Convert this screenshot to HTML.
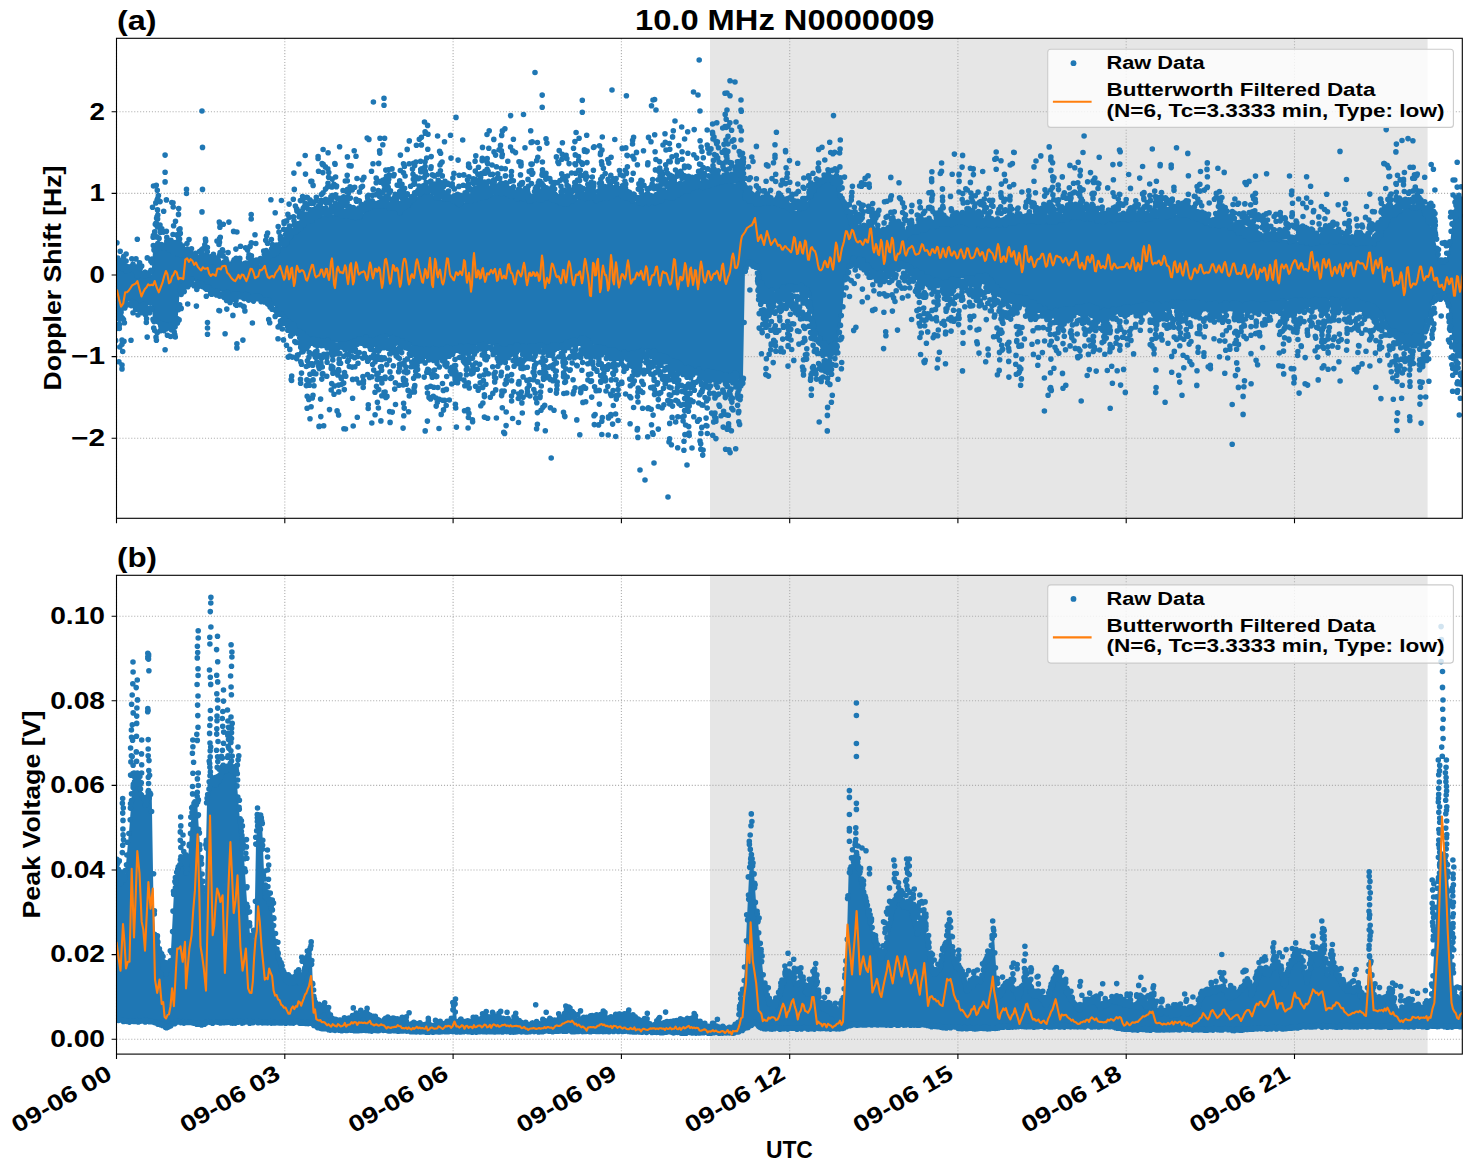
<!DOCTYPE html><html><head><meta charset="utf-8"><style>html,body{margin:0;padding:0;background:#fff;overflow:hidden;}svg{display:block;}text{font-family:"Liberation Sans",sans-serif;font-weight:bold;}</style></head><body><svg width="1472" height="1172" viewBox="0 0 1472 1172">
<rect width="1472" height="1172" fill="#fff"/>
<text x="117.0" y="30.0" font-weight="bold" font-size="27" textLength="39.5" lengthAdjust="spacingAndGlyphs">(a)</text>
<text x="635" y="30.4" font-weight="bold" font-size="29.5" textLength="299.5" lengthAdjust="spacingAndGlyphs">10.0 MHz N0000009</text>
<text x="117.0" y="567.0" font-weight="bold" font-size="27" textLength="40" lengthAdjust="spacingAndGlyphs">(b)</text>
<clipPath id="ca"><rect x="116.5" y="38.3" width="1345.8" height="479.99999999999994"/></clipPath>
<rect x="710.0" y="38.3" width="717.5999999999999" height="479.99999999999994" fill="#e6e6e6"/>
<path d="M116.5 38.3V518.3M284.8 38.3V518.3M453.1 38.3V518.3M621.4 38.3V518.3M789.7 38.3V518.3M957.9 38.3V518.3M1126.2 38.3V518.3M1294.5 38.3V518.3M116.5 111.8H1462.3M116.5 193.4H1462.3M116.5 275.0H1462.3M116.5 356.6H1462.3M116.5 438.2H1462.3" stroke="#b0b0b0" stroke-width="1.1" stroke-dasharray="1.1 1.85" fill="none"/>
<g clip-path="url(#ca)">
<path d="M110.0,267.0 L116.5,267.0 L121.5,267.0 L124.0,270.0 L130.0,270.0 L135.0,270.0 L136.5,275.0 L144.0,275.0 L151.5,275.0 L153.0,251.0 L160.0,247.0 L170.0,250.0 L177.5,254.0 L180.0,256.0 L190.0,256.0 L198.0,259.0 L205.0,261.0 L215.0,264.0 L222.5,267.0 L230.0,269.0 L241.6,269.0 L250.0,266.0 L260.0,264.0 L266.0,260.0 L272.0,256.0 L280.0,248.0 L288.0,240.0 L296.0,232.0 L304.0,224.0 L310.0,221.0 L319.0,215.6 L327.0,214.8 L335.0,214.0 L343.0,216.0 L351.0,216.0 L360.0,218.0 L367.0,208.0 L375.0,205.0 L384.0,207.0 L392.0,208.0 L400.0,212.0 L408.0,205.0 L416.0,198.0 L424.0,190.0 L432.0,194.0 L440.0,200.0 L448.0,200.0 L458.0,204.0 L467.0,202.0 L476.0,200.0 L485.0,196.0 L494.0,194.0 L503.0,192.0 L512.0,198.0 L521.0,198.0 L530.0,200.0 L539.0,200.0 L548.0,198.0 L557.0,200.0 L565.0,204.0 L574.0,200.0 L583.0,198.0 L592.0,200.0 L601.0,200.0 L610.0,196.0 L619.0,194.0 L629.0,200.0 L639.0,202.0 L649.0,204.0 L659.0,200.0 L669.0,198.0 L679.0,194.0 L688.0,190.0 L698.0,188.0 L708.0,186.0 L718.0,182.0 L728.0,180.0 L735.0,184.0 L740.0,170.0 L743.0,184.0 L745.0,196.0 L748.0,203.0 L752.0,201.0 L756.0,203.0 L760.0,203.0 L765.0,202.0 L771.0,202.0 L778.0,204.0 L784.0,207.0 L790.0,209.0 L797.0,211.0 L803.0,209.0 L808.0,201.0 L812.0,193.0 L816.0,187.0 L822.0,183.0 L827.0,181.0 L831.0,181.0 L838.0,185.0 L842.0,201.0 L845.0,209.0 L849.0,216.0 L853.0,231.0 L858.0,233.0 L863.0,233.0 L868.0,233.0 L874.0,233.0 L880.0,235.0 L886.0,237.0 L893.0,239.0 L900.0,240.0 L910.0,233.0 L921.0,231.0 L932.0,227.0 L942.0,224.0 L953.0,224.0 L964.0,224.0 L975.0,225.0 L985.0,226.0 L996.0,225.0 L1007.0,224.0 L1018.0,222.0 L1028.0,220.0 L1039.0,221.0 L1049.0,222.0 L1060.0,220.0 L1071.0,218.0 L1082.0,218.0 L1092.0,218.0 L1100.0,222.0 L1111.0,220.0 L1121.0,218.0 L1132.0,219.0 L1143.0,220.0 L1153.0,218.0 L1164.0,216.0 L1175.0,215.0 L1185.0,214.0 L1196.0,219.0 L1207.0,224.0 L1217.0,225.0 L1228.0,226.0 L1239.0,233.0 L1249.0,239.0 L1260.0,239.0 L1271.0,239.0 L1281.0,239.0 L1292.0,241.0 L1311.0,243.0 L1333.0,241.0 L1354.0,243.0 L1375.0,243.0 L1383.0,230.0 L1390.0,218.0 L1398.0,212.0 L1407.0,207.0 L1415.0,207.0 L1422.0,207.0 L1428.0,219.0 L1433.0,232.0 L1436.0,244.0 L1440.0,261.0 L1446.0,261.0 L1450.0,244.0 L1453.0,218.0 L1461.0,214.0 L1470.0,214.0 L1470.0,347.0 L1461.0,347.0 L1453.0,344.0 L1450.0,316.0 L1446.0,296.0 L1440.0,295.0 L1436.0,295.0 L1433.0,301.0 L1428.0,321.0 L1422.0,334.0 L1415.0,336.0 L1407.0,338.0 L1398.0,334.0 L1390.0,329.0 L1383.0,318.0 L1375.0,308.0 L1354.0,300.0 L1333.0,300.0 L1311.0,300.0 L1292.0,300.0 L1281.0,302.0 L1271.0,304.0 L1260.0,304.0 L1249.0,304.0 L1239.0,304.0 L1228.0,304.0 L1217.0,304.0 L1207.0,304.0 L1196.0,303.0 L1185.0,302.0 L1175.0,303.0 L1164.0,304.0 L1153.0,304.0 L1143.0,304.0 L1132.0,306.0 L1121.0,308.0 L1111.0,310.0 L1100.0,312.0 L1092.0,306.0 L1082.0,307.0 L1071.0,308.0 L1060.0,310.0 L1049.0,312.0 L1039.0,306.0 L1028.0,299.0 L1018.0,297.0 L1007.0,295.0 L996.0,286.0 L985.0,276.0 L975.0,277.0 L964.0,278.0 L953.0,280.0 L942.0,282.0 L932.0,279.0 L921.0,274.0 L910.0,267.0 L900.0,261.0 L893.0,266.0 L886.0,271.0 L880.0,273.0 L874.0,273.0 L868.0,267.0 L863.0,261.0 L858.0,259.0 L853.0,259.0 L849.0,270.0 L845.0,278.0 L842.0,314.0 L838.0,342.0 L831.0,346.0 L827.0,346.0 L822.0,342.0 L816.0,334.0 L812.0,316.0 L808.0,292.0 L803.0,286.0 L797.0,286.0 L790.0,286.0 L784.0,288.0 L778.0,291.0 L771.0,291.0 L765.0,288.0 L760.0,281.0 L756.0,266.0 L752.0,262.0 L748.0,264.0 L745.0,268.0 L743.0,376.0 L740.0,384.0 L735.0,372.0 L728.0,376.0 L718.0,374.0 L708.0,372.0 L698.0,370.0 L688.0,368.0 L679.0,364.0 L669.0,358.0 L659.0,354.0 L649.0,350.0 L639.0,352.0 L629.0,354.0 L619.0,352.0 L610.0,350.0 L601.0,348.0 L592.0,344.0 L583.0,338.0 L574.0,340.0 L565.0,344.0 L557.0,344.0 L548.0,346.0 L539.0,346.0 L530.0,346.0 L521.0,346.0 L512.0,346.0 L503.0,350.0 L494.0,346.0 L485.0,343.0 L476.0,346.0 L467.0,346.0 L458.0,346.0 L448.0,348.0 L440.0,349.0 L432.0,349.0 L424.0,349.0 L416.0,348.0 L408.0,344.0 L400.0,340.0 L392.0,338.0 L384.0,337.0 L375.0,340.0 L367.0,338.0 L360.0,338.0 L351.0,344.0 L343.0,344.0 L335.0,342.0 L327.0,340.9 L319.0,341.3 L310.0,339.0 L304.0,336.0 L296.0,328.0 L288.0,320.0 L280.0,312.0 L272.0,304.0 L266.0,299.0 L260.0,297.0 L250.0,296.0 L241.6,294.0 L230.0,294.0 L222.5,292.0 L215.0,291.0 L205.0,286.0 L198.0,282.0 L190.0,280.0 L180.0,288.0 L177.5,321.0 L170.0,326.0 L160.0,324.0 L153.0,319.0 L151.5,305.0 L144.0,305.0 L136.5,305.0 L135.0,301.0 L130.0,301.0 L124.0,302.0 L121.5,312.0 L116.5,312.0 L110.0,312.0Z" fill="#1f77b4"/>
<path d="M115.9 265.4h0M116.8 314.2h0M117.0 265.5h0M116.4 313.9h0M118.3 266.8h0M117.2 315.2h0M118.2 266.9h0M119.4 316.7h0M121.0 267.8h0M120.3 313.3h0M120.3 262.1h0M121.1 316.6h0M121.4 264.1h0M121.1 312.2h0M122.9 268.9h0M123.0 307.2h0M124.0 269.0h0M123.9 305.3h0M126.0 271.0h0M125.7 302.6h0M125.6 266.4h0M125.6 306.2h0M127.5 267.4h0M127.7 304.2h0M128.9 270.1h0M127.0 305.1h0M129.8 267.8h0M130.0 303.8h0M129.1 268.8h0M130.6 304.4h0M130.2 267.0h0M131.9 301.5h0M131.2 266.5h0M131.2 305.6h0M133.6 266.1h0M133.1 303.3h0M133.4 269.4h0M133.3 302.1h0M134.2 267.5h0M134.4 304.4h0M136.9 273.2h0M135.6 303.4h0M136.4 272.4h0M137.7 306.1h0M137.2 275.9h0M137.4 308.5h0M139.5 272.0h0M138.6 309.6h0M139.2 273.5h0M139.5 306.4h0M140.7 272.7h0M141.9 307.1h0M142.1 275.2h0M141.4 309.1h0M143.8 274.9h0M142.5 308.9h0M144.5 275.6h0M143.4 304.3h0M145.8 273.6h0M144.8 309.4h0M145.1 275.8h0M145.5 305.8h0M146.5 274.9h0M147.2 308.2h0M147.4 274.3h0M147.1 308.6h0M149.1 275.1h0M149.2 308.3h0M150.8 271.2h0M149.0 308.4h0M150.9 270.4h0M150.4 307.8h0M152.1 262.8h0M151.7 309.3h0M154.0 249.9h0M153.4 320.5h0M153.3 245.6h0M153.0 319.3h0M155.4 250.6h0M154.0 321.6h0M156.0 248.7h0M155.6 320.1h0M156.2 247.0h0M157.5 321.5h0M158.5 247.4h0M158.6 322.1h0M158.7 246.7h0M159.8 323.1h0M159.8 246.7h0M160.7 325.6h0M161.2 244.6h0M161.2 325.5h0M161.2 246.4h0M163.0 324.1h0M163.5 245.2h0M163.5 326.1h0M163.9 248.2h0M163.2 325.3h0M164.1 247.1h0M165.0 328.6h0M166.4 246.8h0M166.2 324.7h0M166.5 244.2h0M166.6 326.3h0M167.4 245.4h0M168.8 326.6h0M168.9 250.1h0M168.7 326.8h0M169.4 247.6h0M170.6 325.5h0M171.8 247.8h0M171.2 328.4h0M171.3 249.0h0M172.7 324.6h0M173.4 252.3h0M172.6 328.0h0M173.9 248.8h0M173.4 325.8h0M175.3 250.6h0M174.6 322.6h0M177.0 250.9h0M175.1 326.8h0M177.7 249.0h0M177.4 322.9h0M177.6 254.1h0M177.0 318.6h0M178.9 250.3h0M179.7 304.8h0M179.3 251.3h0M180.3 290.3h0M181.3 254.9h0M181.6 286.4h0M182.4 252.2h0M182.0 290.3h0M182.0 253.8h0M183.4 289.5h0M183.5 253.1h0M184.4 286.7h0M185.2 255.5h0M184.8 284.2h0M186.8 251.5h0M186.9 283.9h0M186.3 253.7h0M187.3 281.9h0M187.8 254.4h0M188.8 281.8h0M189.9 253.8h0M189.3 284.6h0M190.4 255.9h0M190.3 280.7h0M190.4 256.8h0M192.0 279.4h0M192.1 256.5h0M191.6 280.0h0M193.7 254.2h0M192.2 283.1h0M194.1 257.1h0M194.0 285.8h0M195.6 253.3h0M195.6 285.2h0M195.7 258.0h0M195.3 285.6h0M197.0 258.0h0M197.7 282.6h0M198.9 257.0h0M198.9 286.5h0M198.4 257.4h0M198.6 283.2h0M200.3 257.7h0M200.7 284.8h0M200.6 257.1h0M201.7 283.3h0M201.4 260.2h0M202.9 286.1h0M203.1 256.6h0M203.1 286.8h0M204.2 255.9h0M204.9 287.3h0M204.8 260.8h0M205.1 288.1h0M206.4 256.7h0M206.1 289.0h0M207.9 262.1h0M206.5 289.2h0M207.3 259.5h0M208.6 287.1h0M209.0 259.1h0M208.4 289.3h0M210.9 258.3h0M210.6 293.4h0M210.4 259.2h0M211.4 292.1h0M211.7 261.8h0M211.2 290.1h0M212.2 261.5h0M212.5 293.8h0M214.1 261.3h0M213.8 293.0h0M215.1 260.0h0M214.4 292.2h0M216.3 262.6h0M216.7 292.5h0M217.7 261.2h0M217.5 291.4h0M218.8 262.1h0M217.6 290.9h0M218.4 266.6h0M219.8 295.7h0M219.5 265.4h0M219.5 296.1h0M221.7 263.9h0M221.6 296.0h0M221.8 265.9h0M221.0 295.7h0M223.4 267.6h0M223.9 296.4h0M224.0 266.9h0M224.0 293.3h0M224.4 263.1h0M224.2 297.4h0M226.1 266.0h0M226.1 297.1h0M226.4 264.4h0M227.7 292.3h0M228.9 264.0h0M227.1 292.8h0M228.9 268.3h0M228.7 295.9h0M230.0 266.6h0M230.2 298.9h0M231.4 269.1h0M230.4 296.3h0M232.5 266.4h0M231.4 298.0h0M233.0 264.1h0M233.8 294.2h0M234.4 269.2h0M234.3 296.6h0M235.2 267.0h0M236.0 294.2h0M235.5 269.5h0M236.5 294.3h0M237.6 266.4h0M237.8 293.7h0M238.4 268.6h0M238.5 296.6h0M239.4 264.4h0M238.7 296.2h0M239.0 266.1h0M240.3 295.3h0M240.5 269.7h0M241.3 297.0h0M242.3 267.3h0M242.1 296.8h0M244.0 267.4h0M243.4 294.8h0M245.0 263.3h0M244.2 295.1h0M244.5 265.2h0M244.1 298.6h0M245.8 263.0h0M245.5 294.6h0M247.1 265.1h0M247.9 296.9h0M249.0 265.5h0M248.6 300.1h0M249.2 265.9h0M248.1 295.2h0M249.3 263.8h0M249.3 298.0h0M251.2 261.2h0M251.9 298.6h0M252.1 264.2h0M251.7 299.5h0M253.3 263.8h0M252.6 297.0h0M253.6 260.3h0M253.5 301.1h0M254.3 264.5h0M254.8 296.1h0M256.5 260.1h0M257.0 295.9h0M256.1 265.0h0M256.9 298.8h0M258.9 260.9h0M258.0 296.2h0M259.4 262.0h0M260.0 297.0h0M260.2 259.7h0M260.2 299.3h0M260.4 258.6h0M261.1 301.6h0M261.9 261.7h0M261.9 301.1h0M263.2 259.5h0M263.6 299.8h0M265.0 262.0h0M264.5 301.9h0M264.2 261.0h0M265.6 299.9h0M265.7 256.6h0M266.4 300.6h0M267.2 258.1h0M267.5 303.7h0M267.5 259.5h0M268.8 300.4h0M268.1 253.4h0M268.5 303.9h0M270.2 252.9h0M270.1 306.9h0M270.2 255.7h0M271.1 304.4h0M271.7 253.9h0M271.4 306.9h0M273.5 255.0h0M272.1 309.3h0M274.6 252.7h0M274.5 309.7h0M274.8 249.5h0M275.6 309.8h0M276.3 252.9h0M275.7 309.7h0M277.5 251.5h0M276.9 311.8h0M277.2 250.3h0M277.2 314.5h0M279.1 246.9h0M279.4 314.2h0M280.6 243.5h0M279.4 313.0h0M280.2 243.8h0M281.4 313.8h0M281.6 241.9h0M281.7 314.6h0M282.7 240.7h0M283.4 316.6h0M284.8 244.6h0M284.8 318.4h0M285.6 239.8h0M284.6 319.6h0M286.9 242.4h0M285.5 320.8h0M286.7 238.2h0M286.8 321.7h0M287.4 238.4h0M288.6 321.8h0M289.7 237.4h0M288.4 321.4h0M290.8 234.7h0M289.0 323.9h0M291.1 235.4h0M291.9 324.1h0M292.6 231.4h0M292.1 324.3h0M292.2 230.5h0M293.5 324.6h0M293.2 232.8h0M293.3 326.5h0M295.3 229.5h0M294.4 327.4h0M296.0 231.6h0M295.8 331.0h0M297.9 230.0h0M297.0 330.8h0M298.4 229.2h0M298.8 332.5h0M299.7 228.0h0M299.7 331.2h0M300.7 228.3h0M300.9 333.2h0M301.0 226.3h0M301.6 335.5h0M301.8 221.9h0M302.5 333.1h0M302.8 221.0h0M302.4 337.5h0M303.6 224.8h0M303.1 339.1h0M304.2 222.4h0M305.6 340.4h0M305.1 220.8h0M306.2 336.5h0M306.1 218.2h0M306.4 341.2h0M307.5 221.3h0M308.2 341.7h0M308.4 218.2h0M308.3 339.0h0M309.6 219.3h0M310.6 341.1h0M310.5 220.7h0M311.8 342.2h0M312.1 220.5h0M312.0 343.2h0M312.1 219.9h0M313.6 342.5h0M314.1 216.7h0M313.5 339.1h0M315.3 214.4h0M314.0 342.4h0M315.7 217.2h0M316.4 341.9h0M316.3 212.7h0M316.6 344.2h0M318.7 214.3h0M318.3 340.1h0M318.5 213.8h0M318.3 341.7h0M319.0 215.4h0M320.7 341.3h0M320.2 212.0h0M321.4 345.6h0M322.0 213.1h0M322.9 342.6h0M323.7 212.0h0M323.6 343.6h0M324.8 210.6h0M324.7 344.8h0M325.1 213.2h0M324.3 341.0h0M325.6 211.8h0M325.2 344.1h0M326.9 214.1h0M326.7 341.8h0M327.2 212.1h0M327.9 340.2h0M329.7 213.5h0M328.0 343.9h0M330.4 210.9h0M330.1 343.6h0M330.0 215.3h0M331.6 345.2h0M332.2 211.0h0M331.8 343.3h0M332.6 211.2h0M332.8 342.7h0M333.5 210.3h0M334.5 344.9h0M335.9 212.4h0M335.4 345.0h0M336.7 209.8h0M335.3 346.7h0M337.4 213.7h0M336.4 345.1h0M338.7 213.3h0M337.2 346.4h0M338.3 210.7h0M338.8 347.6h0M340.8 212.8h0M340.0 344.4h0M341.5 215.4h0M340.8 346.5h0M341.8 210.8h0M341.8 344.6h0M344.0 215.7h0M343.3 345.3h0M343.0 213.0h0M343.7 345.1h0M344.2 213.3h0M345.0 344.3h0M346.7 214.7h0M345.3 344.4h0M347.8 214.3h0M346.7 346.0h0M347.3 215.3h0M349.0 345.9h0M349.4 216.0h0M348.4 343.3h0M350.3 212.2h0M349.2 347.5h0M351.2 215.2h0M350.7 343.4h0M351.7 214.0h0M351.2 342.5h0M352.3 216.9h0M353.1 344.3h0M354.1 213.3h0M354.8 341.0h0M355.6 215.5h0M354.2 341.4h0M355.6 217.5h0M355.5 342.2h0M357.7 213.4h0M357.1 344.5h0M357.1 213.6h0M359.0 338.7h0M359.3 214.6h0M359.3 339.2h0M359.8 216.6h0M360.6 342.9h0M360.4 214.4h0M360.3 340.7h0M362.1 211.2h0M362.0 341.4h0M363.1 210.7h0M363.3 342.8h0M364.3 208.2h0M364.9 339.4h0M364.9 208.3h0M365.2 338.9h0M366.5 208.9h0M366.0 337.0h0M367.7 208.1h0M366.8 340.4h0M368.1 208.1h0M368.1 340.1h0M368.9 207.7h0M368.6 343.2h0M370.5 207.3h0M370.5 340.2h0M371.5 203.3h0M371.2 343.6h0M371.2 203.8h0M372.0 341.9h0M372.1 204.9h0M373.1 343.1h0M373.6 202.7h0M373.5 344.3h0M375.8 205.8h0M375.3 339.8h0M375.8 205.1h0M375.4 340.2h0M377.1 205.9h0M376.2 339.6h0M377.2 203.9h0M378.9 344.0h0M378.5 202.7h0M378.6 343.3h0M380.8 206.0h0M379.8 341.2h0M381.2 201.6h0M380.1 337.6h0M381.6 204.5h0M382.9 336.8h0M382.9 203.0h0M382.6 336.8h0M384.8 203.2h0M384.7 339.9h0M384.9 203.2h0M385.8 336.2h0M385.4 206.0h0M385.4 337.0h0M386.1 203.0h0M387.5 340.5h0M388.8 207.7h0M388.4 341.7h0M389.4 208.3h0M388.9 342.2h0M389.4 204.6h0M390.4 341.6h0M390.4 204.3h0M391.3 338.1h0M391.7 207.0h0M392.8 339.5h0M392.5 205.3h0M393.9 339.2h0M393.6 207.8h0M393.2 337.6h0M394.9 207.7h0M395.1 343.5h0M396.2 206.7h0M395.5 339.2h0M396.2 207.2h0M397.5 342.8h0M397.6 209.3h0M397.4 339.1h0M400.0 206.7h0M398.9 340.2h0M399.8 212.6h0M400.0 343.9h0M401.1 210.0h0M400.7 341.6h0M402.6 208.4h0M402.0 340.9h0M403.4 207.5h0M403.9 345.5h0M404.6 204.5h0M404.2 345.6h0M404.9 207.3h0M405.6 342.8h0M405.5 204.7h0M405.4 344.5h0M407.0 201.1h0M407.2 344.2h0M408.1 205.2h0M407.4 348.1h0M408.0 202.1h0M408.9 346.8h0M409.5 203.0h0M409.1 344.6h0M411.1 200.6h0M411.6 349.1h0M411.3 198.4h0M411.1 349.1h0M413.2 198.8h0M412.5 348.0h0M413.2 199.7h0M413.3 350.5h0M414.3 198.0h0M415.7 347.8h0M415.1 195.5h0M415.7 351.7h0M417.9 192.3h0M417.0 348.6h0M419.0 191.9h0M417.9 348.8h0M418.1 191.4h0M419.8 352.5h0M419.8 190.8h0M419.8 353.0h0M420.1 194.0h0M421.5 349.2h0M421.5 188.5h0M422.1 352.3h0M422.9 191.6h0M422.7 351.9h0M425.0 188.7h0M423.1 351.6h0M425.3 185.9h0M424.7 349.8h0M426.7 189.5h0M426.8 351.2h0M426.8 191.6h0M426.8 349.3h0M427.4 189.1h0M427.4 350.7h0M428.3 188.7h0M428.4 351.2h0M429.6 190.7h0M431.0 349.9h0M431.7 189.7h0M430.8 353.6h0M432.4 191.2h0M431.5 353.9h0M432.4 191.3h0M432.8 348.5h0M434.4 192.1h0M433.7 353.1h0M435.9 193.4h0M435.5 349.7h0M436.8 192.1h0M435.6 351.7h0M436.2 198.0h0M436.7 349.4h0M438.0 193.8h0M437.8 352.6h0M438.1 195.2h0M439.2 353.8h0M439.6 197.5h0M440.1 353.2h0M441.4 196.6h0M441.5 349.9h0M441.3 196.2h0M441.6 349.5h0M442.8 197.3h0M443.7 352.3h0M443.6 197.1h0M443.4 353.3h0M444.0 198.8h0M445.1 348.5h0M447.0 196.8h0M446.3 347.7h0M446.4 199.1h0M447.3 347.4h0M448.7 196.4h0M448.3 352.5h0M448.9 197.8h0M448.1 350.5h0M449.7 198.8h0M449.6 351.6h0M450.8 199.1h0M450.3 348.4h0M451.5 197.2h0M451.7 349.7h0M452.3 200.5h0M453.4 348.7h0M454.4 197.5h0M453.8 349.6h0M454.1 200.2h0M454.1 348.6h0M456.2 201.0h0M455.7 349.9h0M456.0 200.7h0M457.8 347.8h0M457.5 203.0h0M457.4 348.2h0M459.2 204.5h0M458.7 347.5h0M460.9 203.2h0M460.3 347.3h0M460.8 200.8h0M460.6 346.0h0M462.8 200.4h0M462.8 350.8h0M462.3 200.9h0M462.6 348.8h0M465.0 198.6h0M463.4 349.6h0M465.4 198.9h0M464.0 347.7h0M465.8 198.7h0M466.0 347.1h0M467.1 200.7h0M467.1 346.0h0M468.9 198.8h0M467.7 345.7h0M468.6 200.9h0M469.4 346.9h0M470.9 201.3h0M469.3 347.3h0M471.0 199.5h0M470.7 349.3h0M472.5 199.1h0M471.5 349.5h0M472.6 196.7h0M473.0 350.2h0M473.1 195.9h0M473.2 346.8h0M474.2 197.9h0M475.5 348.1h0M475.3 200.2h0M476.7 350.7h0M476.5 197.6h0M477.6 348.3h0M478.4 195.6h0M478.4 348.4h0M478.7 198.2h0M479.7 345.0h0M480.1 195.7h0M480.4 345.9h0M481.7 197.6h0M480.3 347.1h0M482.3 193.7h0M481.4 348.9h0M483.2 197.5h0M483.9 347.9h0M484.4 194.0h0M484.3 346.0h0M485.9 196.9h0M484.1 343.7h0M485.2 191.0h0M485.6 343.9h0M488.0 191.3h0M486.7 348.5h0M488.1 193.2h0M487.7 347.1h0M489.6 195.1h0M488.6 347.0h0M490.2 194.5h0M491.0 347.3h0M491.4 192.9h0M491.6 349.1h0M491.4 190.1h0M492.9 348.8h0M493.0 189.9h0M492.6 350.6h0M494.1 189.9h0M494.3 349.4h0M494.5 191.7h0M494.7 349.9h0M495.1 188.9h0M496.8 350.0h0M496.2 189.4h0M497.0 346.4h0M497.4 193.3h0M498.0 350.3h0M499.6 190.3h0M498.1 349.9h0M500.3 191.4h0M499.6 348.0h0M501.7 193.4h0M500.9 349.1h0M502.4 188.3h0M501.1 353.5h0M502.2 187.4h0M502.7 350.5h0M503.6 190.8h0M503.0 353.3h0M505.9 188.4h0M505.1 349.3h0M506.6 193.4h0M505.8 348.8h0M507.7 194.3h0M508.0 352.6h0M508.9 192.7h0M508.4 351.3h0M509.8 191.1h0M509.2 351.0h0M509.8 193.9h0M510.3 347.0h0M510.7 196.2h0M510.7 349.8h0M512.8 194.9h0M511.2 349.0h0M513.5 194.3h0M513.5 347.7h0M514.4 194.1h0M513.2 350.1h0M514.7 195.6h0M514.0 348.0h0M515.8 194.9h0M516.1 345.3h0M516.4 198.3h0M516.6 346.5h0M517.2 198.9h0M517.9 345.2h0M518.4 195.4h0M519.4 349.9h0M519.5 197.1h0M520.9 349.1h0M520.4 195.1h0M522.0 350.1h0M522.3 195.5h0M522.3 349.7h0M523.2 198.8h0M523.7 347.2h0M524.0 197.1h0M523.2 346.0h0M525.4 196.6h0M525.3 348.5h0M525.8 195.5h0M526.2 347.6h0M527.0 194.5h0M527.3 348.3h0M528.2 198.1h0M528.9 350.1h0M528.9 200.7h0M529.5 349.1h0M530.5 200.9h0M529.8 345.8h0M530.3 200.9h0M531.0 349.6h0M532.7 198.9h0M532.9 346.0h0M533.6 198.1h0M534.0 350.6h0M534.7 199.3h0M533.5 346.2h0M534.9 198.2h0M535.7 349.8h0M535.6 198.9h0M535.1 347.7h0M537.6 197.9h0M536.5 346.2h0M538.7 199.6h0M538.1 345.6h0M539.6 195.9h0M538.7 350.4h0M539.1 196.9h0M540.7 346.0h0M540.2 195.6h0M540.8 345.9h0M542.2 199.7h0M541.1 345.1h0M542.4 197.9h0M543.8 346.6h0M543.4 197.9h0M543.9 350.9h0M544.7 195.6h0M545.3 349.3h0M546.2 197.6h0M545.4 350.2h0M547.4 196.0h0M546.3 350.3h0M548.9 196.7h0M547.7 349.8h0M550.0 197.4h0M549.5 348.6h0M549.6 195.9h0M549.3 346.8h0M550.8 198.6h0M550.8 347.6h0M552.0 199.5h0M551.7 345.9h0M552.5 197.6h0M552.6 344.7h0M553.6 199.5h0M554.4 346.9h0M555.9 196.9h0M555.5 345.8h0M555.9 195.2h0M555.8 347.5h0M556.9 200.7h0M556.6 344.8h0M558.3 197.0h0M557.8 348.2h0M559.8 197.5h0M558.8 347.0h0M560.6 201.6h0M560.2 345.7h0M560.2 202.4h0M560.2 346.8h0M561.7 201.8h0M562.3 346.9h0M563.8 203.7h0M562.0 345.2h0M563.9 200.7h0M563.9 347.1h0M565.3 202.6h0M565.9 343.1h0M567.0 200.9h0M566.7 344.7h0M567.4 204.1h0M566.1 345.3h0M567.8 201.6h0M567.4 341.7h0M568.4 199.4h0M568.3 344.9h0M570.5 197.3h0M569.3 342.9h0M571.2 200.8h0M570.5 341.5h0M572.5 200.5h0M571.2 343.1h0M572.0 200.6h0M573.9 340.1h0M573.0 197.1h0M574.1 341.8h0M574.2 199.5h0M574.6 341.7h0M575.2 198.0h0M575.3 344.0h0M577.0 196.1h0M577.6 342.9h0M577.8 194.4h0M577.4 341.4h0M579.1 196.6h0M579.7 343.3h0M580.7 194.6h0M580.9 340.5h0M580.8 197.1h0M581.7 337.7h0M581.8 193.3h0M581.3 338.3h0M583.5 197.3h0M582.3 339.8h0M583.1 193.9h0M583.6 337.9h0M585.3 198.5h0M584.1 341.8h0M585.2 195.2h0M585.2 339.5h0M586.7 196.8h0M587.3 340.3h0M588.9 197.5h0M588.0 340.9h0M588.8 196.1h0M589.5 345.5h0M589.7 197.1h0M590.0 345.5h0M590.9 197.5h0M590.1 343.3h0M591.1 198.2h0M592.1 346.6h0M592.4 195.6h0M592.7 347.6h0M594.0 196.4h0M594.5 347.0h0M594.0 197.4h0M595.9 350.3h0M596.2 200.8h0M595.7 347.2h0M596.7 196.8h0M597.2 347.7h0M597.6 198.0h0M598.0 347.1h0M598.1 195.6h0M598.5 350.5h0M600.6 197.6h0M600.7 350.1h0M600.6 199.1h0M600.2 347.1h0M602.7 196.5h0M601.6 348.3h0M603.6 198.0h0M602.1 348.9h0M603.1 197.4h0M604.1 348.1h0M605.3 193.4h0M605.9 349.4h0M606.2 192.8h0M606.5 351.6h0M607.4 198.2h0M607.8 353.9h0M608.6 194.5h0M608.5 352.3h0M608.9 194.1h0M608.2 352.9h0M610.5 191.4h0M609.2 350.0h0M611.3 194.1h0M610.2 354.5h0M611.6 196.3h0M612.1 349.9h0M612.4 192.8h0M613.1 350.6h0M613.2 195.4h0M613.9 355.7h0M614.9 192.2h0M615.3 350.5h0M616.0 193.8h0M615.8 351.7h0M616.2 193.9h0M616.3 353.0h0M617.4 191.3h0M617.3 354.7h0M619.2 192.1h0M618.8 353.6h0M620.7 191.7h0M620.2 354.3h0M622.0 192.2h0M621.4 356.0h0M621.5 195.2h0M622.1 356.1h0M622.1 196.3h0M622.8 353.5h0M623.9 195.7h0M624.1 352.1h0M625.8 195.3h0M625.0 356.8h0M626.5 193.8h0M625.6 353.3h0M626.1 198.0h0M627.1 355.3h0M627.7 195.3h0M628.9 354.2h0M629.6 195.6h0M629.6 357.7h0M629.4 198.4h0M630.2 358.1h0M631.5 198.9h0M631.8 353.1h0M632.4 197.8h0M632.9 354.1h0M632.6 200.9h0M633.5 356.6h0M633.5 196.1h0M634.1 356.5h0M634.6 197.7h0M634.3 354.9h0M635.5 198.1h0M635.6 354.5h0M637.7 197.6h0M637.7 352.3h0M638.2 200.1h0M638.5 354.0h0M639.3 202.5h0M639.6 355.4h0M639.1 202.8h0M639.7 352.1h0M640.5 200.1h0M640.7 352.2h0M642.9 200.6h0M642.1 354.3h0M642.5 203.5h0M642.2 350.6h0M644.3 198.4h0M644.8 355.4h0M645.1 198.9h0M646.0 353.9h0M646.7 198.8h0M646.3 355.2h0M646.1 202.0h0M648.0 351.3h0M648.7 203.5h0M648.0 354.7h0M649.1 200.1h0M649.1 352.9h0M650.0 199.8h0M650.4 352.9h0M651.0 198.7h0M651.0 352.5h0M652.9 201.2h0M651.3 354.4h0M652.7 201.6h0M653.9 350.7h0M654.9 202.6h0M654.7 351.4h0M654.0 199.5h0M655.2 353.3h0M656.2 199.9h0M656.9 357.3h0M657.0 201.6h0M656.1 357.5h0M658.7 201.1h0M657.0 358.4h0M659.7 199.1h0M659.0 355.5h0M660.5 199.6h0M659.0 359.0h0M661.6 200.5h0M661.7 357.4h0M661.7 196.5h0M661.0 355.6h0M662.5 197.7h0M663.1 358.6h0M664.3 196.7h0M663.5 355.7h0M664.4 194.7h0M664.5 358.5h0M666.6 195.6h0M665.5 357.9h0M666.5 196.5h0M666.5 356.9h0M667.4 194.6h0M667.6 360.6h0M669.5 197.0h0M669.6 359.8h0M669.2 197.2h0M669.5 362.3h0M670.8 198.1h0M670.7 362.1h0M672.8 197.7h0M671.8 364.0h0M673.6 196.1h0M672.7 360.7h0M673.8 192.7h0M674.2 361.6h0M675.0 195.5h0M674.0 363.6h0M675.8 190.6h0M676.8 366.3h0M676.4 195.1h0M677.9 362.2h0M677.7 195.0h0M677.3 364.1h0M679.9 190.2h0M678.3 364.9h0M680.8 192.9h0M680.9 366.7h0M680.7 188.8h0M680.5 364.3h0M681.1 188.8h0M681.7 370.0h0M682.6 188.3h0M682.2 367.6h0M684.1 190.2h0M684.5 368.1h0M685.9 186.8h0M684.4 371.2h0M685.6 190.5h0M686.8 369.1h0M686.3 187.4h0M687.1 370.8h0M688.6 190.8h0M687.9 369.4h0M689.7 187.6h0M688.4 367.5h0M691.0 184.7h0M690.5 371.0h0M690.1 185.4h0M690.3 369.2h0M691.4 184.3h0M691.4 369.0h0M693.0 187.9h0M692.9 372.9h0M693.0 185.6h0M693.1 372.6h0M695.2 185.8h0M694.9 370.7h0M695.6 185.5h0M696.8 371.1h0M696.8 186.4h0M696.9 372.8h0M698.8 184.4h0M698.9 369.9h0M699.8 183.8h0M699.0 369.3h0M699.6 183.6h0M700.4 374.0h0M701.2 183.3h0M701.9 373.9h0M701.2 186.3h0M701.7 372.4h0M703.0 187.5h0M703.0 373.7h0M703.0 184.8h0M703.5 372.8h0M705.3 184.4h0M704.2 373.4h0M706.0 185.2h0M706.9 374.9h0M706.9 181.7h0M707.6 375.4h0M708.7 185.8h0M707.5 371.6h0M709.0 183.2h0M709.1 371.5h0M710.0 183.1h0M709.6 372.4h0M711.0 181.9h0M710.4 376.3h0M712.7 184.2h0M713.0 372.3h0M713.4 183.8h0M713.4 373.1h0M714.6 179.7h0M714.6 376.4h0M714.5 183.7h0M714.0 375.3h0M715.7 182.6h0M716.2 373.1h0M717.9 181.3h0M716.1 374.8h0M717.2 182.9h0M718.7 377.1h0M718.4 181.0h0M719.5 373.3h0M720.2 177.4h0M720.5 379.0h0M721.7 181.0h0M721.6 374.4h0M722.1 181.9h0M722.3 376.8h0M722.8 178.1h0M722.0 379.0h0M724.6 177.2h0M724.3 375.5h0M725.4 178.7h0M724.6 378.8h0M725.4 179.3h0M726.4 374.9h0M726.7 180.8h0M727.8 379.1h0M728.9 178.7h0M728.9 376.4h0M728.7 177.2h0M729.0 377.5h0M729.1 181.3h0M730.1 377.0h0M731.5 178.2h0M730.4 375.8h0M731.5 179.3h0M731.1 378.4h0M732.7 181.0h0M733.9 374.3h0M733.8 180.9h0M733.5 374.7h0M735.9 179.7h0M734.9 372.9h0M736.5 179.5h0M736.3 373.8h0M737.8 174.9h0M737.1 375.8h0M738.1 171.7h0M738.5 383.9h0M738.3 171.1h0M738.5 382.3h0M740.5 166.9h0M740.5 385.1h0M741.4 172.4h0M740.9 385.7h0M741.9 180.1h0M742.8 383.3h0M742.1 180.6h0M743.4 378.4h0M743.3 187.6h0M744.1 322.5h0M744.8 194.9h0M745.4 269.3h0M745.1 197.6h0M745.3 271.3h0M746.9 195.8h0M746.1 268.0h0M747.9 198.6h0M748.9 263.9h0M749.0 201.0h0M748.6 262.6h0M749.2 198.8h0M749.4 262.8h0M751.0 199.0h0M750.8 262.2h0M751.5 200.7h0M752.4 264.3h0M752.7 199.1h0M752.9 266.1h0M754.2 199.5h0M753.6 264.4h0M754.9 200.3h0M755.8 267.3h0M755.8 203.4h0M757.0 266.3h0M756.8 202.0h0M757.5 273.0h0M758.4 203.7h0M758.3 274.5h0M758.9 201.9h0M758.5 277.6h0M760.1 203.9h0M759.7 281.7h0M760.0 200.3h0M761.5 285.8h0M762.2 198.9h0M761.8 282.8h0M762.4 202.9h0M762.1 286.7h0M764.6 202.2h0M763.8 288.1h0M765.4 201.6h0M765.5 289.5h0M765.5 201.2h0M766.1 290.2h0M768.0 197.8h0M767.6 292.1h0M768.5 202.7h0M767.5 291.1h0M769.1 200.0h0M768.3 291.2h0M770.8 201.0h0M769.6 290.7h0M770.8 197.9h0M771.2 293.2h0M772.1 203.2h0M772.1 290.3h0M772.7 202.1h0M772.2 294.2h0M774.4 202.0h0M774.7 293.7h0M774.5 200.3h0M775.1 295.9h0M775.7 202.4h0M775.3 294.1h0M777.7 204.3h0M776.5 294.9h0M777.2 199.5h0M778.6 291.6h0M778.5 202.4h0M779.4 295.3h0M780.6 205.2h0M779.4 290.8h0M781.4 202.5h0M781.8 293.2h0M781.9 202.9h0M781.9 289.1h0M783.1 205.2h0M784.0 292.2h0M783.4 205.7h0M783.3 287.2h0M784.7 205.0h0M784.9 287.7h0M786.8 206.7h0M785.3 290.2h0M787.4 204.3h0M787.8 286.8h0M787.5 205.5h0M787.5 287.4h0M788.1 207.8h0M788.1 286.3h0M790.1 207.5h0M789.2 290.7h0M790.7 210.2h0M791.2 285.8h0M791.1 205.2h0M791.0 286.8h0M792.4 206.5h0M793.3 286.8h0M793.6 207.9h0M793.6 287.6h0M794.7 207.6h0M794.5 289.2h0M795.5 205.8h0M795.6 287.4h0M796.5 206.7h0M797.7 288.2h0M798.0 207.5h0M798.8 286.5h0M799.2 209.3h0M799.4 288.0h0M799.8 207.3h0M800.0 288.2h0M801.1 207.9h0M801.6 285.6h0M801.4 204.5h0M801.6 290.8h0M803.6 207.7h0M802.6 289.9h0M804.7 207.4h0M804.4 288.0h0M805.5 203.5h0M804.8 290.1h0M806.8 205.1h0M806.8 289.6h0M806.1 199.1h0M807.9 292.5h0M808.0 197.9h0M808.7 293.9h0M810.0 194.5h0M810.0 302.9h0M809.3 194.3h0M810.3 308.3h0M811.1 195.6h0M810.9 310.4h0M812.2 191.5h0M811.3 318.2h0M813.8 190.5h0M812.4 322.8h0M814.1 187.0h0M814.2 326.2h0M814.0 184.8h0M815.3 333.2h0M815.1 186.6h0M815.7 333.3h0M817.1 181.9h0M817.3 338.8h0M818.6 185.0h0M818.5 341.3h0M818.1 184.8h0M818.3 341.8h0M819.1 180.3h0M819.9 338.6h0M820.6 180.2h0M821.7 344.6h0M822.3 181.7h0M822.9 346.7h0M823.1 179.9h0M823.6 346.3h0M824.4 178.3h0M824.0 342.8h0M824.5 178.5h0M825.8 345.4h0M825.1 177.5h0M825.5 348.5h0M827.7 180.2h0M828.0 347.0h0M828.3 178.3h0M828.4 348.0h0M828.1 179.0h0M828.8 347.8h0M829.1 176.2h0M831.0 348.8h0M830.7 176.9h0M831.2 345.5h0M831.4 179.6h0M832.0 345.8h0M833.1 178.6h0M832.4 345.5h0M833.2 182.9h0M833.1 348.1h0M834.9 183.3h0M835.2 344.2h0M836.5 183.2h0M835.1 343.2h0M836.3 180.4h0M836.1 347.4h0M838.8 182.3h0M837.2 346.7h0M839.7 187.6h0M839.8 339.8h0M839.2 189.7h0M839.4 332.3h0M840.4 195.8h0M840.3 325.0h0M842.1 198.3h0M841.3 315.6h0M843.0 201.0h0M842.9 306.8h0M844.2 202.5h0M843.7 294.9h0M845.8 207.5h0M844.8 279.7h0M846.9 206.5h0M845.8 276.8h0M846.7 211.7h0M847.8 278.8h0M847.6 211.0h0M848.5 272.3h0M849.4 216.5h0M848.4 272.6h0M850.7 219.3h0M849.2 266.4h0M851.5 223.7h0M850.7 265.9h0M852.9 227.6h0M852.2 261.4h0M854.0 231.0h0M853.3 258.2h0M853.3 228.8h0M854.1 263.2h0M855.6 227.2h0M855.3 262.3h0M855.6 230.8h0M855.4 261.3h0M857.7 233.5h0M856.5 261.8h0M858.4 229.1h0M858.7 262.8h0M859.1 230.0h0M858.0 264.4h0M859.0 230.0h0M859.6 258.9h0M861.3 228.4h0M861.4 263.8h0M862.0 232.3h0M862.7 260.0h0M862.8 229.9h0M862.8 264.1h0M864.5 230.8h0M864.4 266.3h0M865.6 233.8h0M864.4 264.7h0M865.3 228.2h0M865.8 268.5h0M867.5 231.4h0M867.3 265.0h0M867.1 228.6h0M867.1 269.2h0M869.6 232.1h0M869.1 267.9h0M869.7 228.7h0M870.3 273.8h0M870.5 228.2h0M870.3 274.6h0M872.1 228.8h0M872.2 271.1h0M872.7 228.7h0M873.3 272.6h0M874.8 231.3h0M874.2 272.8h0M875.4 234.2h0M874.6 273.4h0M876.3 231.5h0M875.0 275.1h0M876.5 232.6h0M877.0 274.9h0M877.1 230.1h0M878.2 273.9h0M880.0 234.4h0M878.6 275.3h0M880.0 234.8h0M879.8 272.5h0M881.0 232.7h0M881.0 275.5h0M883.0 230.9h0M881.8 276.9h0M883.4 231.9h0M882.3 274.5h0M884.2 235.9h0M883.9 274.9h0M884.7 237.0h0M884.4 276.3h0M886.8 234.9h0M885.3 275.2h0M887.8 236.8h0M886.1 271.2h0M887.4 235.2h0M888.2 274.3h0M889.9 234.9h0M888.3 269.2h0M889.2 233.4h0M890.3 270.3h0M891.8 238.2h0M890.4 272.2h0M892.2 236.5h0M891.6 266.2h0M892.4 237.9h0M892.1 265.5h0M894.9 237.9h0M893.6 265.9h0M895.8 239.1h0M894.1 266.5h0M895.3 237.7h0M896.9 263.7h0M896.5 237.9h0M896.6 267.1h0M898.5 239.3h0M897.7 264.9h0M899.4 239.2h0M898.9 266.0h0M899.2 236.0h0M900.7 263.0h0M901.3 236.5h0M900.7 265.5h0M902.9 237.2h0M901.3 263.0h0M903.2 236.6h0M903.5 264.1h0M904.8 238.0h0M903.8 264.5h0M904.7 234.0h0M904.7 265.1h0M905.7 232.9h0M906.7 264.8h0M907.4 235.2h0M906.8 266.3h0M907.5 231.3h0M907.2 266.0h0M909.8 230.5h0M908.8 270.7h0M909.3 231.8h0M910.8 271.5h0M910.5 232.4h0M910.5 267.4h0M911.7 230.5h0M911.4 271.5h0M912.8 229.1h0M913.5 273.7h0M914.3 232.1h0M913.7 273.4h0M914.2 227.6h0M915.6 271.6h0M915.0 229.6h0M916.2 273.9h0M916.1 229.3h0M916.7 270.6h0M917.7 232.1h0M918.7 273.6h0M918.3 231.2h0M918.2 274.4h0M919.2 226.7h0M919.8 277.4h0M922.0 229.5h0M921.8 273.3h0M922.5 229.5h0M921.9 274.8h0M923.3 226.2h0M923.1 277.4h0M924.0 229.2h0M924.4 276.9h0M925.6 229.5h0M924.2 279.9h0M925.1 225.1h0M926.9 279.4h0M926.9 226.6h0M927.1 280.1h0M928.6 225.4h0M928.7 277.4h0M928.0 226.4h0M928.2 277.3h0M929.1 224.3h0M930.5 279.5h0M931.3 224.8h0M931.0 282.3h0M931.9 223.5h0M932.4 283.4h0M932.3 222.9h0M933.1 280.8h0M933.0 227.3h0M934.7 282.3h0M934.3 226.1h0M936.0 283.8h0M936.5 225.7h0M936.9 283.9h0M936.2 221.5h0M936.5 280.1h0M938.8 223.0h0M937.3 283.7h0M938.5 223.8h0M939.4 281.4h0M939.9 222.3h0M939.9 284.2h0M940.9 223.4h0M941.4 284.7h0M942.1 219.9h0M941.1 284.7h0M942.7 219.2h0M942.2 284.3h0M944.9 224.0h0M943.1 284.7h0M944.7 220.9h0M944.3 282.9h0M946.7 221.3h0M945.4 285.6h0M946.0 223.6h0M946.5 281.7h0M948.6 219.5h0M947.4 284.0h0M949.5 223.4h0M948.6 283.0h0M949.7 221.8h0M950.6 284.0h0M951.6 224.5h0M951.2 279.6h0M952.9 220.0h0M953.0 284.0h0M953.6 219.7h0M952.6 282.3h0M954.7 223.1h0M953.4 279.4h0M955.7 222.1h0M954.1 282.9h0M955.6 221.5h0M956.9 280.9h0M957.6 219.4h0M956.5 279.9h0M957.7 220.4h0M957.1 283.8h0M958.8 222.3h0M958.8 280.5h0M959.6 219.1h0M960.3 281.7h0M961.0 221.3h0M960.5 283.2h0M961.6 220.8h0M961.2 283.2h0M963.0 219.1h0M963.8 281.0h0M963.9 222.2h0M963.0 282.4h0M965.6 222.4h0M965.0 280.8h0M966.5 222.2h0M966.6 277.8h0M967.8 223.6h0M967.3 280.0h0M968.1 222.8h0M968.1 277.7h0M969.7 219.8h0M969.5 278.8h0M970.2 225.0h0M969.1 279.6h0M970.8 225.3h0M970.3 279.0h0M971.3 224.3h0M972.0 277.9h0M972.6 225.1h0M972.0 280.8h0M974.5 225.2h0M974.6 280.4h0M974.2 224.3h0M975.5 281.6h0M976.9 223.3h0M975.1 279.0h0M976.7 220.8h0M977.8 276.2h0M977.2 223.0h0M977.5 277.7h0M978.2 222.4h0M978.8 278.8h0M979.9 224.1h0M980.9 275.9h0M981.8 225.6h0M980.5 279.9h0M981.9 224.6h0M982.2 279.2h0M984.0 222.7h0M982.0 280.7h0M983.4 225.3h0M984.7 280.8h0M984.5 222.5h0M985.6 275.6h0M985.5 221.5h0M986.9 276.1h0M987.4 223.7h0M987.5 278.2h0M988.0 222.4h0M988.1 279.8h0M988.6 224.5h0M988.3 278.8h0M989.4 221.9h0M990.9 279.8h0M991.9 225.5h0M991.7 281.5h0M992.1 220.8h0M992.5 282.3h0M993.7 220.5h0M992.1 283.9h0M994.0 225.5h0M995.0 286.5h0M995.4 224.1h0M995.4 287.9h0M996.3 220.4h0M996.8 286.7h0M997.6 222.7h0M996.4 289.1h0M998.4 223.1h0M997.2 292.6h0M998.8 221.2h0M998.5 292.1h0M999.8 223.8h0M1000.8 290.2h0M1000.0 224.8h0M1001.2 290.7h0M1002.2 221.6h0M1001.7 295.5h0M1003.3 219.7h0M1003.4 291.3h0M1004.3 222.9h0M1004.6 291.8h0M1005.6 225.1h0M1004.9 298.3h0M1006.2 222.9h0M1006.7 295.5h0M1006.7 219.0h0M1007.7 296.3h0M1009.0 222.4h0M1008.7 295.5h0M1010.0 221.4h0M1009.8 298.0h0M1009.0 220.4h0M1009.7 294.6h0M1010.8 219.9h0M1011.4 300.1h0M1011.6 220.5h0M1011.2 297.3h0M1012.8 222.7h0M1012.7 295.2h0M1013.4 220.9h0M1013.5 301.2h0M1014.6 222.9h0M1014.6 298.5h0M1016.0 219.0h0M1016.1 301.2h0M1016.7 218.9h0M1017.6 297.2h0M1018.4 220.6h0M1018.7 297.6h0M1018.1 217.6h0M1019.5 297.2h0M1021.0 221.3h0M1019.3 299.0h0M1021.2 220.0h0M1020.3 296.8h0M1022.0 217.8h0M1023.0 300.5h0M1022.1 220.0h0M1022.5 301.7h0M1023.6 219.4h0M1023.6 299.2h0M1025.8 221.5h0M1025.8 297.9h0M1025.5 220.3h0M1025.2 300.1h0M1026.2 215.8h0M1027.9 303.0h0M1028.4 218.2h0M1027.0 299.2h0M1028.1 220.4h0M1029.6 301.7h0M1029.9 215.3h0M1030.4 305.0h0M1031.1 220.8h0M1031.4 305.2h0M1032.4 219.6h0M1031.7 301.9h0M1033.2 217.9h0M1033.1 305.5h0M1033.6 220.9h0M1033.7 303.2h0M1034.7 216.8h0M1034.0 302.7h0M1036.5 221.6h0M1036.2 308.7h0M1036.3 216.1h0M1037.2 306.0h0M1038.9 217.7h0M1037.5 309.0h0M1038.3 216.2h0M1039.0 308.5h0M1039.7 221.8h0M1039.6 306.6h0M1041.1 216.8h0M1040.1 308.5h0M1042.7 216.6h0M1042.4 311.4h0M1043.4 221.4h0M1043.5 311.9h0M1043.3 222.3h0M1044.8 308.5h0M1045.1 216.9h0M1044.7 309.1h0M1045.1 218.5h0M1045.1 309.9h0M1046.7 217.3h0M1046.7 314.6h0M1047.9 220.6h0M1048.3 315.8h0M1049.1 217.3h0M1048.9 312.2h0M1049.5 221.8h0M1049.5 314.5h0M1051.6 216.7h0M1051.1 313.4h0M1052.4 222.1h0M1052.4 315.1h0M1052.4 219.2h0M1052.6 313.0h0M1053.2 220.3h0M1053.8 315.8h0M1054.2 221.5h0M1055.7 310.6h0M1055.8 221.6h0M1055.3 311.4h0M1057.9 216.8h0M1056.0 314.8h0M1057.2 220.2h0M1058.2 312.5h0M1058.2 219.0h0M1058.3 314.4h0M1060.2 218.9h0M1060.6 310.0h0M1060.3 216.6h0M1060.3 311.9h0M1061.1 219.8h0M1062.4 309.8h0M1063.0 219.9h0M1063.7 309.5h0M1064.6 215.6h0M1063.7 313.9h0M1065.5 216.9h0M1066.0 312.4h0M1065.9 219.1h0M1066.9 309.4h0M1067.8 219.3h0M1066.5 310.0h0M1067.1 217.6h0M1068.9 310.5h0M1068.3 216.8h0M1068.1 310.6h0M1069.2 215.7h0M1070.6 308.7h0M1071.7 215.7h0M1070.9 312.7h0M1072.6 216.4h0M1071.8 312.0h0M1072.9 213.4h0M1072.2 312.3h0M1073.8 213.8h0M1074.7 309.1h0M1075.7 216.3h0M1074.3 311.0h0M1076.7 216.5h0M1076.3 308.8h0M1076.1 214.2h0M1076.9 307.4h0M1078.9 216.5h0M1077.5 312.1h0M1079.1 215.5h0M1079.9 311.0h0M1079.4 213.1h0M1079.1 307.3h0M1081.7 213.9h0M1080.0 308.6h0M1081.5 216.7h0M1082.8 307.5h0M1082.6 216.6h0M1082.6 307.3h0M1083.5 218.2h0M1084.4 306.4h0M1084.7 218.7h0M1085.2 310.2h0M1086.3 214.9h0M1085.2 311.4h0M1087.2 214.5h0M1086.2 306.8h0M1087.3 217.5h0M1087.5 309.2h0M1089.9 218.0h0M1089.7 305.4h0M1090.2 218.6h0M1090.2 307.7h0M1090.6 215.3h0M1091.1 309.6h0M1092.3 218.2h0M1092.4 309.6h0M1092.1 215.7h0M1092.9 306.7h0M1094.1 217.1h0M1094.2 309.2h0M1095.4 217.8h0M1095.1 311.8h0M1095.2 217.6h0M1096.8 308.3h0M1096.6 218.9h0M1097.0 312.0h0M1097.4 220.7h0M1097.2 314.1h0M1098.6 217.7h0M1098.4 315.8h0M1100.0 218.0h0M1100.3 313.4h0M1101.2 219.7h0M1101.2 315.0h0M1101.9 220.8h0M1101.4 312.2h0M1103.2 222.3h0M1103.2 313.2h0M1104.5 218.0h0M1103.7 313.7h0M1105.5 220.4h0M1104.4 310.4h0M1107.0 218.9h0M1107.0 312.2h0M1106.8 216.2h0M1106.0 312.2h0M1108.4 219.2h0M1108.6 312.9h0M1109.5 219.0h0M1109.3 312.1h0M1110.3 218.5h0M1109.2 311.1h0M1111.4 217.6h0M1111.9 312.1h0M1111.3 217.9h0M1111.7 313.8h0M1113.8 215.7h0M1113.4 313.6h0M1114.0 220.4h0M1113.2 309.2h0M1114.0 220.1h0M1115.8 311.5h0M1116.3 216.8h0M1115.3 311.9h0M1116.9 219.0h0M1116.2 310.6h0M1117.9 216.9h0M1118.6 310.0h0M1118.6 219.1h0M1119.2 311.8h0M1120.1 218.4h0M1119.1 309.3h0M1121.0 214.7h0M1120.3 311.6h0M1121.9 215.6h0M1122.2 311.2h0M1123.2 216.0h0M1123.6 307.8h0M1123.5 219.1h0M1124.1 310.4h0M1124.5 217.6h0M1124.9 308.2h0M1125.5 218.6h0M1125.5 306.9h0M1126.9 216.0h0M1127.2 308.8h0M1128.1 217.0h0M1128.9 307.3h0M1128.2 219.7h0M1128.0 311.2h0M1130.6 215.5h0M1129.1 310.3h0M1131.0 219.0h0M1130.0 310.2h0M1131.0 214.3h0M1131.6 308.1h0M1133.9 218.0h0M1133.7 307.3h0M1134.8 218.2h0M1133.5 308.4h0M1135.0 214.9h0M1135.8 307.6h0M1135.4 217.3h0M1136.6 308.6h0M1137.2 215.0h0M1136.5 309.0h0M1138.0 218.7h0M1137.5 305.8h0M1139.2 219.1h0M1140.0 307.7h0M1141.0 217.5h0M1140.0 308.5h0M1140.2 218.7h0M1140.2 309.2h0M1141.2 218.2h0M1141.4 307.6h0M1143.5 217.7h0M1142.3 304.9h0M1145.0 218.5h0M1143.9 305.8h0M1145.4 219.6h0M1145.6 307.5h0M1146.6 215.0h0M1145.3 306.0h0M1146.4 217.6h0M1146.6 303.3h0M1147.9 218.9h0M1148.9 306.3h0M1149.5 216.8h0M1148.8 308.3h0M1150.3 219.1h0M1150.4 307.1h0M1151.1 215.5h0M1150.8 304.4h0M1151.0 216.1h0M1152.0 308.1h0M1153.5 214.5h0M1152.8 307.5h0M1154.2 215.4h0M1154.4 306.4h0M1155.6 215.9h0M1154.2 306.0h0M1155.5 214.2h0M1156.9 306.1h0M1157.5 213.2h0M1157.3 308.3h0M1157.4 212.9h0M1157.0 303.6h0M1159.9 214.1h0M1158.0 304.6h0M1160.3 212.0h0M1160.5 308.6h0M1160.5 216.2h0M1161.5 307.6h0M1162.0 216.2h0M1162.2 305.8h0M1162.4 211.6h0M1162.4 305.9h0M1164.2 213.8h0M1164.3 305.6h0M1165.3 213.4h0M1165.7 305.7h0M1166.8 216.7h0M1166.7 304.2h0M1167.4 214.0h0M1166.5 308.1h0M1168.3 212.1h0M1168.2 305.3h0M1169.2 213.1h0M1168.5 306.7h0M1170.4 215.8h0M1169.6 306.6h0M1170.9 212.9h0M1171.3 303.8h0M1172.5 215.1h0M1172.5 302.4h0M1172.9 212.9h0M1173.3 306.3h0M1174.7 212.6h0M1174.1 305.0h0M1174.7 210.1h0M1174.6 305.1h0M1176.9 210.7h0M1176.8 302.1h0M1177.6 211.5h0M1176.0 302.5h0M1177.1 211.5h0M1178.9 303.7h0M1179.6 214.6h0M1178.4 304.6h0M1179.2 211.8h0M1180.0 302.6h0M1180.6 213.4h0M1180.3 305.9h0M1181.1 212.8h0M1182.2 303.0h0M1182.8 214.8h0M1183.4 303.8h0M1184.7 210.2h0M1183.6 303.8h0M1185.2 214.7h0M1185.4 306.7h0M1186.9 212.3h0M1185.4 302.5h0M1187.3 215.0h0M1187.1 305.6h0M1187.9 213.2h0M1187.7 303.8h0M1188.3 212.3h0M1188.2 307.2h0M1190.1 215.7h0M1189.8 302.0h0M1191.2 215.7h0M1190.6 302.2h0M1191.7 217.3h0M1191.5 301.9h0M1193.4 213.7h0M1193.5 306.8h0M1193.8 215.4h0M1193.7 305.6h0M1194.3 215.9h0M1194.2 303.1h0M1195.7 218.3h0M1195.9 302.2h0M1197.8 218.7h0M1197.7 302.6h0M1198.9 217.4h0M1198.2 307.8h0M1198.7 217.3h0M1199.2 308.2h0M1200.5 216.3h0M1199.8 305.5h0M1201.7 220.1h0M1200.3 304.5h0M1201.5 220.4h0M1201.8 302.8h0M1202.9 218.8h0M1202.6 302.9h0M1203.7 219.1h0M1204.1 304.7h0M1205.9 218.6h0M1204.7 304.5h0M1206.0 222.7h0M1206.3 308.4h0M1206.1 220.1h0M1206.6 307.9h0M1207.6 219.8h0M1207.1 305.9h0M1209.5 220.2h0M1208.2 304.6h0M1209.2 220.1h0M1210.0 307.2h0M1211.6 222.4h0M1211.0 306.8h0M1211.1 224.4h0M1211.8 304.0h0M1212.2 222.2h0M1213.1 308.1h0M1213.1 225.3h0M1214.9 303.0h0M1215.1 224.2h0M1215.2 306.1h0M1215.3 223.8h0M1215.9 304.9h0M1216.1 221.8h0M1216.2 304.4h0M1218.0 221.8h0M1218.6 305.9h0M1218.6 222.5h0M1218.0 308.6h0M1219.1 226.0h0M1220.8 305.7h0M1221.9 223.6h0M1221.4 308.4h0M1221.9 224.1h0M1221.8 305.1h0M1222.7 224.5h0M1222.4 306.1h0M1223.9 223.8h0M1223.1 307.5h0M1225.4 221.7h0M1225.0 303.0h0M1226.2 225.2h0M1226.5 303.2h0M1226.8 223.3h0M1227.5 308.8h0M1227.9 222.6h0M1228.1 304.6h0M1229.7 224.7h0M1229.4 308.5h0M1230.3 227.9h0M1230.2 306.1h0M1231.0 225.4h0M1230.4 307.8h0M1232.6 226.6h0M1231.1 305.3h0M1233.7 228.1h0M1232.4 303.3h0M1233.4 227.9h0M1233.9 308.0h0M1234.5 226.6h0M1234.3 308.8h0M1236.3 230.1h0M1235.5 303.3h0M1236.8 229.5h0M1237.9 305.1h0M1237.9 231.8h0M1238.5 307.2h0M1238.1 232.4h0M1239.5 305.4h0M1239.2 233.1h0M1239.4 304.2h0M1241.2 233.0h0M1240.2 306.8h0M1242.5 230.5h0M1241.1 306.5h0M1243.7 234.2h0M1242.5 308.5h0M1244.7 236.1h0M1244.4 307.8h0M1245.5 231.7h0M1244.3 307.1h0M1246.9 232.4h0M1245.3 304.6h0M1247.5 234.4h0M1246.2 303.9h0M1248.9 238.9h0M1248.1 308.5h0M1249.5 237.9h0M1249.7 304.4h0M1250.0 239.9h0M1249.9 306.3h0M1251.3 238.7h0M1251.2 303.4h0M1251.5 239.4h0M1252.8 306.9h0M1252.1 237.6h0M1253.2 303.2h0M1254.1 238.3h0M1254.5 308.0h0M1255.3 236.6h0M1254.4 307.4h0M1255.7 238.4h0M1256.1 307.1h0M1256.1 238.7h0M1257.5 304.0h0M1258.6 234.4h0M1257.6 306.2h0M1258.6 238.9h0M1258.4 308.9h0M1259.9 234.3h0M1259.1 305.4h0M1261.2 237.3h0M1260.1 305.6h0M1262.0 235.8h0M1261.4 308.1h0M1263.0 236.2h0M1263.2 305.0h0M1263.6 237.6h0M1263.5 304.5h0M1264.4 237.6h0M1265.5 304.2h0M1266.1 239.5h0M1267.0 304.2h0M1266.7 235.6h0M1267.3 308.2h0M1267.4 234.6h0M1268.3 306.7h0M1269.8 238.8h0M1269.1 307.0h0M1269.6 234.3h0M1269.2 303.8h0M1270.6 234.0h0M1272.0 306.7h0M1272.5 236.7h0M1272.9 308.3h0M1272.9 237.9h0M1272.0 303.1h0M1273.7 238.1h0M1273.2 307.9h0M1274.2 238.7h0M1275.9 302.7h0M1276.1 234.5h0M1276.6 305.0h0M1277.6 237.8h0M1277.1 306.8h0M1277.3 234.5h0M1277.9 305.9h0M1279.9 234.3h0M1279.5 306.7h0M1279.2 239.5h0M1279.4 303.6h0M1281.2 236.4h0M1280.7 306.2h0M1282.4 236.4h0M1282.2 301.9h0M1282.2 236.9h0M1282.7 301.0h0M1284.2 235.7h0M1283.9 306.4h0M1285.0 235.1h0M1284.3 303.2h0M1286.1 236.2h0M1286.2 304.2h0M1287.4 235.4h0M1287.7 303.2h0M1287.3 237.0h0M1288.3 305.2h0M1289.8 236.8h0M1288.8 305.1h0M1289.9 241.4h0M1289.4 304.3h0M1291.1 239.7h0M1290.3 303.9h0M1292.2 237.4h0M1291.1 300.8h0M1293.7 240.9h0M1293.7 303.7h0M1293.6 239.8h0M1294.2 301.2h0M1295.1 237.7h0M1294.5 304.5h0M1295.1 239.9h0M1295.2 299.7h0M1297.9 237.4h0M1297.9 301.3h0M1297.0 238.9h0M1297.7 303.1h0M1298.1 238.2h0M1298.0 302.3h0M1300.0 238.2h0M1300.8 299.7h0M1301.0 241.8h0M1300.7 300.5h0M1302.6 239.2h0M1302.5 302.9h0M1302.3 239.7h0M1302.2 300.7h0M1303.5 240.2h0M1304.6 301.4h0M1305.8 241.7h0M1305.4 300.6h0M1306.4 243.0h0M1306.2 301.0h0M1307.1 240.8h0M1307.9 303.2h0M1307.4 240.7h0M1307.6 300.7h0M1309.3 237.8h0M1308.4 301.3h0M1309.8 242.0h0M1309.9 304.3h0M1311.4 243.8h0M1310.2 301.3h0M1312.2 241.6h0M1312.0 302.0h0M1314.0 243.1h0M1312.9 300.1h0M1314.3 242.6h0M1315.0 304.6h0M1314.4 239.0h0M1315.6 299.5h0M1315.5 240.5h0M1316.8 300.7h0M1317.2 242.8h0M1317.8 304.5h0M1318.9 239.1h0M1318.2 300.5h0M1318.6 239.1h0M1319.8 300.3h0M1321.0 237.7h0M1320.3 300.6h0M1321.9 241.4h0M1320.6 304.4h0M1321.3 238.6h0M1322.1 303.1h0M1322.3 237.4h0M1323.4 300.1h0M1323.2 239.9h0M1325.0 302.8h0M1325.1 241.6h0M1324.0 299.8h0M1326.5 241.1h0M1325.7 302.0h0M1327.9 236.9h0M1326.2 301.2h0M1328.9 237.3h0M1327.4 302.2h0M1329.6 239.7h0M1329.3 304.7h0M1329.4 239.8h0M1330.4 304.5h0M1330.2 238.1h0M1330.8 303.0h0M1331.3 236.5h0M1332.3 299.3h0M1333.3 241.5h0M1332.3 301.3h0M1333.7 241.2h0M1334.2 301.3h0M1335.8 241.9h0M1334.3 302.4h0M1335.2 239.6h0M1335.4 300.8h0M1336.7 236.4h0M1337.8 304.2h0M1337.5 239.6h0M1337.1 300.4h0M1339.4 237.3h0M1339.2 304.2h0M1340.1 237.2h0M1339.6 302.3h0M1341.1 240.7h0M1341.9 303.0h0M1341.7 238.1h0M1342.5 302.8h0M1342.4 238.1h0M1342.8 300.0h0M1343.9 241.9h0M1343.9 301.5h0M1344.5 239.6h0M1345.4 304.5h0M1345.9 238.8h0M1345.6 303.0h0M1346.4 240.8h0M1346.1 303.6h0M1347.5 238.5h0M1348.7 300.9h0M1349.8 238.3h0M1348.4 303.1h0M1350.0 242.6h0M1350.7 299.8h0M1350.0 237.9h0M1350.7 302.4h0M1351.0 239.9h0M1351.3 299.8h0M1352.4 239.8h0M1352.3 299.9h0M1353.2 240.6h0M1353.4 303.5h0M1356.0 242.3h0M1355.5 303.3h0M1357.0 243.8h0M1356.3 304.4h0M1356.1 241.3h0M1357.0 301.0h0M1359.0 242.9h0M1357.5 300.6h0M1359.2 238.2h0M1358.4 301.2h0M1360.6 242.4h0M1360.3 307.1h0M1361.9 239.8h0M1361.5 304.4h0M1362.0 241.2h0M1362.8 303.0h0M1362.8 243.1h0M1362.4 306.3h0M1363.6 238.3h0M1363.8 308.8h0M1365.9 242.9h0M1365.0 308.8h0M1365.5 242.6h0M1365.6 309.0h0M1366.9 241.5h0M1366.3 307.7h0M1368.1 242.5h0M1367.8 304.4h0M1368.5 242.5h0M1368.2 305.2h0M1370.1 239.0h0M1370.6 305.8h0M1370.3 243.3h0M1371.9 309.3h0M1372.6 242.3h0M1372.1 309.5h0M1372.6 242.9h0M1373.6 306.6h0M1373.1 241.4h0M1374.4 311.3h0M1374.0 243.4h0M1375.6 308.7h0M1375.7 239.0h0M1376.6 313.7h0M1377.4 239.0h0M1376.9 309.8h0M1378.3 238.4h0M1377.4 314.3h0M1378.6 234.5h0M1379.5 312.1h0M1380.8 235.0h0M1381.0 314.8h0M1381.5 228.8h0M1380.8 317.6h0M1381.2 232.0h0M1381.7 320.3h0M1382.2 228.2h0M1382.7 317.3h0M1384.3 225.9h0M1383.3 324.3h0M1385.4 225.2h0M1385.0 323.1h0M1385.8 225.3h0M1385.1 326.3h0M1387.6 220.0h0M1386.7 326.7h0M1387.6 221.0h0M1387.2 327.5h0M1389.4 216.8h0M1389.5 330.3h0M1390.2 213.6h0M1389.6 330.6h0M1391.2 215.0h0M1390.1 331.4h0M1392.7 213.1h0M1391.4 331.5h0M1392.5 211.4h0M1392.1 332.1h0M1394.8 214.6h0M1394.2 331.3h0M1395.7 210.9h0M1394.8 331.3h0M1396.9 212.3h0M1396.3 335.7h0M1396.2 209.7h0M1396.5 334.6h0M1398.3 210.8h0M1398.8 339.0h0M1398.4 207.0h0M1398.7 334.0h0M1399.9 210.7h0M1399.4 337.8h0M1401.6 207.1h0M1401.5 336.7h0M1402.3 205.0h0M1401.7 334.9h0M1402.8 205.9h0M1404.0 337.7h0M1404.4 206.6h0M1404.2 339.3h0M1404.5 204.9h0M1404.5 337.9h0M1405.2 203.3h0M1406.0 336.6h0M1407.6 206.0h0M1407.5 341.8h0M1408.0 202.1h0M1408.0 342.6h0M1408.2 202.7h0M1408.7 339.6h0M1409.4 202.5h0M1409.2 336.6h0M1412.0 207.5h0M1410.3 340.8h0M1412.8 202.1h0M1411.3 337.9h0M1413.9 207.6h0M1413.7 339.6h0M1414.5 207.6h0M1414.8 335.4h0M1415.5 206.7h0M1415.4 338.5h0M1416.1 207.6h0M1416.1 340.6h0M1416.9 207.2h0M1417.4 337.5h0M1418.9 206.5h0M1417.4 335.9h0M1419.7 202.0h0M1419.9 337.3h0M1420.7 202.1h0M1419.6 337.7h0M1420.4 205.9h0M1421.6 335.4h0M1422.8 202.7h0M1421.6 336.6h0M1423.6 208.4h0M1424.0 331.6h0M1424.1 210.4h0M1424.6 331.5h0M1425.4 213.1h0M1425.7 331.6h0M1425.1 214.2h0M1426.6 329.2h0M1427.7 216.5h0M1426.3 327.2h0M1428.3 217.7h0M1427.3 320.6h0M1428.4 221.6h0M1429.9 321.3h0M1430.4 222.5h0M1430.8 315.3h0M1430.8 223.2h0M1431.7 312.1h0M1432.8 224.6h0M1432.8 309.9h0M1433.4 232.7h0M1432.6 302.5h0M1433.8 231.4h0M1434.7 301.0h0M1435.6 235.2h0M1434.3 300.6h0M1436.6 239.1h0M1435.0 297.7h0M1436.8 248.3h0M1437.7 298.6h0M1438.5 249.6h0M1438.5 296.0h0M1438.1 254.6h0M1438.8 297.2h0M1440.1 260.1h0M1439.8 296.9h0M1441.7 260.1h0M1440.4 299.3h0M1441.5 261.7h0M1441.8 295.1h0M1443.9 260.2h0M1442.7 296.0h0M1444.0 261.7h0M1444.0 296.8h0M1445.4 259.8h0M1444.4 297.4h0M1445.9 260.1h0M1446.5 299.8h0M1446.7 253.3h0M1447.9 303.1h0M1447.9 253.3h0M1448.6 305.8h0M1449.0 244.0h0M1448.7 315.5h0M1449.8 241.7h0M1450.0 315.1h0M1451.1 231.3h0M1450.4 326.3h0M1452.0 224.1h0M1452.0 337.2h0M1453.4 216.6h0M1452.1 346.0h0M1453.5 216.0h0M1453.9 344.8h0M1455.9 216.5h0M1455.2 346.7h0M1455.2 215.9h0M1455.4 347.8h0M1457.2 212.6h0M1457.7 347.2h0M1458.9 210.6h0M1457.9 348.9h0M1459.1 213.9h0M1459.2 345.6h0M1459.9 211.7h0M1460.5 348.3h0M1460.5 214.5h0M1460.5 351.6h0M1462.1 214.5h0M1462.7 347.1h0M1463.2 212.1h0M1462.6 351.0h0M1463.9 214.0h0M1464.1 346.1h0M116.3 261.7h0M115.9 314.6h0M115.6 329.0h0M115.7 340.5h0M116.8 264.3h0M116.6 259.6h0M116.9 242.8h0M117.8 258.0h0M118.4 314.7h0M119.3 328.5h0M119.4 319.3h0M118.9 361.7h0M119.0 324.3h0M119.5 325.0h0M118.5 325.1h0M120.2 251.3h0M120.1 260.3h0M119.8 316.8h0M119.8 347.0h0M122.5 318.2h0M123.0 263.4h0M122.7 351.5h0M123.8 261.4h0M123.7 256.4h0M123.8 266.0h0M124.0 341.2h0M123.5 319.5h0M124.3 307.2h0M124.4 322.7h0M124.8 307.9h0M126.1 261.1h0M126.1 254.0h0M126.6 267.3h0M128.0 266.8h0M131.0 267.5h0M131.8 258.8h0M133.0 264.3h0M133.0 312.7h0M135.5 305.8h0M134.6 304.2h0M136.1 270.4h0M136.0 258.9h0M135.5 309.2h0M137.0 266.7h0M138.0 315.0h0M139.2 265.0h0M138.7 309.6h0M139.8 267.9h0M139.6 266.4h0M139.6 262.7h0M140.4 268.1h0M140.5 308.1h0M141.5 308.9h0M141.7 266.1h0M142.4 312.7h0M145.0 272.3h0M145.1 272.2h0M145.0 307.6h0M146.3 322.5h0M145.5 314.7h0M147.3 257.9h0M146.6 318.7h0M147.2 337.1h0M148.0 312.0h0M150.0 272.1h0M149.6 312.8h0M151.4 270.9h0M150.9 261.2h0M151.3 308.2h0M150.5 309.5h0M152.0 259.1h0M153.5 186.0h0M153.4 235.6h0M152.5 207.2h0M153.1 237.2h0M153.7 328.1h0M154.7 231.9h0M155.3 224.3h0M154.6 234.0h0M154.9 246.5h0M154.7 330.5h0M156.1 223.8h0M156.3 185.3h0M155.8 202.9h0M155.9 223.3h0M156.0 337.3h0M157.1 200.1h0M157.5 209.9h0M156.7 236.9h0M157.3 190.2h0M156.6 218.3h0M157.3 226.7h0M157.0 216.9h0M157.2 332.7h0M158.4 195.5h0M157.8 243.5h0M157.6 218.9h0M157.8 198.2h0M157.8 215.1h0M159.1 238.6h0M158.7 237.8h0M160.1 201.6h0M160.0 225.0h0M160.1 228.9h0M160.3 330.8h0M160.5 232.2h0M161.1 327.7h0M161.8 228.7h0M163.3 232.1h0M163.7 211.3h0M164.1 330.6h0M163.7 328.5h0M164.8 246.0h0M166.4 231.2h0M166.4 328.7h0M166.8 243.5h0M166.8 241.2h0M166.8 237.4h0M167.2 239.8h0M167.4 335.3h0M167.9 242.6h0M170.4 241.9h0M170.9 240.3h0M171.1 244.7h0M171.4 329.7h0M170.6 336.5h0M171.8 202.5h0M172.5 244.7h0M171.9 247.1h0M173.0 202.7h0M173.0 234.5h0M173.2 207.0h0M173.2 242.3h0M172.6 244.9h0M172.6 243.2h0M173.6 225.7h0M174.2 332.0h0M175.2 247.0h0M174.8 334.8h0M175.3 337.0h0M175.5 221.2h0M175.7 242.7h0M175.7 242.5h0M176.3 250.2h0M176.6 242.4h0M176.8 234.9h0M176.7 249.4h0M177.9 245.3h0M178.5 214.4h0M178.5 250.3h0M178.3 319.3h0M179.0 229.6h0M178.7 208.6h0M178.6 238.1h0M178.6 309.6h0M179.1 319.9h0M180.3 233.4h0M179.6 239.0h0M179.9 243.6h0M179.8 232.2h0M180.0 228.8h0M180.0 246.5h0M179.6 250.5h0M181.2 308.4h0M181.1 294.5h0M182.5 245.9h0M182.4 248.4h0M182.2 252.8h0M183.4 251.4h0M184.2 291.6h0M184.9 251.8h0M185.2 250.0h0M187.0 243.5h0M187.4 249.0h0M186.9 253.2h0M187.8 286.7h0M187.7 304.0h0M189.5 252.8h0M189.0 239.6h0M188.9 284.2h0M191.5 248.8h0M191.8 253.6h0M193.2 284.4h0M193.9 254.2h0M193.9 284.9h0M195.1 253.5h0M195.3 255.2h0M196.4 306.1h0M197.3 285.9h0M196.8 289.5h0M199.5 251.5h0M200.4 251.1h0M201.4 254.6h0M201.7 249.9h0M201.7 253.0h0M202.2 255.0h0M202.8 248.9h0M203.9 255.2h0M203.9 256.3h0M204.2 255.3h0M204.0 258.1h0M205.4 239.1h0M204.8 244.9h0M205.7 241.1h0M205.8 258.1h0M206.3 296.2h0M207.3 251.7h0M207.0 255.8h0M207.4 247.5h0M209.0 256.7h0M211.4 292.2h0M211.9 256.4h0M211.7 294.2h0M213.4 254.2h0M216.0 257.9h0M217.0 241.1h0M217.0 261.9h0M217.4 294.9h0M216.5 294.9h0M218.2 259.8h0M219.0 244.5h0M219.3 222.1h0M218.9 310.5h0M220.1 252.5h0M220.0 223.9h0M219.9 227.3h0M220.3 237.3h0M219.5 242.2h0M219.5 238.7h0M219.6 255.1h0M219.6 310.8h0M220.9 255.2h0M220.6 294.6h0M222.4 249.8h0M222.8 251.1h0M223.1 255.9h0M223.3 224.2h0M224.1 262.1h0M225.1 333.7h0M226.0 258.7h0M226.4 264.9h0M226.7 261.3h0M226.9 263.8h0M226.8 309.1h0M226.6 300.4h0M228.1 252.6h0M228.9 222.1h0M230.1 302.4h0M232.2 263.6h0M233.4 261.6h0M232.9 315.4h0M233.0 299.3h0M234.2 259.9h0M233.6 231.4h0M236.3 262.0h0M235.9 249.1h0M236.1 258.3h0M236.3 296.9h0M236.0 300.5h0M236.5 305.3h0M235.6 304.6h0M236.9 232.0h0M237.1 297.3h0M236.9 347.9h0M236.9 343.7h0M239.1 259.0h0M239.8 258.4h0M240.5 246.3h0M239.7 262.5h0M240.2 304.8h0M241.0 265.6h0M240.8 265.6h0M241.0 266.2h0M243.5 306.4h0M242.9 340.1h0M244.1 306.8h0M243.7 298.3h0M244.9 310.9h0M245.6 247.7h0M248.5 257.7h0M248.3 264.2h0M247.6 249.9h0M249.0 254.9h0M250.1 246.4h0M251.1 259.5h0M251.3 259.4h0M251.4 255.9h0M251.3 242.9h0M250.8 261.2h0M252.4 323.0h0M255.0 234.7h0M255.8 243.5h0M257.3 260.2h0M256.7 261.2h0M264.3 254.3h0M263.7 251.1h0M265.0 256.8h0M265.7 240.3h0M266.2 250.5h0M266.6 235.7h0M267.5 243.3h0M267.6 233.1h0M269.5 304.7h0M268.7 319.6h0M269.2 304.9h0M269.7 322.8h0M270.9 199.7h0M271.4 239.5h0M270.8 253.7h0M272.3 249.2h0M271.7 248.8h0M272.3 244.5h0M273.5 249.6h0M273.6 249.8h0M274.3 249.3h0M275.2 212.7h0M275.2 316.4h0M276.3 245.0h0M277.4 245.4h0M276.8 312.2h0M278.2 226.6h0M278.1 327.0h0M278.0 338.8h0M279.0 232.1h0M279.4 244.8h0M279.4 326.0h0M280.4 236.5h0M280.4 239.0h0M280.3 324.8h0M280.5 239.6h0M281.4 200.5h0M280.5 321.0h0M281.6 320.5h0M282.3 329.0h0M282.5 239.6h0M282.8 241.7h0M282.7 323.2h0M283.5 339.9h0M284.0 221.8h0M283.7 229.3h0M284.1 223.5h0M285.5 234.6h0M284.9 323.1h0M285.7 235.1h0M286.2 238.2h0M286.5 345.2h0M286.7 220.9h0M286.9 237.6h0M286.6 322.9h0M288.0 229.4h0M287.7 232.3h0M287.9 214.4h0M287.9 237.1h0M287.6 230.5h0M288.1 237.1h0M287.8 330.2h0M287.6 326.8h0M288.5 325.1h0M288.2 357.1h0M289.1 236.3h0M289.1 217.2h0M288.9 234.2h0M289.1 204.1h0M289.4 324.7h0M289.5 226.1h0M289.9 329.5h0M289.8 349.4h0M289.7 356.0h0M290.8 233.0h0M291.2 331.3h0M290.6 335.5h0M290.7 335.9h0M290.8 326.8h0M291.2 379.6h0M292.4 231.7h0M292.3 357.1h0M291.6 380.5h0M291.7 376.0h0M293.3 199.3h0M292.9 334.0h0M294.0 220.8h0M294.2 224.9h0M293.5 216.9h0M294.3 189.4h0M293.9 173.1h0M295.4 206.1h0M295.0 331.0h0M295.0 330.3h0M294.8 341.6h0M295.5 227.3h0M295.9 342.4h0M297.0 224.5h0M296.9 211.1h0M297.4 224.0h0M296.6 209.0h0M296.7 208.8h0M296.6 358.6h0M297.4 355.1h0M298.0 225.3h0M298.1 354.9h0M298.2 334.1h0M299.4 213.8h0M299.1 216.7h0M298.6 223.5h0M298.9 164.0h0M298.6 211.1h0M300.4 200.6h0M300.5 217.1h0M300.2 335.1h0M299.7 337.7h0M299.7 342.9h0M300.7 347.3h0M301.5 364.2h0M300.8 361.9h0M300.6 383.3h0M300.5 379.3h0M301.5 373.1h0M302.0 218.9h0M301.9 344.6h0M301.8 352.0h0M303.2 208.4h0M303.0 213.3h0M303.1 198.9h0M302.6 196.5h0M302.6 218.4h0M302.8 351.2h0M303.1 351.6h0M302.7 337.9h0M304.3 206.7h0M304.1 217.2h0M304.0 349.4h0M304.0 339.3h0M305.5 174.1h0M305.1 203.2h0M305.2 155.5h0M305.3 218.9h0M304.8 219.1h0M305.2 347.0h0M304.9 339.3h0M304.5 344.9h0M306.2 214.3h0M306.4 346.4h0M306.1 344.2h0M306.3 366.5h0M306.3 385.6h0M306.8 206.3h0M306.9 204.9h0M306.8 197.3h0M307.4 197.6h0M306.7 206.2h0M307.2 396.2h0M307.4 360.7h0M307.1 408.3h0M306.9 379.9h0M306.8 348.5h0M308.3 218.0h0M308.1 215.9h0M308.2 209.0h0M308.3 365.5h0M308.2 346.1h0M308.9 357.2h0M309.3 352.6h0M308.7 380.9h0M309.4 385.2h0M309.3 381.0h0M308.8 399.4h0M309.9 199.8h0M309.7 209.5h0M310.3 200.5h0M310.1 203.2h0M310.0 418.8h0M310.2 342.7h0M309.9 374.2h0M310.6 217.8h0M310.7 212.5h0M310.6 214.3h0M311.4 203.5h0M310.9 181.4h0M310.8 342.1h0M311.2 342.0h0M311.1 406.8h0M311.1 363.9h0M311.8 181.4h0M312.4 209.9h0M311.7 216.9h0M312.3 363.9h0M312.3 397.9h0M313.1 185.4h0M313.5 203.1h0M313.4 213.7h0M313.4 371.9h0M313.0 395.3h0M312.7 365.3h0M313.4 371.9h0M313.1 379.9h0M314.3 213.2h0M314.0 385.8h0M314.1 373.4h0M313.5 353.9h0M315.5 213.3h0M315.2 345.0h0M315.3 356.9h0M315.5 209.1h0M316.3 197.3h0M315.8 208.4h0M315.7 201.0h0M315.5 355.0h0M315.6 351.9h0M315.7 357.3h0M315.9 373.8h0M316.1 345.1h0M317.2 211.5h0M316.8 362.1h0M316.5 354.0h0M317.4 345.8h0M317.5 355.0h0M316.9 351.0h0M318.1 158.4h0M318.5 171.3h0M318.1 156.6h0M318.1 210.4h0M317.8 343.8h0M318.9 210.0h0M318.5 207.6h0M318.6 206.0h0M318.9 355.4h0M319.3 368.6h0M318.9 356.4h0M319.0 426.4h0M318.6 366.3h0M319.0 367.4h0M319.5 426.3h0M320.3 203.9h0M320.4 211.1h0M321.1 200.2h0M321.4 194.5h0M321.2 210.2h0M321.5 366.2h0M320.9 362.9h0M321.0 364.6h0M320.6 399.1h0M320.9 367.0h0M320.8 416.6h0M321.5 358.2h0M322.1 163.6h0M321.9 201.8h0M321.8 379.1h0M322.4 373.9h0M322.2 345.4h0M321.9 357.8h0M322.3 367.0h0M322.6 211.8h0M322.5 164.6h0M323.1 149.5h0M323.1 192.7h0M322.6 208.6h0M323.2 164.3h0M322.9 172.6h0M322.8 373.5h0M323.7 425.8h0M323.8 354.3h0M325.5 189.1h0M325.4 166.9h0M325.2 209.6h0M325.5 345.5h0M326.1 208.2h0M326.2 203.1h0M325.7 199.2h0M326.2 345.9h0M327.2 347.9h0M326.8 376.2h0M326.8 357.8h0M327.3 354.0h0M327.1 362.3h0M328.1 152.8h0M327.8 168.8h0M327.6 187.0h0M328.0 183.3h0M329.3 202.7h0M328.8 172.6h0M328.6 177.3h0M329.2 200.0h0M329.5 409.6h0M329.6 210.8h0M329.7 210.9h0M330.9 196.7h0M331.5 199.9h0M331.2 390.0h0M331.5 352.1h0M331.5 366.0h0M331.2 368.4h0M331.3 349.1h0M331.7 206.9h0M331.9 186.9h0M332.2 179.1h0M332.1 195.5h0M332.0 209.5h0M331.7 383.6h0M331.7 344.4h0M333.4 206.1h0M332.6 355.7h0M332.8 360.0h0M332.9 373.2h0M333.1 371.6h0M332.9 367.3h0M333.9 184.4h0M334.1 210.2h0M334.3 385.9h0M333.5 351.7h0M334.0 348.5h0M334.0 394.3h0M334.1 351.1h0M334.6 206.0h0M334.8 163.6h0M335.1 164.2h0M336.5 197.6h0M335.5 203.3h0M335.6 194.7h0M335.6 177.0h0M336.4 186.7h0M335.6 345.7h0M336.6 186.0h0M336.6 209.5h0M336.8 353.8h0M336.9 371.8h0M336.8 350.8h0M336.9 346.1h0M337.1 410.9h0M337.0 353.2h0M337.8 209.4h0M337.5 198.1h0M337.8 374.9h0M338.2 347.9h0M338.5 369.6h0M338.9 207.2h0M338.6 209.3h0M339.1 205.5h0M338.9 371.0h0M338.6 414.9h0M339.2 359.4h0M339.1 363.2h0M338.8 391.9h0M338.6 385.1h0M339.6 146.8h0M339.8 205.1h0M340.5 201.6h0M340.4 198.2h0M339.8 353.5h0M341.1 206.3h0M340.5 204.8h0M341.3 209.6h0M341.3 378.6h0M341.0 377.4h0M341.3 384.5h0M340.6 363.2h0M342.4 205.8h0M343.2 213.4h0M342.6 211.6h0M343.4 212.3h0M343.0 190.5h0M343.1 347.6h0M343.7 196.8h0M344.0 356.3h0M343.9 428.7h0M344.3 389.6h0M343.7 383.1h0M345.3 211.1h0M345.1 205.1h0M345.4 203.3h0M345.3 181.0h0M344.7 199.3h0M344.6 374.3h0M345.1 349.8h0M345.5 429.0h0M344.5 372.5h0M345.8 376.3h0M347.1 202.2h0M347.4 156.9h0M347.5 189.4h0M347.2 175.3h0M347.1 191.8h0M347.3 180.8h0M346.8 354.7h0M347.5 361.5h0M348.4 207.2h0M347.5 197.5h0M347.7 189.4h0M347.6 354.3h0M348.3 353.7h0M349.3 206.2h0M348.5 193.1h0M349.1 165.6h0M349.5 210.0h0M348.5 360.1h0M349.3 366.5h0M350.1 186.9h0M350.3 198.1h0M350.4 213.0h0M349.8 206.9h0M349.6 348.8h0M351.1 165.9h0M350.6 208.2h0M351.2 348.7h0M352.2 190.0h0M351.6 356.3h0M352.2 367.1h0M353.1 208.4h0M353.3 207.5h0M352.6 379.4h0M352.6 398.2h0M353.2 426.0h0M352.8 347.0h0M352.9 350.8h0M353.5 213.3h0M354.2 150.8h0M354.4 209.7h0M354.7 187.2h0M354.6 346.7h0M354.9 366.7h0M354.6 357.7h0M355.4 349.5h0M356.5 201.3h0M356.0 156.3h0M356.0 199.4h0M355.5 209.8h0M356.0 351.7h0M357.0 178.5h0M357.2 209.7h0M356.5 379.1h0M357.3 417.3h0M357.9 214.6h0M358.0 363.3h0M357.9 356.5h0M359.3 200.7h0M359.5 191.8h0M358.8 208.1h0M359.1 208.1h0M359.2 352.5h0M359.4 341.3h0M359.0 382.9h0M359.5 215.4h0M359.5 191.9h0M361.2 204.4h0M361.2 187.3h0M361.1 343.1h0M362.5 186.2h0M362.4 205.6h0M362.4 179.7h0M362.4 341.6h0M362.9 376.6h0M363.2 387.5h0M362.7 358.1h0M363.4 342.0h0M363.1 340.6h0M363.4 383.3h0M363.5 380.8h0M363.9 177.4h0M364.3 353.6h0M365.0 345.4h0M365.2 343.5h0M366.2 202.7h0M365.9 203.6h0M365.8 357.0h0M366.3 343.9h0M367.2 138.1h0M367.5 196.3h0M366.9 341.1h0M367.5 374.6h0M366.8 341.7h0M367.7 198.2h0M367.8 202.9h0M368.5 195.2h0M368.5 359.8h0M368.5 342.5h0M368.2 408.5h0M367.6 361.3h0M368.3 404.8h0M369.3 202.3h0M369.3 204.3h0M368.9 139.4h0M369.4 345.4h0M369.1 346.2h0M369.6 377.4h0M371.1 202.8h0M371.0 357.4h0M370.5 349.3h0M370.6 349.2h0M372.2 200.9h0M372.2 203.4h0M372.5 195.3h0M371.5 171.3h0M372.1 349.4h0M371.8 376.7h0M372.2 349.4h0M371.8 423.0h0M373.1 189.4h0M373.2 189.1h0M373.0 163.8h0M372.6 364.5h0M373.8 354.8h0M373.7 370.1h0M375.3 194.8h0M375.2 358.5h0M375.0 392.3h0M375.1 414.8h0M375.0 362.0h0M376.2 182.8h0M376.2 178.0h0M376.2 356.8h0M376.0 350.4h0M377.4 402.2h0M377.3 379.5h0M377.4 342.9h0M376.9 374.4h0M376.5 386.2h0M378.3 190.6h0M377.7 193.4h0M378.0 181.1h0M378.2 373.2h0M377.5 356.3h0M377.7 346.7h0M378.4 408.0h0M378.7 163.4h0M378.7 348.9h0M378.6 350.9h0M378.7 389.6h0M378.8 358.8h0M378.8 359.3h0M379.6 196.4h0M380.0 138.3h0M379.8 153.1h0M379.6 150.8h0M380.5 367.0h0M379.5 348.3h0M380.1 345.1h0M379.9 348.9h0M381.1 192.8h0M381.2 197.5h0M380.6 182.3h0M381.4 366.5h0M380.5 343.4h0M381.4 357.5h0M380.8 378.6h0M380.9 420.9h0M381.9 192.6h0M381.8 395.8h0M381.6 370.2h0M381.7 359.4h0M381.9 383.0h0M382.8 144.7h0M382.8 191.7h0M382.7 180.3h0M384.3 189.3h0M384.3 202.5h0M383.9 184.4h0M384.3 346.8h0M384.2 357.9h0M383.6 341.0h0M383.7 347.7h0M384.0 392.2h0M384.4 358.3h0M384.9 179.6h0M385.3 189.9h0M384.6 138.3h0M385.1 201.9h0M385.4 345.8h0M385.1 378.4h0M385.1 392.1h0M384.7 358.7h0M385.1 377.1h0M385.7 198.3h0M385.8 170.1h0M386.1 196.2h0M386.3 344.4h0M385.8 345.5h0M385.9 397.4h0M385.6 344.2h0M386.5 176.4h0M386.6 204.7h0M386.7 201.9h0M386.7 185.3h0M387.0 396.4h0M387.3 342.0h0M386.8 364.6h0M388.3 169.7h0M388.2 187.4h0M388.1 196.6h0M388.2 182.2h0M387.8 348.2h0M388.8 179.0h0M389.2 193.1h0M389.2 198.7h0M389.2 175.1h0M388.5 341.7h0M388.6 344.5h0M389.4 360.1h0M390.1 422.4h0M390.0 371.9h0M389.6 411.6h0M389.8 353.8h0M390.5 190.7h0M390.6 378.5h0M391.6 204.6h0M392.0 168.9h0M391.9 351.4h0M392.0 346.3h0M391.6 352.2h0M391.5 347.8h0M391.9 352.8h0M391.6 377.5h0M392.3 412.1h0M393.1 200.4h0M393.3 365.7h0M393.2 344.3h0M394.3 197.5h0M394.4 204.0h0M393.6 175.8h0M394.1 174.6h0M394.0 201.0h0M393.6 345.4h0M395.4 203.3h0M395.1 194.3h0M395.2 204.0h0M394.8 349.3h0M395.5 404.5h0M395.4 382.7h0M394.7 389.1h0M396.1 206.4h0M396.0 199.1h0M396.2 356.1h0M395.5 342.6h0M396.2 349.7h0M396.8 198.3h0M396.6 197.6h0M397.2 185.1h0M396.6 353.7h0M397.1 352.2h0M397.6 197.2h0M398.0 196.2h0M397.7 357.2h0M398.9 203.3h0M398.8 207.5h0M399.4 351.6h0M399.1 348.3h0M398.6 371.7h0M399.4 358.5h0M399.4 364.5h0M399.0 385.2h0M400.4 155.1h0M400.3 170.5h0M399.7 191.5h0M399.9 185.7h0M400.1 195.0h0M399.7 180.9h0M400.0 347.6h0M400.4 350.8h0M400.4 364.0h0M399.6 368.1h0M400.8 206.9h0M401.3 364.0h0M400.7 347.6h0M401.3 347.6h0M401.1 345.0h0M401.9 190.1h0M402.5 198.8h0M402.0 184.2h0M401.7 352.6h0M403.0 206.4h0M403.5 163.8h0M403.5 172.8h0M403.2 385.0h0M403.4 378.4h0M403.0 344.2h0M403.1 428.1h0M403.4 363.6h0M403.8 202.3h0M404.4 166.5h0M403.6 192.0h0M403.6 403.2h0M404.2 371.8h0M404.2 408.1h0M403.5 380.2h0M404.1 364.2h0M403.8 415.7h0M404.6 199.7h0M404.6 188.3h0M404.5 196.4h0M405.1 176.0h0M405.1 347.6h0M405.1 360.3h0M406.0 199.2h0M405.9 199.8h0M405.5 199.6h0M405.6 384.1h0M405.9 367.0h0M405.6 380.3h0M406.2 384.2h0M407.2 149.4h0M406.5 202.7h0M406.6 194.8h0M407.3 193.7h0M407.4 359.0h0M406.6 372.8h0M408.1 390.4h0M407.5 358.9h0M407.7 347.5h0M407.8 372.1h0M409.2 163.7h0M409.3 140.9h0M409.4 353.9h0M408.6 411.8h0M409.3 396.0h0M410.2 349.4h0M411.2 196.8h0M410.6 186.3h0M411.1 355.2h0M411.1 366.8h0M410.7 350.3h0M411.1 392.3h0M411.7 196.9h0M411.8 362.3h0M412.1 354.2h0M411.6 354.8h0M413.5 163.3h0M412.5 169.1h0M413.3 179.3h0M413.0 174.3h0M413.4 352.3h0M412.9 363.8h0M413.8 184.3h0M414.5 183.2h0M414.1 388.0h0M413.6 378.2h0M414.4 391.9h0M414.7 192.8h0M414.6 176.5h0M415.5 194.1h0M414.7 165.4h0M415.2 366.8h0M414.7 386.3h0M414.6 360.1h0M415.1 352.9h0M415.0 354.4h0M414.8 385.6h0M416.4 145.2h0M415.9 162.0h0M415.5 177.1h0M416.1 192.5h0M416.2 193.6h0M415.7 176.8h0M415.9 178.1h0M415.5 375.8h0M415.7 363.0h0M415.6 360.5h0M415.7 371.2h0M417.1 365.4h0M418.3 191.2h0M417.6 178.0h0M418.0 178.8h0M417.9 190.6h0M417.6 369.4h0M417.6 357.3h0M418.0 354.2h0M417.8 354.2h0M417.6 361.0h0M418.4 375.7h0M417.8 362.0h0M417.8 353.3h0M419.4 178.1h0M419.3 139.2h0M419.0 186.0h0M418.9 359.8h0M419.2 359.0h0M419.7 191.1h0M419.7 358.5h0M421.4 144.9h0M420.6 161.2h0M421.4 137.3h0M420.8 171.8h0M420.7 169.5h0M421.0 361.0h0M421.6 168.9h0M422.3 359.1h0M421.6 358.4h0M422.1 357.5h0M421.7 352.1h0M423.3 185.9h0M424.3 177.6h0M424.2 377.1h0M423.6 357.1h0M425.1 131.8h0M425.1 166.6h0M424.5 122.0h0M424.6 169.8h0M425.1 161.8h0M425.4 171.3h0M424.7 172.6h0M425.4 133.2h0M425.1 355.5h0M425.1 362.9h0M424.6 354.5h0M425.1 354.3h0M425.2 430.9h0M426.2 182.6h0M425.8 352.6h0M426.4 352.2h0M426.7 175.0h0M426.7 158.1h0M426.9 187.7h0M426.8 372.3h0M427.4 421.1h0M427.5 393.0h0M427.3 370.9h0M426.6 353.4h0M427.2 387.5h0M427.6 125.4h0M427.8 149.2h0M428.0 134.2h0M427.8 372.1h0M427.7 370.3h0M427.8 369.3h0M429.0 360.0h0M429.0 370.3h0M429.0 397.4h0M428.8 354.4h0M428.7 358.8h0M430.3 189.3h0M429.9 359.4h0M431.2 184.9h0M431.2 156.6h0M430.6 181.4h0M430.8 168.5h0M430.9 181.4h0M431.1 166.9h0M431.5 374.6h0M431.0 351.8h0M430.7 354.3h0M430.6 398.9h0M430.6 386.2h0M432.4 189.8h0M432.3 174.7h0M432.3 184.0h0M432.1 190.3h0M431.9 188.1h0M431.9 374.3h0M432.3 377.3h0M432.4 353.4h0M433.5 175.4h0M433.3 396.3h0M433.6 192.2h0M434.4 175.9h0M433.9 192.8h0M433.6 356.0h0M433.7 360.4h0M434.5 370.1h0M433.8 387.2h0M435.4 193.5h0M434.7 184.1h0M435.1 375.5h0M434.9 354.9h0M435.1 360.6h0M436.0 185.9h0M436.2 406.1h0M436.0 398.1h0M435.7 359.7h0M436.9 191.6h0M436.5 189.0h0M436.6 356.7h0M436.8 376.5h0M436.8 361.7h0M437.4 402.3h0M437.0 363.2h0M437.2 358.5h0M436.5 376.6h0M438.3 174.1h0M438.2 180.4h0M438.5 191.1h0M437.6 136.0h0M437.8 387.5h0M438.4 353.1h0M439.2 193.6h0M438.7 195.6h0M438.8 196.3h0M439.2 399.2h0M439.2 399.5h0M439.3 366.9h0M439.0 428.5h0M439.6 151.4h0M440.0 165.0h0M440.4 170.7h0M440.1 188.8h0M439.7 183.9h0M440.1 196.6h0M441.3 182.9h0M440.6 153.3h0M441.0 163.2h0M441.2 414.4h0M441.9 191.5h0M442.4 185.1h0M442.3 175.9h0M442.4 191.3h0M442.1 162.0h0M441.6 358.0h0M442.1 353.3h0M442.5 360.8h0M443.4 195.9h0M442.7 196.0h0M442.9 195.3h0M442.9 400.3h0M442.7 360.6h0M442.5 383.5h0M443.3 390.4h0M444.5 141.7h0M443.6 186.5h0M443.5 409.9h0M445.0 181.4h0M445.2 365.3h0M444.9 358.1h0M444.7 400.4h0M444.9 365.1h0M445.4 356.0h0M445.2 356.0h0M444.8 360.9h0M446.4 193.3h0M446.4 389.4h0M446.2 365.5h0M446.2 405.5h0M447.5 183.1h0M446.9 197.0h0M446.7 376.5h0M447.5 355.7h0M446.5 366.6h0M447.2 352.8h0M447.1 356.1h0M447.0 363.3h0M448.3 191.4h0M447.7 192.0h0M447.7 184.3h0M448.6 191.0h0M448.7 197.4h0M449.3 400.0h0M449.0 355.7h0M449.2 356.3h0M449.9 197.3h0M450.3 370.9h0M450.2 352.0h0M451.1 184.9h0M450.5 135.3h0M450.8 185.3h0M450.7 185.1h0M451.0 158.1h0M451.2 185.4h0M450.9 350.9h0M452.2 183.8h0M452.4 186.2h0M451.5 198.9h0M451.8 185.1h0M451.8 373.7h0M451.7 384.0h0M451.8 367.3h0M452.9 178.1h0M452.6 354.3h0M453.9 173.4h0M453.8 196.1h0M454.0 196.2h0M454.4 188.9h0M454.3 365.8h0M454.0 351.2h0M453.7 367.0h0M455.0 359.5h0M455.1 369.9h0M455.1 365.7h0M455.1 379.2h0M454.9 376.6h0M455.4 404.3h0M455.9 198.9h0M456.0 195.4h0M456.4 196.7h0M455.7 408.0h0M456.4 427.1h0M455.9 372.1h0M455.6 365.5h0M455.6 382.2h0M457.1 197.1h0M457.4 198.3h0M457.0 201.0h0M457.4 349.9h0M456.9 375.4h0M458.1 160.1h0M457.5 194.4h0M457.6 382.8h0M457.7 348.6h0M457.8 350.3h0M459.0 186.4h0M459.2 175.2h0M459.2 196.4h0M459.5 198.4h0M459.2 197.0h0M458.9 350.6h0M460.3 195.2h0M460.4 200.6h0M459.5 357.5h0M460.1 374.9h0M459.7 378.4h0M461.5 200.4h0M460.5 198.9h0M461.0 352.0h0M462.7 140.0h0M463.1 200.1h0M463.3 185.2h0M462.8 200.2h0M463.1 355.8h0M463.4 361.0h0M462.6 349.8h0M464.1 197.5h0M463.8 174.9h0M463.9 380.1h0M464.2 362.3h0M465.1 192.9h0M464.5 410.7h0M464.8 385.7h0M466.1 364.5h0M466.3 369.7h0M466.0 360.4h0M466.4 374.7h0M467.0 185.9h0M466.9 192.1h0M466.6 197.4h0M467.5 179.8h0M467.1 368.1h0M466.8 359.4h0M466.5 384.7h0M466.5 384.9h0M466.6 351.6h0M468.1 198.3h0M468.0 188.0h0M468.4 382.9h0M468.4 417.5h0M468.4 353.8h0M467.9 409.6h0M468.1 428.0h0M469.1 189.7h0M468.6 166.4h0M468.5 184.0h0M468.6 164.1h0M469.4 188.1h0M468.9 176.7h0M469.4 195.9h0M468.8 362.2h0M469.3 357.9h0M469.2 387.9h0M468.9 413.4h0M469.6 167.5h0M470.4 349.4h0M471.1 196.4h0M470.5 348.9h0M471.3 374.0h0M470.7 358.5h0M471.4 370.8h0M471.8 197.9h0M471.8 189.3h0M472.3 350.4h0M472.4 419.8h0M472.5 357.9h0M472.1 358.2h0M472.1 349.5h0M471.6 373.2h0M472.1 373.5h0M473.0 192.3h0M472.9 192.0h0M473.3 178.7h0M472.9 181.8h0M473.2 365.0h0M473.0 367.4h0M473.1 352.0h0M472.6 421.8h0M473.0 373.1h0M472.7 350.9h0M472.6 365.2h0M473.7 183.6h0M473.6 370.7h0M474.5 354.1h0M475.3 171.1h0M474.9 188.6h0M475.1 161.2h0M474.8 349.3h0M474.9 351.3h0M475.5 386.2h0M475.5 179.3h0M476.0 192.9h0M476.1 182.9h0M475.8 155.8h0M475.7 363.0h0M476.7 197.0h0M476.8 191.2h0M477.3 369.3h0M477.8 174.1h0M478.1 196.4h0M478.3 180.1h0M478.2 390.2h0M478.2 388.4h0M478.3 348.2h0M478.6 191.6h0M479.1 185.3h0M478.5 167.2h0M480.3 183.7h0M480.4 179.2h0M480.4 188.9h0M480.2 382.7h0M479.7 376.1h0M479.7 364.2h0M481.3 191.3h0M480.7 180.8h0M480.7 177.3h0M481.4 173.6h0M480.8 405.7h0M481.0 348.9h0M481.8 184.8h0M482.1 160.6h0M482.3 158.2h0M482.2 191.2h0M481.9 347.0h0M482.3 354.9h0M482.7 186.1h0M482.9 173.2h0M482.7 183.8h0M482.5 147.4h0M482.9 403.1h0M482.7 387.4h0M483.3 354.4h0M483.4 380.5h0M483.7 186.3h0M484.4 396.6h0M484.4 417.1h0M484.4 394.7h0M484.5 352.8h0M484.0 374.7h0M485.3 159.3h0M485.1 173.3h0M484.9 171.4h0M484.5 182.1h0M484.9 358.9h0M485.2 355.8h0M485.9 189.9h0M486.0 172.3h0M486.3 359.7h0M485.6 370.0h0M485.9 384.2h0M487.2 158.6h0M486.7 184.2h0M486.8 191.1h0M487.0 162.0h0M487.1 169.2h0M487.0 188.1h0M487.0 134.5h0M487.1 189.7h0M487.6 163.4h0M488.1 171.2h0M487.8 357.0h0M487.6 418.2h0M487.9 346.8h0M488.3 347.4h0M488.3 373.8h0M489.3 188.6h0M488.7 181.4h0M489.3 190.9h0M489.2 130.7h0M488.8 148.2h0M490.4 174.5h0M490.1 190.7h0M490.3 397.3h0M491.4 188.0h0M491.2 191.2h0M492.1 165.0h0M492.6 191.7h0M493.1 181.9h0M492.6 174.3h0M492.6 185.6h0M492.7 366.8h0M492.8 393.4h0M493.2 354.4h0M493.0 350.2h0M493.8 139.4h0M494.1 191.2h0M494.0 151.9h0M493.8 179.8h0M494.4 181.3h0M494.0 374.1h0M494.8 188.7h0M494.7 381.9h0M494.6 377.2h0M495.2 372.3h0M496.4 166.8h0M495.8 185.8h0M495.6 155.1h0M496.4 418.0h0M495.7 378.3h0M496.2 352.7h0M495.7 389.9h0M497.3 189.9h0M497.5 189.9h0M496.9 352.1h0M497.3 358.5h0M497.6 178.1h0M497.8 173.7h0M497.9 366.3h0M498.3 360.2h0M498.6 188.4h0M499.1 149.8h0M498.5 361.6h0M499.4 354.7h0M498.6 351.2h0M499.8 178.2h0M499.9 186.1h0M500.0 184.3h0M500.4 362.8h0M501.0 183.1h0M501.3 168.4h0M500.5 145.4h0M501.4 150.9h0M501.4 372.2h0M501.0 375.6h0M500.6 356.2h0M502.3 154.6h0M502.0 189.6h0M501.7 135.4h0M502.4 130.9h0M502.0 156.4h0M502.5 183.6h0M502.3 407.8h0M501.6 395.6h0M501.9 391.0h0M502.0 393.5h0M503.4 185.1h0M503.0 184.8h0M502.8 391.8h0M502.8 360.4h0M503.7 432.3h0M503.8 359.0h0M504.2 391.0h0M505.4 175.9h0M505.3 168.8h0M504.9 128.7h0M504.5 189.7h0M504.9 356.5h0M505.1 384.1h0M505.3 362.4h0M504.6 433.4h0M505.7 182.8h0M506.1 191.2h0M506.2 412.0h0M506.2 380.1h0M506.1 425.6h0M506.3 383.1h0M506.9 183.2h0M507.8 161.2h0M508.4 192.1h0M508.2 357.7h0M507.5 367.9h0M507.6 357.5h0M507.6 376.4h0M508.8 188.4h0M508.5 354.0h0M508.8 356.0h0M509.9 192.0h0M510.2 355.1h0M510.5 147.0h0M511.2 175.8h0M510.5 181.1h0M511.5 171.6h0M511.5 352.9h0M512.3 188.5h0M512.3 191.5h0M511.6 401.0h0M511.5 396.0h0M511.6 374.6h0M511.6 380.7h0M512.7 150.8h0M513.0 187.8h0M513.4 139.3h0M513.5 186.8h0M513.4 180.8h0M512.6 418.5h0M513.1 360.6h0M513.7 391.7h0M514.1 366.3h0M515.4 361.3h0M515.2 349.3h0M515.5 152.6h0M516.3 192.0h0M516.4 352.5h0M515.6 356.1h0M518.1 363.2h0M518.4 383.8h0M518.5 422.5h0M517.5 360.0h0M518.3 398.5h0M518.7 189.3h0M519.0 161.8h0M518.9 364.0h0M519.0 383.0h0M518.8 393.8h0M518.9 383.9h0M519.0 381.6h0M520.1 195.1h0M519.7 184.8h0M520.5 184.9h0M520.2 359.6h0M521.4 182.8h0M520.9 166.0h0M520.9 162.4h0M521.4 190.7h0M521.1 164.6h0M520.5 174.9h0M521.4 348.9h0M520.7 348.8h0M521.0 396.7h0M521.3 392.1h0M520.9 368.3h0M521.1 362.1h0M522.4 191.7h0M521.6 191.5h0M522.1 184.0h0M521.9 402.9h0M522.3 413.0h0M522.1 365.5h0M522.5 182.6h0M522.8 361.8h0M523.1 376.9h0M523.1 397.3h0M522.6 368.4h0M522.7 354.5h0M524.3 194.4h0M524.5 367.8h0M524.3 359.9h0M525.0 147.8h0M524.9 192.7h0M525.2 195.3h0M525.3 190.8h0M525.2 355.4h0M525.1 354.1h0M525.1 349.8h0M525.6 188.5h0M526.5 358.5h0M526.2 357.5h0M527.5 189.5h0M527.2 195.2h0M527.3 388.5h0M527.2 358.0h0M527.3 367.2h0M526.6 355.5h0M527.2 394.4h0M527.5 391.7h0M526.9 380.4h0M528.3 186.3h0M528.0 193.0h0M528.0 179.4h0M527.5 356.7h0M527.7 353.0h0M529.2 171.4h0M529.0 195.1h0M529.3 354.9h0M529.2 385.4h0M529.1 348.6h0M528.6 358.4h0M529.9 379.6h0M530.2 351.1h0M529.9 396.0h0M529.6 351.7h0M530.1 351.6h0M531.1 142.4h0M531.4 170.4h0M531.2 196.4h0M530.7 130.8h0M531.0 164.1h0M531.5 183.6h0M530.7 358.8h0M530.6 351.7h0M532.0 174.2h0M532.2 141.9h0M532.2 164.1h0M532.8 173.0h0M533.1 372.2h0M533.2 359.2h0M532.8 351.3h0M533.7 197.1h0M534.2 368.1h0M533.7 379.7h0M534.5 375.6h0M534.0 371.9h0M533.8 389.5h0M534.1 352.0h0M535.4 188.6h0M535.3 192.3h0M534.9 191.5h0M534.5 191.5h0M535.2 393.1h0M534.9 356.3h0M534.7 365.3h0M535.9 195.2h0M536.0 189.1h0M536.4 186.9h0M536.0 194.2h0M535.6 354.1h0M536.2 363.3h0M535.7 398.2h0M536.2 350.1h0M537.2 189.9h0M537.4 142.5h0M536.8 195.2h0M536.8 189.5h0M536.7 160.6h0M536.8 402.8h0M536.6 428.7h0M536.5 351.6h0M537.4 424.2h0M537.4 412.6h0M538.3 192.0h0M537.7 194.0h0M538.3 182.9h0M537.8 157.2h0M537.7 381.9h0M539.1 181.0h0M539.3 148.6h0M538.5 185.6h0M539.4 190.9h0M540.1 181.3h0M539.8 372.6h0M540.0 397.6h0M540.5 351.7h0M540.1 396.2h0M540.9 196.0h0M541.0 410.2h0M541.3 386.0h0M540.9 362.1h0M540.6 392.0h0M542.0 175.1h0M542.5 173.1h0M542.0 183.5h0M542.4 162.0h0M542.1 373.1h0M542.5 169.8h0M542.8 195.2h0M543.0 192.0h0M543.3 185.6h0M543.3 186.7h0M543.2 359.9h0M543.1 352.6h0M542.9 407.2h0M542.9 357.8h0M543.0 358.7h0M543.4 377.8h0M543.6 189.3h0M543.5 365.4h0M544.1 365.9h0M544.1 372.0h0M544.0 370.7h0M543.5 379.2h0M543.9 368.7h0M544.9 188.2h0M545.4 188.9h0M545.4 194.1h0M544.7 405.2h0M545.3 430.8h0M544.8 378.0h0M546.2 193.6h0M546.4 187.8h0M545.8 179.1h0M545.6 175.2h0M546.0 138.7h0M546.2 177.0h0M546.0 173.3h0M545.7 372.8h0M545.6 360.2h0M546.3 377.6h0M547.2 194.4h0M546.9 143.1h0M547.5 193.1h0M547.7 192.8h0M548.2 355.2h0M548.1 367.4h0M547.8 350.2h0M548.2 352.9h0M549.4 194.5h0M548.7 376.5h0M549.8 178.6h0M550.0 194.2h0M549.7 189.9h0M550.4 407.8h0M550.2 390.2h0M550.4 348.1h0M549.8 350.8h0M550.3 379.4h0M550.9 191.8h0M551.2 181.7h0M550.5 349.4h0M550.7 366.0h0M551.9 187.5h0M551.8 350.6h0M551.9 355.4h0M553.4 183.5h0M553.2 185.4h0M552.8 380.8h0M552.7 354.0h0M553.0 368.4h0M553.5 195.3h0M553.8 364.5h0M554.0 410.2h0M554.3 358.9h0M555.0 182.6h0M554.7 194.0h0M554.6 189.0h0M555.3 371.1h0M554.7 348.0h0M554.7 349.8h0M554.6 379.6h0M556.4 156.9h0M556.4 182.8h0M556.1 182.7h0M556.3 371.0h0M556.4 393.1h0M556.4 362.9h0M555.7 375.8h0M557.3 182.5h0M557.2 382.0h0M557.0 385.3h0M556.8 389.6h0M557.9 162.1h0M559.2 150.6h0M558.7 163.4h0M558.8 347.4h0M558.9 356.7h0M560.0 180.5h0M560.4 196.3h0M561.0 186.2h0M561.1 191.7h0M561.0 199.0h0M561.4 353.4h0M562.2 154.3h0M562.5 178.9h0M561.9 159.3h0M562.4 142.7h0M562.1 190.6h0M561.7 194.6h0M561.7 173.9h0M562.7 196.9h0M563.1 348.5h0M563.0 361.3h0M563.0 355.6h0M562.7 357.0h0M563.5 350.8h0M563.0 362.4h0M564.2 190.3h0M564.3 197.3h0M563.8 393.5h0M563.5 376.8h0M563.6 347.8h0M563.5 412.3h0M564.5 359.1h0M564.4 374.8h0M563.6 374.8h0M563.6 372.9h0M564.5 348.2h0M563.5 365.9h0M564.9 416.6h0M564.7 382.5h0M564.6 416.1h0M565.5 362.8h0M565.5 381.7h0M564.5 351.0h0M566.1 181.2h0M566.2 176.6h0M566.1 155.2h0M566.4 195.4h0M565.8 368.8h0M565.7 377.8h0M567.1 185.3h0M566.9 158.6h0M567.5 176.0h0M567.2 377.0h0M566.8 393.0h0M568.5 194.1h0M567.7 199.6h0M568.5 197.2h0M567.9 194.1h0M568.3 346.9h0M568.6 195.6h0M568.6 186.6h0M568.9 189.9h0M569.1 163.6h0M568.8 347.3h0M568.5 347.8h0M570.3 189.8h0M570.2 195.8h0M570.3 356.5h0M569.5 357.8h0M569.8 370.2h0M570.2 369.7h0M571.3 344.8h0M571.6 173.0h0M571.6 190.3h0M571.6 191.9h0M572.2 363.0h0M572.5 351.3h0M573.5 148.3h0M573.1 393.7h0M573.1 379.7h0M573.0 356.3h0M573.8 189.5h0M574.4 357.8h0M573.9 391.2h0M575.3 154.9h0M574.6 186.5h0M574.8 182.6h0M574.9 163.7h0M574.9 141.6h0M575.3 184.7h0M575.5 173.3h0M575.4 349.9h0M575.1 387.8h0M575.0 344.5h0M575.3 354.7h0M575.4 347.2h0M576.4 190.8h0M575.7 186.4h0M575.6 164.7h0M576.1 132.5h0M576.1 344.6h0M577.2 365.7h0M576.7 365.2h0M576.8 419.9h0M576.8 356.4h0M578.5 156.6h0M578.2 180.6h0M577.6 180.1h0M578.5 189.1h0M578.4 180.8h0M579.1 138.2h0M578.7 160.5h0M578.5 192.7h0M578.6 170.3h0M579.1 356.2h0M579.1 354.8h0M579.6 180.6h0M579.6 186.6h0M580.0 193.8h0M580.4 175.4h0M580.3 170.2h0M580.2 342.7h0M580.5 187.1h0M580.9 391.1h0M581.0 349.9h0M580.8 388.2h0M580.7 392.6h0M581.0 352.7h0M580.7 357.6h0M580.8 355.8h0M581.7 162.7h0M582.0 194.3h0M582.4 164.2h0M582.3 175.5h0M581.9 370.2h0M582.9 188.4h0M582.6 362.5h0M582.5 353.2h0M583.0 345.4h0M582.9 402.4h0M584.4 194.7h0M584.4 149.7h0M584.5 151.3h0M584.2 347.2h0M583.8 386.9h0M583.5 352.3h0M584.6 195.9h0M584.6 353.1h0M585.3 349.1h0M585.7 173.2h0M585.8 179.1h0M585.7 401.7h0M585.6 388.3h0M586.8 195.3h0M586.7 135.2h0M587.4 188.9h0M587.0 162.6h0M586.6 194.3h0M587.5 194.6h0M587.0 189.6h0M587.0 176.6h0M586.6 151.6h0M587.1 151.1h0M587.4 194.4h0M586.7 356.6h0M586.7 354.6h0M588.3 193.1h0M587.7 192.2h0M588.2 192.9h0M587.8 184.2h0M587.8 363.7h0M587.9 380.0h0M587.6 346.9h0M587.9 345.2h0M588.2 352.8h0M589.2 190.9h0M589.4 194.4h0M588.5 186.4h0M589.4 187.1h0M589.0 187.9h0M588.9 348.6h0M588.5 374.6h0M588.7 347.6h0M590.4 346.6h0M591.2 182.4h0M590.9 192.9h0M590.8 374.0h0M590.6 353.2h0M591.0 361.4h0M591.4 347.2h0M590.6 381.5h0M590.6 357.7h0M591.3 356.4h0M591.5 192.2h0M591.9 191.3h0M592.5 196.4h0M592.3 177.0h0M591.8 195.8h0M591.7 397.1h0M592.4 352.3h0M591.5 380.9h0M591.6 353.1h0M593.2 187.9h0M593.4 170.3h0M593.4 354.5h0M592.7 362.0h0M593.5 351.6h0M592.7 364.3h0M592.7 364.2h0M593.7 185.9h0M593.8 191.9h0M593.8 191.6h0M594.1 146.9h0M593.9 183.4h0M593.5 147.5h0M593.6 194.3h0M593.7 351.0h0M594.0 368.5h0M594.3 424.6h0M594.0 415.8h0M595.1 414.5h0M595.5 356.7h0M594.6 386.7h0M596.4 197.0h0M596.1 390.7h0M595.8 349.5h0M596.1 353.6h0M596.0 352.3h0M596.6 196.1h0M596.8 370.2h0M597.0 371.3h0M598.6 191.0h0M599.4 192.9h0M599.2 390.4h0M598.6 364.3h0M598.6 424.9h0M598.9 358.5h0M598.9 359.2h0M598.6 357.8h0M599.4 404.1h0M599.0 361.7h0M600.2 193.9h0M599.5 145.7h0M599.7 183.4h0M600.1 186.6h0M600.5 196.5h0M600.4 154.4h0M599.8 362.9h0M599.8 352.0h0M600.7 192.1h0M600.6 152.8h0M601.4 183.1h0M600.8 179.2h0M600.7 381.2h0M600.6 375.6h0M601.5 375.8h0M601.3 363.9h0M600.9 382.3h0M602.3 176.8h0M602.3 137.0h0M601.9 187.3h0M601.5 161.8h0M601.9 164.6h0M602.0 150.1h0M601.8 434.5h0M602.3 417.6h0M601.8 421.2h0M602.3 375.5h0M601.5 354.7h0M603.4 168.2h0M603.0 188.0h0M602.9 192.4h0M602.6 368.2h0M604.0 186.4h0M603.7 195.1h0M603.6 190.4h0M603.7 377.6h0M603.9 373.1h0M605.4 191.5h0M605.2 173.6h0M605.3 381.0h0M605.1 352.6h0M605.2 366.8h0M605.1 377.5h0M606.0 192.2h0M605.5 379.2h0M606.0 391.0h0M606.4 358.4h0M607.1 192.2h0M607.4 369.2h0M608.1 179.4h0M607.8 159.6h0M607.6 186.8h0M607.5 188.3h0M608.0 190.1h0M608.2 435.0h0M607.8 386.5h0M608.5 417.9h0M608.5 416.8h0M608.3 356.0h0M607.7 355.7h0M608.8 163.1h0M608.8 181.3h0M608.8 192.3h0M608.6 364.8h0M609.8 187.5h0M610.8 175.2h0M610.7 182.9h0M611.1 157.2h0M610.9 415.7h0M610.8 414.5h0M610.6 394.1h0M611.0 356.1h0M611.2 395.4h0M610.8 352.8h0M610.8 358.4h0M611.2 379.9h0M612.0 366.4h0M612.9 181.3h0M613.4 187.9h0M613.4 374.4h0M613.1 390.6h0M612.8 373.2h0M613.4 363.8h0M613.3 405.5h0M612.6 424.1h0M613.7 178.7h0M614.4 359.6h0M614.7 190.4h0M615.3 179.4h0M614.8 139.5h0M615.0 369.8h0M614.6 354.0h0M614.7 356.3h0M615.1 364.6h0M615.9 187.3h0M616.1 178.5h0M615.6 414.0h0M616.3 399.1h0M615.6 395.8h0M616.1 379.8h0M615.7 370.4h0M616.8 184.1h0M617.2 191.7h0M616.8 354.6h0M618.2 188.6h0M618.5 384.5h0M617.6 365.0h0M618.3 358.3h0M618.1 420.5h0M618.3 394.9h0M618.1 389.6h0M618.8 189.9h0M619.4 170.6h0M620.3 174.6h0M621.4 363.3h0M621.3 360.0h0M621.8 191.5h0M622.0 190.9h0M622.2 148.4h0M621.7 382.1h0M621.9 383.2h0M622.5 185.9h0M623.2 176.0h0M622.8 148.2h0M623.4 365.7h0M623.8 191.3h0M624.0 186.8h0M623.6 193.2h0M623.6 188.5h0M624.3 189.7h0M623.9 371.5h0M624.4 367.8h0M624.3 356.1h0M624.9 181.2h0M625.5 188.0h0M625.2 170.3h0M625.5 189.9h0M626.4 173.4h0M625.8 147.9h0M625.8 184.1h0M625.6 394.0h0M627.0 155.3h0M627.4 155.6h0M626.5 192.2h0M627.1 191.2h0M627.4 166.7h0M626.5 172.9h0M626.6 368.2h0M626.9 358.8h0M628.0 194.6h0M628.5 360.1h0M627.7 358.2h0M629.4 192.3h0M628.9 365.3h0M629.0 358.4h0M629.5 193.6h0M629.7 379.1h0M630.1 423.8h0M630.3 385.8h0M629.8 396.6h0M631.4 179.9h0M631.2 360.1h0M630.8 397.7h0M630.7 358.0h0M631.2 362.6h0M632.3 376.1h0M632.3 366.5h0M632.6 140.2h0M632.5 196.5h0M632.5 144.0h0M633.2 173.3h0M632.6 156.3h0M633.2 195.4h0M632.9 383.8h0M634.0 158.9h0M634.1 194.5h0M634.2 197.5h0M633.6 137.3h0M633.6 194.0h0M633.6 407.5h0M634.3 380.9h0M633.9 371.4h0M635.4 364.1h0M635.5 363.1h0M635.3 363.7h0M636.5 152.4h0M636.0 358.7h0M635.5 368.5h0M637.4 164.8h0M637.2 430.0h0M637.5 428.5h0M637.1 365.9h0M637.5 396.5h0M637.3 374.8h0M638.3 189.1h0M638.2 388.0h0M637.9 392.1h0M638.0 402.0h0M637.9 437.4h0M638.0 374.5h0M638.0 369.5h0M638.4 371.8h0M638.9 183.9h0M639.1 372.4h0M639.1 372.5h0M639.0 358.7h0M639.3 363.7h0M639.6 187.7h0M640.0 358.0h0M639.8 368.8h0M640.5 390.7h0M639.9 355.5h0M639.8 365.3h0M640.9 180.4h0M641.3 192.4h0M640.9 186.5h0M641.4 190.2h0M640.6 361.3h0M640.9 356.7h0M641.3 357.6h0M642.0 194.4h0M642.1 181.1h0M641.8 381.4h0M643.5 150.7h0M643.0 194.9h0M643.0 199.3h0M643.3 384.5h0M643.5 356.9h0M643.1 384.1h0M642.7 392.5h0M642.6 408.3h0M644.3 197.5h0M644.0 185.3h0M644.4 370.3h0M644.1 355.3h0M643.9 354.2h0M643.6 370.2h0M643.9 373.7h0M645.9 362.6h0M646.0 353.8h0M647.1 188.7h0M646.7 359.2h0M647.7 193.4h0M647.7 164.8h0M648.5 137.4h0M647.9 162.9h0M647.6 195.3h0M648.0 408.4h0M647.7 436.8h0M648.3 407.8h0M648.5 355.9h0M647.6 371.1h0M649.3 368.8h0M648.7 366.5h0M649.5 355.7h0M650.1 188.1h0M649.9 355.6h0M649.9 362.1h0M651.0 141.7h0M651.3 195.7h0M651.1 186.7h0M651.5 424.8h0M650.6 353.6h0M650.8 373.9h0M651.3 356.3h0M650.7 387.6h0M651.2 409.2h0M652.2 184.1h0M652.5 197.2h0M652.3 366.8h0M653.5 188.1h0M653.1 197.7h0M652.7 179.6h0M653.2 199.4h0M653.0 365.9h0M653.1 434.3h0M653.1 415.1h0M653.1 387.0h0M652.9 374.8h0M652.5 432.8h0M654.2 199.1h0M654.3 198.7h0M654.0 198.1h0M654.0 188.6h0M654.1 380.2h0M654.4 389.6h0M654.5 394.4h0M654.1 361.9h0M654.5 360.0h0M654.1 379.0h0M654.5 361.7h0M655.4 169.9h0M654.7 134.7h0M655.1 151.8h0M654.8 362.7h0M655.5 372.6h0M655.8 188.3h0M656.4 194.6h0M655.9 159.5h0M657.4 196.1h0M657.0 186.1h0M657.2 384.1h0M657.0 356.0h0M658.2 179.7h0M657.9 188.8h0M658.3 169.7h0M657.6 382.8h0M658.3 399.6h0M658.3 370.9h0M658.3 429.1h0M657.9 367.8h0M658.3 406.5h0M658.1 357.0h0M658.1 393.4h0M659.0 193.5h0M658.9 171.3h0M658.9 394.0h0M658.9 363.4h0M660.1 176.3h0M659.6 161.6h0M659.6 187.7h0M659.7 168.1h0M660.3 175.5h0M660.3 374.8h0M660.1 357.4h0M660.5 179.4h0M660.6 194.1h0M661.2 171.9h0M660.7 184.8h0M661.3 192.3h0M660.9 365.2h0M660.8 392.6h0M660.8 372.0h0M661.9 190.4h0M662.5 379.1h0M662.1 408.0h0M662.4 360.1h0M662.8 174.0h0M663.0 145.0h0M663.4 192.9h0M663.3 190.0h0M663.5 388.3h0M663.7 178.9h0M663.7 184.0h0M663.9 404.8h0M663.7 359.7h0M664.2 361.8h0M665.0 133.8h0M665.3 142.2h0M665.1 361.8h0M665.0 380.3h0M664.9 370.1h0M665.4 383.1h0M665.1 383.4h0M664.5 376.3h0M665.1 368.2h0M665.5 181.4h0M665.7 164.7h0M666.3 169.5h0M667.1 186.2h0M667.2 367.5h0M667.6 173.2h0M667.5 367.4h0M667.9 376.5h0M667.9 379.9h0M667.8 400.5h0M669.1 177.7h0M668.5 191.7h0M669.1 189.5h0M669.4 183.3h0M668.8 161.3h0M669.4 143.5h0M669.3 394.7h0M669.2 387.1h0M669.5 401.1h0M668.7 367.3h0M668.6 368.4h0M669.3 379.8h0M669.5 369.9h0M670.2 189.4h0M669.9 188.3h0M670.2 161.8h0M669.7 194.1h0M670.3 194.3h0M669.8 149.3h0M670.4 175.3h0M669.7 423.4h0M669.6 438.7h0M669.6 404.0h0M670.3 370.5h0M670.4 367.8h0M670.4 372.2h0M670.5 372.6h0M671.4 444.8h0M670.8 395.5h0M671.2 374.2h0M670.8 368.1h0M671.0 366.2h0M671.1 387.8h0M671.0 401.6h0M672.1 186.7h0M672.0 156.7h0M672.4 180.8h0M672.2 176.2h0M672.1 417.4h0M672.5 406.1h0M672.6 185.5h0M673.3 130.7h0M672.6 136.9h0M673.4 366.6h0M673.0 370.0h0M674.0 192.0h0M674.3 179.7h0M673.6 377.3h0M674.3 392.5h0M674.1 381.3h0M674.6 182.9h0M675.2 183.9h0M675.0 188.0h0M675.5 170.0h0M674.8 374.2h0M675.2 366.5h0M676.3 155.4h0M675.9 400.3h0M675.7 422.0h0M675.9 377.7h0M676.6 184.5h0M677.4 161.8h0M677.2 176.1h0M677.2 391.9h0M677.2 374.8h0M677.2 388.1h0M677.4 374.6h0M677.1 392.6h0M676.7 377.0h0M677.5 173.9h0M677.5 160.2h0M678.3 190.1h0M678.3 370.1h0M678.2 372.4h0M677.8 384.2h0M677.8 416.7h0M677.7 447.8h0M677.6 401.3h0M678.3 385.8h0M678.6 187.4h0M678.7 145.6h0M678.8 380.2h0M678.9 403.6h0M679.4 369.2h0M679.0 369.2h0M678.7 372.7h0M680.4 183.4h0M680.1 185.9h0M679.8 189.7h0M679.9 372.8h0M681.4 190.3h0M680.7 171.4h0M681.5 385.4h0M681.0 405.3h0M680.7 371.0h0M682.1 159.2h0M681.8 184.0h0M681.7 127.0h0M682.1 178.5h0M681.5 173.6h0M682.1 151.8h0M681.6 174.6h0M682.5 417.1h0M682.2 391.4h0M683.1 421.0h0M683.0 374.4h0M683.9 450.2h0M683.9 404.4h0M684.1 416.1h0M684.0 441.3h0M684.7 183.5h0M684.9 186.8h0M684.5 175.9h0M684.6 167.6h0M684.6 139.0h0M684.5 166.0h0M684.7 369.4h0M684.9 434.6h0M684.6 398.5h0M685.2 370.1h0M684.6 410.6h0M685.4 370.7h0M685.6 425.0h0M686.0 372.1h0M686.2 386.2h0M685.6 388.5h0M685.9 393.3h0M686.8 179.4h0M687.5 373.3h0M687.4 371.5h0M687.0 372.1h0M687.0 377.2h0M686.7 372.6h0M688.0 166.2h0M687.9 153.3h0M687.7 131.8h0M688.5 186.5h0M688.4 411.2h0M687.7 400.7h0M688.1 386.1h0M688.2 374.8h0M688.5 384.1h0M687.8 373.9h0M687.9 407.3h0M687.5 397.8h0M687.6 403.4h0M689.1 167.1h0M688.6 176.3h0M689.0 185.3h0M689.1 183.5h0M688.7 426.6h0M688.7 393.3h0M689.2 435.5h0M689.3 401.3h0M689.2 405.9h0M690.0 179.8h0M690.1 387.6h0M690.1 393.2h0M690.2 372.5h0M690.4 376.2h0M689.7 373.7h0M691.3 182.4h0M690.7 377.7h0M690.8 400.0h0M692.4 178.1h0M692.0 185.2h0M692.1 177.4h0M692.3 373.7h0M692.7 375.0h0M693.4 385.5h0M693.1 382.5h0M693.1 401.6h0M693.9 177.8h0M693.8 154.8h0M694.2 129.6h0M694.2 182.0h0M693.6 184.8h0M693.5 383.3h0M693.8 416.8h0M693.7 383.8h0M694.4 390.2h0M695.0 185.9h0M694.6 181.7h0M695.0 184.6h0M696.4 176.6h0M696.3 181.7h0M696.4 382.1h0M696.8 182.6h0M696.7 184.8h0M696.7 158.0h0M696.6 158.1h0M697.4 179.4h0M697.6 421.3h0M698.2 373.1h0M698.6 171.4h0M698.7 403.0h0M699.5 394.8h0M699.3 419.5h0M698.5 380.5h0M700.1 140.7h0M699.8 184.8h0M699.6 164.1h0M700.3 379.1h0M699.5 378.2h0M700.0 374.7h0M699.7 379.7h0M700.0 394.2h0M701.2 175.1h0M700.6 176.6h0M700.8 164.5h0M700.6 174.2h0M701.1 147.1h0M701.5 170.6h0M700.7 443.7h0M700.8 449.2h0M700.9 433.4h0M701.1 392.1h0M702.0 151.5h0M701.8 183.9h0M702.0 404.9h0M701.5 385.0h0M702.0 391.8h0M701.8 427.4h0M703.2 180.2h0M703.2 167.6h0M703.3 157.8h0M702.5 383.7h0M702.7 455.1h0M703.1 450.0h0M702.9 405.1h0M702.5 389.8h0M703.5 178.3h0M704.2 175.8h0M704.2 173.2h0M704.0 374.3h0M704.3 385.0h0M704.2 378.3h0M705.4 180.9h0M704.8 377.0h0M705.0 397.6h0M705.9 181.7h0M706.1 418.1h0M705.9 383.2h0M706.1 425.5h0M707.2 130.0h0M707.2 145.0h0M706.6 401.0h0M707.0 379.4h0M707.3 433.5h0M706.9 387.0h0M707.2 408.0h0M707.9 148.5h0M707.6 168.9h0M708.1 398.7h0M707.8 375.6h0M709.1 152.9h0M708.6 175.7h0M709.1 387.9h0M709.6 393.4h0M710.4 386.1h0M710.1 380.6h0M711.2 170.3h0M711.3 180.6h0M710.7 177.4h0M711.5 177.5h0M711.0 148.9h0M711.7 179.7h0M711.6 413.1h0M713.0 165.7h0M713.0 139.0h0M712.5 132.2h0M712.7 133.9h0M713.1 173.8h0M712.6 124.0h0M712.7 435.2h0M714.0 137.1h0M714.4 154.5h0M713.5 160.4h0M714.1 169.2h0M713.7 421.9h0M713.7 393.2h0M713.9 414.7h0M715.2 179.0h0M714.6 180.2h0M714.7 380.1h0M714.9 397.9h0M715.4 377.8h0M714.7 417.0h0M716.3 155.6h0M716.1 141.4h0M715.9 421.2h0M715.9 438.6h0M715.9 418.4h0M716.0 384.7h0M715.9 396.3h0M717.4 141.9h0M716.7 143.7h0M716.8 178.3h0M716.7 174.2h0M716.8 122.8h0M716.5 157.1h0M717.5 387.3h0M717.2 381.4h0M718.3 170.7h0M718.5 147.8h0M717.7 157.8h0M717.7 174.3h0M719.1 162.1h0M719.2 381.6h0M718.7 380.0h0M718.7 394.1h0M719.6 406.3h0M721.1 415.8h0M722.2 152.3h0M722.1 377.6h0M722.5 163.6h0M722.9 165.2h0M722.7 128.0h0M723.0 166.4h0M722.8 390.1h0M723.0 392.1h0M723.2 427.1h0M723.2 391.0h0M723.4 391.9h0M723.1 380.0h0M724.1 175.4h0M723.7 177.6h0M724.0 144.3h0M723.7 169.0h0M723.6 411.3h0M724.0 414.1h0M725.2 114.4h0M725.0 126.5h0M724.9 175.1h0M725.1 380.5h0M725.3 397.6h0M725.4 396.4h0M726.2 127.5h0M726.1 155.8h0M725.8 151.3h0M725.9 140.1h0M725.8 169.8h0M726.2 119.2h0M725.9 161.9h0M726.4 151.9h0M726.2 151.0h0M725.6 449.3h0M725.5 383.9h0M726.4 378.2h0M727.1 174.1h0M726.8 156.0h0M726.7 176.2h0M727.2 174.6h0M727.0 158.6h0M727.0 415.0h0M727.1 386.3h0M727.5 381.4h0M727.2 429.2h0M727.9 151.4h0M728.0 136.4h0M728.1 126.1h0M727.9 144.0h0M727.7 386.4h0M728.1 394.5h0M728.3 415.2h0M729.3 176.3h0M729.4 162.3h0M729.4 168.7h0M728.6 379.5h0M728.6 423.7h0M728.6 426.7h0M728.9 449.9h0M729.9 122.7h0M730.3 175.0h0M730.1 452.6h0M730.4 390.2h0M729.9 394.4h0M730.1 394.8h0M729.6 391.7h0M730.2 379.1h0M731.5 175.1h0M731.4 162.7h0M731.4 430.7h0M730.9 399.2h0M731.1 389.1h0M731.9 174.4h0M732.2 141.1h0M731.6 130.2h0M731.8 165.5h0M731.8 381.0h0M732.3 398.4h0M731.9 402.1h0M731.7 408.2h0M732.3 379.6h0M732.2 380.1h0M733.4 375.7h0M732.8 382.8h0M734.0 180.8h0M733.8 139.9h0M734.3 147.0h0M733.7 175.3h0M733.7 376.0h0M735.1 169.6h0M735.0 178.4h0M734.5 381.7h0M736.2 170.5h0M735.7 448.7h0M735.8 383.2h0M736.0 378.5h0M735.9 386.9h0M737.3 161.7h0M736.8 175.4h0M737.1 166.3h0M736.7 381.5h0M738.5 161.7h0M737.7 383.4h0M738.0 392.3h0M737.9 398.1h0M737.5 395.9h0M737.5 394.4h0M738.4 412.7h0M737.6 405.3h0M737.6 386.2h0M739.2 151.6h0M738.8 162.8h0M738.6 412.3h0M739.1 389.3h0M738.8 411.4h0M739.0 389.5h0M738.8 421.8h0M740.2 154.9h0M739.9 127.0h0M739.6 424.4h0M739.7 398.0h0M740.5 396.4h0M740.1 399.6h0M741.3 167.5h0M741.3 111.3h0M741.4 130.7h0M741.9 168.4h0M742.5 170.0h0M742.1 160.3h0M743.0 179.0h0M742.5 180.6h0M743.2 164.0h0M743.4 161.8h0M743.3 168.4h0M743.5 173.6h0M742.6 174.5h0M742.8 168.2h0M742.8 172.7h0M743.5 158.3h0M742.5 153.3h0M743.3 378.9h0M744.1 184.5h0M745.1 188.5h0M745.0 188.3h0M745.2 178.2h0M745.3 187.1h0M746.2 191.8h0M748.5 166.7h0M748.1 192.5h0M748.7 193.9h0M749.0 179.4h0M750.3 177.8h0M750.0 188.0h0M750.3 192.6h0M749.9 290.0h0M751.0 198.6h0M751.3 195.1h0M750.8 197.6h0M751.8 157.0h0M751.8 194.8h0M751.6 193.8h0M753.0 161.5h0M754.6 195.4h0M756.4 185.9h0M756.4 178.7h0M756.2 197.5h0M756.5 197.1h0M756.4 146.4h0M757.3 194.8h0M758.4 188.3h0M757.9 193.3h0M758.2 278.1h0M757.6 281.1h0M758.0 282.9h0M757.7 278.8h0M758.0 290.4h0M758.3 283.3h0M759.4 198.5h0M759.4 285.9h0M759.2 328.1h0M758.6 299.6h0M758.9 295.7h0M759.2 313.6h0M758.5 289.2h0M759.0 282.7h0M760.4 286.4h0M759.7 289.5h0M760.3 288.8h0M760.7 298.9h0M760.7 304.3h0M761.1 289.1h0M761.3 310.6h0M761.8 310.2h0M762.2 286.6h0M761.6 302.2h0M762.2 332.6h0M762.3 292.1h0M761.5 353.7h0M762.4 295.2h0M761.8 330.1h0M762.0 293.9h0M762.7 197.3h0M762.8 191.0h0M763.4 315.5h0M763.4 318.2h0M762.8 324.2h0M762.6 300.6h0M764.5 190.8h0M763.7 309.9h0M763.5 315.2h0M764.7 319.4h0M764.6 314.6h0M764.8 301.1h0M765.0 298.5h0M764.8 315.2h0M766.3 195.1h0M766.1 181.2h0M766.5 164.9h0M766.4 358.7h0M766.2 319.9h0M766.1 327.3h0M765.8 374.6h0M766.0 368.6h0M767.2 324.9h0M767.4 293.4h0M767.0 298.6h0M767.2 295.3h0M767.3 296.3h0M766.6 311.0h0M767.6 194.1h0M768.0 165.9h0M767.6 335.9h0M767.8 295.1h0M768.9 199.1h0M769.0 315.5h0M768.6 304.9h0M769.1 300.8h0M768.8 305.9h0M768.5 376.1h0M768.9 325.0h0M769.1 354.3h0M770.1 308.4h0M770.5 312.6h0M770.6 190.2h0M771.4 321.5h0M770.9 330.2h0M770.7 349.8h0M771.0 308.4h0M770.8 309.2h0M771.4 310.3h0M771.2 345.0h0M771.5 302.6h0M771.2 343.8h0M772.0 178.6h0M771.7 293.7h0M772.3 297.5h0M773.2 362.6h0M773.5 162.7h0M774.4 328.6h0M773.7 340.2h0M773.7 302.1h0M773.7 306.2h0M774.7 200.0h0M775.0 157.8h0M775.3 325.9h0M775.3 311.8h0M775.4 332.3h0M775.2 342.1h0M775.1 313.3h0M775.5 345.8h0M775.7 181.5h0M775.7 174.3h0M776.1 298.5h0M775.9 351.2h0M777.5 197.9h0M776.8 198.9h0M777.0 295.4h0M777.4 298.9h0M777.0 293.9h0M776.6 293.6h0M776.8 332.2h0M778.1 196.2h0M778.2 298.8h0M778.6 196.0h0M778.8 193.2h0M779.0 200.1h0M779.5 299.9h0M779.1 301.6h0M779.0 307.9h0M779.3 298.5h0M779.0 293.7h0M778.9 330.5h0M780.5 196.0h0M779.8 201.7h0M779.9 301.9h0M779.6 317.1h0M779.9 320.6h0M780.4 292.8h0M781.0 184.9h0M780.5 194.8h0M781.3 310.4h0M780.9 304.3h0M781.0 348.2h0M780.7 351.4h0M781.4 304.6h0M780.5 311.2h0M781.1 296.6h0M782.3 200.9h0M781.9 197.3h0M782.4 180.3h0M781.9 200.9h0M782.2 202.9h0M782.5 306.2h0M782.9 293.6h0M782.7 339.1h0M783.3 351.9h0M783.5 327.2h0M783.3 325.5h0M784.2 204.4h0M784.2 199.4h0M785.4 305.4h0M784.6 299.4h0M785.1 297.4h0M785.6 151.8h0M786.1 167.8h0M785.5 150.6h0M785.6 183.6h0M786.2 308.5h0M786.9 177.5h0M786.6 202.7h0M786.5 204.1h0M787.0 198.8h0M787.3 173.4h0M787.3 294.2h0M787.4 298.1h0M787.0 300.5h0M788.4 190.4h0M788.4 329.1h0M788.1 346.5h0M788.0 304.7h0M787.5 338.1h0M788.1 338.2h0M788.1 345.6h0M787.8 333.8h0M787.7 326.4h0M788.0 366.1h0M787.6 321.5h0M788.8 206.1h0M789.3 335.3h0M789.8 182.2h0M789.6 197.8h0M789.5 160.6h0M789.5 290.4h0M790.3 314.3h0M790.8 329.3h0M791.3 298.7h0M790.5 304.3h0M791.0 340.0h0M790.9 303.1h0M790.7 295.0h0M791.1 299.2h0M791.9 199.6h0M792.1 194.4h0M791.7 196.2h0M792.0 303.1h0M791.8 301.8h0M791.7 349.5h0M791.5 306.2h0M792.2 323.7h0M792.6 307.6h0M793.1 308.8h0M794.4 206.0h0M793.6 201.3h0M793.9 296.1h0M794.0 309.2h0M793.7 324.0h0M793.8 360.4h0M793.8 290.1h0M795.1 201.0h0M794.5 306.0h0M794.9 288.8h0M795.4 312.7h0M796.3 206.4h0M796.3 204.1h0M796.0 193.8h0M795.8 309.2h0M795.9 303.7h0M797.3 296.6h0M796.9 289.8h0M797.8 184.0h0M798.1 191.5h0M798.4 191.5h0M797.7 163.3h0M797.8 203.1h0M797.8 201.3h0M797.7 201.6h0M798.1 314.8h0M797.6 299.4h0M797.5 330.9h0M799.4 202.5h0M798.9 344.1h0M799.0 331.5h0M799.3 297.6h0M799.1 308.5h0M799.7 204.5h0M800.3 312.2h0M799.6 307.1h0M800.9 289.5h0M801.1 299.1h0M800.5 319.0h0M802.5 294.4h0M802.0 293.0h0M802.8 198.6h0M803.1 187.3h0M802.8 318.4h0M803.5 374.9h0M802.9 342.5h0M803.4 370.7h0M803.1 302.9h0M803.5 359.8h0M803.0 370.5h0M802.5 312.3h0M802.5 367.0h0M802.7 291.6h0M803.0 314.8h0M804.1 188.3h0M804.2 201.6h0M804.4 198.5h0M804.3 199.3h0M804.0 203.0h0M803.8 178.0h0M803.8 369.8h0M803.5 296.6h0M803.6 326.2h0M805.0 203.2h0M804.5 338.4h0M805.4 354.7h0M804.9 340.4h0M804.8 328.5h0M804.7 300.7h0M805.2 317.8h0M805.7 299.8h0M806.2 317.9h0M805.9 293.6h0M805.5 295.0h0M806.8 318.4h0M806.7 314.7h0M807.3 304.6h0M807.4 295.3h0M806.8 348.8h0M806.9 354.5h0M806.6 359.1h0M808.5 316.2h0M808.8 185.6h0M808.6 175.7h0M809.0 192.6h0M809.1 178.1h0M809.4 317.5h0M808.9 303.7h0M809.2 301.8h0M808.8 326.2h0M808.7 306.8h0M808.8 306.2h0M809.6 190.4h0M809.9 307.2h0M810.4 319.3h0M809.7 311.7h0M810.1 308.9h0M810.5 307.8h0M810.8 182.7h0M811.2 192.0h0M811.1 192.1h0M811.3 188.4h0M810.6 332.5h0M811.4 389.0h0M810.5 380.2h0M811.0 338.1h0M811.3 395.3h0M811.1 374.5h0M810.7 378.0h0M811.9 326.6h0M812.2 323.8h0M812.4 321.4h0M812.1 372.9h0M813.0 173.2h0M812.5 337.4h0M812.8 335.8h0M812.5 367.8h0M813.5 338.8h0M813.3 366.5h0M813.1 345.3h0M813.2 330.2h0M814.3 351.5h0M813.9 369.5h0M814.6 335.4h0M815.0 349.8h0M816.2 179.0h0M816.3 179.0h0M816.5 379.1h0M816.0 373.9h0M816.4 349.5h0M816.1 339.2h0M815.5 339.6h0M815.7 370.3h0M818.1 168.0h0M817.7 339.4h0M817.5 353.4h0M818.7 170.6h0M818.7 149.4h0M818.6 163.0h0M819.2 422.0h0M819.2 368.3h0M818.6 363.5h0M819.5 343.1h0M819.8 353.3h0M821.2 381.4h0M821.4 370.0h0M822.4 350.9h0M821.6 378.1h0M823.5 365.4h0M823.1 377.1h0M822.9 355.4h0M822.8 367.0h0M824.1 175.0h0M824.2 361.0h0M824.3 362.8h0M823.6 352.9h0M824.8 160.0h0M824.8 351.7h0M825.0 371.1h0M826.4 177.6h0M826.2 178.7h0M825.9 177.2h0M825.7 350.3h0M825.5 348.3h0M825.7 360.9h0M827.0 176.8h0M827.3 430.9h0M827.2 349.9h0M826.9 351.8h0M827.2 369.5h0M827.1 353.9h0M827.4 415.4h0M828.3 177.8h0M828.2 173.8h0M828.0 169.7h0M828.2 366.8h0M828.1 361.7h0M828.2 371.1h0M827.7 382.5h0M827.7 372.6h0M827.6 407.4h0M828.2 349.6h0M827.6 378.3h0M830.5 177.3h0M830.4 353.7h0M829.9 384.4h0M830.1 355.5h0M830.1 356.8h0M829.5 361.1h0M830.3 353.4h0M830.7 152.5h0M831.4 402.2h0M830.9 364.0h0M831.5 365.2h0M831.9 170.4h0M831.6 374.2h0M832.4 364.5h0M831.5 369.5h0M832.3 395.2h0M833.5 115.6h0M832.9 153.7h0M832.9 178.2h0M832.7 353.1h0M835.4 169.6h0M835.2 178.1h0M835.1 178.6h0M835.1 168.8h0M835.1 177.1h0M834.7 348.1h0M835.1 351.9h0M834.9 358.6h0M836.4 178.5h0M836.3 181.1h0M836.2 177.6h0M835.7 178.4h0M835.9 365.2h0M835.9 346.6h0M836.4 349.0h0M836.0 353.1h0M836.5 175.6h0M836.8 170.9h0M837.3 179.9h0M836.9 345.5h0M837.8 181.1h0M837.8 352.7h0M838.0 379.3h0M839.6 153.0h0M840.3 140.0h0M840.5 177.7h0M839.9 166.9h0M840.1 149.0h0M840.7 182.3h0M841.0 339.1h0M841.4 368.7h0M840.5 325.5h0M842.1 187.9h0M841.7 337.4h0M841.7 362.5h0M844.5 177.1h0M844.8 205.6h0M846.1 287.7h0M847.1 278.1h0M849.3 204.7h0M849.2 204.3h0M849.5 296.5h0M851.3 200.1h0M851.1 220.4h0M850.8 212.3h0M850.8 217.8h0M851.2 280.6h0M852.4 186.3h0M851.9 192.4h0M851.6 196.5h0M853.2 220.5h0M852.8 217.3h0M852.7 226.6h0M852.9 264.6h0M854.3 207.2h0M854.3 220.9h0M853.7 330.4h0M854.2 283.5h0M855.4 223.0h0M854.9 211.8h0M855.0 216.8h0M855.1 211.8h0M855.5 262.7h0M855.2 270.0h0M855.7 224.8h0M855.9 266.3h0M855.9 327.3h0M856.1 262.8h0M857.0 229.9h0M856.6 264.8h0M858.5 217.9h0M857.8 276.1h0M858.6 214.5h0M859.3 221.8h0M858.8 203.0h0M859.6 186.0h0M859.7 227.6h0M859.7 186.0h0M859.7 217.0h0M861.0 219.6h0M861.2 218.7h0M860.9 227.1h0M861.2 209.2h0M861.0 217.9h0M861.2 267.8h0M860.7 263.3h0M861.6 205.6h0M861.5 182.7h0M862.2 217.8h0M861.5 186.3h0M861.7 205.1h0M862.4 289.1h0M862.2 301.7h0M863.3 211.7h0M863.2 205.2h0M862.5 214.0h0M864.0 225.3h0M864.0 269.7h0M865.1 178.4h0M864.8 184.3h0M866.7 229.6h0M866.9 272.9h0M867.5 297.4h0M868.1 175.8h0M868.3 230.3h0M867.9 211.1h0M869.1 184.1h0M868.8 221.9h0M868.5 225.6h0M869.4 227.1h0M868.6 206.4h0M869.3 187.1h0M869.0 224.5h0M869.1 277.2h0M871.1 277.1h0M871.1 276.0h0M871.6 226.4h0M872.1 209.5h0M871.7 212.9h0M871.7 227.3h0M872.0 222.5h0M871.9 216.1h0M872.9 222.6h0M872.8 228.5h0M872.7 203.6h0M872.8 219.0h0M872.8 284.7h0M872.6 310.4h0M873.6 216.1h0M873.9 290.8h0M874.1 276.6h0M874.6 220.9h0M875.0 309.2h0M875.5 276.9h0M876.1 230.8h0M875.9 218.1h0M876.0 213.4h0M876.6 280.6h0M877.8 214.9h0M877.8 225.3h0M877.8 229.4h0M878.9 210.4h0M879.5 293.9h0M880.1 284.8h0M880.4 278.9h0M879.8 281.1h0M881.5 275.9h0M883.3 229.5h0M883.2 229.7h0M883.2 275.5h0M884.1 222.9h0M884.5 201.8h0M883.7 229.6h0M883.9 312.3h0M884.0 293.7h0M883.6 348.6h0M883.9 281.4h0M885.4 230.6h0M885.1 279.0h0M886.1 217.3h0M885.7 331.7h0M885.9 335.8h0M885.9 295.9h0M885.9 277.0h0M886.9 201.2h0M887.3 295.6h0M887.2 274.6h0M887.7 228.6h0M888.3 227.5h0M887.6 233.4h0M887.6 216.2h0M888.1 276.5h0M887.6 274.9h0M889.3 235.2h0M888.7 234.6h0M889.2 234.0h0M889.3 276.0h0M889.3 282.5h0M890.3 233.7h0M889.5 235.5h0M890.5 199.6h0M891.2 233.7h0M890.9 212.2h0M891.3 229.9h0M891.4 219.2h0M890.8 197.0h0M891.2 227.0h0M890.8 177.4h0M891.2 223.8h0M891.4 195.7h0M891.2 272.1h0M890.7 270.7h0M891.6 234.9h0M891.9 280.6h0M892.1 294.9h0M892.4 311.1h0M893.3 233.4h0M893.1 225.7h0M893.3 222.0h0M893.0 228.2h0M892.6 230.9h0M893.5 220.2h0M892.7 212.5h0M892.8 217.5h0M893.0 270.6h0M894.2 226.6h0M894.3 211.8h0M893.6 297.9h0M894.2 276.2h0M894.7 232.0h0M894.7 236.7h0M895.0 301.5h0M895.4 277.8h0M895.7 236.2h0M896.2 233.6h0M896.4 229.5h0M896.1 223.8h0M896.2 290.8h0M896.0 274.9h0M896.9 236.9h0M896.6 225.3h0M897.0 236.8h0M897.4 236.9h0M898.1 232.2h0M898.4 221.2h0M898.4 284.2h0M898.3 269.5h0M897.5 330.1h0M898.5 230.9h0M899.5 197.7h0M899.0 182.8h0M899.2 232.2h0M899.2 236.6h0M899.5 223.5h0M898.7 232.3h0M898.9 282.6h0M898.9 268.6h0M900.4 198.7h0M899.6 232.3h0M899.5 224.1h0M899.8 229.8h0M899.8 286.0h0M900.6 228.5h0M902.5 235.7h0M902.1 233.7h0M902.4 266.5h0M902.4 297.9h0M902.4 277.6h0M901.8 288.1h0M902.6 202.9h0M902.6 212.5h0M902.6 228.5h0M903.0 224.1h0M904.2 234.2h0M903.7 233.0h0M904.3 207.2h0M903.8 232.2h0M904.2 233.8h0M904.4 219.0h0M903.6 273.2h0M905.1 233.4h0M904.8 288.1h0M904.6 280.6h0M904.8 274.8h0M905.1 266.6h0M905.2 266.7h0M906.4 220.2h0M905.5 214.9h0M907.5 276.7h0M908.5 228.2h0M907.8 271.0h0M908.0 296.0h0M908.6 228.1h0M909.4 223.4h0M908.8 282.2h0M910.4 226.4h0M909.8 287.7h0M910.1 279.3h0M909.5 281.7h0M909.8 272.0h0M911.3 211.6h0M911.4 220.3h0M910.7 223.7h0M910.6 273.7h0M911.8 223.0h0M911.9 205.4h0M912.3 271.3h0M911.6 319.5h0M913.4 281.1h0M912.7 273.5h0M914.0 277.4h0M915.4 291.2h0M915.0 273.4h0M916.6 226.3h0M917.2 215.0h0M916.9 310.6h0M916.6 289.1h0M917.3 285.5h0M917.3 277.2h0M918.3 219.6h0M917.9 228.0h0M918.4 228.2h0M918.2 215.6h0M918.5 278.0h0M917.6 294.4h0M919.1 220.4h0M919.1 221.4h0M919.0 222.2h0M919.3 281.7h0M918.6 316.2h0M919.5 283.8h0M919.2 296.3h0M919.2 323.4h0M919.3 302.5h0M919.0 289.7h0M918.6 283.6h0M919.1 309.2h0M919.6 201.9h0M919.8 228.5h0M920.4 207.6h0M920.2 207.8h0M920.1 325.9h0M919.9 337.5h0M919.9 315.8h0M920.6 217.5h0M921.1 221.9h0M921.3 226.7h0M920.7 294.7h0M921.3 333.1h0M920.6 354.5h0M922.1 227.2h0M922.3 219.7h0M922.3 280.9h0M922.1 287.3h0M921.9 319.9h0M922.5 227.4h0M923.4 213.5h0M922.9 283.7h0M923.3 297.1h0M922.7 284.8h0M924.4 222.9h0M924.0 225.2h0M924.2 313.4h0M923.7 282.4h0M924.3 292.6h0M924.0 361.5h0M924.2 278.8h0M924.3 362.6h0M923.7 308.1h0M924.3 294.7h0M924.8 211.3h0M925.2 360.4h0M924.6 362.5h0M924.9 279.5h0M924.6 320.2h0M924.9 293.7h0M924.7 325.7h0M925.6 220.0h0M925.9 221.7h0M926.2 223.1h0M926.1 220.5h0M925.6 297.1h0M926.0 294.9h0M926.0 320.0h0M926.6 225.4h0M926.6 225.1h0M927.8 222.5h0M928.1 225.3h0M927.7 331.9h0M928.2 281.3h0M927.8 313.9h0M927.8 318.0h0M928.1 284.7h0M929.2 207.8h0M929.1 218.4h0M928.6 207.6h0M928.9 192.7h0M930.0 207.3h0M930.1 208.4h0M930.2 220.7h0M929.6 316.3h0M930.0 287.6h0M931.1 224.1h0M931.1 224.8h0M931.3 223.8h0M931.9 171.7h0M931.6 178.9h0M931.7 200.6h0M931.7 208.0h0M932.2 223.4h0M931.6 192.2h0M932.3 223.9h0M931.9 198.4h0M931.7 181.6h0M931.9 208.2h0M932.0 318.8h0M931.9 284.1h0M932.0 310.4h0M932.3 285.6h0M931.9 294.1h0M932.9 211.6h0M932.6 223.1h0M932.6 222.4h0M932.6 194.8h0M933.2 337.6h0M934.4 334.7h0M934.0 302.0h0M933.7 291.4h0M933.9 289.0h0M935.4 213.7h0M935.3 214.3h0M936.5 222.4h0M936.4 218.1h0M936.3 216.8h0M936.3 317.5h0M935.5 309.4h0M937.5 219.8h0M937.0 221.6h0M937.5 213.0h0M937.2 368.0h0M936.6 320.8h0M937.1 297.0h0M938.1 218.7h0M937.8 217.9h0M937.5 304.9h0M938.1 304.6h0M937.8 293.9h0M938.3 330.0h0M938.0 300.7h0M937.7 335.8h0M937.8 285.4h0M937.9 359.4h0M937.6 292.2h0M938.3 296.6h0M940.3 216.1h0M939.8 219.8h0M940.5 209.8h0M940.3 173.5h0M940.9 212.0h0M940.9 220.3h0M940.9 285.1h0M941.6 163.0h0M941.5 171.4h0M941.6 217.5h0M942.4 188.9h0M942.5 197.1h0M941.9 323.3h0M942.3 290.3h0M942.8 206.4h0M942.6 207.8h0M942.9 216.6h0M943.2 207.7h0M942.7 214.7h0M942.6 200.8h0M943.4 291.8h0M943.4 287.7h0M943.0 291.6h0M942.5 288.6h0M942.9 288.2h0M943.9 215.4h0M943.6 221.1h0M943.8 289.2h0M943.8 321.4h0M944.4 298.5h0M944.5 325.1h0M943.8 293.5h0M943.8 290.9h0M945.2 219.1h0M945.0 217.5h0M945.8 217.9h0M946.3 299.2h0M946.0 294.8h0M946.3 296.7h0M945.5 334.0h0M946.1 311.3h0M945.7 291.1h0M946.0 308.7h0M945.5 363.7h0M945.7 332.0h0M945.7 286.2h0M945.5 288.3h0M946.7 218.8h0M946.6 290.5h0M947.0 308.6h0M946.8 284.7h0M948.5 219.4h0M948.1 220.2h0M948.2 305.2h0M948.6 221.2h0M948.8 284.9h0M948.8 319.1h0M948.8 292.4h0M950.4 300.5h0M949.9 293.5h0M950.0 298.7h0M949.6 283.4h0M950.1 284.4h0M950.5 196.4h0M951.2 208.9h0M951.1 320.6h0M950.7 288.4h0M951.2 289.7h0M950.6 303.1h0M951.1 331.1h0M951.1 317.6h0M950.9 286.7h0M951.8 211.0h0M952.2 174.2h0M951.8 293.2h0M953.1 220.3h0M952.5 216.0h0M952.5 301.4h0M953.8 213.5h0M953.6 220.8h0M954.4 154.1h0M954.3 303.7h0M953.5 310.2h0M953.8 321.3h0M953.6 290.4h0M955.2 218.9h0M955.5 297.3h0M955.6 215.8h0M956.3 318.8h0M955.7 286.3h0M956.7 212.7h0M956.9 283.4h0M957.8 217.1h0M958.3 281.9h0M957.7 295.9h0M959.0 192.0h0M959.0 285.5h0M959.1 318.4h0M959.0 310.7h0M958.6 315.1h0M958.6 324.6h0M958.7 284.3h0M960.2 283.1h0M959.6 284.0h0M961.2 217.8h0M960.7 215.1h0M960.8 218.6h0M960.8 282.7h0M962.2 199.5h0M961.8 217.9h0M962.3 214.8h0M962.4 212.5h0M962.1 167.1h0M962.0 219.7h0M961.6 300.3h0M962.0 288.4h0M962.0 292.3h0M962.4 286.3h0M962.3 296.9h0M961.9 284.0h0M963.4 220.4h0M963.4 221.0h0M962.6 155.4h0M963.2 202.9h0M962.8 193.6h0M962.8 299.6h0M964.5 216.7h0M964.7 214.5h0M964.8 306.8h0M965.3 281.4h0M964.9 281.2h0M965.4 287.0h0M965.4 280.9h0M965.8 188.8h0M966.4 281.9h0M967.3 190.0h0M966.8 217.5h0M967.0 208.8h0M967.5 202.4h0M966.9 212.3h0M966.7 218.0h0M967.2 291.0h0M967.4 280.5h0M966.7 282.8h0M967.8 215.7h0M968.4 218.1h0M968.8 214.2h0M968.7 208.8h0M969.4 218.4h0M968.8 292.8h0M970.0 219.7h0M970.4 168.2h0M969.8 217.7h0M970.4 182.4h0M970.3 289.8h0M969.5 302.4h0M969.8 294.6h0M969.9 316.5h0M969.9 289.8h0M970.3 305.9h0M970.3 319.7h0M970.0 327.6h0M971.2 210.5h0M971.3 197.8h0M970.9 193.1h0M970.6 284.7h0M971.2 282.3h0M971.1 289.7h0M972.5 201.4h0M971.5 216.2h0M972.5 291.2h0M972.5 201.7h0M973.2 168.9h0M973.4 174.6h0M973.1 211.9h0M973.3 296.4h0M972.7 305.6h0M973.0 291.4h0M973.7 212.8h0M973.9 218.8h0M973.9 219.2h0M974.3 295.0h0M974.3 284.6h0M973.8 316.1h0M974.6 206.8h0M975.0 212.7h0M975.3 195.8h0M975.2 203.9h0M974.9 216.8h0M975.0 213.3h0M975.1 285.2h0M976.3 300.3h0M976.2 279.7h0M976.2 286.9h0M976.3 295.8h0M976.9 220.4h0M976.7 221.2h0M977.5 219.7h0M977.3 343.7h0M977.2 288.9h0M976.8 341.8h0M978.4 219.1h0M978.3 222.3h0M978.1 192.1h0M977.8 288.8h0M978.4 289.1h0M978.2 296.3h0M977.9 283.8h0M977.6 293.7h0M977.9 289.9h0M979.5 202.2h0M978.6 211.5h0M978.7 213.8h0M978.9 213.5h0M979.3 306.0h0M978.5 300.9h0M978.6 282.5h0M979.0 353.1h0M978.8 288.9h0M979.2 281.4h0M978.9 329.2h0M979.3 284.3h0M978.9 285.7h0M980.0 215.1h0M979.6 290.6h0M980.2 300.9h0M979.5 279.0h0M981.3 216.0h0M980.7 204.4h0M980.7 201.6h0M980.6 291.3h0M981.4 292.8h0M981.6 223.0h0M981.9 222.5h0M982.1 281.1h0M981.8 294.4h0M981.5 304.6h0M982.7 171.5h0M983.3 220.5h0M983.1 278.8h0M983.9 221.5h0M984.0 204.2h0M984.0 211.8h0M984.4 221.4h0M983.7 205.8h0M984.3 199.1h0M983.9 281.6h0M984.9 209.5h0M984.6 297.6h0M984.6 280.9h0M985.1 307.7h0M984.9 292.5h0M986.5 207.5h0M986.2 219.4h0M985.8 223.3h0M986.3 193.9h0M986.0 287.6h0M986.3 319.6h0M985.7 361.7h0M987.0 217.5h0M986.6 222.0h0M986.9 222.4h0M987.2 280.4h0M986.7 286.8h0M987.4 281.5h0M986.6 282.9h0M987.3 280.5h0M987.7 217.7h0M988.4 216.8h0M987.9 213.5h0M988.1 220.8h0M988.2 290.4h0M987.8 303.2h0M988.3 291.3h0M988.0 349.0h0M988.3 354.9h0M989.5 200.3h0M988.8 218.6h0M988.7 216.4h0M989.0 213.3h0M989.0 188.4h0M990.0 222.8h0M990.4 211.7h0M990.1 220.2h0M990.3 310.7h0M990.1 285.0h0M989.9 299.9h0M990.0 289.5h0M991.2 222.6h0M991.3 310.8h0M991.5 289.7h0M991.0 286.0h0M991.6 205.1h0M992.0 218.9h0M992.0 220.2h0M992.0 305.8h0M992.6 200.4h0M993.0 222.1h0M993.0 206.2h0M994.0 220.2h0M994.5 293.8h0M994.0 300.7h0M994.3 297.1h0M994.3 316.9h0M993.5 293.2h0M993.7 293.0h0M994.3 304.5h0M993.6 336.8h0M994.8 315.0h0M994.8 288.6h0M994.7 289.6h0M995.4 287.6h0M995.8 292.3h0M996.1 300.3h0M995.7 292.3h0M996.1 302.7h0M996.7 301.7h0M997.4 300.9h0M997.2 336.4h0M997.0 328.0h0M997.3 293.1h0M997.4 374.7h0M998.5 220.2h0M997.7 218.9h0M997.8 212.9h0M998.7 220.0h0M998.9 209.4h0M998.8 333.4h0M999.5 352.4h0M999.2 370.4h0M999.5 340.1h0M999.0 311.1h0M999.2 303.0h0M999.3 332.2h0M999.2 294.4h0M999.7 359.8h0M999.9 308.0h0M1001.4 184.1h0M1001.4 197.5h0M1000.6 206.9h0M1001.0 160.8h0M1001.2 213.2h0M1000.9 192.8h0M1001.0 195.8h0M1000.7 333.3h0M1000.8 305.6h0M1000.8 330.0h0M1001.3 294.2h0M1001.4 315.0h0M1001.0 319.0h0M1002.3 322.1h0M1002.0 332.6h0M1001.7 294.8h0M1002.1 350.1h0M1002.4 311.8h0M1002.1 319.8h0M1002.3 315.9h0M1001.7 345.2h0M1003.5 219.7h0M1002.5 221.2h0M1003.1 304.6h0M1002.7 349.2h0M1003.3 299.8h0M1003.0 323.2h0M1004.4 174.4h0M1003.9 201.6h0M1004.4 295.6h0M1003.8 296.9h0M1004.5 221.7h0M1005.3 199.3h0M1004.5 211.3h0M1005.5 180.9h0M1005.4 209.8h0M1005.4 218.7h0M1004.8 296.4h0M1005.4 298.6h0M1005.8 315.2h0M1005.8 312.8h0M1007.3 217.3h0M1007.1 317.1h0M1007.5 344.4h0M1007.0 301.9h0M1007.6 211.0h0M1008.4 306.6h0M1009.1 216.1h0M1009.5 219.1h0M1008.7 314.9h0M1008.7 361.4h0M1008.6 348.3h0M1008.9 342.2h0M1009.0 351.0h0M1008.9 377.1h0M1008.8 312.8h0M1010.3 214.4h0M1009.6 186.7h0M1010.1 196.2h0M1010.2 165.0h0M1010.3 206.4h0M1009.9 199.9h0M1010.6 218.3h0M1010.8 300.9h0M1010.7 319.1h0M1012.3 217.8h0M1011.6 214.7h0M1012.4 163.6h0M1011.7 209.1h0M1011.5 219.7h0M1011.9 301.3h0M1011.7 309.3h0M1012.9 220.3h0M1012.8 219.7h0M1013.2 216.8h0M1012.7 311.4h0M1013.3 300.8h0M1013.0 311.9h0M1013.3 314.1h0M1013.9 219.6h0M1013.7 184.6h0M1013.5 218.3h0M1014.1 299.5h0M1013.6 301.9h0M1014.2 306.5h0M1013.7 299.7h0M1015.3 299.3h0M1016.4 326.5h0M1016.3 374.2h0M1016.0 304.7h0M1016.0 355.4h0M1015.7 364.2h0M1017.2 214.0h0M1017.2 209.4h0M1016.8 340.6h0M1017.1 313.0h0M1016.7 309.0h0M1016.8 300.6h0M1016.7 341.6h0M1017.5 334.1h0M1017.6 216.9h0M1018.1 208.1h0M1018.5 300.8h0M1019.1 219.0h0M1018.8 346.2h0M1019.4 371.8h0M1018.9 308.0h0M1019.1 331.7h0M1018.7 326.7h0M1018.7 373.1h0M1019.2 307.3h0M1020.1 216.5h0M1019.6 213.8h0M1020.1 304.7h0M1020.5 333.0h0M1021.4 378.9h0M1020.6 385.2h0M1021.4 346.0h0M1021.4 345.0h0M1020.8 368.9h0M1021.9 192.0h0M1021.8 216.4h0M1021.5 301.6h0M1022.4 302.7h0M1022.0 327.5h0M1021.8 359.1h0M1022.6 301.3h0M1024.4 339.0h0M1025.0 304.6h0M1025.4 303.7h0M1026.4 202.0h0M1025.8 205.8h0M1025.6 207.1h0M1026.5 217.9h0M1025.6 316.1h0M1026.7 216.0h0M1027.5 310.2h0M1027.5 314.0h0M1027.4 305.5h0M1028.5 307.3h0M1028.5 199.9h0M1029.0 216.6h0M1028.6 190.8h0M1029.0 195.8h0M1028.8 214.1h0M1029.4 211.7h0M1029.0 309.2h0M1029.0 310.1h0M1030.3 318.1h0M1030.1 311.3h0M1031.0 202.3h0M1031.5 203.0h0M1030.7 216.2h0M1030.8 319.4h0M1030.8 313.1h0M1031.2 315.2h0M1031.9 202.9h0M1032.1 206.6h0M1032.1 309.9h0M1032.0 344.3h0M1032.6 217.6h0M1033.4 354.4h0M1033.4 310.1h0M1033.0 330.8h0M1034.0 166.9h0M1033.8 203.1h0M1034.2 204.0h0M1033.9 216.4h0M1034.0 181.3h0M1034.1 307.7h0M1035.0 207.7h0M1034.7 310.7h0M1035.1 314.7h0M1035.3 319.2h0M1036.5 207.5h0M1035.5 192.8h0M1035.9 212.5h0M1036.0 213.0h0M1035.6 211.0h0M1037.4 211.9h0M1036.7 215.6h0M1036.9 215.9h0M1036.6 215.8h0M1037.2 327.7h0M1037.8 365.3h0M1037.7 308.8h0M1038.5 357.2h0M1037.6 341.8h0M1037.6 316.7h0M1039.3 213.9h0M1038.5 310.3h0M1038.9 327.8h0M1039.4 309.9h0M1040.5 213.1h0M1041.4 208.2h0M1041.5 213.9h0M1040.8 155.9h0M1040.7 217.8h0M1041.7 216.8h0M1042.4 217.0h0M1042.5 314.9h0M1041.9 315.9h0M1042.4 352.6h0M1043.2 327.6h0M1043.8 204.3h0M1043.8 312.1h0M1044.9 211.6h0M1045.0 189.8h0M1044.6 214.2h0M1044.7 216.9h0M1045.4 206.2h0M1044.6 196.1h0M1044.8 315.9h0M1044.8 312.2h0M1044.6 341.0h0M1046.1 206.5h0M1046.4 217.5h0M1045.8 315.1h0M1046.6 209.4h0M1046.6 193.0h0M1047.4 217.1h0M1047.5 314.8h0M1047.2 317.9h0M1046.9 319.4h0M1047.9 204.8h0M1048.0 329.3h0M1048.1 395.3h0M1049.3 202.5h0M1049.3 210.4h0M1048.6 210.9h0M1049.4 209.6h0M1049.1 218.1h0M1049.2 328.9h0M1050.0 212.0h0M1050.5 205.0h0M1049.6 218.9h0M1050.1 206.8h0M1050.0 202.5h0M1049.5 318.2h0M1050.0 324.8h0M1050.2 334.3h0M1049.8 345.0h0M1051.1 216.0h0M1050.8 159.9h0M1050.6 209.2h0M1050.9 157.1h0M1050.9 170.4h0M1050.8 190.0h0M1051.3 209.7h0M1051.1 211.2h0M1051.2 205.2h0M1051.4 217.1h0M1051.0 389.2h0M1050.6 387.5h0M1051.3 341.3h0M1050.5 372.7h0M1050.9 359.1h0M1051.3 390.4h0M1050.9 322.8h0M1052.1 314.2h0M1052.7 176.7h0M1052.7 206.9h0M1053.1 180.6h0M1052.9 217.3h0M1052.6 162.7h0M1052.9 194.9h0M1052.6 187.3h0M1053.8 199.7h0M1053.7 177.5h0M1054.1 209.2h0M1054.0 177.7h0M1054.3 216.4h0M1054.3 209.5h0M1054.0 322.6h0M1055.1 218.1h0M1054.6 213.4h0M1054.6 217.9h0M1054.7 334.4h0M1055.0 347.2h0M1056.2 200.3h0M1055.8 315.0h0M1057.4 214.4h0M1056.7 322.0h0M1057.1 322.3h0M1057.3 321.2h0M1056.6 319.2h0M1057.1 338.5h0M1056.5 350.6h0M1058.0 204.3h0M1058.2 185.0h0M1058.4 328.7h0M1057.7 319.4h0M1058.1 332.6h0M1058.4 320.9h0M1059.3 213.8h0M1058.5 189.6h0M1059.1 209.3h0M1058.5 199.9h0M1058.8 353.2h0M1058.6 313.7h0M1058.5 321.8h0M1060.0 216.0h0M1060.1 326.7h0M1061.3 316.5h0M1060.9 313.3h0M1061.2 315.0h0M1060.8 315.4h0M1061.9 206.9h0M1061.9 208.7h0M1062.3 176.9h0M1061.8 324.2h0M1061.9 328.0h0M1063.2 196.0h0M1062.8 210.5h0M1063.1 197.3h0M1062.5 373.4h0M1062.6 321.1h0M1062.8 320.7h0M1063.0 388.3h0M1063.0 343.6h0M1064.3 192.9h0M1064.0 195.7h0M1063.5 330.6h0M1064.1 324.0h0M1064.3 336.3h0M1064.6 215.9h0M1065.5 349.8h0M1066.2 198.2h0M1066.1 216.0h0M1065.7 215.1h0M1065.8 385.2h0M1065.9 319.9h0M1066.4 316.0h0M1066.6 211.5h0M1067.2 207.5h0M1066.9 215.5h0M1067.7 215.3h0M1067.5 213.0h0M1067.7 205.0h0M1067.6 209.2h0M1067.7 320.8h0M1069.3 187.7h0M1068.8 213.5h0M1068.8 208.6h0M1069.1 207.5h0M1068.9 208.7h0M1068.9 312.7h0M1069.3 315.0h0M1070.5 203.3h0M1069.9 194.6h0M1069.9 165.4h0M1070.4 199.6h0M1070.2 206.7h0M1070.0 317.5h0M1070.0 310.9h0M1070.1 345.9h0M1070.7 215.4h0M1070.9 215.0h0M1070.7 196.2h0M1071.0 198.0h0M1071.0 206.0h0M1071.0 319.6h0M1070.9 315.8h0M1071.1 330.8h0M1070.5 332.8h0M1071.4 310.8h0M1072.5 211.8h0M1071.9 213.3h0M1071.7 211.9h0M1071.6 334.8h0M1071.8 337.8h0M1071.8 314.9h0M1072.4 324.9h0M1073.0 193.0h0M1073.5 183.2h0M1073.2 211.4h0M1073.5 215.1h0M1073.8 315.8h0M1074.0 340.8h0M1074.6 192.0h0M1074.9 209.1h0M1075.4 207.1h0M1074.8 167.8h0M1075.5 204.3h0M1075.1 212.0h0M1075.1 211.1h0M1075.3 348.4h0M1076.0 323.7h0M1076.8 208.0h0M1076.8 213.7h0M1076.7 323.4h0M1077.2 334.0h0M1077.8 208.8h0M1078.2 214.4h0M1077.8 182.8h0M1078.0 193.5h0M1078.2 162.2h0M1078.1 207.5h0M1077.6 356.7h0M1077.9 357.7h0M1077.5 320.8h0M1078.5 348.7h0M1079.3 320.0h0M1080.1 175.6h0M1079.9 208.7h0M1079.6 207.0h0M1079.8 187.6h0M1079.8 195.9h0M1080.5 203.7h0M1080.3 170.4h0M1080.0 215.4h0M1080.4 191.3h0M1080.2 320.3h0M1080.1 313.2h0M1079.9 350.6h0M1080.1 356.1h0M1080.7 206.7h0M1081.0 206.1h0M1081.3 198.8h0M1080.5 202.4h0M1081.7 189.3h0M1082.5 201.0h0M1081.6 214.5h0M1082.2 212.2h0M1081.7 209.5h0M1082.1 310.4h0M1081.6 320.4h0M1082.0 310.1h0M1082.7 207.7h0M1083.0 152.5h0M1083.1 189.7h0M1083.5 320.4h0M1083.0 316.6h0M1082.6 323.5h0M1083.5 214.1h0M1084.2 318.0h0M1084.2 328.7h0M1083.7 312.2h0M1084.4 313.2h0M1084.4 322.5h0M1085.1 214.1h0M1085.1 334.5h0M1085.1 318.7h0M1084.8 346.0h0M1085.4 331.9h0M1086.4 204.2h0M1086.1 208.6h0M1085.6 310.4h0M1086.5 312.3h0M1086.0 320.0h0M1086.3 314.6h0M1086.9 319.3h0M1087.2 375.5h0M1088.2 206.8h0M1087.6 181.7h0M1088.3 210.8h0M1087.8 210.0h0M1087.7 209.3h0M1088.0 312.6h0M1087.9 309.6h0M1088.4 354.4h0M1088.4 313.8h0M1087.9 320.0h0M1089.1 313.3h0M1088.8 330.1h0M1089.3 330.9h0M1089.3 369.6h0M1089.0 340.0h0M1089.2 322.7h0M1090.5 172.6h0M1089.8 208.5h0M1090.4 212.6h0M1089.9 208.8h0M1089.5 214.3h0M1090.4 345.9h0M1091.1 214.7h0M1091.1 315.1h0M1090.9 314.1h0M1091.2 312.2h0M1092.0 194.1h0M1092.1 204.4h0M1092.4 209.3h0M1092.0 326.3h0M1091.9 326.9h0M1093.1 205.6h0M1093.0 198.4h0M1092.7 193.2h0M1093.1 180.9h0M1093.5 182.4h0M1092.8 212.5h0M1093.0 322.6h0M1093.3 341.4h0M1093.2 336.2h0M1093.3 351.4h0M1093.1 315.4h0M1092.9 312.4h0M1092.9 345.4h0M1093.4 325.4h0M1094.2 193.4h0M1093.7 212.9h0M1094.5 208.2h0M1094.4 347.4h0M1093.6 336.5h0M1094.4 349.8h0M1094.4 329.8h0M1095.0 215.8h0M1095.3 210.6h0M1094.9 178.1h0M1095.5 213.9h0M1095.3 319.0h0M1096.2 217.5h0M1095.7 326.0h0M1095.7 330.4h0M1096.4 313.0h0M1096.2 371.1h0M1095.9 321.1h0M1096.5 214.1h0M1096.7 213.2h0M1097.3 216.7h0M1097.2 214.3h0M1097.1 217.8h0M1097.2 315.4h0M1097.0 312.5h0M1098.0 217.8h0M1098.0 208.4h0M1098.1 215.7h0M1098.0 188.5h0M1098.2 214.9h0M1097.7 183.0h0M1097.5 321.7h0M1097.7 314.7h0M1098.9 214.8h0M1098.9 183.7h0M1099.2 316.1h0M1099.2 316.0h0M1098.9 313.9h0M1098.9 316.7h0M1100.2 215.7h0M1100.1 315.2h0M1099.6 350.0h0M1100.9 200.3h0M1101.5 214.3h0M1100.6 328.2h0M1101.3 314.5h0M1101.3 317.9h0M1101.4 317.4h0M1102.2 207.0h0M1102.0 209.4h0M1102.2 214.2h0M1102.1 342.6h0M1102.0 314.4h0M1101.7 318.7h0M1103.3 325.3h0M1102.7 330.5h0M1103.0 320.8h0M1103.8 336.8h0M1103.9 341.2h0M1104.6 215.6h0M1104.7 214.0h0M1104.9 216.6h0M1105.3 213.6h0M1104.7 326.1h0M1105.2 320.6h0M1104.8 354.3h0M1104.9 315.7h0M1104.8 335.0h0M1105.8 329.0h0M1106.3 332.3h0M1106.1 321.4h0M1106.1 332.6h0M1106.4 322.1h0M1106.3 338.1h0M1107.4 217.7h0M1107.0 319.7h0M1106.6 326.3h0M1106.8 317.3h0M1107.3 370.5h0M1107.2 324.8h0M1106.8 325.2h0M1108.0 214.7h0M1107.7 187.9h0M1108.1 215.5h0M1108.5 210.0h0M1107.9 216.7h0M1107.9 324.2h0M1108.1 315.7h0M1108.1 315.3h0M1109.2 313.9h0M1110.3 215.9h0M1109.9 351.8h0M1109.7 326.9h0M1110.2 348.9h0M1110.0 316.6h0M1110.3 330.6h0M1110.1 344.6h0M1110.0 332.8h0M1110.7 217.1h0M1111.8 217.2h0M1111.9 212.0h0M1111.7 366.3h0M1112.4 383.2h0M1112.2 347.4h0M1113.0 192.7h0M1113.4 179.7h0M1113.4 207.8h0M1112.9 164.6h0M1112.7 318.7h0M1112.9 313.4h0M1114.3 196.5h0M1115.5 206.9h0M1115.1 208.0h0M1115.9 213.8h0M1115.6 210.8h0M1116.0 343.1h0M1115.7 318.3h0M1117.2 216.0h0M1116.6 319.5h0M1117.3 338.5h0M1117.3 330.9h0M1117.2 370.8h0M1116.6 337.6h0M1118.3 199.1h0M1118.4 209.0h0M1118.2 204.4h0M1118.3 215.6h0M1119.4 322.6h0M1119.8 194.5h0M1119.5 194.3h0M1119.8 164.1h0M1120.2 151.8h0M1120.0 321.2h0M1119.8 350.1h0M1119.9 326.9h0M1120.0 345.5h0M1120.8 203.8h0M1121.3 204.8h0M1121.1 214.8h0M1120.7 314.2h0M1120.6 385.1h0M1121.1 311.9h0M1120.9 329.2h0M1121.5 310.5h0M1122.5 337.3h0M1122.9 205.2h0M1123.4 213.3h0M1123.3 337.3h0M1124.1 310.4h0M1123.6 369.4h0M1124.5 332.2h0M1125.3 313.6h0M1125.1 316.2h0M1124.6 315.4h0M1126.2 199.6h0M1125.7 203.0h0M1126.2 321.7h0M1126.0 309.6h0M1127.1 338.8h0M1127.7 214.9h0M1128.1 213.8h0M1128.2 215.8h0M1127.8 314.3h0M1128.4 309.2h0M1127.6 345.0h0M1128.7 212.5h0M1129.1 210.7h0M1128.7 174.5h0M1128.9 210.9h0M1128.7 310.7h0M1129.6 211.6h0M1130.5 188.4h0M1130.1 208.4h0M1130.2 211.5h0M1129.9 335.0h0M1129.7 331.3h0M1131.0 207.8h0M1131.4 311.4h0M1130.7 312.3h0M1131.0 340.4h0M1131.2 328.5h0M1131.8 213.9h0M1133.1 211.2h0M1133.4 311.6h0M1134.1 211.2h0M1133.6 353.9h0M1134.8 207.8h0M1134.9 205.7h0M1134.7 310.2h0M1135.5 326.9h0M1135.8 200.7h0M1136.2 216.6h0M1136.2 315.7h0M1135.7 311.8h0M1135.6 324.4h0M1137.4 216.8h0M1137.0 216.1h0M1136.7 313.4h0M1137.9 205.7h0M1138.3 204.5h0M1138.9 216.6h0M1139.7 178.1h0M1139.6 212.2h0M1140.0 209.8h0M1139.7 214.2h0M1139.8 215.6h0M1140.4 316.3h0M1140.3 330.2h0M1140.3 315.4h0M1141.3 210.8h0M1141.4 215.9h0M1140.6 314.0h0M1141.0 322.1h0M1141.9 217.1h0M1142.1 320.1h0M1142.5 193.9h0M1142.6 166.5h0M1143.3 212.6h0M1142.6 309.3h0M1144.3 206.7h0M1143.9 199.4h0M1144.0 192.5h0M1143.8 207.8h0M1143.8 198.4h0M1144.4 214.9h0M1143.8 193.3h0M1144.2 312.7h0M1146.1 206.8h0M1145.5 213.5h0M1145.5 311.6h0M1146.9 215.8h0M1146.8 214.7h0M1147.2 202.9h0M1149.0 210.0h0M1149.4 307.6h0M1149.7 184.0h0M1149.9 195.6h0M1150.4 200.4h0M1149.9 207.6h0M1150.2 320.1h0M1150.2 330.4h0M1150.2 344.6h0M1150.2 322.2h0M1150.5 309.7h0M1150.8 215.3h0M1152.5 213.6h0M1152.3 214.8h0M1151.8 215.4h0M1152.0 345.9h0M1151.9 310.9h0M1151.9 345.6h0M1152.0 339.6h0M1152.8 322.3h0M1152.6 310.5h0M1154.4 215.0h0M1154.2 209.9h0M1153.8 314.2h0M1154.0 353.8h0M1154.1 348.9h0M1154.7 191.1h0M1155.2 196.5h0M1155.4 308.1h0M1155.1 311.7h0M1155.4 315.9h0M1155.2 313.4h0M1155.2 318.2h0M1155.5 206.0h0M1155.6 202.5h0M1156.4 198.4h0M1156.1 196.8h0M1156.0 198.5h0M1156.4 181.3h0M1156.4 315.6h0M1155.7 392.5h0M1155.9 369.9h0M1155.6 323.5h0M1155.5 334.6h0M1156.1 329.3h0M1156.1 387.5h0M1155.9 314.6h0M1156.2 320.8h0M1155.8 324.5h0M1155.9 338.1h0M1157.5 213.1h0M1157.0 214.5h0M1156.9 322.3h0M1156.8 324.9h0M1158.0 313.2h0M1158.1 308.2h0M1158.2 316.6h0M1159.0 214.2h0M1158.7 211.8h0M1159.0 197.7h0M1159.4 211.5h0M1159.4 319.3h0M1158.7 314.9h0M1159.9 206.0h0M1160.1 165.7h0M1159.7 201.3h0M1159.9 209.4h0M1160.1 206.5h0M1160.5 201.1h0M1160.2 164.5h0M1160.0 199.1h0M1159.9 314.0h0M1161.1 212.6h0M1161.2 210.1h0M1161.3 315.0h0M1161.3 334.6h0M1160.9 309.5h0M1161.1 318.5h0M1160.5 337.1h0M1160.6 310.5h0M1161.6 197.4h0M1161.5 192.5h0M1162.3 206.3h0M1162.5 310.2h0M1162.3 307.7h0M1162.1 339.9h0M1162.9 209.2h0M1162.7 212.1h0M1162.7 198.2h0M1163.5 318.8h0M1163.5 314.1h0M1163.1 309.4h0M1164.0 207.4h0M1163.5 210.7h0M1164.3 325.1h0M1164.0 314.7h0M1165.2 204.2h0M1165.4 197.8h0M1165.0 307.7h0M1165.7 198.4h0M1166.5 200.3h0M1167.0 199.6h0M1167.4 212.6h0M1167.2 209.8h0M1167.0 328.2h0M1166.9 319.3h0M1166.5 315.3h0M1168.4 209.9h0M1167.8 309.0h0M1168.0 343.3h0M1168.6 213.0h0M1169.1 327.5h0M1169.4 312.4h0M1168.9 324.9h0M1169.2 311.6h0M1170.2 316.0h0M1170.5 204.6h0M1170.9 203.8h0M1171.2 165.0h0M1171.2 167.6h0M1170.6 200.8h0M1172.3 199.0h0M1171.7 208.6h0M1172.3 200.6h0M1171.8 210.8h0M1171.7 356.4h0M1171.9 318.2h0M1172.4 324.9h0M1171.7 372.2h0M1173.2 206.1h0M1172.7 323.3h0M1173.1 327.0h0M1172.7 326.8h0M1172.9 320.8h0M1173.9 187.2h0M1173.9 212.2h0M1174.0 190.2h0M1174.3 351.4h0M1174.2 337.1h0M1173.8 320.3h0M1173.7 327.2h0M1175.0 207.7h0M1174.5 209.8h0M1175.8 210.5h0M1176.5 147.7h0M1175.6 206.7h0M1176.3 305.6h0M1177.1 306.3h0M1177.3 318.2h0M1176.9 308.2h0M1176.6 339.5h0M1176.7 311.5h0M1177.2 314.7h0M1178.3 202.8h0M1178.4 208.8h0M1177.8 306.9h0M1178.1 307.2h0M1179.4 210.5h0M1179.3 305.3h0M1179.0 316.6h0M1178.7 375.2h0M1179.2 312.5h0M1179.0 315.8h0M1178.8 328.3h0M1178.7 323.4h0M1179.7 308.1h0M1180.3 315.3h0M1180.0 327.2h0M1179.9 307.9h0M1180.3 337.7h0M1179.9 337.3h0M1179.8 322.0h0M1180.5 332.7h0M1179.7 382.1h0M1179.8 345.8h0M1179.9 318.9h0M1180.7 210.5h0M1180.6 207.0h0M1181.3 321.1h0M1181.5 211.4h0M1181.6 210.9h0M1182.0 308.7h0M1182.2 306.4h0M1183.3 203.1h0M1183.4 206.6h0M1183.0 204.1h0M1183.2 310.0h0M1182.6 319.1h0M1183.1 355.3h0M1184.0 320.6h0M1183.8 367.8h0M1184.1 310.1h0M1183.8 339.2h0M1185.0 313.6h0M1186.2 200.8h0M1185.7 205.3h0M1186.5 309.2h0M1186.0 335.0h0M1185.7 318.2h0M1186.3 329.5h0M1186.9 211.3h0M1187.0 357.5h0M1186.9 310.9h0M1188.3 194.3h0M1187.8 203.2h0M1188.4 175.7h0M1187.9 206.8h0M1188.2 201.1h0M1188.3 311.8h0M1187.7 334.2h0M1188.1 336.3h0M1187.7 323.4h0M1188.5 206.9h0M1188.5 314.5h0M1189.2 344.1h0M1190.1 324.2h0M1189.9 361.6h0M1190.0 322.7h0M1189.9 323.6h0M1190.6 208.2h0M1191.1 211.6h0M1190.6 213.2h0M1190.7 326.3h0M1190.5 305.3h0M1191.0 341.5h0M1191.5 310.6h0M1191.3 312.2h0M1192.2 214.0h0M1191.8 364.6h0M1191.5 308.5h0M1192.7 214.8h0M1192.9 207.7h0M1193.2 311.9h0M1192.9 315.4h0M1193.5 305.7h0M1193.1 315.6h0M1194.3 196.2h0M1194.4 207.1h0M1194.1 207.1h0M1194.0 214.6h0M1193.7 306.7h0M1193.8 306.7h0M1194.8 213.3h0M1195.1 196.5h0M1195.0 314.1h0M1195.6 216.2h0M1195.7 203.7h0M1196.2 211.6h0M1196.1 214.2h0M1196.0 316.8h0M1195.7 306.0h0M1195.6 307.4h0M1195.8 305.9h0M1197.1 186.6h0M1197.4 212.8h0M1197.4 216.8h0M1197.0 370.7h0M1196.6 308.9h0M1197.2 309.5h0M1196.7 313.1h0M1197.2 333.5h0M1196.8 385.4h0M1198.1 201.3h0M1197.8 190.7h0M1197.8 211.7h0M1197.8 199.0h0M1198.2 347.4h0M1198.0 352.3h0M1199.3 216.7h0M1199.3 313.0h0M1198.5 314.6h0M1200.0 202.2h0M1200.1 191.1h0M1199.9 184.3h0M1200.5 171.5h0M1200.2 214.7h0M1200.1 214.0h0M1200.3 311.0h0M1199.7 328.7h0M1199.7 317.9h0M1200.0 333.8h0M1199.6 326.1h0M1202.1 212.1h0M1201.7 205.8h0M1203.2 219.4h0M1202.7 218.6h0M1203.1 309.0h0M1203.3 307.5h0M1204.4 213.2h0M1204.4 190.1h0M1203.7 321.2h0M1204.2 319.3h0M1203.9 352.7h0M1203.9 356.3h0M1204.0 321.0h0M1203.6 307.9h0M1204.2 337.0h0M1204.7 220.5h0M1205.0 218.0h0M1205.4 219.9h0M1204.8 319.1h0M1204.6 308.6h0M1205.4 326.3h0M1205.0 306.4h0M1206.2 219.8h0M1205.7 218.7h0M1206.2 318.1h0M1207.4 176.8h0M1207.0 169.4h0M1207.4 187.0h0M1206.7 219.9h0M1207.3 162.9h0M1207.2 187.4h0M1207.0 307.0h0M1208.1 220.8h0M1208.5 214.8h0M1208.2 366.8h0M1209.2 203.0h0M1208.6 214.2h0M1208.7 309.9h0M1208.5 309.2h0M1209.3 309.7h0M1209.4 317.9h0M1210.4 221.0h0M1210.1 315.3h0M1210.3 365.4h0M1209.6 309.7h0M1210.4 368.6h0M1210.3 319.9h0M1211.3 309.9h0M1212.0 313.0h0M1212.2 317.3h0M1211.6 313.0h0M1211.9 311.9h0M1211.6 309.9h0M1213.2 219.7h0M1212.9 309.7h0M1213.2 311.6h0M1214.4 199.3h0M1214.1 220.2h0M1213.6 307.9h0M1213.9 317.0h0M1214.0 338.8h0M1213.6 310.9h0M1214.3 321.9h0M1214.7 311.7h0M1215.5 312.5h0M1214.9 316.5h0M1216.0 222.2h0M1216.3 193.4h0M1215.7 198.1h0M1215.7 213.6h0M1215.8 309.3h0M1216.9 217.2h0M1218.4 219.5h0M1218.0 220.7h0M1217.9 168.3h0M1218.4 206.5h0M1218.3 219.5h0M1218.2 220.5h0M1217.8 312.4h0M1218.4 307.9h0M1217.8 315.0h0M1219.3 221.1h0M1219.0 198.3h0M1219.2 205.1h0M1219.4 212.4h0M1218.8 310.1h0M1219.1 319.8h0M1219.3 314.2h0M1219.8 218.4h0M1219.6 202.3h0M1220.5 201.1h0M1220.0 211.1h0M1220.4 215.9h0M1219.5 191.6h0M1219.6 340.7h0M1219.5 356.8h0M1219.7 310.3h0M1220.9 311.0h0M1220.8 307.0h0M1221.3 318.2h0M1220.8 307.3h0M1221.6 217.8h0M1222.3 208.9h0M1221.9 197.5h0M1222.1 205.8h0M1221.6 308.4h0M1223.4 218.5h0M1222.8 212.9h0M1223.1 308.7h0M1223.3 310.8h0M1222.6 322.3h0M1222.6 335.0h0M1223.2 317.8h0M1224.2 172.4h0M1224.1 220.3h0M1223.5 220.4h0M1223.7 218.4h0M1225.2 207.5h0M1224.7 220.2h0M1225.4 212.5h0M1224.9 341.1h0M1225.0 307.6h0M1225.1 311.2h0M1225.0 319.7h0M1224.8 373.3h0M1226.1 214.3h0M1226.3 216.6h0M1225.7 223.0h0M1225.7 350.2h0M1226.3 330.7h0M1226.4 315.5h0M1225.8 309.7h0M1226.9 211.0h0M1227.4 222.3h0M1227.9 219.9h0M1227.7 358.0h0M1228.5 321.5h0M1228.6 223.2h0M1230.2 219.2h0M1229.6 224.8h0M1229.9 346.1h0M1229.5 327.4h0M1229.9 349.3h0M1231.2 222.9h0M1232.3 211.5h0M1231.6 215.2h0M1231.8 308.6h0M1232.8 225.8h0M1233.0 204.5h0M1234.4 213.0h0M1234.4 218.3h0M1234.2 317.6h0M1234.9 199.0h0M1235.0 314.0h0M1234.5 319.6h0M1234.7 332.7h0M1234.9 343.4h0M1235.4 375.6h0M1235.3 312.7h0M1234.9 315.4h0M1234.9 306.9h0M1235.9 228.4h0M1235.9 331.3h0M1236.2 340.4h0M1236.8 222.6h0M1236.5 309.7h0M1236.6 349.3h0M1236.7 362.9h0M1237.6 204.3h0M1237.7 369.6h0M1237.8 335.2h0M1238.4 387.4h0M1238.2 314.9h0M1237.8 316.5h0M1238.5 344.4h0M1237.6 313.6h0M1238.3 309.5h0M1239.2 213.7h0M1238.6 203.3h0M1238.7 229.9h0M1239.5 222.4h0M1238.8 320.4h0M1239.1 319.2h0M1238.9 314.4h0M1239.5 227.4h0M1239.7 225.7h0M1240.0 224.8h0M1240.1 319.0h0M1239.6 311.7h0M1240.9 320.1h0M1241.4 315.3h0M1241.1 331.5h0M1242.1 216.9h0M1241.7 223.6h0M1242.1 310.7h0M1241.6 327.3h0M1243.4 228.2h0M1242.9 232.0h0M1242.5 224.0h0M1242.7 320.1h0M1244.3 231.9h0M1243.6 228.8h0M1243.6 213.1h0M1244.1 220.6h0M1243.9 386.8h0M1244.4 326.0h0M1243.9 336.2h0M1243.9 324.7h0M1244.5 380.8h0M1243.6 309.5h0M1244.6 221.2h0M1244.8 203.9h0M1245.2 220.3h0M1244.8 229.9h0M1244.8 216.0h0M1245.0 182.6h0M1245.0 203.7h0M1244.7 309.9h0M1246.0 233.0h0M1246.3 184.4h0M1246.4 217.6h0M1246.3 338.6h0M1245.6 319.0h0M1247.5 229.5h0M1247.2 230.5h0M1246.6 223.0h0M1247.3 218.6h0M1247.1 235.0h0M1246.7 232.2h0M1247.4 310.6h0M1246.6 308.0h0M1247.1 315.6h0M1247.7 311.3h0M1247.6 313.1h0M1249.3 223.9h0M1249.2 212.6h0M1249.3 309.3h0M1250.3 233.5h0M1250.4 225.5h0M1249.8 228.1h0M1249.6 221.9h0M1249.8 228.5h0M1250.4 310.7h0M1251.2 236.2h0M1250.9 230.6h0M1250.7 204.8h0M1250.6 230.5h0M1251.1 383.8h0M1251.0 335.2h0M1251.0 353.6h0M1251.0 326.6h0M1251.8 215.7h0M1252.3 211.8h0M1252.4 230.5h0M1252.1 309.6h0M1251.5 317.2h0M1253.2 236.2h0M1253.0 228.1h0M1252.9 224.2h0M1253.0 229.9h0M1253.4 221.4h0M1252.8 196.0h0M1254.4 236.1h0M1253.6 198.8h0M1254.8 230.2h0M1255.5 229.4h0M1255.2 199.3h0M1255.4 193.4h0M1255.2 218.4h0M1254.5 233.2h0M1255.5 176.1h0M1255.5 202.3h0M1255.4 214.8h0M1254.8 226.8h0M1254.8 210.8h0M1254.8 312.8h0M1256.1 360.2h0M1255.6 333.6h0M1256.0 326.0h0M1256.4 322.8h0M1256.2 321.0h0M1257.1 232.9h0M1256.7 227.0h0M1257.4 234.7h0M1258.2 219.5h0M1258.3 214.7h0M1257.6 364.7h0M1257.6 333.1h0M1257.7 309.9h0M1258.7 314.3h0M1258.9 311.4h0M1258.8 314.0h0M1259.4 332.5h0M1259.7 234.9h0M1259.8 335.8h0M1261.3 309.1h0M1262.0 220.2h0M1261.6 218.3h0M1262.1 227.4h0M1262.8 219.7h0M1262.6 347.6h0M1262.5 323.3h0M1262.8 324.9h0M1263.4 308.8h0M1263.6 225.5h0M1263.9 224.7h0M1263.7 215.4h0M1263.8 235.8h0M1263.6 224.2h0M1264.3 236.3h0M1264.4 311.4h0M1263.8 309.8h0M1264.9 226.7h0M1264.7 235.9h0M1264.8 230.1h0M1265.1 324.4h0M1265.1 311.0h0M1265.0 319.6h0M1266.2 213.9h0M1265.7 220.2h0M1265.8 221.0h0M1265.9 234.7h0M1265.9 224.4h0M1266.4 311.4h0M1266.2 320.4h0M1267.1 232.5h0M1266.6 173.8h0M1266.7 225.4h0M1266.7 307.5h0M1267.3 314.0h0M1267.0 308.9h0M1267.8 228.3h0M1268.2 228.4h0M1267.5 220.0h0M1267.9 320.2h0M1269.2 212.7h0M1269.3 309.3h0M1270.4 235.5h0M1270.3 310.4h0M1269.7 317.3h0M1270.5 320.0h0M1270.8 226.4h0M1273.1 311.4h0M1274.1 216.5h0M1274.3 229.8h0M1274.3 234.8h0M1273.5 230.8h0M1276.1 221.2h0M1276.2 235.2h0M1275.9 214.2h0M1276.1 309.2h0M1275.7 309.3h0M1278.4 308.8h0M1278.3 325.5h0M1277.6 311.3h0M1278.8 365.7h0M1279.3 353.0h0M1280.0 230.1h0M1280.3 212.6h0M1279.7 229.9h0M1280.2 215.3h0M1280.1 236.4h0M1280.2 221.0h0M1280.1 234.4h0M1279.6 324.1h0M1279.7 309.5h0M1280.2 322.5h0M1280.5 331.9h0M1279.6 334.5h0M1280.5 313.5h0M1280.5 321.9h0M1281.0 219.6h0M1281.3 234.2h0M1281.1 233.5h0M1281.4 307.6h0M1281.9 304.4h0M1281.5 312.6h0M1283.1 235.9h0M1282.6 306.5h0M1282.6 366.2h0M1283.0 318.4h0M1283.4 344.0h0M1282.5 331.1h0M1283.5 232.8h0M1284.4 233.8h0M1283.5 351.1h0M1284.2 328.9h0M1283.7 373.9h0M1284.9 217.9h0M1284.9 236.6h0M1285.3 218.6h0M1285.2 229.1h0M1285.4 231.8h0M1284.6 337.8h0M1284.9 327.6h0M1284.8 307.1h0M1284.9 315.1h0M1284.9 322.7h0M1286.0 223.7h0M1286.0 229.1h0M1286.3 233.7h0M1286.1 229.7h0M1286.1 222.9h0M1286.5 318.9h0M1285.9 315.8h0M1286.1 310.2h0M1286.9 312.7h0M1288.0 236.5h0M1287.8 224.4h0M1287.6 233.2h0M1288.2 227.8h0M1287.7 305.3h0M1287.8 310.1h0M1289.0 340.1h0M1289.1 310.3h0M1288.7 339.0h0M1289.2 315.1h0M1288.5 327.0h0M1289.3 314.5h0M1289.9 304.5h0M1289.6 306.2h0M1290.2 304.0h0M1290.4 327.7h0M1291.5 314.8h0M1290.8 308.1h0M1290.5 311.5h0M1291.2 368.6h0M1292.2 212.9h0M1291.8 216.4h0M1291.5 194.6h0M1292.3 214.9h0M1291.8 191.0h0M1292.2 225.3h0M1292.5 203.3h0M1291.8 307.5h0M1291.6 310.0h0M1293.5 331.7h0M1293.3 312.2h0M1293.1 309.3h0M1293.0 304.4h0M1294.2 227.0h0M1293.7 368.8h0M1294.3 314.6h0M1294.2 329.5h0M1294.4 378.5h0M1294.1 377.1h0M1294.4 312.1h0M1293.9 317.3h0M1293.9 321.1h0M1294.3 306.7h0M1293.6 304.2h0M1293.9 383.0h0M1294.7 227.1h0M1296.3 238.5h0M1296.1 221.1h0M1296.2 237.8h0M1296.1 325.7h0M1296.8 222.8h0M1296.7 236.9h0M1297.1 330.6h0M1296.9 332.4h0M1297.3 320.0h0M1297.6 229.1h0M1297.8 236.6h0M1297.9 236.2h0M1297.9 351.6h0M1297.6 304.8h0M1297.9 339.5h0M1297.6 321.0h0M1297.7 327.4h0M1297.5 308.3h0M1297.6 355.5h0M1297.6 303.8h0M1298.7 232.6h0M1299.5 227.3h0M1298.6 199.0h0M1298.6 237.6h0M1299.0 306.1h0M1299.3 302.7h0M1299.2 311.5h0M1299.5 235.1h0M1299.6 323.6h0M1300.0 320.1h0M1300.5 318.2h0M1299.8 308.7h0M1300.6 229.1h0M1301.3 346.4h0M1301.0 307.2h0M1301.1 345.7h0M1301.9 234.4h0M1302.1 309.0h0M1301.6 308.5h0M1302.5 308.0h0M1303.0 216.5h0M1303.1 232.4h0M1302.8 203.4h0M1302.5 227.1h0M1302.7 226.0h0M1302.8 234.2h0M1302.7 305.9h0M1304.1 321.6h0M1304.2 312.2h0M1304.3 312.5h0M1305.1 231.7h0M1305.1 227.2h0M1305.2 357.6h0M1305.1 383.7h0M1306.4 304.1h0M1305.6 306.0h0M1306.9 236.2h0M1306.6 235.4h0M1306.6 176.7h0M1306.5 207.6h0M1306.9 228.3h0M1306.9 237.9h0M1306.6 198.1h0M1307.3 330.0h0M1307.3 332.8h0M1306.6 305.9h0M1307.0 302.9h0M1308.0 233.7h0M1307.8 335.3h0M1307.9 309.7h0M1307.6 385.1h0M1309.1 230.8h0M1309.4 234.6h0M1308.8 239.4h0M1309.6 235.9h0M1309.8 320.2h0M1310.4 310.4h0M1311.0 235.8h0M1310.8 202.2h0M1310.6 186.3h0M1311.4 229.0h0M1311.1 326.0h0M1312.4 222.5h0M1312.3 238.6h0M1311.7 322.8h0M1311.7 316.8h0M1312.2 324.0h0M1312.4 303.2h0M1311.8 311.6h0M1312.6 230.0h0M1313.4 211.8h0M1312.9 233.3h0M1312.8 308.2h0M1313.7 210.6h0M1314.3 317.0h0M1314.2 306.2h0M1313.6 306.3h0M1314.5 239.9h0M1315.1 350.7h0M1315.3 336.2h0M1316.2 234.2h0M1316.0 237.3h0M1316.3 233.5h0M1315.5 307.0h0M1315.8 338.1h0M1317.5 239.6h0M1316.9 234.9h0M1316.6 233.3h0M1316.6 304.4h0M1316.6 327.3h0M1318.2 238.7h0M1317.7 238.2h0M1317.7 357.1h0M1318.2 379.9h0M1318.4 322.4h0M1317.6 347.1h0M1318.3 328.1h0M1319.0 239.4h0M1318.8 216.9h0M1318.9 236.6h0M1319.1 223.9h0M1318.9 305.7h0M1319.1 303.3h0M1320.3 237.2h0M1320.3 229.5h0M1319.7 322.7h0M1320.4 309.5h0M1319.8 304.6h0M1321.4 206.6h0M1321.3 315.4h0M1320.8 304.3h0M1321.3 303.6h0M1321.8 331.0h0M1321.7 311.3h0M1321.7 342.1h0M1322.1 339.6h0M1322.0 323.0h0M1322.0 335.1h0M1322.2 368.0h0M1322.4 329.5h0M1322.5 346.7h0M1323.2 234.0h0M1322.6 234.2h0M1322.6 230.5h0M1323.0 231.2h0M1324.3 239.1h0M1323.8 365.8h0M1323.5 341.2h0M1323.8 366.1h0M1323.9 321.0h0M1323.6 341.0h0M1324.4 341.4h0M1323.6 303.2h0M1323.8 327.0h0M1324.2 324.3h0M1324.3 307.1h0M1323.8 348.2h0M1325.2 237.7h0M1325.1 236.8h0M1325.5 228.1h0M1325.0 228.4h0M1324.9 218.8h0M1324.6 209.5h0M1325.1 340.8h0M1325.7 225.8h0M1325.8 236.0h0M1326.4 232.1h0M1325.7 313.3h0M1326.7 237.3h0M1326.7 194.2h0M1327.1 309.4h0M1327.8 231.9h0M1328.4 230.5h0M1327.5 211.8h0M1327.8 346.8h0M1327.8 321.0h0M1327.8 316.1h0M1328.1 352.4h0M1327.5 307.2h0M1328.2 352.9h0M1327.9 338.9h0M1328.1 369.2h0M1328.2 335.9h0M1328.9 237.4h0M1328.7 229.1h0M1329.2 235.5h0M1329.3 303.2h0M1328.7 331.2h0M1329.4 327.5h0M1329.6 235.8h0M1330.1 225.2h0M1330.4 233.7h0M1330.1 229.3h0M1330.7 235.2h0M1331.4 302.6h0M1330.6 321.0h0M1331.8 233.8h0M1332.0 319.4h0M1332.5 311.5h0M1332.2 318.9h0M1331.6 302.6h0M1332.3 345.9h0M1332.1 305.1h0M1332.6 235.5h0M1333.1 222.3h0M1333.0 231.4h0M1332.9 222.6h0M1333.1 235.7h0M1332.8 225.6h0M1333.3 309.3h0M1333.3 339.4h0M1333.8 234.8h0M1334.1 236.1h0M1333.9 238.3h0M1333.9 319.9h0M1333.8 315.2h0M1334.1 316.0h0M1334.3 303.4h0M1333.6 311.1h0M1334.4 337.0h0M1333.8 368.6h0M1335.0 235.2h0M1335.1 237.1h0M1335.2 309.5h0M1335.2 307.1h0M1336.4 234.3h0M1336.9 224.1h0M1337.4 236.5h0M1338.2 204.7h0M1337.9 230.5h0M1338.2 312.6h0M1337.9 347.3h0M1337.5 304.2h0M1338.4 308.3h0M1338.7 229.3h0M1339.2 309.8h0M1338.9 320.4h0M1339.4 334.1h0M1338.7 341.3h0M1339.1 311.0h0M1338.9 361.7h0M1339.5 235.0h0M1340.1 238.9h0M1340.1 381.0h0M1341.3 232.4h0M1340.5 302.5h0M1341.2 339.6h0M1340.6 303.9h0M1341.9 239.3h0M1342.0 237.9h0M1344.1 238.4h0M1343.8 308.5h0M1344.1 304.1h0M1344.8 223.4h0M1344.6 209.3h0M1345.5 203.4h0M1345.2 233.2h0M1344.6 319.4h0M1344.8 304.5h0M1345.4 310.3h0M1344.8 305.5h0M1345.4 305.6h0M1345.2 312.6h0M1345.8 233.3h0M1345.6 308.8h0M1346.3 307.9h0M1346.4 310.8h0M1346.0 309.0h0M1347.2 235.3h0M1346.5 179.5h0M1347.2 237.0h0M1346.8 234.8h0M1347.0 322.0h0M1347.2 330.5h0M1346.6 350.1h0M1347.1 341.3h0M1347.1 333.2h0M1347.1 328.6h0M1347.5 309.1h0M1347.0 321.4h0M1347.7 230.7h0M1348.8 214.2h0M1348.8 222.4h0M1349.4 231.2h0M1349.4 227.6h0M1348.7 226.5h0M1349.3 220.8h0M1348.9 226.8h0M1348.6 311.7h0M1348.9 320.6h0M1349.4 309.7h0M1349.2 317.9h0M1350.2 321.3h0M1349.9 306.5h0M1350.7 238.9h0M1350.5 322.5h0M1351.5 329.6h0M1350.8 306.8h0M1351.3 312.8h0M1352.0 236.9h0M1352.5 239.4h0M1352.2 240.3h0M1351.9 312.0h0M1351.6 306.5h0M1352.5 312.7h0M1352.0 310.2h0M1352.8 239.9h0M1352.8 239.9h0M1353.7 239.7h0M1353.5 304.3h0M1354.8 237.3h0M1355.2 320.8h0M1354.6 327.9h0M1356.4 219.1h0M1356.2 306.8h0M1355.7 309.2h0M1357.0 232.4h0M1356.7 234.0h0M1357.3 225.9h0M1356.9 238.3h0M1356.6 318.9h0M1357.4 326.8h0M1356.7 371.7h0M1357.4 309.7h0M1356.7 324.9h0M1357.8 233.3h0M1358.0 327.1h0M1358.2 330.1h0M1358.3 367.6h0M1358.1 318.8h0M1357.9 328.7h0M1357.9 352.5h0M1359.0 304.6h0M1358.6 345.5h0M1359.0 345.9h0M1360.3 232.5h0M1359.7 317.0h0M1360.5 305.3h0M1361.0 235.8h0M1360.7 307.5h0M1361.1 306.5h0M1361.0 309.1h0M1361.9 225.0h0M1362.1 235.1h0M1361.8 323.5h0M1362.2 306.7h0M1361.7 333.2h0M1362.0 308.9h0M1362.1 363.9h0M1362.5 226.9h0M1362.9 239.4h0M1364.3 314.3h0M1364.3 310.7h0M1365.1 237.6h0M1364.5 319.3h0M1365.5 217.4h0M1366.5 206.5h0M1365.6 236.1h0M1366.0 316.2h0M1366.0 351.2h0M1365.7 329.7h0M1367.1 238.9h0M1368.3 236.1h0M1368.0 233.6h0M1368.1 313.4h0M1368.9 220.1h0M1368.8 238.9h0M1369.1 228.1h0M1369.0 315.7h0M1369.2 313.1h0M1369.2 312.4h0M1369.5 240.4h0M1370.0 232.3h0M1369.7 225.2h0M1369.8 194.1h0M1370.1 227.8h0M1369.9 366.0h0M1369.8 330.9h0M1370.2 339.0h0M1369.8 314.1h0M1369.6 340.0h0M1370.7 229.8h0M1371.4 240.4h0M1371.5 336.6h0M1370.8 312.7h0M1370.8 332.4h0M1371.4 315.6h0M1370.6 310.0h0M1370.9 315.1h0M1371.8 223.8h0M1372.3 229.6h0M1372.5 211.6h0M1371.5 313.9h0M1372.8 317.7h0M1373.2 330.3h0M1372.8 314.5h0M1374.2 225.0h0M1374.4 211.8h0M1374.3 321.4h0M1373.5 310.5h0M1374.7 236.3h0M1374.6 237.2h0M1374.8 228.1h0M1375.4 353.1h0M1375.3 318.0h0M1376.3 234.8h0M1376.2 327.5h0M1376.3 323.1h0M1375.8 387.2h0M1375.9 340.6h0M1376.3 320.7h0M1375.6 322.7h0M1377.3 229.2h0M1378.2 222.8h0M1378.1 231.6h0M1378.1 224.9h0M1378.0 233.5h0M1379.1 228.4h0M1379.1 328.8h0M1380.5 199.0h0M1379.7 360.6h0M1379.7 346.1h0M1380.1 342.1h0M1379.7 349.0h0M1379.7 324.7h0M1381.4 202.8h0M1381.3 219.7h0M1380.7 199.2h0M1380.9 228.2h0M1381.3 203.2h0M1381.1 212.1h0M1380.6 325.9h0M1381.3 328.6h0M1380.9 398.6h0M1381.2 336.5h0M1382.4 226.6h0M1381.9 219.4h0M1381.8 210.1h0M1381.8 330.4h0M1381.7 347.2h0M1382.5 224.9h0M1382.9 210.0h0M1382.9 325.1h0M1383.4 327.0h0M1384.4 206.8h0M1384.3 163.6h0M1384.0 213.2h0M1383.7 214.5h0M1383.8 163.6h0M1384.1 212.5h0M1384.8 222.4h0M1385.0 334.9h0M1385.6 218.0h0M1385.5 214.3h0M1385.7 188.5h0M1385.7 326.8h0M1387.2 165.3h0M1387.4 216.2h0M1386.6 217.5h0M1386.6 220.4h0M1388.0 208.4h0M1388.5 205.2h0M1388.0 211.4h0M1388.1 216.7h0M1387.9 199.4h0M1387.6 334.9h0M1387.8 355.1h0M1388.9 176.6h0M1388.6 167.8h0M1388.6 209.3h0M1389.5 335.5h0M1389.2 346.0h0M1390.4 205.2h0M1390.0 196.0h0M1389.8 202.7h0M1389.8 204.3h0M1389.7 176.3h0M1389.9 203.9h0M1390.4 211.1h0M1390.0 365.0h0M1389.8 349.7h0M1391.0 199.8h0M1391.1 194.0h0M1391.0 334.9h0M1391.3 371.8h0M1391.7 208.4h0M1392.0 362.1h0M1393.3 210.9h0M1392.9 348.3h0M1392.8 378.0h0M1393.3 399.3h0M1392.7 334.3h0M1393.8 342.7h0M1394.8 207.5h0M1394.5 344.1h0M1394.8 361.1h0M1395.2 343.8h0M1396.3 197.3h0M1396.0 199.9h0M1396.4 206.5h0M1395.9 151.9h0M1396.4 144.1h0M1396.3 192.2h0M1396.3 184.2h0M1395.9 183.5h0M1396.4 207.6h0M1396.2 336.6h0M1395.9 336.6h0M1395.9 356.4h0M1395.9 356.1h0M1396.4 365.5h0M1396.7 343.4h0M1397.4 412.8h0M1396.7 420.6h0M1397.0 381.5h0M1396.8 375.3h0M1396.9 370.1h0M1397.9 208.1h0M1397.8 205.5h0M1397.5 175.2h0M1398.0 204.6h0M1398.3 367.4h0M1398.4 338.0h0M1397.7 342.2h0M1398.1 341.2h0M1397.6 413.1h0M1399.3 198.1h0M1399.4 198.4h0M1399.4 338.9h0M1398.6 359.9h0M1398.8 370.9h0M1400.4 200.5h0M1400.2 179.9h0M1400.1 365.9h0M1400.1 338.5h0M1399.5 342.9h0M1400.9 199.9h0M1401.4 206.3h0M1401.1 201.4h0M1401.4 341.4h0M1400.7 347.7h0M1402.3 202.1h0M1402.2 385.2h0M1402.1 359.1h0M1401.6 398.2h0M1402.4 373.0h0M1403.4 206.3h0M1403.5 179.2h0M1402.6 205.7h0M1404.3 201.7h0M1403.5 184.8h0M1404.4 172.5h0M1403.5 181.1h0M1404.3 191.5h0M1404.3 369.3h0M1404.0 340.1h0M1403.9 341.4h0M1404.1 353.8h0M1405.2 201.0h0M1405.4 199.2h0M1405.0 361.5h0M1405.0 346.3h0M1406.0 358.7h0M1405.9 348.3h0M1407.3 202.7h0M1407.5 203.4h0M1407.2 342.6h0M1407.1 347.3h0M1408.4 203.5h0M1408.1 341.6h0M1408.8 202.1h0M1408.6 199.8h0M1408.5 193.2h0M1409.0 358.2h0M1409.4 375.0h0M1410.1 167.2h0M1409.7 191.8h0M1409.9 369.6h0M1410.0 381.8h0M1410.0 386.3h0M1410.2 364.6h0M1409.7 416.8h0M1410.3 361.4h0M1409.9 357.4h0M1409.9 420.4h0M1410.2 344.6h0M1410.5 350.9h0M1410.9 339.6h0M1411.4 341.4h0M1412.5 200.5h0M1412.0 199.4h0M1412.2 358.1h0M1411.9 361.5h0M1411.8 361.9h0M1411.8 343.8h0M1412.2 345.5h0M1412.7 178.3h0M1413.2 167.3h0M1412.9 140.8h0M1413.2 190.9h0M1413.1 351.4h0M1412.5 354.5h0M1414.3 199.9h0M1414.0 197.0h0M1414.3 342.0h0M1413.5 363.5h0M1415.2 187.5h0M1415.3 187.1h0M1415.1 176.9h0M1415.3 187.5h0M1414.5 174.9h0M1414.6 178.3h0M1415.0 343.3h0M1415.0 345.7h0M1415.4 342.8h0M1415.8 344.1h0M1416.4 339.4h0M1417.4 195.1h0M1416.9 175.3h0M1417.3 174.1h0M1417.1 196.6h0M1417.5 202.0h0M1417.9 190.9h0M1418.6 202.8h0M1419.1 197.5h0M1419.2 364.6h0M1419.2 341.8h0M1419.9 404.1h0M1420.4 360.0h0M1419.6 369.7h0M1420.5 387.3h0M1419.7 349.3h0M1420.3 397.1h0M1419.8 381.7h0M1419.7 359.9h0M1419.9 343.9h0M1421.0 191.3h0M1420.9 199.9h0M1421.4 359.7h0M1422.0 341.8h0M1422.2 382.3h0M1422.7 366.6h0M1422.7 363.9h0M1422.7 358.7h0M1423.3 354.3h0M1422.7 345.4h0M1423.6 207.3h0M1423.7 345.9h0M1424.3 337.7h0M1424.7 177.3h0M1424.7 201.7h0M1426.2 346.3h0M1425.7 397.0h0M1426.3 355.5h0M1427.0 328.0h0M1426.7 360.4h0M1427.9 210.5h0M1428.0 344.6h0M1427.8 325.6h0M1427.9 352.4h0M1429.4 208.7h0M1429.0 213.8h0M1428.5 210.0h0M1428.8 206.5h0M1429.4 204.3h0M1428.8 343.8h0M1428.9 381.2h0M1428.7 359.0h0M1430.2 215.5h0M1430.4 212.2h0M1429.5 321.0h0M1430.9 203.2h0M1431.2 164.5h0M1430.6 219.4h0M1430.6 223.0h0M1431.2 320.4h0M1430.7 319.2h0M1432.3 338.1h0M1431.9 334.6h0M1431.8 322.6h0M1432.4 313.4h0M1433.0 222.2h0M1433.2 227.7h0M1432.8 206.1h0M1433.2 227.1h0M1432.6 330.5h0M1433.5 328.8h0M1434.4 231.4h0M1433.7 211.5h0M1433.6 227.8h0M1434.1 218.4h0M1434.0 308.4h0M1433.9 323.9h0M1435.5 236.7h0M1434.8 231.3h0M1435.2 221.5h0M1434.8 219.6h0M1435.3 225.3h0M1434.9 190.0h0M1435.0 213.5h0M1435.4 233.2h0M1434.7 228.6h0M1435.4 299.7h0M1434.7 312.7h0M1435.7 300.0h0M1441.2 316.0h0M1442.3 243.1h0M1444.8 242.5h0M1446.3 245.7h0M1448.0 245.2h0M1448.5 340.0h0M1449.2 322.0h0M1449.4 342.1h0M1449.3 318.5h0M1448.5 317.0h0M1449.6 321.6h0M1450.3 330.2h0M1449.6 328.9h0M1449.7 321.4h0M1450.0 326.7h0M1450.5 217.0h0M1450.8 212.3h0M1451.0 357.5h0M1452.3 223.6h0M1451.9 364.8h0M1452.0 345.8h0M1451.7 346.7h0M1453.5 214.1h0M1453.1 195.0h0M1453.1 180.0h0M1453.1 355.8h0M1452.7 375.3h0M1453.0 358.5h0M1452.7 368.5h0M1453.1 357.1h0M1454.2 212.3h0M1454.3 367.8h0M1455.3 212.9h0M1455.0 202.3h0M1454.8 180.0h0M1455.3 348.4h0M1454.9 367.1h0M1455.9 197.7h0M1456.0 205.4h0M1455.7 350.0h0M1455.9 372.2h0M1456.2 361.2h0M1457.2 187.1h0M1457.0 208.4h0M1457.3 392.2h0M1457.1 383.6h0M1457.6 199.8h0M1457.9 203.5h0M1457.8 353.8h0M1457.5 364.0h0M1458.1 368.0h0M1458.0 363.3h0M1457.6 356.0h0M1457.7 381.9h0M1457.7 390.5h0M1457.6 350.4h0M1459.3 202.6h0M1458.9 195.2h0M1459.1 208.5h0M1459.1 212.0h0M1459.3 415.0h0M1459.0 355.6h0M1460.5 210.7h0M1460.5 375.3h0M1459.6 383.8h0M1460.3 398.3h0M1461.2 186.8h0M1460.8 210.1h0M1461.3 384.5h0M1461.3 373.0h0M1461.2 383.2h0M1461.6 199.2h0M1462.3 203.8h0M1461.6 204.6h0M1461.8 355.9h0M1461.6 355.3h0M1462.5 350.2h0M1463.0 353.4h0M1462.7 378.9h0M1464.0 205.4h0M1464.3 187.8h0M202.0 111.0h0M699.2 60.0h0M730.0 80.7h0M725.0 93.2h0M730.0 95.8h0M693.5 92.0h0M626.4 95.8h0M654.6 99.5h0M651.5 105.8h0M373.4 102.0h0M384.0 98.3h0M384.0 105.2h0M776.4 132.2h0M775.0 144.7h0M775.0 155.4h0M829.7 142.2h0M822.0 147.2h0M834.7 152.2h0M994.8 159.2h0M1013.7 152.2h0M959.0 174.8h0M165.1 155.1h0M165.1 172.3h0M165.1 181.9h0M202.5 147.4h0M202.5 189.4h0M186.5 189.4h0M186.5 193.5h0M166.4 199.9h0M202.0 211.9h0M251.2 214.6h0M251.2 219.0h0M137.3 239.2h0M122.0 368.9h0M122.0 365.0h0M165.1 349.8h0M156.4 340.2h0M207.5 334.2h0M207.5 322.5h0M207.5 328.0h0M122.0 344.3h0M122.0 340.0h0M131.0 340.2h0M535.0 72.5h0M542.2 95.1h0M542.2 107.3h0M582.3 100.2h0M582.3 112.3h0M551.2 458.0h0M579.8 434.7h0M615.7 436.5h0M523.5 114.5h0M510.6 115.6h0M456.0 117.4h0M996.2 152.0h0M996.2 158.4h0M996.2 169.2h0M1014.2 152.5h0M1049.2 146.9h0M1036.0 161.0h0M959.1 174.3h0M959.1 181.4h0M942.5 189.1h0M926.4 343.2h0M939.4 352.2h0M962.5 370.9h0M1019.3 367.0h0M1044.4 411.0h0M1044.4 378.0h0M1050.0 388.8h0M1053.9 368.3h0M977.0 330.0h0M963.0 332.5h0M963.0 343.2h0M1084.1 136.0h0M1152.3 149.0h0M1119.5 150.0h0M1099.2 157.2h0M1187.8 153.4h0M1081.2 401.0h0M1110.2 408.3h0M1165.1 402.2h0M1232.2 404.5h0M1232.2 444.3h0M1125.3 392.4h0M1182.0 395.3h0M1386.2 129.6h0M1402.0 140.5h0M1408.0 138.6h0M1340.0 151.4h0M1289.5 176.0h0M1249.1 181.4h0M1433.4 169.2h0M1457.2 162.3h0M1243.1 414.4h0M1397.1 430.5h0M1421.1 423.1h0M1299.1 393.1h0M1354.2 369.3h0M1452.6 391.2h0M1243.1 396.4h0M668.0 497.0h0M687.0 465.0h0M692.0 448.0h0M700.0 441.0h0M707.0 426.0h0M715.0 413.0h0M719.0 405.0h0M731.0 397.0h0M733.0 410.0h0M645.0 480.0h0M654.0 463.0h0M640.0 470.0h0M669.0 442.0h0M689.0 433.0h0M735.0 82.0h0M727.0 93.0h0M727.0 110.0h0M741.0 100.0h0M741.0 110.0h0M736.0 122.0h0M698.0 95.0h0M700.0 111.0h0M612.0 90.0h0M656.0 110.0h0M653.0 100.0h0M675.0 121.0h0M666.0 150.0h0M725.0 150.0h0M741.0 140.0h0" stroke="#1f77b4" stroke-width="5.6" stroke-linecap="round" fill="none"/>
<path d="M116.5,290.0 L117.0,290.3 L119.0,299.0 L121.1,306.6 L123.2,303.5 L125.2,292.3 L127.0,292.3 L128.8,290.5 L130.5,288.0 L132.3,285.2 L134.0,284.4 L135.7,283.6 L137.4,281.1 L139.4,288.7 L141.5,296.4 L143.2,292.3 L144.9,289.0 L146.6,287.3 L148.2,284.3 L149.8,285.4 L151.5,284.7 L153.1,285.2 L154.7,281.1 L156.8,287.7 L158.8,292.3 L160.6,287.6 L162.4,282.9 L164.1,276.5 L165.9,271.0 L167.4,274.2 L169.0,283.2 L170.5,282.0 L172.1,276.5 L173.6,274.6 L175.1,271.0 L176.7,272.4 L178.4,279.2 L180.0,277.9 L181.7,278.3 L183.3,279.1 L185.3,259.7 L187.1,258.3 L188.9,261.9 L190.6,259.2 L192.4,260.8 L194.2,264.9 L196.0,262.5 L197.8,266.9 L199.6,268.9 L201.2,270.4 L202.8,267.3 L204.5,268.7 L206.1,268.6 L207.7,267.9 L209.2,273.7 L210.8,276.0 L212.5,274.1 L214.1,274.8 L215.8,275.8 L217.4,268.7 L219.1,268.5 L220.7,269.4 L222.3,266.3 L224.0,265.9 L225.6,266.0 L227.2,272.8 L228.8,274.2 L230.4,276.6 L232.0,278.8 L233.6,280.3 L235.2,281.1 L236.8,278.7 L238.5,274.9 L240.1,278.5 L241.8,274.6 L243.4,275.0 L244.9,278.3 L246.4,281.1 L248.4,275.9 L250.5,268.9 L252.0,269.1 L253.6,272.7 L255.1,278.2 L256.6,277.1 L258.2,276.4 L259.9,270.1 L261.5,270.3 L263.2,268.4 L264.8,265.9 L266.3,272.7 L267.8,277.1 L269.3,278.2 L270.9,276.5 L272.4,275.9 L273.9,277.4 L275.5,273.2 L279.0,268.6 L280.0,266.0 L281.0,269.2 L282.0,272.5 L283.0,276.1 L284.0,279.7 L285.0,277.9 L286.0,270.3 L287.0,266.2 L288.0,271.8 L289.0,279.3 L290.0,277.2 L291.0,268.7 L292.0,267.7 L293.0,277.7 L294.0,286.0 L295.0,282.0 L296.0,271.2 L297.0,265.8 L298.0,268.3 L299.0,271.8 L300.0,271.9 L301.0,270.5 L302.0,270.2 L303.0,270.7 L304.0,272.1 L305.0,275.5 L306.0,279.5 L307.0,280.7 L308.0,278.2 L309.0,274.4 L310.0,271.2 L311.0,267.9 L312.0,264.8 L313.0,265.1 L314.0,270.0 L315.0,275.4 L316.0,277.4 L317.0,276.4 L318.0,275.8 L319.0,275.5 L320.0,273.1 L321.0,269.6 L322.0,269.5 L323.0,273.8 L324.0,277.0 L325.0,274.1 L326.0,268.7 L327.0,269.0 L328.0,275.9 L329.0,280.0 L330.0,273.6 L331.0,261.8 L332.0,258.4 L333.0,269.3 L334.0,284.2 L335.0,288.1 L336.0,279.2 L337.0,268.9 L338.0,266.7 L339.0,270.3 L340.0,272.5 L341.0,272.3 L342.0,272.8 L343.0,273.2 L344.0,269.8 L345.0,265.2 L346.0,267.7 L347.0,277.8 L348.0,284.1 L349.0,277.4 L350.0,265.3 L351.0,263.2 L352.0,274.2 L353.0,284.4 L354.0,281.4 L355.0,269.5 L356.0,262.3 L357.0,265.2 L358.0,271.8 L359.0,274.6 L360.0,273.5 L361.0,272.3 L362.0,272.2 L363.0,271.8 L364.0,271.3 L365.0,273.0 L366.0,277.4 L367.0,280.2 L368.0,276.8 L369.0,268.3 L370.0,262.6 L371.0,265.9 L372.0,274.4 L373.0,278.5 L374.0,274.4 L375.0,268.8 L376.0,268.7 L377.0,271.7 L378.0,270.8 L379.0,267.4 L380.0,270.1 L381.0,280.4 L382.0,287.9 L383.0,283.1 L384.0,269.9 L385.0,260.0 L386.0,258.8 L387.0,263.2 L388.0,269.7 L389.0,277.6 L390.0,283.6 L391.0,281.6 L392.0,272.4 L393.0,265.0 L394.0,266.0 L395.0,270.7 L396.0,270.8 L397.0,267.9 L398.0,270.4 L399.0,279.7 L400.0,286.8 L401.0,283.4 L402.0,272.7 L403.0,263.2 L404.0,259.0 L405.0,258.7 L406.0,261.8 L407.0,269.3 L408.0,279.1 L409.0,284.4 L410.0,281.7 L411.0,275.8 L412.0,274.2 L413.0,277.3 L414.0,278.0 L415.0,271.8 L416.0,262.9 L417.0,259.2 L418.0,262.4 L419.0,267.7 L420.0,271.7 L421.0,276.3 L422.0,281.8 L423.0,282.8 L424.0,276.2 L425.0,269.1 L426.0,270.9 L427.0,277.9 L428.0,276.9 L429.0,265.2 L430.0,257.9 L431.0,267.9 L432.0,284.7 L433.0,287.1 L434.0,272.0 L435.0,258.9 L436.0,262.2 L437.0,273.8 L438.0,277.4 L439.0,272.1 L440.0,269.6 L441.0,275.3 L442.0,282.6 L443.0,284.5 L444.0,281.2 L445.0,274.6 L446.0,265.6 L447.0,258.4 L448.0,258.8 L449.0,266.7 L450.0,274.2 L451.0,276.5 L452.0,277.1 L453.0,279.5 L454.0,280.3 L455.0,276.4 L456.0,272.2 L457.0,272.8 L458.0,275.1 L459.0,273.8 L460.0,271.4 L461.0,273.1 L462.0,275.1 L463.0,269.1 L464.0,260.0 L465.0,261.4 L466.0,274.4 L467.0,282.7 L468.0,277.8 L469.0,272.8 L470.0,281.1 L471.0,291.7 L472.0,284.6 L473.0,263.4 L474.0,253.1 L475.0,263.6 L476.0,277.3 L477.0,277.1 L478.0,270.3 L479.0,271.7 L480.0,278.5 L481.0,277.7 L482.0,269.9 L483.0,268.1 L484.0,275.9 L485.0,281.8 L486.0,278.8 L487.0,273.6 L488.0,273.4 L489.0,274.5 L490.0,272.2 L491.0,269.8 L492.0,271.5 L493.0,273.1 L494.0,270.6 L495.0,268.8 L496.0,273.9 L497.0,280.9 L498.0,279.8 L499.0,272.1 L500.0,269.0 L501.0,273.9 L502.0,278.5 L503.0,277.3 L504.0,275.6 L505.0,277.8 L506.0,278.5 L507.0,272.5 L508.0,264.9 L509.0,264.2 L510.0,269.3 L511.0,272.7 L512.0,273.2 L513.0,276.0 L514.0,281.9 L515.0,284.3 L516.0,279.8 L517.0,273.3 L518.0,270.6 L519.0,272.2 L520.0,275.0 L521.0,276.4 L522.0,273.7 L523.0,267.1 L524.0,262.7 L525.0,267.5 L526.0,278.9 L527.0,285.2 L528.0,280.7 L529.0,273.4 L530.0,272.7 L531.0,275.9 L532.0,275.5 L533.0,272.2 L534.0,272.7 L535.0,276.0 L536.0,275.6 L537.0,272.4 L538.0,274.5 L539.0,280.9 L540.0,279.3 L541.0,265.9 L542.0,255.5 L543.0,262.6 L544.0,279.8 L545.0,288.0 L546.0,283.1 L547.0,277.8 L548.0,280.3 L549.0,283.0 L550.0,277.8 L551.0,268.4 L552.0,263.5 L553.0,264.7 L554.0,268.0 L555.0,271.7 L556.0,275.6 L557.0,277.2 L558.0,276.1 L559.0,276.7 L560.0,281.0 L561.0,283.4 L562.0,277.8 L563.0,269.9 L564.0,270.2 L565.0,278.2 L566.0,282.5 L567.0,276.3 L568.0,266.1 L569.0,261.4 L570.0,263.9 L571.0,270.2 L572.0,278.1 L573.0,284.7 L574.0,285.3 L575.0,279.8 L576.0,274.8 L577.0,274.5 L578.0,275.0 L579.0,272.3 L580.0,271.4 L581.0,277.3 L582.0,283.2 L583.0,278.4 L584.0,265.7 L585.0,258.8 L586.0,262.8 L587.0,269.9 L588.0,275.3 L589.0,284.1 L590.0,295.6 L591.0,296.1 L592.0,279.6 L593.0,262.7 L594.0,263.9 L595.0,275.5 L596.0,275.2 L597.0,262.1 L598.0,258.9 L599.0,275.6 L600.0,292.2 L601.0,288.2 L602.0,272.1 L603.0,265.5 L604.0,270.9 L605.0,275.0 L606.0,275.0 L607.0,280.7 L608.0,290.5 L609.0,288.0 L610.0,269.3 L611.0,255.0 L612.0,262.6 L613.0,280.6 L614.0,284.5 L615.0,271.7 L616.0,262.2 L617.0,268.9 L618.0,282.3 L619.0,287.5 L620.0,283.0 L621.0,276.8 L622.0,274.0 L623.0,274.7 L624.0,277.6 L625.0,279.3 L626.0,275.0 L627.0,265.6 L628.0,260.4 L629.0,266.4 L630.0,277.8 L631.0,283.6 L632.0,281.8 L633.0,279.2 L634.0,279.5 L635.0,278.8 L636.0,275.1 L637.0,272.6 L638.0,274.1 L639.0,275.6 L640.0,273.3 L641.0,270.8 L642.0,273.7 L643.0,279.4 L644.0,279.7 L645.0,272.5 L646.0,266.2 L647.0,268.7 L648.0,278.0 L649.0,285.1 L650.0,284.6 L651.0,279.3 L652.0,275.4 L653.0,275.1 L654.0,275.1 L655.0,271.8 L656.0,266.9 L657.0,266.5 L658.0,273.6 L659.0,282.7 L660.0,285.6 L661.0,280.5 L662.0,273.9 L663.0,271.4 L664.0,272.5 L665.0,273.1 L666.0,272.9 L667.0,274.4 L668.0,278.2 L669.0,282.4 L670.0,284.6 L671.0,283.4 L672.0,277.6 L673.0,267.6 L674.0,259.1 L675.0,259.8 L676.0,271.2 L677.0,284.5 L678.0,289.2 L679.0,283.9 L680.0,277.2 L681.0,276.8 L682.0,280.4 L683.0,279.2 L684.0,270.7 L685.0,263.1 L686.0,266.4 L687.0,278.6 L688.0,286.2 L689.0,280.5 L690.0,269.3 L691.0,267.5 L692.0,277.3 L693.0,284.9 L694.0,279.9 L695.0,270.1 L696.0,270.5 L697.0,281.8 L698.0,289.3 L699.0,282.5 L700.0,268.5 L701.0,261.5 L702.0,266.1 L703.0,275.1 L704.0,281.2 L705.0,282.6 L706.0,280.3 L707.0,275.3 L708.0,271.0 L709.0,271.5 L710.0,276.4 L711.0,279.9 L712.0,278.4 L713.0,274.8 L714.0,273.6 L715.0,274.0 L716.0,272.7 L717.0,270.9 L718.0,272.9 L719.0,278.4 L720.0,280.4 L721.0,274.5 L722.0,265.7 L723.0,263.7 L724.0,271.1 L725.0,280.8 L726.0,284.0 L727.0,280.9 L728.0,277.1 L729.0,275.1 L730.0,271.9 L731.0,264.8 L732.0,256.7 L733.0,253.5 L734.0,258.0 L735.0,267.6 L736.0,268.1 L737.0,267.5 L738.0,264.4 L739.0,257.8 L740.0,248.7 L741.0,240.6 L742.0,236.2 L745.0,232.0 L747.0,228.0 L750.0,226.0 L752.0,225.0 L755.0,218.0 L758.0,241.0 L761.0,235.0 L764.0,245.0 L767.0,231.0 L771.0,245.0 L775.0,239.0 L778.0,245.9 L779.0,244.9 L780.0,245.0 L781.0,247.0 L782.0,249.5 L783.0,249.6 L784.0,247.5 L785.0,246.0 L786.0,246.7 L787.0,248.3 L788.0,249.1 L789.0,249.8 L790.0,251.3 L791.0,252.3 L792.0,249.5 L793.0,242.7 L794.0,237.0 L795.0,238.4 L796.0,246.7 L797.0,254.0 L798.0,253.4 L799.0,246.5 L800.0,242.1 L801.0,245.5 L802.0,252.3 L803.0,253.6 L804.0,247.3 L805.0,240.5 L806.0,241.8 L807.0,251.1 L808.0,259.6 L809.0,259.8 L810.0,252.8 L811.0,247.9 L812.0,247.2 L813.0,249.3 L814.0,250.6 L815.0,251.2 L816.0,254.3 L817.0,259.0 L818.0,265.0 L819.0,268.9 L820.0,270.1 L821.0,270.2 L822.0,269.3 L823.0,266.5 L824.0,262.5 L825.0,260.9 L826.0,263.0 L827.0,267.0 L828.0,267.2 L829.0,262.2 L830.0,257.4 L831.0,258.9 L832.0,265.8 L833.0,269.6 L834.0,262.8 L835.0,250.4 L836.0,242.6 L837.0,245.7 L838.0,255.2 L839.0,261.4 L840.0,259.7 L841.0,253.1 L842.0,248.0 L843.0,245.0 L844.0,241.2 L845.0,235.4 L846.0,231.1 L847.0,231.5 L848.0,235.0 L849.0,239.2 L850.0,237.7 L851.0,233.0 L852.0,229.8 L853.0,230.5 L854.0,233.6 L855.0,237.1 L856.0,240.1 L857.0,241.8 L858.0,242.4 L859.0,241.6 L860.0,240.8 L861.0,241.7 L862.0,244.0 L863.0,244.9 L864.0,242.6 L865.0,239.5 L866.0,239.5 L867.0,242.2 L868.0,242.4 L869.0,236.6 L870.0,228.9 L871.0,228.5 L872.0,237.4 L873.0,248.5 L874.0,252.5 L875.0,248.2 L876.0,244.0 L877.0,246.9 L878.0,253.8 L879.0,255.1 L880.0,248.0 L881.0,239.9 L882.0,242.4 L883.0,254.6 L884.0,263.9 L885.0,260.6 L886.0,248.5 L887.0,240.8 L888.0,244.0 L889.0,251.5 L890.0,252.3 L891.0,244.6 L892.0,237.7 L893.0,240.4 L894.0,251.0 L895.0,259.7 L896.0,260.3 L897.0,256.0 L898.0,253.5 L899.0,253.9 L900.0,252.8 L901.0,247.5 L902.0,241.7 L903.0,241.3 L904.0,247.1 L905.0,253.6 L906.0,255.6 L907.0,252.9 L908.0,249.6 L909.0,248.2 L910.0,247.7 L911.0,246.7 L912.0,245.9 L913.0,247.3 L914.0,250.6 L915.0,253.7 L916.0,254.7 L917.0,254.3 L918.0,254.0 L919.0,253.4 L920.0,250.9 L921.0,246.9 L922.0,244.2 L923.0,245.1 L924.0,248.5 L925.0,250.8 L926.0,250.6 L927.0,250.0 L928.0,251.6 L929.0,254.5 L930.0,255.1 L931.0,252.4 L932.0,249.3 L933.0,249.4 L934.0,252.1 L935.0,253.0 L936.0,250.1 L937.0,246.7 L938.0,247.6 L939.0,253.2 L940.0,257.9 L941.0,256.9 L942.0,251.8 L943.0,248.6 L944.0,251.0 L945.0,255.9 L946.0,257.2 L947.0,253.2 L948.0,247.9 L949.0,246.9 L950.0,250.7 L951.0,254.9 L952.0,255.7 L953.0,253.3 L954.0,251.4 L955.0,252.5 L956.0,255.8 L957.0,258.3 L958.0,257.7 L959.0,254.3 L960.0,250.6 L961.0,249.4 L962.0,251.8 L963.0,256.0 L964.0,258.5 L965.0,256.9 L966.0,252.2 L967.0,248.4 L968.0,248.5 L969.0,252.2 L970.0,256.3 L971.0,258.2 L972.0,258.2 L973.0,257.8 L974.0,256.8 L975.0,254.2 L976.0,250.5 L977.0,248.3 L978.0,249.7 L979.0,253.5 L980.0,255.6 L981.0,254.2 L982.0,252.0 L983.0,252.9 L984.0,257.3 L985.0,260.9 L986.0,259.8 L987.0,254.6 L988.0,250.1 L989.0,249.3 L990.0,251.0 L991.0,252.2 L992.0,252.8 L993.0,254.8 L994.0,258.4 L995.0,260.1 L996.0,256.1 L997.0,248.5 L998.0,244.1 L999.0,247.3 L1000.0,255.4 L1001.0,262.0 L1002.0,261.1 L1003.0,257.0 L1004.0,256.4 L1005.0,260.0 L1006.0,261.6 L1007.0,257.0 L1008.0,249.7 L1009.0,247.0 L1010.0,251.2 L1011.0,256.5 L1012.0,256.6 L1013.0,252.5 L1014.0,251.1 L1015.0,256.2 L1016.0,263.4 L1017.0,264.6 L1018.0,258.5 L1019.0,252.9 L1020.0,255.5 L1021.0,265.1 L1022.0,272.2 L1023.0,268.5 L1024.0,256.5 L1025.0,246.4 L1026.0,246.0 L1027.0,253.5 L1028.0,260.9 L1029.0,262.2 L1030.0,258.9 L1031.0,256.6 L1032.0,259.0 L1033.0,263.9 L1034.0,267.1 L1035.0,266.3 L1036.0,262.8 L1037.0,259.9 L1038.0,258.9 L1039.0,259.0 L1040.0,258.2 L1041.0,256.0 L1042.0,253.7 L1043.0,253.7 L1044.0,257.3 L1045.0,262.8 L1046.0,266.7 L1047.0,265.7 L1048.0,260.5 L1049.0,254.9 L1050.0,253.5 L1051.0,257.2 L1052.0,262.7 L1053.0,265.3 L1054.0,263.3 L1055.0,259.0 L1056.0,256.0 L1057.0,255.7 L1058.0,256.6 L1059.0,257.1 L1060.0,257.1 L1061.0,258.4 L1062.0,260.8 L1063.0,262.3 L1064.0,261.2 L1065.0,258.5 L1066.0,257.6 L1067.0,260.2 L1068.0,264.0 L1069.0,265.4 L1070.0,263.1 L1071.0,260.1 L1072.0,259.2 L1073.0,260.1 L1074.0,259.2 L1075.0,255.3 L1076.0,251.8 L1077.0,253.4 L1078.0,260.3 L1079.0,266.9 L1080.0,268.2 L1081.0,264.9 L1082.0,262.8 L1083.0,265.3 L1084.0,269.2 L1085.0,268.7 L1086.0,262.8 L1087.0,257.0 L1088.0,256.5 L1089.0,260.4 L1090.0,262.4 L1091.0,259.2 L1092.0,254.9 L1093.0,256.2 L1094.0,263.7 L1095.0,271.0 L1096.0,271.4 L1097.0,265.7 L1098.0,260.7 L1099.0,261.4 L1100.0,265.5 L1101.0,268.0 L1102.0,267.0 L1103.0,265.8 L1104.0,267.0 L1105.0,268.5 L1106.0,266.1 L1107.0,259.7 L1108.0,254.6 L1109.0,256.0 L1110.0,262.7 L1111.0,268.8 L1112.0,269.5 L1113.0,266.2 L1114.0,263.6 L1115.0,264.4 L1116.0,266.8 L1117.0,268.2 L1118.0,268.0 L1119.0,267.4 L1120.0,267.2 L1121.0,267.2 L1122.0,267.0 L1123.0,267.0 L1124.0,267.1 L1125.0,266.5 L1126.0,264.6 L1127.0,263.1 L1128.0,264.2 L1129.0,267.5 L1130.0,269.0 L1131.0,265.8 L1132.0,259.7 L1133.0,257.6 L1134.0,262.2 L1135.0,269.0 L1136.0,271.0 L1137.0,266.9 L1138.0,262.9 L1139.0,264.7 L1140.0,269.7 L1141.0,269.5 L1142.0,260.6 L1143.0,249.5 L1144.0,246.2 L1145.0,252.9 L1146.0,261.1 L1147.0,261.0 L1148.0,252.6 L1149.0,245.0 L1150.0,247.0 L1151.0,255.4 L1152.0,262.7 L1153.0,264.5 L1154.0,263.1 L1155.0,262.6 L1156.0,263.5 L1157.0,263.2 L1158.0,261.3 L1159.0,260.5 L1160.0,262.6 L1161.0,265.0 L1162.0,263.9 L1163.0,259.2 L1164.0,255.8 L1165.0,257.5 L1166.0,262.5 L1167.0,265.6 L1168.0,265.9 L1169.0,266.9 L1170.0,271.5 L1171.0,277.0 L1172.0,277.2 L1173.0,270.4 L1174.0,262.6 L1175.0,261.3 L1176.0,266.8 L1177.0,272.3 L1178.0,271.6 L1179.0,266.2 L1180.0,263.4 L1181.0,267.2 L1182.0,273.6 L1183.0,275.6 L1184.0,271.0 L1185.0,264.2 L1186.0,261.3 L1187.0,264.1 L1188.0,270.0 L1189.0,275.4 L1190.0,278.5 L1191.0,279.2 L1192.0,277.2 L1193.0,273.4 L1194.0,269.4 L1195.0,268.4 L1196.0,270.6 L1197.0,272.9 L1198.0,272.2 L1199.0,268.4 L1200.0,264.9 L1201.0,264.9 L1202.0,268.2 L1203.0,271.9 L1204.0,273.5 L1205.0,273.1 L1206.0,272.3 L1207.0,272.4 L1208.0,272.9 L1209.0,272.5 L1210.0,270.5 L1211.0,267.3 L1212.0,264.5 L1213.0,264.1 L1214.0,266.6 L1215.0,270.4 L1216.0,272.4 L1217.0,270.7 L1218.0,267.1 L1219.0,265.4 L1220.0,267.5 L1221.0,271.4 L1222.0,272.4 L1223.0,268.9 L1224.0,263.8 L1225.0,262.0 L1226.0,265.0 L1227.0,270.6 L1228.0,274.9 L1229.0,276.2 L1230.0,274.7 L1231.0,271.4 L1232.0,267.2 L1233.0,263.8 L1234.0,263.4 L1235.0,266.6 L1236.0,271.3 L1237.0,274.0 L1238.0,273.9 L1239.0,272.9 L1240.0,273.3 L1241.0,274.2 L1242.0,272.8 L1243.0,268.5 L1244.0,264.8 L1245.0,265.6 L1246.0,270.7 L1247.0,275.8 L1248.0,277.5 L1249.0,276.3 L1250.0,274.9 L1251.0,273.9 L1252.0,271.3 L1253.0,267.0 L1254.0,264.3 L1255.0,267.1 L1256.0,274.0 L1257.0,279.1 L1258.0,277.7 L1259.0,272.4 L1260.0,269.1 L1261.0,270.2 L1262.0,272.0 L1263.0,270.6 L1264.0,267.6 L1265.0,268.6 L1266.0,274.8 L1267.0,280.2 L1268.0,278.1 L1269.0,269.9 L1270.0,264.8 L1271.0,268.9 L1272.0,277.5 L1273.0,279.8 L1274.0,271.8 L1275.0,261.4 L1276.0,260.1 L1277.0,269.9 L1278.0,281.4 L1279.0,283.3 L1280.0,275.7 L1281.0,266.9 L1282.0,264.4 L1283.0,266.8 L1284.0,268.4 L1285.0,266.5 L1286.0,264.5 L1287.0,266.2 L1288.0,270.9 L1289.0,273.8 L1290.0,272.3 L1291.0,268.5 L1292.0,265.1 L1293.0,263.0 L1294.0,261.2 L1295.0,260.0 L1296.0,261.0 L1297.0,264.6 L1298.0,268.3 L1299.0,268.7 L1300.0,265.7 L1301.0,263.0 L1302.0,263.9 L1303.0,267.3 L1304.0,269.6 L1305.0,269.5 L1306.0,269.0 L1307.0,270.0 L1308.0,271.1 L1309.0,268.1 L1310.0,260.2 L1311.0,252.6 L1312.0,251.9 L1313.0,259.0 L1314.0,267.6 L1315.0,270.2 L1316.0,266.2 L1317.0,262.2 L1318.0,264.5 L1319.0,272.5 L1320.0,278.8 L1321.0,276.9 L1322.0,268.1 L1323.0,260.0 L1324.0,258.9 L1325.0,263.8 L1326.0,267.7 L1327.0,266.0 L1328.0,261.1 L1329.0,259.4 L1330.0,264.4 L1331.0,272.2 L1332.0,275.9 L1333.0,273.1 L1334.0,268.1 L1335.0,266.9 L1336.0,270.4 L1337.0,273.4 L1338.0,271.5 L1339.0,266.4 L1340.0,264.3 L1341.0,268.4 L1342.0,274.4 L1343.0,276.1 L1344.0,271.4 L1345.0,265.1 L1346.0,263.1 L1347.0,265.9 L1348.0,268.4 L1349.0,266.8 L1350.0,263.1 L1351.0,262.6 L1352.0,267.6 L1353.0,274.0 L1354.0,276.2 L1355.0,272.3 L1356.0,265.9 L1357.0,261.6 L1358.0,261.0 L1359.0,262.4 L1360.0,263.5 L1361.0,263.5 L1362.0,263.2 L1363.0,263.7 L1364.0,265.6 L1365.0,268.2 L1366.0,269.2 L1367.0,266.2 L1368.0,259.2 L1369.0,252.7 L1370.0,252.6 L1371.0,260.1 L1372.0,269.9 L1373.0,273.5 L1374.0,268.7 L1375.0,261.8 L1376.0,260.2 L1377.0,264.5 L1378.0,267.9 L1379.0,265.2 L1380.0,258.5 L1381.0,257.7 L1382.0,266.4 L1383.0,277.6 L1384.0,281.7 L1385.0,276.4 L1386.0,269.0 L1387.0,266.9 L1388.0,269.5 L1389.0,271.0 L1390.0,269.0 L1391.0,268.0 L1392.0,272.6 L1393.0,280.7 L1394.0,285.8 L1395.0,284.7 L1396.0,281.6 L1397.0,281.9 L1398.0,283.8 L1399.0,282.8 L1400.0,277.0 L1401.0,272.3 L1402.0,275.9 L1403.0,286.9 L1404.0,295.1 L1405.0,291.8 L1406.0,279.0 L1407.0,267.8 L1408.0,267.1 L1409.0,275.5 L1410.0,284.6 L1411.0,287.6 L1412.0,285.8 L1413.0,283.6 L1414.0,283.6 L1415.0,284.6 L1416.0,284.4 L1417.0,281.8 L1418.0,276.8 L1419.0,270.9 L1420.0,266.5 L1421.0,266.5 L1422.0,271.3 L1423.0,277.5 L1424.0,280.5 L1425.0,279.1 L1426.0,276.5 L1427.0,276.1 L1428.0,277.0 L1429.0,275.2 L1430.0,271.1 L1431.0,267.2 L1432.0,268.6 L1433.0,274.7 L1434.0,280.1 L1435.0,280.5 L1436.0,277.8 L1437.0,277.8 L1438.0,282.1 L1439.0,286.5 L1440.0,287.0 L1441.0,285.1 L1442.0,284.7 L1443.0,287.9 L1444.0,290.0 L1445.0,286.6 L1446.0,280.1 L1447.0,277.2 L1448.0,280.4 L1449.0,284.3 L1450.0,283.1 L1451.0,278.5 L1452.0,278.5 L1453.0,286.6 L1454.0,295.7 L1455.0,295.6 L1456.0,285.6 L1457.0,276.0 L1458.0,276.8 L1459.0,285.9 L1460.0,291.8 L1461.0,287.5 L1462.0,278.0 L1463.0,273.5 L1464.0,276.6 L1465.0,280.8" fill="none" stroke="#ff7f0e" stroke-width="2.1" stroke-linejoin="round"/>
</g>
<rect x="1047.7" y="49.2" width="405.70000000000005" height="78.2" rx="3" fill="#fff" fill-opacity="0.8" stroke="#cccccc" stroke-width="1.1"/>
<circle cx="1073.5" cy="63.2" r="2.9" fill="#1f77b4"/>
<path d="M1052.9 101.7H1091.6" stroke="#ff7f0e" stroke-width="2.1"/>
<text x="1106.5" y="69.0" font-weight="bold" font-size="17.6" textLength="98" lengthAdjust="spacingAndGlyphs">Raw Data</text>
<text x="1106.5" y="95.8" font-weight="bold" font-size="17.6" textLength="269" lengthAdjust="spacingAndGlyphs">Butterworth Filtered Data</text>
<text x="1106.5" y="116.5" font-weight="bold" font-size="17.6" textLength="338" lengthAdjust="spacingAndGlyphs">(N=6, Tc=3.3333 min, Type: low)</text>
<rect x="116.5" y="38.3" width="1345.8" height="479.99999999999994" fill="none" stroke="#000" stroke-width="1.1"/>
<path d="M116.5 518.3v4.9M284.8 518.3v4.9M453.1 518.3v4.9M621.4 518.3v4.9M789.7 518.3v4.9M957.9 518.3v4.9M1126.2 518.3v4.9M1294.5 518.3v4.9M116.5 111.8h-4.9M116.5 193.4h-4.9M116.5 275.0h-4.9M116.5 356.6h-4.9M116.5 438.2h-4.9" stroke="#000" stroke-width="1.1" fill="none"/>
<text x="105.0" y="119.6" text-anchor="end" font-weight="bold" font-size="23" textLength="15.4" lengthAdjust="spacingAndGlyphs">2</text>
<text x="105.0" y="201.2" text-anchor="end" font-weight="bold" font-size="23" textLength="15.4" lengthAdjust="spacingAndGlyphs">1</text>
<text x="105.0" y="282.8" text-anchor="end" font-weight="bold" font-size="23" textLength="15.4" lengthAdjust="spacingAndGlyphs">0</text>
<text x="105.0" y="364.4" text-anchor="end" font-weight="bold" font-size="23" textLength="34.0" lengthAdjust="spacingAndGlyphs">−1</text>
<text x="105.0" y="446.0" text-anchor="end" font-weight="bold" font-size="23" textLength="34.0" lengthAdjust="spacingAndGlyphs">−2</text>
<clipPath id="cb"><rect x="116.5" y="575.3" width="1345.8" height="478.79999999999995"/></clipPath>
<rect x="710.0" y="575.3" width="717.5999999999999" height="478.79999999999995" fill="#e6e6e6"/>
<path d="M116.5 575.3V1054.1M284.8 575.3V1054.1M453.1 575.3V1054.1M621.4 575.3V1054.1M789.7 575.3V1054.1M957.9 575.3V1054.1M1126.2 575.3V1054.1M1294.5 575.3V1054.1M116.5 616.2H1462.3M116.5 700.8H1462.3M116.5 785.4H1462.3M116.5 870.0H1462.3M116.5 954.6H1462.3M116.5 1039.2H1462.3" stroke="#b0b0b0" stroke-width="1.1" stroke-dasharray="1.1 1.85" fill="none"/>
<g clip-path="url(#cb)">
<path d="M110.0,862.0 L116.5,860.0 L120.7,882.0 L125.0,875.0 L129.5,826.0 L132.0,792.0 L134.0,779.0 L138.4,779.0 L142.0,792.0 L145.0,804.0 L148.0,797.0 L151.7,792.0 L153.5,902.0 L155.0,932.0 L158.3,944.0 L161.7,957.0 L166.1,974.0 L170.5,960.0 L173.9,893.0 L177.2,871.0 L180.5,860.0 L184.0,857.0 L187.2,871.0 L190.0,832.0 L192.7,804.0 L197.1,802.0 L201.6,871.0 L204.9,893.0 L207.0,802.0 L209.3,784.0 L218.2,782.0 L222.0,772.0 L229.3,766.0 L236.0,772.0 L240.4,826.0 L244.0,857.0 L247.0,902.0 L250.0,934.0 L252.6,947.0 L254.5,927.0 L256.0,842.0 L258.1,812.0 L262.0,822.0 L264.8,893.0 L271.4,906.0 L278.1,955.0 L284.7,977.0 L291.4,982.0 L298.0,977.0 L300.0,983.0 L303.5,974.0 L307.0,966.0 L309.0,952.0 L310.6,941.0 L312.0,962.0 L313.2,994.0 L317.7,1011.5 L326.5,1006.2 L330.0,1016.8 L335.3,1020.3 L353.0,1020.3 L364.5,1012.4 L370.6,1018.6 L379.5,1020.3 L393.6,1016.8 L406.0,1023.0 L423.6,1024.7 L441.3,1023.9 L452.0,1022.0 L453.5,1004.0 L455.5,1004.0 L457.0,1022.0 L459.0,1022.0 L476.6,1020.3 L497.8,1016.0 L512.0,1020.3 L529.6,1023.9 L547.3,1022.0 L560.0,1020.3 L564.1,1011.5 L569.4,1007.1 L576.5,1018.6 L585.3,1022.0 L601.2,1015.0 L611.8,1017.7 L627.7,1015.0 L638.3,1019.4 L652.4,1024.7 L664.8,1022.0 L680.7,1021.2 L692.0,1020.0 L694.0,1014.0 L696.0,1020.0 L709.0,1026.5 L726.6,1027.4 L737.2,1025.6 L739.0,1014.8 L742.4,996.7 L744.7,971.8 L747.0,917.6 L749.2,872.4 L751.5,856.6 L753.7,867.9 L756.0,901.8 L759.4,935.7 L763.9,980.9 L768.4,999.0 L772.9,1008.0 L777.5,999.0 L782.0,985.4 L786.5,969.6 L792.1,974.0 L797.8,985.4 L801.2,971.8 L806.8,992.2 L811.4,980.9 L815.2,974.0 L820.4,1003.5 L829.4,1010.2 L838.5,1017.0 L843.0,996.7 L846.4,962.8 L848.6,872.4 L853.2,861.1 L856.6,858.8 L861.0,877.0 L865.6,899.5 L870.1,917.6 L874.6,940.2 L881.4,959.7 L886.0,941.6 L890.5,914.5 L897.2,894.2 L904.0,905.5 L910.8,905.5 L917.6,932.6 L924.3,914.5 L930.0,959.7 L933.6,973.3 L940.3,967.3 L946.0,940.2 L949.4,922.0 L954.0,960.5 L960.7,969.6 L967.5,990.0 L974.2,980.9 L981.0,978.6 L985.5,960.5 L990.0,953.7 L993.4,926.6 L998.0,996.7 L1005.9,983.1 L1012.7,985.4 L1019.4,996.7 L1025.0,974.0 L1030.7,992.2 L1039.8,994.4 L1046.6,1005.7 L1055.6,974.0 L1062.4,980.9 L1069.2,994.4 L1078.2,1008.0 L1087.2,1001.2 L1094.0,999.0 L1100.8,1005.7 L1112.0,999.0 L1121.0,1000.9 L1129.0,1004.0 L1135.3,1005.6 L1142.4,999.3 L1147.9,1005.6 L1153.4,999.3 L1157.4,1012.0 L1164.5,1010.4 L1173.1,1013.5 L1182.6,1010.4 L1192.1,1012.0 L1198.4,1004.0 L1203.1,991.4 L1211.0,991.4 L1217.3,988.3 L1222.9,985.1 L1228.4,996.2 L1236.3,993.0 L1242.6,988.3 L1247.3,975.7 L1252.0,994.6 L1256.8,975.7 L1261.5,967.8 L1267.9,972.5 L1273.4,964.6 L1279.7,963.0 L1283.6,985.1 L1290.0,964.6 L1296.3,955.1 L1302.6,958.3 L1307.1,982.0 L1312.8,952.0 L1318.5,963.0 L1322.3,942.0 L1328.0,974.3 L1331.8,952.0 L1337.5,974.3 L1347.0,989.5 L1358.4,989.5 L1366.0,1001.0 L1368.5,962.0 L1371.0,962.0 L1373.6,997.0 L1381.2,1008.5 L1389.5,987.0 L1396.4,1012.3 L1411.6,1004.7 L1423.0,1012.3 L1430.0,1007.0 L1432.5,987.0 L1435.0,932.0 L1437.0,897.0 L1440.0,872.0 L1443.9,852.0 L1447.7,872.0 L1450.0,902.0 L1451.5,944.0 L1454.0,992.0 L1457.2,997.0 L1462.9,997.0 L1470.0,997.0 L1470.0,1028.0 L1462.9,1028.0 L1457.2,1028.0 L1454.0,1028.0 L1451.5,1028.0 L1450.0,1028.0 L1447.7,1028.0 L1443.9,1028.0 L1440.0,1028.0 L1437.0,1028.0 L1435.0,1028.0 L1432.5,1028.0 L1430.0,1028.0 L1423.0,1028.0 L1411.6,1028.0 L1396.4,1028.0 L1389.5,1028.0 L1381.2,1028.0 L1373.6,1028.0 L1371.0,1028.0 L1368.5,1028.0 L1366.0,1028.0 L1358.4,1028.0 L1347.0,1028.0 L1337.5,1028.0 L1331.8,1028.0 L1328.0,1028.0 L1322.3,1028.0 L1318.5,1028.0 L1312.8,1028.0 L1307.1,1028.0 L1302.6,1028.0 L1296.3,1029.0 L1290.0,1029.5 L1283.6,1030.0 L1279.7,1030.0 L1273.4,1030.0 L1267.9,1030.0 L1261.5,1030.0 L1256.8,1030.0 L1252.0,1030.0 L1247.3,1031.0 L1242.6,1031.0 L1236.3,1031.8 L1228.4,1031.0 L1222.9,1031.0 L1217.3,1031.0 L1211.0,1031.0 L1203.1,1031.0 L1198.4,1031.0 L1192.1,1031.0 L1182.6,1031.0 L1173.1,1031.0 L1164.5,1031.0 L1157.4,1031.0 L1153.4,1031.0 L1147.9,1031.0 L1142.4,1031.0 L1135.3,1031.0 L1129.0,1031.0 L1121.0,1030.0 L1112.0,1028.0 L1100.8,1028.0 L1094.0,1028.0 L1087.2,1028.0 L1078.2,1028.0 L1069.2,1028.0 L1062.4,1028.0 L1055.6,1028.0 L1046.6,1028.0 L1039.8,1028.0 L1030.7,1028.0 L1025.0,1028.0 L1019.4,1028.0 L1012.7,1028.0 L1005.9,1028.0 L998.0,1029.0 L993.4,1029.8 L990.0,1029.8 L985.5,1029.8 L981.0,1029.8 L974.2,1029.8 L967.5,1029.8 L960.7,1029.8 L954.0,1029.0 L949.4,1029.0 L946.0,1029.0 L940.3,1028.0 L933.6,1028.0 L930.0,1027.0 L924.3,1026.0 L917.6,1026.0 L910.8,1026.0 L904.0,1026.0 L897.2,1026.0 L890.5,1026.0 L886.0,1026.0 L881.4,1026.0 L874.6,1026.0 L870.1,1026.0 L865.6,1026.0 L861.0,1026.0 L856.6,1026.0 L853.2,1026.0 L848.6,1027.0 L846.4,1028.0 L843.0,1029.0 L838.5,1030.0 L829.4,1030.0 L820.4,1030.0 L815.2,1030.0 L811.4,1030.0 L806.8,1030.0 L801.2,1030.0 L797.8,1030.0 L792.1,1030.0 L786.5,1030.0 L782.0,1030.0 L777.5,1030.0 L772.9,1030.0 L768.4,1030.0 L763.9,1030.0 L759.4,1029.0 L756.0,1025.0 L753.7,1023.0 L751.5,1027.0 L749.2,1028.0 L747.0,1029.0 L744.7,1030.0 L742.4,1031.0 L739.0,1033.0 L737.2,1034.0 L726.6,1034.2 L709.0,1034.2 L696.0,1034.0 L694.0,1034.0 L692.0,1034.0 L680.7,1034.0 L664.8,1033.5 L652.4,1033.5 L638.3,1033.0 L627.7,1032.5 L611.8,1032.5 L601.2,1032.5 L585.3,1032.5 L576.5,1032.5 L569.4,1032.5 L564.1,1032.5 L560.0,1032.5 L547.3,1032.5 L529.6,1033.0 L512.0,1033.0 L497.8,1033.0 L476.6,1033.0 L459.0,1033.0 L457.0,1033.0 L455.5,1033.0 L453.5,1033.0 L452.0,1033.0 L441.3,1033.0 L423.6,1033.3 L406.0,1032.5 L393.6,1032.0 L379.5,1032.0 L370.6,1032.0 L364.5,1032.0 L353.0,1031.6 L335.3,1031.6 L330.0,1031.0 L326.5,1030.0 L317.7,1029.0 L313.2,1026.0 L312.0,1025.0 L310.6,1025.0 L309.0,1025.0 L307.0,1025.0 L303.5,1025.0 L300.0,1024.0 L298.0,1024.0 L291.4,1024.0 L284.7,1024.0 L278.1,1024.0 L271.4,1024.0 L264.8,1024.0 L262.0,1024.0 L258.1,1024.0 L256.0,1024.0 L254.5,1024.0 L252.6,1024.0 L250.0,1024.0 L247.0,1024.0 L244.0,1024.0 L240.4,1024.0 L236.0,1024.0 L229.3,1024.0 L222.0,1024.0 L218.2,1024.0 L209.3,1024.0 L207.0,1024.0 L204.9,1025.0 L201.6,1026.0 L197.1,1025.0 L192.7,1024.0 L190.0,1024.0 L187.2,1024.0 L184.0,1024.0 L180.5,1024.0 L177.2,1024.0 L173.9,1025.0 L170.5,1027.0 L166.1,1029.0 L161.7,1026.0 L158.3,1025.0 L155.0,1024.0 L153.5,1024.0 L151.7,1023.0 L148.0,1023.0 L145.0,1023.0 L142.0,1023.0 L138.4,1023.0 L134.0,1023.0 L132.0,1023.0 L129.5,1023.0 L125.0,1023.0 L120.7,1022.0 L116.5,1021.0 L110.0,1021.0Z" fill="#1f77b4"/>
<path d="M115.8 860.5h0M115.5 1018.6h0M117.1 864.5h0M117.1 1019.7h0M118.3 869.4h0M118.4 1019.4h0M119.5 874.1h0M118.5 1020.5h0M120.3 878.4h0M120.2 1020.0h0M120.4 883.8h0M120.3 1019.8h0M122.5 880.1h0M122.3 1020.3h0M122.5 880.1h0M122.5 1020.2h0M124.3 879.6h0M123.4 1021.4h0M125.2 876.6h0M124.6 1020.7h0M126.5 864.7h0M125.5 1021.1h0M126.9 855.0h0M127.0 1021.5h0M127.3 842.3h0M127.9 1021.0h0M128.9 833.5h0M129.1 1020.7h0M130.2 819.8h0M129.5 1022.1h0M130.4 808.1h0M131.5 1020.9h0M131.5 793.8h0M131.5 1020.7h0M133.2 787.6h0M133.2 1021.5h0M134.5 781.9h0M133.6 1021.5h0M135.3 780.9h0M134.9 1021.4h0M136.7 779.5h0M135.6 1021.0h0M136.7 781.6h0M136.8 1020.6h0M137.8 781.6h0M138.4 1021.0h0M138.6 781.2h0M138.3 1021.9h0M140.2 784.5h0M139.6 1021.2h0M140.5 789.0h0M140.6 1021.1h0M141.5 795.0h0M142.1 1021.0h0M143.1 797.2h0M143.7 1020.7h0M144.5 799.6h0M144.1 1020.6h0M145.2 805.3h0M145.2 1021.9h0M146.3 803.9h0M145.4 1021.3h0M147.1 800.1h0M147.3 1020.6h0M148.6 797.6h0M147.5 1020.7h0M149.2 798.1h0M149.5 1021.7h0M150.1 794.9h0M150.4 1021.0h0M150.6 794.2h0M151.1 1021.8h0M151.6 811.5h0M151.4 1021.5h0M153.6 873.8h0M152.4 1021.5h0M154.3 914.0h0M153.3 1021.9h0M154.6 934.3h0M154.8 1022.6h0M155.5 938.2h0M155.6 1022.0h0M157.0 939.3h0M157.2 1022.9h0M157.3 945.3h0M157.7 1024.1h0M159.4 948.7h0M158.8 1024.1h0M160.0 952.1h0M160.3 1023.9h0M161.1 956.3h0M160.6 1024.7h0M162.0 960.3h0M162.4 1024.0h0M162.9 964.0h0M162.4 1025.4h0M163.4 968.3h0M164.7 1025.6h0M165.4 970.6h0M165.4 1027.3h0M165.8 974.3h0M166.5 1027.8h0M166.5 970.9h0M167.5 1027.3h0M168.6 968.6h0M168.5 1027.0h0M169.6 967.7h0M169.5 1025.7h0M170.6 964.3h0M170.6 1026.0h0M171.5 952.4h0M170.8 1025.6h0M172.6 931.6h0M172.0 1023.8h0M173.0 911.1h0M173.3 1023.8h0M173.7 894.3h0M174.6 1023.8h0M175.4 887.8h0M175.0 1023.5h0M176.2 879.5h0M175.7 1022.1h0M176.7 872.2h0M177.5 1021.6h0M177.7 869.3h0M178.1 1021.9h0M178.3 866.8h0M178.6 1021.6h0M179.9 864.5h0M179.9 1022.1h0M180.4 859.8h0M180.7 1022.6h0M181.5 859.7h0M181.4 1022.2h0M183.6 860.4h0M183.2 1021.5h0M184.3 858.7h0M183.9 1023.1h0M185.6 864.0h0M185.4 1022.0h0M186.4 868.6h0M186.7 1021.9h0M186.3 872.9h0M187.1 1022.4h0M187.9 860.3h0M187.3 1022.1h0M189.2 845.7h0M189.6 1021.7h0M190.5 833.4h0M189.8 1022.4h0M190.8 824.5h0M191.6 1021.7h0M192.0 812.5h0M192.3 1022.7h0M192.6 806.8h0M192.7 1022.8h0M194.0 803.2h0M194.0 1023.2h0M195.5 802.7h0M195.4 1023.3h0M196.4 804.8h0M196.6 1023.7h0M197.7 802.1h0M196.8 1024.2h0M198.0 815.6h0M198.1 1022.8h0M199.4 832.9h0M198.4 1022.9h0M199.8 849.3h0M199.5 1024.3h0M201.6 863.9h0M200.6 1024.3h0M202.1 874.0h0M201.6 1024.9h0M203.0 881.3h0M202.8 1024.0h0M203.8 887.9h0M204.4 1024.2h0M204.4 889.7h0M204.7 1023.3h0M206.5 848.1h0M206.4 1022.1h0M206.6 802.7h0M206.5 1022.7h0M207.7 794.5h0M207.8 1021.6h0M209.0 789.0h0M209.0 1021.9h0M210.2 785.4h0M210.6 1022.2h0M211.0 783.9h0M210.4 1022.5h0M211.9 783.4h0M212.6 1023.2h0M212.9 783.5h0M212.9 1021.8h0M214.6 783.8h0M214.3 1021.7h0M214.7 783.6h0M214.9 1021.8h0M215.7 785.1h0M215.6 1022.0h0M217.2 781.9h0M216.8 1021.8h0M217.9 781.7h0M218.0 1022.3h0M219.0 780.9h0M219.6 1022.1h0M219.9 778.3h0M220.4 1022.8h0M221.0 776.8h0M220.4 1022.9h0M221.4 773.8h0M222.4 1022.1h0M223.2 770.8h0M222.8 1022.4h0M223.8 770.7h0M223.8 1022.8h0M224.4 771.0h0M224.3 1022.5h0M225.9 771.0h0M226.3 1022.4h0M226.3 769.9h0M227.3 1022.1h0M228.7 768.3h0M227.9 1022.3h0M228.4 767.9h0M228.5 1022.1h0M230.2 768.5h0M229.6 1022.0h0M231.6 770.5h0M231.4 1022.9h0M232.4 768.5h0M232.7 1023.1h0M232.3 770.2h0M232.4 1021.6h0M234.6 770.6h0M234.5 1022.6h0M235.4 771.0h0M235.6 1022.4h0M235.6 773.1h0M235.3 1023.1h0M237.0 785.9h0M237.7 1022.3h0M237.8 797.0h0M237.3 1021.6h0M239.3 809.2h0M239.4 1022.0h0M240.2 822.2h0M240.5 1021.6h0M241.4 831.3h0M240.9 1022.1h0M242.6 841.0h0M242.0 1023.1h0M242.4 848.8h0M243.2 1022.8h0M244.4 858.8h0M243.7 1022.3h0M245.5 871.6h0M245.2 1021.9h0M246.7 887.7h0M246.2 1021.8h0M246.7 904.2h0M247.3 1021.6h0M247.9 912.5h0M248.0 1022.0h0M249.6 925.5h0M249.1 1021.7h0M250.5 935.6h0M249.7 1023.2h0M251.1 938.5h0M250.8 1021.5h0M251.7 945.9h0M252.3 1022.6h0M253.1 945.4h0M253.3 1022.6h0M254.7 934.1h0M253.6 1021.8h0M255.4 901.2h0M255.5 1021.8h0M255.8 844.1h0M256.4 1021.8h0M256.6 830.7h0M257.1 1021.7h0M258.0 815.7h0M258.1 1022.7h0M259.0 816.7h0M258.7 1021.6h0M260.3 819.1h0M260.0 1022.0h0M261.2 820.4h0M260.3 1022.2h0M262.3 823.4h0M261.9 1022.3h0M262.4 849.1h0M262.4 1023.0h0M263.4 875.5h0M264.6 1022.1h0M265.6 893.6h0M265.2 1022.4h0M265.5 896.9h0M265.5 1022.7h0M266.5 897.7h0M267.6 1022.4h0M268.1 899.3h0M267.5 1023.0h0M269.3 902.8h0M269.3 1022.2h0M269.7 904.1h0M269.8 1021.6h0M271.3 907.6h0M271.2 1021.6h0M272.4 909.9h0M271.4 1023.1h0M273.6 917.9h0M272.9 1022.2h0M273.6 925.5h0M274.5 1022.9h0M275.5 933.5h0M275.3 1022.5h0M276.2 941.6h0M275.9 1022.7h0M276.9 949.1h0M276.3 1022.8h0M277.8 956.2h0M278.0 1022.8h0M279.5 959.5h0M279.5 1022.6h0M280.6 962.9h0M279.8 1022.9h0M281.4 964.8h0M281.5 1021.8h0M281.5 970.0h0M282.3 1023.0h0M283.4 974.2h0M282.8 1022.3h0M283.9 975.0h0M283.5 1022.1h0M285.7 977.2h0M284.3 1022.3h0M285.7 980.5h0M285.7 1023.2h0M286.7 979.7h0M286.9 1022.5h0M287.7 982.3h0M287.3 1022.8h0M289.4 980.4h0M288.6 1022.5h0M290.2 983.3h0M290.4 1022.9h0M291.6 981.8h0M291.4 1021.7h0M291.5 982.4h0M291.6 1022.4h0M293.4 983.1h0M293.4 1023.1h0M293.7 982.8h0M294.3 1021.9h0M294.5 979.3h0M295.0 1022.2h0M295.5 981.1h0M296.1 1021.6h0M297.6 978.7h0M296.7 1021.8h0M298.0 978.6h0M298.3 1021.5h0M299.0 981.1h0M299.5 1023.1h0M299.9 983.3h0M300.2 1021.8h0M300.9 980.7h0M300.5 1022.0h0M302.1 980.6h0M301.7 1023.3h0M302.6 977.0h0M303.1 1022.6h0M304.1 973.5h0M303.4 1022.9h0M305.6 971.2h0M304.7 1023.3h0M305.8 970.4h0M306.0 1023.4h0M306.8 966.4h0M307.6 1022.6h0M307.6 959.8h0M308.3 1023.6h0M308.9 953.5h0M308.7 1023.5h0M310.3 947.9h0M309.4 1022.7h0M310.4 948.8h0M310.4 1023.3h0M311.6 964.3h0M311.3 1023.3h0M313.6 990.0h0M312.9 1023.9h0M314.4 999.0h0M313.9 1025.4h0M315.4 1002.3h0M315.6 1025.8h0M315.7 1006.0h0M316.7 1025.7h0M316.7 1010.7h0M317.5 1027.6h0M318.3 1012.5h0M318.5 1027.0h0M318.8 1010.5h0M318.9 1027.7h0M319.6 1012.0h0M320.5 1027.7h0M320.5 1011.0h0M320.8 1028.5h0M321.4 1009.8h0M321.3 1028.5h0M323.6 1009.7h0M322.6 1028.7h0M323.7 1008.3h0M324.6 1028.6h0M325.6 1008.4h0M325.4 1028.1h0M326.6 1009.4h0M326.2 1028.6h0M326.7 1007.8h0M326.6 1028.3h0M327.9 1012.1h0M328.6 1028.4h0M329.6 1015.9h0M328.6 1029.8h0M330.3 1016.8h0M330.2 1030.1h0M331.1 1018.8h0M330.9 1028.9h0M332.3 1018.4h0M332.0 1029.7h0M332.8 1019.1h0M332.6 1029.5h0M333.4 1020.4h0M334.0 1029.9h0M335.3 1022.4h0M335.1 1030.5h0M335.5 1023.1h0M336.0 1030.0h0M336.6 1022.0h0M336.8 1029.8h0M338.1 1023.0h0M338.4 1029.2h0M339.5 1020.1h0M339.2 1030.3h0M339.8 1021.6h0M340.0 1029.8h0M340.9 1020.2h0M341.7 1030.7h0M342.6 1023.3h0M342.2 1030.4h0M343.3 1021.0h0M342.8 1029.4h0M344.3 1019.9h0M344.6 1030.1h0M344.7 1021.2h0M344.6 1030.1h0M346.5 1023.2h0M346.5 1029.7h0M346.9 1021.5h0M346.5 1030.4h0M347.4 1022.5h0M347.4 1030.5h0M348.9 1022.6h0M348.4 1029.5h0M349.7 1021.2h0M349.9 1029.1h0M351.7 1020.7h0M351.1 1030.2h0M351.8 1022.7h0M352.2 1029.9h0M352.7 1021.1h0M353.0 1029.4h0M353.7 1021.1h0M354.4 1030.7h0M354.6 1021.1h0M354.4 1029.3h0M355.9 1020.0h0M355.5 1030.1h0M357.0 1019.8h0M357.1 1030.7h0M357.4 1017.3h0M358.1 1030.8h0M358.5 1016.9h0M358.6 1030.0h0M359.6 1015.7h0M360.4 1030.0h0M361.3 1014.8h0M361.2 1030.4h0M362.0 1014.4h0M362.4 1029.7h0M362.9 1014.2h0M362.6 1030.3h0M363.7 1013.8h0M364.2 1029.7h0M365.5 1012.6h0M365.4 1030.5h0M365.5 1015.0h0M366.5 1030.5h0M366.7 1016.3h0M367.1 1029.6h0M368.6 1018.9h0M367.4 1030.0h0M369.0 1018.5h0M369.5 1030.7h0M369.3 1018.4h0M370.7 1029.6h0M370.9 1018.6h0M371.3 1030.7h0M372.5 1020.1h0M371.7 1031.1h0M372.7 1019.7h0M372.7 1029.9h0M374.5 1021.0h0M373.9 1030.1h0M374.4 1020.7h0M375.0 1030.2h0M375.7 1022.2h0M375.8 1030.4h0M376.5 1021.1h0M376.3 1030.3h0M377.6 1022.8h0M377.9 1030.8h0M379.2 1020.2h0M379.0 1030.4h0M380.6 1022.3h0M380.5 1029.5h0M381.1 1021.8h0M381.3 1029.8h0M382.5 1022.2h0M382.6 1029.6h0M382.5 1021.6h0M383.3 1029.7h0M383.8 1021.4h0M383.3 1030.5h0M384.6 1019.3h0M384.4 1030.3h0M385.5 1018.4h0M386.2 1029.9h0M386.8 1018.1h0M387.5 1030.6h0M387.8 1020.8h0M387.5 1030.1h0M388.8 1019.6h0M388.9 1030.9h0M390.6 1019.0h0M389.6 1030.4h0M391.1 1020.2h0M390.7 1031.0h0M392.0 1019.7h0M391.3 1029.6h0M393.0 1018.1h0M393.2 1029.9h0M394.2 1019.7h0M394.2 1030.7h0M394.9 1018.5h0M394.6 1030.7h0M395.8 1020.8h0M396.5 1030.0h0M397.3 1018.9h0M396.8 1031.0h0M398.4 1020.9h0M398.2 1031.3h0M399.3 1021.8h0M399.0 1030.1h0M400.4 1021.7h0M399.7 1030.5h0M401.5 1020.3h0M401.5 1030.9h0M402.3 1020.9h0M401.9 1029.8h0M403.1 1022.7h0M402.7 1031.0h0M404.2 1024.7h0M403.5 1031.0h0M404.8 1023.0h0M405.7 1030.3h0M406.0 1022.6h0M406.6 1030.4h0M407.5 1023.7h0M406.7 1031.1h0M407.9 1024.3h0M408.7 1030.3h0M408.4 1024.3h0M408.5 1031.0h0M409.9 1025.2h0M410.5 1031.1h0M411.5 1023.7h0M410.8 1031.7h0M412.5 1025.9h0M412.1 1031.5h0M412.8 1023.3h0M413.2 1031.7h0M413.6 1024.3h0M414.4 1031.6h0M415.6 1025.4h0M414.5 1031.7h0M416.7 1025.2h0M416.1 1032.0h0M417.4 1024.9h0M416.3 1032.0h0M417.7 1024.0h0M417.7 1031.1h0M418.6 1027.2h0M419.2 1031.2h0M420.2 1025.7h0M420.2 1031.9h0M420.8 1024.7h0M421.1 1031.4h0M422.4 1026.5h0M422.5 1031.7h0M423.5 1024.7h0M423.0 1031.4h0M423.3 1025.1h0M423.8 1031.3h0M424.9 1027.6h0M425.2 1031.1h0M426.7 1025.9h0M426.2 1032.3h0M427.1 1024.9h0M426.8 1031.5h0M427.6 1026.2h0M427.7 1031.0h0M429.7 1025.0h0M428.7 1032.2h0M429.4 1024.3h0M429.6 1031.2h0M431.3 1025.4h0M430.9 1031.8h0M431.6 1027.2h0M431.5 1031.6h0M432.3 1025.7h0M433.0 1032.2h0M434.2 1025.5h0M434.3 1031.4h0M434.8 1026.0h0M435.0 1030.8h0M436.6 1026.7h0M436.2 1031.8h0M436.4 1026.6h0M436.3 1030.8h0M437.5 1024.5h0M438.3 1032.0h0M438.8 1025.2h0M438.3 1032.0h0M439.6 1025.7h0M440.2 1032.0h0M441.7 1024.2h0M440.5 1031.6h0M441.5 1024.6h0M441.4 1031.8h0M443.4 1023.7h0M443.1 1031.4h0M444.3 1023.5h0M444.6 1031.6h0M445.6 1023.5h0M444.6 1030.7h0M445.9 1025.0h0M446.5 1031.0h0M447.3 1025.3h0M446.3 1031.8h0M448.6 1025.0h0M447.4 1030.7h0M449.3 1023.4h0M448.8 1031.6h0M450.4 1022.8h0M449.9 1031.2h0M451.0 1023.4h0M450.5 1031.1h0M451.7 1024.9h0M451.6 1030.5h0M452.9 1009.8h0M452.9 1031.6h0M453.6 1005.5h0M454.1 1031.1h0M455.1 1004.1h0M455.5 1031.4h0M455.3 1012.0h0M456.7 1030.8h0M457.4 1023.9h0M456.5 1031.9h0M458.5 1024.2h0M458.1 1031.7h0M459.2 1024.7h0M458.5 1031.7h0M460.1 1022.3h0M460.3 1031.9h0M460.5 1022.0h0M460.3 1031.5h0M462.0 1024.6h0M462.0 1030.7h0M462.4 1022.4h0M463.6 1031.7h0M463.3 1021.3h0M464.2 1031.1h0M465.2 1023.8h0M465.5 1030.8h0M466.4 1021.9h0M465.9 1031.1h0M466.9 1021.0h0M466.8 1031.5h0M467.7 1020.9h0M468.1 1031.8h0M469.2 1021.7h0M469.2 1030.8h0M470.1 1021.6h0M470.2 1031.7h0M471.3 1023.7h0M471.5 1031.2h0M472.6 1022.1h0M472.2 1032.2h0M472.8 1021.2h0M472.4 1032.1h0M474.1 1020.7h0M473.9 1030.7h0M474.4 1021.0h0M475.1 1031.0h0M475.8 1020.0h0M476.0 1032.1h0M476.6 1021.8h0M476.5 1032.1h0M478.6 1019.9h0M478.4 1030.9h0M479.5 1019.3h0M478.5 1030.6h0M480.0 1021.0h0M479.4 1031.8h0M480.3 1020.6h0M480.7 1030.9h0M482.4 1019.7h0M482.7 1031.6h0M482.5 1019.5h0M483.5 1031.3h0M484.6 1019.1h0M484.4 1031.7h0M485.3 1021.1h0M485.0 1030.7h0M486.2 1019.7h0M486.4 1031.6h0M486.7 1018.5h0M486.5 1032.0h0M488.1 1019.9h0M487.4 1030.6h0M489.0 1017.8h0M489.7 1031.8h0M490.7 1017.5h0M490.4 1031.5h0M490.3 1017.5h0M491.0 1031.8h0M492.0 1018.3h0M491.5 1031.6h0M493.6 1017.1h0M493.2 1030.5h0M494.2 1016.8h0M494.1 1032.0h0M494.9 1019.5h0M494.5 1031.9h0M496.4 1016.2h0M496.5 1031.6h0M497.2 1019.0h0M496.7 1031.1h0M497.6 1018.4h0M498.2 1031.2h0M499.4 1017.0h0M499.1 1031.8h0M499.9 1018.4h0M500.7 1030.7h0M501.3 1019.2h0M500.9 1030.8h0M501.6 1019.0h0M502.5 1031.9h0M503.0 1018.3h0M503.5 1031.4h0M503.6 1018.8h0M503.5 1030.5h0M504.6 1018.7h0M505.4 1031.3h0M505.5 1019.1h0M506.7 1031.6h0M507.6 1021.5h0M507.1 1031.4h0M508.2 1018.6h0M507.5 1031.0h0M509.5 1021.2h0M509.5 1031.5h0M509.7 1022.5h0M510.1 1032.1h0M511.3 1021.3h0M511.4 1032.0h0M512.3 1023.3h0M511.8 1030.8h0M513.2 1022.7h0M512.8 1031.8h0M514.3 1022.9h0M513.5 1032.1h0M514.8 1023.0h0M514.5 1030.7h0M516.5 1020.8h0M515.8 1032.0h0M516.8 1022.3h0M516.4 1030.6h0M517.6 1021.9h0M517.4 1031.6h0M518.6 1022.3h0M519.5 1031.2h0M519.9 1022.3h0M520.1 1030.9h0M521.2 1022.3h0M521.3 1032.0h0M522.0 1023.0h0M521.5 1031.0h0M522.6 1024.0h0M523.6 1031.4h0M524.3 1023.5h0M524.4 1031.5h0M524.6 1025.5h0M525.1 1031.8h0M526.2 1024.2h0M526.3 1031.9h0M526.7 1025.2h0M527.0 1031.9h0M528.0 1024.2h0M528.6 1031.5h0M529.4 1025.4h0M529.1 1030.7h0M530.2 1025.1h0M529.9 1031.7h0M531.1 1025.2h0M531.3 1030.7h0M532.6 1023.1h0M531.3 1030.9h0M533.7 1026.0h0M533.1 1030.9h0M533.3 1023.6h0M534.1 1031.6h0M535.2 1025.6h0M534.7 1031.2h0M536.4 1024.8h0M536.1 1030.4h0M537.3 1024.7h0M536.8 1030.8h0M537.9 1024.2h0M537.4 1030.7h0M538.5 1023.6h0M538.5 1031.9h0M540.3 1024.8h0M539.4 1031.1h0M541.5 1024.4h0M540.6 1031.8h0M542.3 1023.9h0M542.1 1030.6h0M542.7 1025.4h0M542.6 1031.8h0M544.4 1024.6h0M544.5 1031.0h0M545.3 1023.9h0M544.5 1031.1h0M545.8 1022.6h0M545.8 1030.7h0M546.5 1023.1h0M546.6 1030.3h0M548.5 1021.6h0M548.5 1030.5h0M548.4 1022.9h0M549.1 1031.3h0M550.0 1024.2h0M550.3 1031.0h0M550.4 1022.9h0M550.4 1030.5h0M551.7 1021.7h0M552.6 1031.0h0M552.4 1022.4h0M552.7 1031.7h0M553.7 1023.4h0M554.1 1030.5h0M554.6 1021.1h0M554.4 1031.1h0M556.5 1022.9h0M556.2 1031.2h0M557.2 1022.3h0M556.9 1031.1h0M557.6 1022.4h0M558.1 1031.2h0M558.4 1023.1h0M558.9 1030.6h0M559.3 1022.9h0M559.6 1030.9h0M561.6 1020.7h0M560.6 1030.8h0M562.5 1018.6h0M562.3 1030.2h0M562.5 1016.8h0M563.2 1031.3h0M564.6 1013.7h0M563.5 1031.3h0M564.7 1013.2h0M565.5 1030.9h0M566.5 1010.2h0M566.6 1030.0h0M566.5 1009.2h0M566.3 1031.3h0M567.7 1009.0h0M568.4 1030.1h0M568.7 1007.1h0M569.1 1030.1h0M570.0 1008.0h0M570.2 1030.7h0M571.6 1011.9h0M571.1 1030.1h0M572.3 1011.5h0M572.0 1031.7h0M573.6 1014.4h0M572.6 1031.7h0M573.4 1016.6h0M574.5 1030.4h0M574.5 1018.3h0M575.0 1031.6h0M576.2 1020.2h0M575.7 1030.7h0M576.4 1021.0h0M576.5 1031.5h0M578.5 1022.2h0M578.5 1030.7h0M578.9 1020.9h0M578.9 1031.5h0M580.6 1022.7h0M579.4 1030.0h0M580.6 1022.3h0M581.4 1031.0h0M581.8 1021.1h0M582.5 1031.6h0M582.5 1023.6h0M583.3 1030.3h0M583.8 1021.8h0M584.1 1030.3h0M584.5 1023.6h0M585.5 1031.5h0M586.1 1022.7h0M585.4 1031.4h0M586.3 1022.2h0M587.3 1031.2h0M588.2 1022.8h0M587.9 1030.9h0M588.9 1023.2h0M589.1 1031.0h0M590.7 1019.9h0M589.5 1031.6h0M590.7 1019.5h0M590.6 1031.7h0M592.4 1018.7h0M591.8 1031.3h0M592.4 1020.2h0M593.3 1031.1h0M594.5 1019.9h0M593.3 1031.1h0M595.4 1017.3h0M595.6 1030.4h0M596.4 1017.9h0M595.9 1031.5h0M597.3 1019.8h0M597.1 1031.5h0M598.0 1018.2h0M598.4 1030.4h0M598.9 1016.8h0M599.2 1031.4h0M600.0 1015.4h0M600.1 1030.6h0M600.6 1014.6h0M600.9 1031.2h0M601.4 1017.4h0M601.9 1030.7h0M602.9 1016.1h0M603.0 1031.6h0M604.0 1017.7h0M603.4 1031.1h0M604.5 1018.9h0M605.2 1031.4h0M605.4 1019.1h0M605.8 1030.9h0M607.4 1018.2h0M606.3 1030.8h0M608.2 1018.1h0M608.6 1030.3h0M609.0 1019.3h0M609.0 1031.7h0M610.7 1018.7h0M610.6 1030.1h0M610.7 1020.1h0M610.7 1030.1h0M612.6 1020.4h0M611.8 1030.4h0M612.9 1020.2h0M613.0 1031.3h0M614.1 1019.6h0M613.5 1031.4h0M615.4 1019.2h0M615.2 1031.0h0M616.0 1017.8h0M616.1 1030.7h0M617.3 1018.0h0M616.8 1030.7h0M617.4 1019.5h0M618.3 1031.4h0M618.4 1017.6h0M618.4 1031.0h0M620.6 1017.2h0M619.8 1030.1h0M621.3 1018.8h0M621.3 1030.2h0M622.2 1018.3h0M622.3 1031.4h0M623.4 1017.5h0M622.4 1030.7h0M623.6 1018.5h0M624.2 1031.3h0M624.5 1015.5h0M625.2 1031.1h0M625.9 1015.5h0M626.3 1030.1h0M627.2 1017.8h0M626.4 1030.7h0M628.3 1018.0h0M628.3 1031.3h0M629.0 1017.6h0M628.5 1031.4h0M630.6 1017.1h0M629.7 1031.6h0M631.2 1018.3h0M631.4 1031.4h0M632.3 1017.5h0M632.2 1031.7h0M632.5 1019.8h0M633.5 1031.9h0M634.6 1019.2h0M633.3 1031.2h0M635.0 1020.7h0M634.9 1030.6h0M636.3 1019.6h0M635.9 1031.9h0M637.6 1018.7h0M636.6 1030.6h0M638.6 1020.0h0M638.4 1030.9h0M639.3 1019.7h0M639.6 1031.9h0M639.9 1020.7h0M640.4 1031.1h0M641.2 1022.5h0M640.6 1030.9h0M641.8 1023.0h0M642.0 1032.3h0M643.5 1021.6h0M642.5 1030.8h0M643.4 1023.5h0M643.5 1031.6h0M644.9 1022.8h0M645.1 1031.6h0M646.6 1023.1h0M646.2 1031.4h0M647.3 1023.8h0M646.6 1032.5h0M648.6 1025.6h0M648.4 1031.3h0M648.8 1024.8h0M648.5 1031.1h0M649.9 1023.7h0M649.6 1031.2h0M650.3 1026.7h0M651.2 1031.5h0M651.8 1025.2h0M651.9 1032.4h0M653.3 1026.8h0M653.3 1031.9h0M654.0 1026.0h0M654.0 1031.9h0M655.2 1024.2h0M654.6 1032.2h0M656.3 1025.5h0M656.0 1032.0h0M657.5 1023.5h0M656.5 1032.5h0M657.5 1025.3h0M657.5 1032.2h0M659.7 1025.6h0M659.0 1032.0h0M660.7 1023.2h0M660.7 1032.7h0M660.7 1025.0h0M660.9 1031.1h0M661.9 1024.1h0M662.7 1032.2h0M662.4 1025.0h0M662.9 1032.3h0M664.1 1025.0h0M663.3 1032.6h0M664.4 1022.5h0M665.1 1031.9h0M666.6 1022.1h0M666.1 1032.3h0M667.0 1021.6h0M667.1 1031.3h0M668.1 1024.1h0M667.5 1031.5h0M668.9 1023.8h0M668.8 1031.6h0M669.4 1024.2h0M670.7 1031.7h0M670.5 1021.5h0M671.5 1032.1h0M672.6 1022.8h0M671.5 1031.5h0M672.5 1021.7h0M672.9 1032.0h0M673.3 1021.1h0M673.5 1033.0h0M674.6 1021.4h0M675.1 1032.5h0M676.1 1021.0h0M676.4 1031.7h0M676.5 1022.7h0M676.7 1031.9h0M678.2 1022.7h0M677.6 1032.5h0M679.4 1022.6h0M679.5 1031.6h0M679.3 1024.0h0M680.6 1031.9h0M681.5 1022.4h0M681.0 1033.1h0M682.4 1020.6h0M682.3 1031.6h0M683.0 1020.8h0M683.0 1033.1h0M684.5 1021.2h0M683.3 1032.0h0M685.1 1022.5h0M684.4 1033.1h0M686.1 1020.4h0M686.1 1033.2h0M687.2 1020.1h0M687.5 1031.6h0M687.4 1021.0h0M687.6 1031.9h0M689.3 1021.8h0M688.9 1032.3h0M689.7 1020.9h0M690.3 1031.5h0M690.9 1019.7h0M690.3 1032.4h0M691.4 1021.6h0M692.2 1032.9h0M692.6 1017.9h0M693.6 1032.6h0M694.2 1013.6h0M693.7 1032.8h0M694.9 1017.5h0M694.8 1032.0h0M695.7 1019.9h0M696.0 1033.1h0M697.6 1022.3h0M697.0 1032.2h0M697.5 1022.6h0M698.2 1031.6h0M698.3 1023.1h0M699.4 1032.9h0M700.1 1024.9h0M699.4 1032.4h0M701.5 1024.0h0M701.5 1032.1h0M701.6 1024.4h0M702.2 1032.6h0M702.7 1024.8h0M703.6 1032.7h0M703.9 1025.0h0M703.5 1031.7h0M704.8 1024.8h0M705.3 1031.7h0M705.4 1027.8h0M706.1 1032.3h0M707.3 1026.9h0M706.8 1032.5h0M708.3 1026.4h0M708.3 1033.3h0M709.0 1026.7h0M708.7 1031.9h0M709.9 1027.4h0M710.0 1032.7h0M710.6 1029.6h0M710.9 1033.2h0M712.6 1029.3h0M711.8 1032.1h0M713.4 1028.3h0M712.6 1031.8h0M713.9 1028.7h0M713.8 1032.7h0M715.6 1028.5h0M714.9 1032.1h0M715.6 1027.9h0M716.4 1032.2h0M717.1 1029.0h0M716.5 1032.2h0M718.2 1026.8h0M718.3 1032.7h0M719.2 1028.2h0M719.3 1033.2h0M720.2 1027.6h0M719.8 1033.0h0M721.5 1028.8h0M721.0 1032.9h0M721.9 1027.2h0M721.7 1032.5h0M722.6 1029.4h0M722.4 1033.1h0M723.7 1027.2h0M724.1 1032.6h0M725.2 1029.9h0M724.5 1032.7h0M725.7 1028.4h0M726.1 1033.0h0M727.3 1028.8h0M726.7 1032.6h0M728.6 1028.7h0M728.3 1032.8h0M729.3 1027.4h0M729.5 1033.0h0M730.7 1028.6h0M730.2 1031.7h0M731.4 1028.8h0M731.4 1032.4h0M732.3 1027.3h0M732.4 1032.5h0M732.4 1029.3h0M732.8 1033.2h0M734.0 1027.8h0M733.9 1032.9h0M735.0 1025.8h0M734.8 1032.3h0M736.0 1025.7h0M736.4 1032.0h0M736.7 1027.3h0M737.6 1031.8h0M738.2 1022.3h0M738.6 1032.0h0M738.9 1014.5h0M738.4 1031.3h0M740.2 1012.1h0M740.6 1030.1h0M740.7 1003.7h0M740.6 1029.7h0M741.7 1001.3h0M742.3 1030.4h0M743.2 990.6h0M742.7 1029.6h0M744.2 980.5h0M743.5 1029.1h0M744.5 967.0h0M745.0 1027.9h0M746.4 940.7h0M745.8 1027.8h0M747.6 920.0h0M747.3 1027.6h0M748.7 899.3h0M748.0 1027.4h0M748.3 876.9h0M748.5 1025.6h0M749.7 867.2h0M750.4 1025.6h0M750.6 863.0h0M751.5 1025.3h0M752.1 858.8h0M752.5 1024.1h0M752.6 865.9h0M753.4 1021.9h0M754.1 873.9h0M754.1 1022.2h0M754.6 887.8h0M754.6 1023.0h0M755.4 902.4h0M756.2 1024.0h0M757.3 913.9h0M757.7 1025.0h0M757.9 921.8h0M758.6 1026.2h0M758.7 932.8h0M759.1 1026.2h0M760.3 943.3h0M759.6 1027.1h0M761.1 951.7h0M760.4 1027.0h0M761.7 961.6h0M761.5 1027.9h0M763.2 974.8h0M763.6 1027.4h0M764.6 984.3h0M764.0 1028.8h0M764.6 987.1h0M765.6 1028.6h0M766.0 991.3h0M765.8 1029.0h0M767.3 995.1h0M766.7 1027.9h0M768.2 999.1h0M767.4 1028.4h0M768.9 1002.1h0M769.2 1028.3h0M769.4 1003.9h0M770.6 1028.9h0M771.4 1003.8h0M771.1 1028.1h0M772.2 1009.1h0M772.1 1029.1h0M773.6 1010.4h0M773.2 1027.9h0M773.4 1005.9h0M774.7 1028.6h0M775.2 1006.1h0M774.5 1028.8h0M776.1 1004.8h0M775.4 1027.6h0M776.6 1000.8h0M776.9 1027.6h0M777.9 998.8h0M778.6 1028.5h0M779.4 995.8h0M779.4 1028.2h0M780.6 991.6h0M780.0 1029.2h0M780.4 989.8h0M781.4 1028.0h0M781.3 985.9h0M781.6 1028.8h0M783.6 982.7h0M782.8 1027.9h0M784.2 981.1h0M784.0 1028.7h0M785.3 975.3h0M784.5 1028.6h0M785.6 973.2h0M786.2 1028.4h0M787.1 971.9h0M787.7 1029.1h0M788.5 971.2h0M788.2 1028.4h0M788.8 972.1h0M789.7 1028.0h0M789.4 973.6h0M790.0 1028.0h0M790.8 974.5h0M790.5 1027.7h0M792.2 973.8h0M791.7 1028.3h0M792.9 977.9h0M793.0 1028.2h0M793.7 980.3h0M793.9 1028.3h0M795.2 982.8h0M794.8 1028.3h0M795.6 984.1h0M795.7 1028.0h0M796.4 983.5h0M797.0 1029.2h0M797.7 984.6h0M797.5 1028.8h0M799.6 982.3h0M799.0 1028.3h0M800.3 976.2h0M799.6 1028.0h0M800.7 975.5h0M801.5 1028.9h0M801.4 976.8h0M802.4 1028.0h0M803.3 980.2h0M803.0 1027.8h0M803.6 984.7h0M803.9 1027.6h0M805.5 986.1h0M804.8 1027.9h0M805.4 992.1h0M806.6 1027.8h0M807.5 993.8h0M807.6 1028.9h0M808.4 990.5h0M808.3 1029.1h0M808.8 988.9h0M808.8 1028.4h0M810.3 984.5h0M810.2 1028.7h0M810.8 983.4h0M811.1 1028.7h0M812.4 979.5h0M812.6 1027.7h0M813.3 978.6h0M813.1 1027.5h0M813.9 978.3h0M814.4 1029.1h0M815.0 976.9h0M815.1 1027.6h0M816.2 978.5h0M816.2 1027.6h0M816.5 984.3h0M817.2 1027.8h0M818.5 990.1h0M818.5 1028.5h0M819.0 996.9h0M818.7 1027.7h0M819.9 1002.3h0M820.5 1028.6h0M820.5 1003.6h0M821.0 1027.8h0M822.2 1004.9h0M821.7 1028.3h0M823.2 1008.4h0M822.9 1028.5h0M824.4 1009.0h0M823.8 1028.2h0M824.8 1006.5h0M825.2 1027.6h0M826.0 1007.6h0M826.2 1028.8h0M826.9 1010.5h0M827.5 1028.5h0M827.5 1008.8h0M827.5 1028.5h0M829.0 1011.0h0M828.8 1027.7h0M829.6 1010.5h0M830.7 1027.8h0M830.8 1012.5h0M830.4 1029.1h0M831.8 1013.9h0M831.8 1027.8h0M832.9 1014.0h0M832.7 1028.4h0M834.2 1014.4h0M834.6 1028.4h0M835.2 1014.5h0M834.6 1028.5h0M836.5 1016.8h0M836.3 1029.0h0M836.9 1017.9h0M836.7 1028.6h0M838.6 1016.5h0M838.5 1028.8h0M839.0 1016.2h0M839.4 1029.0h0M839.4 1009.9h0M840.3 1027.9h0M841.0 1006.1h0M840.8 1027.5h0M842.5 1002.8h0M842.2 1028.4h0M843.3 997.6h0M843.3 1027.7h0M844.2 988.7h0M843.9 1027.9h0M844.8 977.4h0M844.5 1026.7h0M845.5 969.2h0M845.3 1026.2h0M847.3 939.4h0M846.7 1026.6h0M847.6 898.4h0M847.6 1025.5h0M849.4 872.6h0M849.0 1025.8h0M850.1 869.0h0M849.9 1025.7h0M851.0 866.7h0M851.4 1024.2h0M852.6 866.3h0M851.3 1025.2h0M853.5 861.8h0M853.4 1024.5h0M853.7 862.2h0M854.1 1024.5h0M855.6 860.6h0M854.6 1024.7h0M856.2 858.9h0M855.4 1024.4h0M857.1 861.7h0M857.0 1025.2h0M858.3 866.1h0M858.0 1024.0h0M858.5 868.3h0M859.4 1024.2h0M859.7 873.2h0M859.6 1025.0h0M861.2 879.5h0M860.5 1023.6h0M862.0 883.2h0M862.2 1025.0h0M862.7 888.3h0M862.6 1023.8h0M863.7 892.1h0M863.8 1025.0h0M865.7 898.1h0M865.0 1023.8h0M866.5 901.6h0M865.9 1024.9h0M867.4 905.3h0M867.5 1024.4h0M868.0 911.0h0M867.9 1023.7h0M868.6 914.7h0M868.5 1024.5h0M870.1 918.5h0M870.1 1023.6h0M870.3 922.8h0M871.7 1024.9h0M872.1 927.6h0M872.3 1023.9h0M873.2 934.5h0M872.4 1024.2h0M874.6 939.3h0M874.1 1024.5h0M874.5 941.0h0M874.7 1024.5h0M876.5 944.2h0M876.3 1024.6h0M876.6 948.8h0M877.2 1024.8h0M877.9 950.5h0M877.8 1024.9h0M879.5 952.6h0M879.3 1023.8h0M880.5 956.5h0M880.5 1023.6h0M880.8 958.9h0M881.6 1024.7h0M881.9 958.2h0M882.3 1024.0h0M883.0 954.1h0M883.2 1023.7h0M884.6 951.3h0M884.4 1024.8h0M884.8 946.2h0M884.4 1024.7h0M886.6 943.3h0M886.3 1025.1h0M887.0 937.9h0M886.4 1023.9h0M887.8 929.8h0M888.4 1023.7h0M889.7 923.4h0M888.3 1023.7h0M890.7 918.9h0M889.8 1025.1h0M891.1 915.8h0M891.7 1024.1h0M891.7 912.1h0M891.7 1025.1h0M892.6 909.1h0M892.9 1024.3h0M894.3 906.7h0M893.9 1023.8h0M894.9 902.3h0M894.9 1023.6h0M896.5 898.8h0M895.9 1024.3h0M896.4 895.6h0M897.3 1025.2h0M897.8 896.5h0M898.3 1024.7h0M898.4 899.4h0M899.1 1025.1h0M899.7 899.7h0M900.7 1023.9h0M901.4 900.3h0M901.2 1023.7h0M901.9 904.9h0M902.3 1024.1h0M903.6 903.4h0M903.6 1024.0h0M903.5 906.8h0M903.8 1025.1h0M905.3 907.0h0M904.9 1023.7h0M905.9 905.8h0M905.7 1024.9h0M907.6 907.8h0M907.5 1024.0h0M908.4 907.6h0M908.2 1024.5h0M909.0 907.6h0M908.7 1023.9h0M910.5 906.7h0M910.6 1023.7h0M910.9 908.9h0M910.5 1025.2h0M912.5 911.9h0M912.0 1024.3h0M912.6 916.8h0M912.8 1024.9h0M914.2 919.9h0M914.1 1025.1h0M914.8 923.9h0M915.1 1024.0h0M916.2 927.3h0M915.3 1025.0h0M917.4 932.7h0M916.8 1025.1h0M917.4 933.7h0M918.2 1024.2h0M918.4 929.1h0M919.2 1025.2h0M920.0 925.7h0M920.1 1024.6h0M921.6 925.3h0M921.1 1024.8h0M921.9 920.6h0M922.2 1024.1h0M923.4 918.7h0M923.5 1024.0h0M923.8 917.3h0M923.4 1023.5h0M924.9 921.7h0M924.9 1024.9h0M925.9 929.5h0M926.6 1024.5h0M927.5 936.2h0M927.3 1025.4h0M928.5 946.1h0M928.6 1024.8h0M928.7 954.2h0M928.9 1025.0h0M930.6 961.1h0M929.4 1026.0h0M931.0 966.2h0M930.8 1025.1h0M931.6 967.3h0M931.6 1026.7h0M932.7 971.4h0M933.3 1026.3h0M934.4 972.8h0M934.0 1026.1h0M934.7 974.0h0M934.9 1026.5h0M936.6 972.3h0M935.3 1026.1h0M936.5 969.9h0M937.1 1026.6h0M937.3 970.1h0M937.6 1026.8h0M939.1 969.7h0M939.5 1025.6h0M940.5 967.2h0M939.4 1026.7h0M940.7 965.9h0M940.3 1026.9h0M942.0 959.2h0M941.5 1027.2h0M942.3 957.1h0M942.6 1027.6h0M943.3 950.3h0M944.6 1027.6h0M944.6 945.6h0M944.3 1026.8h0M946.0 942.6h0M946.4 1027.9h0M946.7 935.4h0M947.3 1027.1h0M947.6 930.7h0M948.6 1026.8h0M948.8 924.6h0M949.6 1026.7h0M950.7 927.5h0M950.6 1027.8h0M951.6 936.3h0M950.8 1027.6h0M952.5 946.7h0M952.5 1026.8h0M952.9 954.4h0M953.6 1026.7h0M954.5 962.2h0M954.5 1027.0h0M955.0 963.9h0M955.6 1026.9h0M956.0 962.9h0M955.8 1026.8h0M956.5 967.2h0M956.5 1026.9h0M957.6 967.1h0M958.2 1028.5h0M959.6 967.3h0M958.8 1027.1h0M959.4 969.9h0M959.8 1028.4h0M960.4 972.6h0M961.4 1028.2h0M961.9 976.0h0M962.1 1028.7h0M962.3 976.1h0M962.9 1028.1h0M964.1 979.4h0M963.4 1028.5h0M965.4 983.2h0M964.5 1027.4h0M966.6 987.8h0M966.6 1028.7h0M966.5 990.0h0M967.7 1027.8h0M967.3 990.8h0M968.3 1028.5h0M968.7 988.9h0M969.3 1028.3h0M969.6 988.0h0M970.3 1027.6h0M970.8 985.3h0M970.4 1028.1h0M972.7 986.2h0M971.4 1027.8h0M972.8 984.1h0M973.5 1028.7h0M974.0 983.0h0M974.4 1027.7h0M974.3 980.5h0M975.2 1028.9h0M976.6 981.5h0M975.7 1029.0h0M976.5 979.5h0M976.9 1028.8h0M977.4 980.5h0M977.4 1027.6h0M978.8 980.8h0M978.9 1028.5h0M979.7 979.1h0M979.6 1027.8h0M980.3 981.6h0M981.3 1027.8h0M982.0 975.3h0M981.5 1028.2h0M983.3 970.1h0M983.0 1028.5h0M984.3 967.2h0M983.6 1027.5h0M985.2 962.1h0M984.6 1028.5h0M985.5 960.3h0M985.9 1027.6h0M987.0 961.0h0M986.7 1027.5h0M988.5 958.3h0M987.4 1029.0h0M988.5 957.5h0M989.3 1028.8h0M989.8 954.7h0M989.8 1028.7h0M991.3 945.4h0M991.1 1027.9h0M992.2 938.3h0M992.2 1027.8h0M993.7 930.4h0M993.5 1028.3h0M994.4 935.3h0M993.5 1027.8h0M994.8 952.8h0M995.1 1028.5h0M995.5 967.7h0M996.7 1027.9h0M997.7 983.3h0M996.5 1028.3h0M997.8 996.7h0M998.2 1026.8h0M998.4 995.2h0M998.4 1027.9h0M999.9 995.6h0M999.5 1026.6h0M1001.3 993.9h0M1000.6 1027.3h0M1002.7 991.1h0M1001.8 1027.2h0M1002.4 989.1h0M1003.2 1027.3h0M1004.7 987.7h0M1004.0 1025.8h0M1004.8 984.8h0M1004.9 1025.7h0M1005.5 983.1h0M1005.5 1026.7h0M1007.6 984.4h0M1007.1 1026.3h0M1007.3 986.2h0M1007.7 1027.2h0M1009.6 984.3h0M1009.3 1027.2h0M1009.9 987.3h0M1009.4 1026.5h0M1011.6 986.2h0M1011.2 1027.0h0M1011.4 986.4h0M1012.4 1027.1h0M1013.0 987.9h0M1012.7 1026.8h0M1013.4 990.0h0M1013.7 1026.8h0M1015.5 989.3h0M1014.4 1025.9h0M1016.0 993.2h0M1015.9 1027.0h0M1016.3 993.5h0M1016.7 1026.0h0M1018.5 995.3h0M1017.6 1026.3h0M1018.4 998.2h0M1018.4 1026.6h0M1019.9 994.3h0M1020.4 1025.8h0M1021.0 992.4h0M1020.4 1026.1h0M1021.7 986.2h0M1022.0 1026.0h0M1023.1 985.0h0M1022.3 1026.4h0M1024.6 980.5h0M1024.2 1025.6h0M1025.0 976.4h0M1024.9 1026.8h0M1025.9 980.2h0M1025.8 1026.4h0M1026.3 982.0h0M1026.4 1027.0h0M1027.9 985.0h0M1027.7 1026.6h0M1028.7 987.1h0M1029.4 1026.4h0M1030.5 992.1h0M1030.2 1026.8h0M1031.4 993.2h0M1030.9 1026.2h0M1031.8 992.2h0M1031.7 1025.5h0M1032.3 993.1h0M1033.0 1026.4h0M1033.6 996.0h0M1033.9 1027.2h0M1034.6 994.3h0M1034.9 1026.8h0M1036.0 993.0h0M1036.0 1026.8h0M1037.5 995.6h0M1036.3 1025.7h0M1038.7 994.7h0M1038.5 1026.6h0M1039.6 996.7h0M1039.0 1025.7h0M1040.1 997.0h0M1040.0 1025.7h0M1040.9 998.7h0M1041.3 1026.1h0M1042.3 999.7h0M1041.7 1025.6h0M1043.1 999.7h0M1043.5 1025.9h0M1044.6 1002.7h0M1043.8 1025.8h0M1045.5 1005.1h0M1044.5 1027.1h0M1046.7 1004.6h0M1046.3 1026.0h0M1046.3 1005.3h0M1046.7 1026.2h0M1048.2 1002.2h0M1048.2 1026.2h0M1049.1 1000.2h0M1049.0 1027.0h0M1049.8 995.7h0M1049.6 1026.2h0M1050.3 992.7h0M1051.6 1026.9h0M1051.8 988.0h0M1051.5 1025.8h0M1052.9 985.1h0M1052.4 1025.8h0M1054.5 979.4h0M1054.3 1026.8h0M1055.0 976.2h0M1054.6 1026.3h0M1055.9 976.5h0M1056.0 1025.6h0M1056.8 977.3h0M1056.5 1026.2h0M1058.6 978.8h0M1058.6 1026.6h0M1059.5 977.6h0M1059.7 1025.6h0M1060.5 980.4h0M1059.5 1026.9h0M1060.7 980.3h0M1061.4 1026.7h0M1061.6 980.2h0M1061.8 1025.8h0M1063.2 984.9h0M1062.3 1025.6h0M1064.7 983.7h0M1064.4 1027.1h0M1064.6 987.7h0M1065.6 1025.5h0M1066.0 988.5h0M1066.1 1025.9h0M1066.5 992.5h0M1067.3 1026.2h0M1068.6 994.9h0M1068.4 1026.4h0M1068.7 994.7h0M1069.5 1026.1h0M1069.4 996.6h0M1070.2 1026.5h0M1071.1 996.9h0M1070.6 1027.0h0M1071.4 999.7h0M1071.3 1025.9h0M1073.1 1001.7h0M1073.7 1026.6h0M1074.7 1003.7h0M1073.4 1026.4h0M1075.2 1004.4h0M1074.4 1026.8h0M1075.3 1004.3h0M1075.3 1026.1h0M1077.6 1007.2h0M1077.6 1027.0h0M1078.0 1008.7h0M1077.6 1026.2h0M1079.3 1009.7h0M1078.5 1026.3h0M1080.1 1009.4h0M1079.4 1025.6h0M1080.5 1008.4h0M1080.8 1026.8h0M1081.6 1006.8h0M1081.8 1026.5h0M1082.9 1007.3h0M1082.5 1026.8h0M1083.5 1005.2h0M1083.8 1026.8h0M1085.2 1002.7h0M1084.6 1026.9h0M1086.6 1001.8h0M1086.3 1025.6h0M1086.4 1004.1h0M1086.6 1025.6h0M1088.1 1001.8h0M1087.7 1025.8h0M1089.6 1002.3h0M1088.9 1025.6h0M1089.9 1000.3h0M1090.2 1025.9h0M1091.2 1000.0h0M1091.6 1026.9h0M1092.5 1001.0h0M1092.5 1026.4h0M1092.8 1001.4h0M1092.6 1026.0h0M1093.9 1001.9h0M1094.6 1026.7h0M1095.2 1002.1h0M1094.6 1025.9h0M1095.9 1000.5h0M1096.0 1026.3h0M1097.5 1002.6h0M1096.7 1026.4h0M1098.5 1004.7h0M1098.2 1026.6h0M1098.9 1005.6h0M1098.6 1026.9h0M1100.4 1004.7h0M1100.3 1026.1h0M1100.4 1008.4h0M1101.4 1026.7h0M1102.1 1005.5h0M1102.1 1025.5h0M1103.3 1005.3h0M1103.5 1025.6h0M1104.6 1005.9h0M1103.6 1025.7h0M1104.5 1002.8h0M1105.4 1026.4h0M1106.2 1004.9h0M1106.5 1026.4h0M1106.5 1001.9h0M1107.3 1025.8h0M1108.4 1003.7h0M1107.6 1025.6h0M1109.5 1001.7h0M1109.6 1026.8h0M1109.6 1001.7h0M1109.4 1026.5h0M1111.2 1001.0h0M1111.3 1026.5h0M1112.4 1001.0h0M1112.0 1025.8h0M1113.6 999.3h0M1113.4 1027.0h0M1114.7 1001.9h0M1114.2 1026.7h0M1115.6 1000.7h0M1115.6 1027.8h0M1116.1 1000.2h0M1115.5 1027.8h0M1117.3 1000.3h0M1117.2 1027.5h0M1118.6 1000.0h0M1117.5 1028.2h0M1118.9 1002.4h0M1119.4 1028.0h0M1120.5 1001.5h0M1119.5 1028.3h0M1121.4 1001.5h0M1120.5 1028.3h0M1122.6 1002.9h0M1122.6 1029.0h0M1123.2 1003.9h0M1122.4 1028.9h0M1124.2 1004.4h0M1123.6 1028.8h0M1124.4 1002.9h0M1124.8 1029.3h0M1126.4 1005.0h0M1125.6 1029.0h0M1127.2 1004.8h0M1126.5 1029.2h0M1128.6 1003.6h0M1127.9 1028.4h0M1129.6 1004.6h0M1128.4 1029.1h0M1130.1 1006.1h0M1130.5 1029.1h0M1131.5 1004.6h0M1130.6 1029.2h0M1131.5 1005.9h0M1132.1 1029.5h0M1133.4 1005.7h0M1132.6 1030.0h0M1133.5 1006.3h0M1133.3 1029.0h0M1134.3 1005.1h0M1135.0 1029.6h0M1135.6 1004.9h0M1136.6 1029.3h0M1137.3 1007.0h0M1137.7 1030.1h0M1137.9 1002.9h0M1138.5 1029.5h0M1138.5 1003.6h0M1138.7 1028.7h0M1139.6 1001.3h0M1139.3 1028.8h0M1141.3 1000.6h0M1140.5 1029.2h0M1141.7 1002.6h0M1142.2 1028.8h0M1143.4 1001.0h0M1143.1 1029.4h0M1144.6 1001.2h0M1144.4 1029.3h0M1145.6 1005.1h0M1145.7 1029.3h0M1145.4 1006.0h0M1145.4 1028.6h0M1146.3 1007.0h0M1146.7 1029.9h0M1148.5 1005.2h0M1148.0 1028.8h0M1149.1 1005.2h0M1148.6 1030.0h0M1150.3 1003.1h0M1149.4 1029.3h0M1151.0 1004.9h0M1150.4 1030.2h0M1152.1 1000.5h0M1152.6 1028.9h0M1152.8 1000.0h0M1152.8 1029.1h0M1153.3 1002.2h0M1153.7 1029.1h0M1154.9 1006.3h0M1155.3 1028.8h0M1156.4 1010.3h0M1156.1 1030.0h0M1157.0 1010.3h0M1156.4 1029.5h0M1157.7 1013.6h0M1158.5 1029.9h0M1158.3 1012.8h0M1159.1 1029.2h0M1159.9 1012.0h0M1160.6 1030.0h0M1160.8 1013.8h0M1161.2 1029.0h0M1161.5 1012.0h0M1161.3 1029.6h0M1163.3 1010.5h0M1162.5 1029.5h0M1164.2 1011.3h0M1163.8 1029.9h0M1164.5 1010.6h0M1165.3 1029.5h0M1166.0 1011.5h0M1166.5 1029.0h0M1166.7 1013.5h0M1166.7 1029.7h0M1168.2 1012.2h0M1168.0 1028.6h0M1168.4 1012.0h0M1169.5 1030.0h0M1170.5 1012.9h0M1169.6 1029.1h0M1171.4 1015.1h0M1171.1 1029.4h0M1171.4 1015.7h0M1171.9 1028.8h0M1173.7 1014.3h0M1172.6 1029.7h0M1174.2 1012.9h0M1173.9 1029.4h0M1175.0 1014.9h0M1174.3 1029.6h0M1175.8 1012.8h0M1175.7 1029.2h0M1177.6 1012.0h0M1177.3 1029.3h0M1177.7 1014.8h0M1178.1 1029.8h0M1178.8 1012.2h0M1179.3 1030.0h0M1180.4 1013.0h0M1179.8 1030.0h0M1180.6 1012.9h0M1181.4 1029.1h0M1181.4 1010.4h0M1181.7 1028.6h0M1183.1 1011.7h0M1183.3 1028.6h0M1183.6 1012.3h0M1184.0 1029.0h0M1184.6 1012.1h0M1184.4 1028.8h0M1186.4 1010.7h0M1185.4 1029.4h0M1187.0 1011.3h0M1187.5 1028.8h0M1187.8 1013.7h0M1187.7 1028.7h0M1189.6 1012.6h0M1188.9 1029.2h0M1190.6 1012.4h0M1190.2 1029.0h0M1190.6 1012.3h0M1191.1 1028.8h0M1191.8 1011.6h0M1192.7 1030.1h0M1192.8 1010.6h0M1193.0 1029.4h0M1194.6 1010.6h0M1194.2 1029.3h0M1194.9 1009.9h0M1195.6 1029.7h0M1196.3 1007.9h0M1195.9 1029.7h0M1196.7 1008.4h0M1196.4 1028.6h0M1198.3 1006.8h0M1198.3 1029.4h0M1199.0 1004.8h0M1198.5 1030.0h0M1200.0 1000.1h0M1200.6 1028.8h0M1200.5 998.5h0M1200.6 1029.3h0M1202.1 996.9h0M1201.4 1029.8h0M1203.4 994.3h0M1202.9 1028.8h0M1203.5 992.7h0M1204.0 1030.1h0M1205.2 994.1h0M1204.9 1030.0h0M1206.1 992.3h0M1205.8 1030.1h0M1207.4 991.8h0M1207.7 1030.1h0M1207.7 991.7h0M1207.8 1029.4h0M1208.8 993.6h0M1209.2 1029.6h0M1210.2 991.6h0M1210.6 1029.0h0M1211.4 992.1h0M1210.5 1029.7h0M1211.3 992.2h0M1212.0 1029.0h0M1212.7 991.5h0M1213.0 1030.1h0M1214.3 991.0h0M1213.9 1028.5h0M1215.5 991.5h0M1215.4 1028.8h0M1215.6 989.6h0M1216.2 1028.8h0M1217.0 988.9h0M1217.3 1029.6h0M1218.0 987.9h0M1217.5 1029.4h0M1218.3 989.8h0M1219.1 1029.6h0M1219.8 988.0h0M1219.4 1029.5h0M1220.4 987.0h0M1220.4 1029.9h0M1222.7 987.7h0M1222.3 1029.9h0M1223.4 986.1h0M1222.6 1029.0h0M1223.4 989.9h0M1224.1 1029.0h0M1224.6 989.1h0M1225.3 1028.5h0M1226.5 991.7h0M1225.8 1028.9h0M1227.4 993.9h0M1227.2 1029.1h0M1227.7 996.7h0M1228.1 1029.7h0M1229.5 997.8h0M1228.8 1029.1h0M1230.6 997.4h0M1229.6 1029.2h0M1230.8 997.9h0M1230.5 1029.2h0M1231.6 994.3h0M1231.4 1029.8h0M1232.8 996.4h0M1232.5 1030.4h0M1233.5 994.9h0M1234.3 1030.6h0M1235.2 995.7h0M1234.5 1030.3h0M1236.0 995.1h0M1236.4 1029.3h0M1237.6 992.3h0M1237.0 1029.9h0M1237.3 992.4h0M1238.4 1029.6h0M1238.4 992.9h0M1239.5 1029.5h0M1239.5 991.1h0M1240.0 1030.3h0M1240.4 989.1h0M1241.4 1029.6h0M1242.0 989.8h0M1241.9 1030.2h0M1243.5 987.0h0M1243.2 1028.8h0M1244.0 985.3h0M1243.4 1029.7h0M1245.2 982.3h0M1244.4 1028.8h0M1246.0 981.7h0M1246.5 1029.0h0M1247.3 978.9h0M1247.1 1029.4h0M1247.7 979.7h0M1248.3 1028.7h0M1249.3 984.6h0M1248.5 1029.0h0M1249.8 987.7h0M1250.5 1029.3h0M1251.2 992.9h0M1250.4 1028.8h0M1251.4 995.3h0M1252.7 1029.2h0M1253.2 990.7h0M1252.4 1027.9h0M1253.6 986.9h0M1254.5 1029.0h0M1255.7 984.0h0M1254.9 1027.9h0M1256.4 980.9h0M1255.4 1027.9h0M1256.3 975.9h0M1257.4 1029.0h0M1258.6 976.7h0M1257.4 1028.2h0M1258.5 974.6h0M1259.3 1028.5h0M1259.8 970.3h0M1260.2 1028.5h0M1261.2 968.3h0M1261.4 1028.8h0M1261.6 969.1h0M1261.3 1028.6h0M1262.5 970.9h0M1262.7 1027.9h0M1264.2 969.7h0M1263.4 1027.7h0M1264.4 971.1h0M1265.2 1028.4h0M1265.5 973.9h0M1266.4 1029.0h0M1267.0 971.5h0M1267.0 1029.2h0M1268.4 975.2h0M1268.2 1028.7h0M1268.7 973.8h0M1268.8 1028.7h0M1269.8 971.5h0M1270.2 1027.8h0M1271.6 968.1h0M1271.4 1029.0h0M1272.6 968.4h0M1271.4 1027.7h0M1273.3 968.0h0M1273.5 1027.5h0M1274.3 966.9h0M1273.4 1027.6h0M1274.7 965.0h0M1275.6 1028.1h0M1276.3 965.1h0M1276.4 1028.9h0M1276.3 965.3h0M1276.5 1028.9h0M1277.6 966.1h0M1278.0 1027.5h0M1279.3 965.2h0M1278.5 1028.0h0M1280.6 967.4h0M1279.6 1027.7h0M1280.9 971.7h0M1281.3 1028.6h0M1282.4 977.1h0M1282.7 1028.9h0M1282.8 983.6h0M1282.6 1027.7h0M1284.3 985.4h0M1283.8 1028.2h0M1285.7 983.1h0M1285.1 1028.7h0M1285.4 980.0h0M1285.3 1028.8h0M1287.3 975.0h0M1287.3 1028.5h0M1287.4 971.7h0M1288.5 1027.8h0M1288.5 968.8h0M1289.6 1027.7h0M1290.2 967.3h0M1289.5 1028.1h0M1290.7 964.8h0M1291.2 1028.3h0M1291.7 961.5h0M1291.4 1027.1h0M1292.5 961.2h0M1292.5 1027.6h0M1294.4 961.5h0M1293.3 1028.0h0M1295.3 959.2h0M1294.6 1027.7h0M1295.5 957.7h0M1296.4 1027.6h0M1296.4 955.8h0M1297.7 1027.9h0M1297.5 955.6h0M1298.3 1026.8h0M1299.2 958.6h0M1298.9 1026.5h0M1299.4 957.1h0M1299.7 1026.5h0M1300.9 957.4h0M1300.9 1027.1h0M1302.1 959.9h0M1302.1 1026.7h0M1303.1 960.9h0M1303.5 1025.6h0M1304.2 967.0h0M1304.5 1026.5h0M1304.6 972.7h0M1304.9 1026.6h0M1306.0 976.6h0M1305.7 1026.9h0M1307.1 982.5h0M1307.5 1026.7h0M1307.6 977.4h0M1308.5 1026.6h0M1308.8 973.6h0M1309.3 1026.8h0M1310.5 968.6h0M1310.2 1026.9h0M1310.5 961.8h0M1311.1 1025.8h0M1312.3 956.5h0M1311.7 1025.8h0M1313.7 954.4h0M1312.7 1027.0h0M1313.4 955.4h0M1314.3 1026.4h0M1315.3 958.5h0M1315.6 1025.8h0M1316.7 960.9h0M1315.5 1026.7h0M1317.0 962.5h0M1316.5 1025.5h0M1317.7 964.4h0M1318.5 1025.8h0M1319.6 961.3h0M1319.4 1025.7h0M1319.9 956.5h0M1320.0 1025.9h0M1320.7 951.8h0M1321.6 1027.0h0M1322.1 946.6h0M1322.0 1027.2h0M1323.1 946.3h0M1323.3 1025.6h0M1323.6 952.7h0M1324.3 1025.8h0M1325.7 958.9h0M1325.1 1026.4h0M1326.6 962.6h0M1325.8 1026.6h0M1327.1 969.8h0M1327.2 1026.9h0M1327.3 974.5h0M1327.6 1026.5h0M1328.5 968.7h0M1328.6 1026.3h0M1329.9 964.0h0M1330.7 1026.1h0M1331.2 956.9h0M1331.5 1026.4h0M1331.8 955.7h0M1332.6 1025.7h0M1332.4 958.9h0M1333.2 1026.7h0M1333.8 962.6h0M1333.5 1025.8h0M1335.2 967.4h0M1335.6 1027.0h0M1336.4 968.6h0M1335.3 1026.9h0M1336.4 974.2h0M1336.8 1027.2h0M1337.9 976.5h0M1337.8 1026.7h0M1339.0 979.1h0M1339.4 1027.0h0M1339.8 979.3h0M1340.6 1025.6h0M1341.1 982.3h0M1341.6 1027.1h0M1341.8 984.2h0M1341.6 1026.1h0M1342.8 984.1h0M1343.5 1025.7h0M1343.9 986.8h0M1343.5 1025.8h0M1344.5 988.5h0M1345.2 1026.6h0M1346.0 989.3h0M1346.5 1026.4h0M1346.9 990.7h0M1347.0 1026.7h0M1348.0 990.3h0M1347.5 1025.6h0M1348.8 990.6h0M1349.1 1027.0h0M1350.2 989.6h0M1349.9 1026.9h0M1351.3 990.1h0M1351.0 1025.6h0M1351.7 989.2h0M1351.9 1025.7h0M1353.3 991.3h0M1352.5 1026.8h0M1353.4 991.9h0M1354.1 1026.9h0M1354.5 990.0h0M1354.5 1026.3h0M1356.6 989.2h0M1356.0 1026.4h0M1356.6 989.5h0M1356.9 1025.8h0M1357.9 989.7h0M1357.4 1026.9h0M1359.2 991.0h0M1359.4 1026.0h0M1360.4 991.6h0M1360.4 1026.0h0M1360.3 996.0h0M1361.5 1026.5h0M1362.6 997.3h0M1362.0 1026.7h0M1362.3 998.3h0M1363.1 1026.3h0M1363.8 999.9h0M1363.8 1025.8h0M1365.0 1002.4h0M1365.5 1026.2h0M1366.5 1003.9h0M1366.0 1026.3h0M1367.5 987.7h0M1367.3 1027.0h0M1368.1 971.3h0M1367.9 1026.4h0M1369.1 964.6h0M1369.4 1026.3h0M1369.5 964.6h0M1370.2 1026.4h0M1370.5 963.3h0M1370.5 1026.0h0M1371.9 975.5h0M1371.8 1026.2h0M1372.6 990.2h0M1373.2 1026.2h0M1373.4 998.5h0M1374.3 1025.9h0M1374.9 998.8h0M1374.8 1025.8h0M1376.1 1002.5h0M1375.8 1027.0h0M1376.8 1003.3h0M1376.7 1026.4h0M1377.9 1005.9h0M1377.6 1026.6h0M1379.2 1007.6h0M1379.1 1026.6h0M1379.6 1008.3h0M1380.0 1026.9h0M1381.4 1010.4h0M1380.8 1026.4h0M1382.2 1008.3h0M1381.3 1026.9h0M1382.8 1003.4h0M1382.4 1025.7h0M1383.3 1001.2h0M1384.2 1026.6h0M1385.5 998.5h0M1384.6 1025.9h0M1385.6 998.6h0M1386.0 1026.0h0M1386.8 996.2h0M1387.0 1026.4h0M1388.6 992.9h0M1388.7 1027.2h0M1389.5 991.3h0M1388.9 1026.0h0M1389.4 988.5h0M1389.5 1025.5h0M1390.8 994.7h0M1390.3 1025.7h0M1391.5 998.2h0M1391.6 1027.2h0M1393.5 1001.2h0M1393.6 1026.5h0M1394.1 1005.9h0M1394.1 1025.5h0M1395.2 1007.7h0M1395.5 1026.8h0M1396.5 1011.8h0M1395.4 1025.8h0M1396.5 1014.7h0M1397.2 1026.5h0M1397.8 1013.2h0M1398.3 1026.6h0M1398.6 1013.8h0M1398.4 1026.8h0M1399.5 1011.6h0M1400.1 1026.6h0M1401.3 1010.2h0M1401.2 1026.4h0M1401.9 1012.2h0M1402.4 1026.2h0M1403.2 1009.6h0M1403.2 1026.6h0M1404.6 1008.4h0M1403.6 1025.9h0M1404.6 1010.9h0M1404.5 1027.0h0M1406.1 1009.7h0M1405.4 1025.6h0M1407.0 1007.0h0M1407.7 1026.7h0M1408.2 1009.2h0M1408.4 1026.9h0M1408.8 1007.9h0M1408.4 1026.5h0M1409.5 1007.8h0M1410.1 1026.2h0M1410.6 1004.7h0M1411.0 1026.1h0M1412.0 1004.9h0M1411.4 1026.4h0M1413.3 1006.1h0M1413.2 1025.8h0M1414.2 1007.9h0M1413.9 1026.9h0M1414.9 1008.9h0M1415.7 1025.6h0M1415.9 1008.1h0M1416.1 1025.7h0M1416.5 1009.5h0M1417.1 1026.0h0M1417.9 1010.5h0M1418.3 1026.3h0M1419.2 1011.7h0M1418.6 1025.5h0M1420.0 1011.9h0M1420.4 1025.8h0M1421.0 1013.7h0M1420.7 1025.6h0M1422.0 1012.1h0M1421.5 1026.2h0M1423.3 1013.6h0M1422.5 1026.8h0M1424.0 1013.6h0M1423.9 1025.9h0M1424.8 1012.0h0M1424.9 1026.2h0M1426.7 1010.5h0M1426.3 1026.9h0M1427.2 1009.0h0M1427.5 1027.2h0M1428.5 1008.5h0M1427.8 1027.1h0M1429.6 1009.8h0M1428.8 1026.6h0M1429.7 1008.0h0M1429.4 1025.6h0M1431.5 1000.4h0M1431.4 1025.5h0M1431.7 993.9h0M1432.3 1025.8h0M1433.0 975.7h0M1432.6 1026.2h0M1433.3 953.8h0M1433.9 1025.8h0M1435.6 933.9h0M1434.8 1026.2h0M1436.1 915.2h0M1435.6 1026.1h0M1436.6 896.9h0M1437.2 1026.6h0M1437.3 888.3h0M1438.5 1026.4h0M1438.4 880.0h0M1439.5 1025.7h0M1439.5 873.1h0M1440.5 1025.8h0M1441.3 869.4h0M1441.1 1025.7h0M1442.5 861.4h0M1441.7 1025.9h0M1442.7 857.3h0M1443.3 1025.9h0M1443.6 854.2h0M1444.5 1026.8h0M1445.1 857.8h0M1445.6 1026.6h0M1446.4 864.8h0M1446.6 1025.8h0M1447.4 871.1h0M1447.3 1027.2h0M1447.5 877.1h0M1448.4 1026.9h0M1448.6 891.0h0M1448.5 1026.7h0M1449.6 904.9h0M1449.7 1025.9h0M1450.8 932.5h0M1450.3 1026.1h0M1451.6 956.6h0M1452.0 1027.1h0M1453.5 972.7h0M1452.4 1027.0h0M1454.6 992.2h0M1453.6 1025.7h0M1454.7 996.3h0M1455.6 1026.3h0M1456.6 997.4h0M1455.9 1025.9h0M1456.5 996.6h0M1456.9 1026.1h0M1458.0 999.8h0M1458.2 1026.2h0M1458.4 998.5h0M1458.4 1025.6h0M1460.7 997.7h0M1460.0 1026.7h0M1461.0 997.9h0M1461.3 1026.4h0M1461.6 998.3h0M1462.5 1026.8h0M1463.7 998.4h0M1463.5 1026.3h0M1463.3 997.5h0M1464.1 1026.3h0M115.6 859.0h0M116.9 859.4h0M117.5 860.2h0M117.9 862.8h0M119.3 860.9h0M120.4 871.7h0M120.7 876.7h0M123.1 876.4h0M123.2 872.4h0M122.7 877.1h0M125.3 870.6h0M131.5 800.6h0M130.5 803.8h0M133.3 784.2h0M134.0 776.3h0M134.0 773.0h0M136.4 777.9h0M139.4 776.8h0M139.9 776.5h0M140.6 782.2h0M146.3 799.1h0M147.0 797.3h0M148.2 795.2h0M148.5 790.5h0M150.0 793.0h0M149.6 775.3h0M154.4 910.8h0M154.1 911.1h0M157.4 935.9h0M157.1 937.6h0M157.9 942.0h0M157.8 941.7h0M161.6 953.7h0M163.0 956.5h0M163.6 961.7h0M165.3 967.8h0M166.6 962.9h0M167.7 966.3h0M167.6 966.3h0M169.2 962.5h0M168.6 963.7h0M170.3 950.8h0M170.4 960.7h0M173.5 891.2h0M175.4 882.8h0M175.4 877.6h0M174.9 881.6h0M180.9 856.8h0M183.1 857.2h0M185.7 858.3h0M185.9 854.7h0M187.4 869.5h0M187.1 864.3h0M188.5 856.2h0M189.4 844.4h0M190.8 817.1h0M191.7 807.8h0M194.9 801.8h0M197.2 796.4h0M198.4 814.9h0M198.6 829.3h0M199.9 844.9h0M201.2 857.5h0M200.9 860.1h0M206.4 840.4h0M205.8 844.7h0M206.2 843.3h0M207.1 798.3h0M209.2 761.3h0M209.2 781.8h0M210.0 775.8h0M213.5 781.5h0M212.7 777.9h0M215.3 777.5h0M215.8 781.6h0M217.1 778.9h0M219.0 768.9h0M218.6 778.5h0M218.7 779.2h0M220.0 775.7h0M219.7 775.4h0M221.4 756.3h0M220.6 770.0h0M221.0 769.5h0M221.2 772.4h0M222.4 766.6h0M223.6 766.7h0M225.4 766.3h0M225.0 767.9h0M227.1 766.2h0M227.8 735.5h0M227.5 757.5h0M228.8 748.2h0M229.4 735.5h0M230.3 763.3h0M230.7 765.0h0M232.0 767.2h0M232.8 768.0h0M235.4 767.4h0M235.5 768.5h0M235.4 766.5h0M236.5 771.3h0M236.3 771.0h0M236.2 769.4h0M239.1 807.2h0M239.4 800.3h0M240.1 818.9h0M241.4 820.7h0M241.0 827.2h0M242.4 825.9h0M241.9 836.6h0M241.8 837.4h0M241.9 835.2h0M243.2 844.6h0M243.3 846.0h0M242.7 842.0h0M242.9 846.3h0M244.7 868.8h0M247.0 886.7h0M247.6 907.1h0M249.5 911.7h0M249.5 922.7h0M249.5 925.7h0M249.7 925.7h0M251.3 936.9h0M252.2 942.2h0M252.2 941.5h0M251.5 935.3h0M253.6 930.2h0M255.7 837.3h0M261.3 817.7h0M261.7 821.1h0M262.8 840.2h0M262.6 845.3h0M264.4 871.3h0M265.0 879.0h0M264.8 890.3h0M265.2 888.0h0M265.2 891.1h0M265.4 885.0h0M267.2 896.5h0M268.3 892.9h0M267.9 886.6h0M269.1 898.8h0M269.2 899.9h0M270.3 893.1h0M272.3 900.1h0M271.6 909.2h0M273.9 918.5h0M273.5 903.1h0M278.2 953.4h0M277.9 942.2h0M277.9 952.6h0M281.2 963.4h0M281.0 962.5h0M281.7 965.8h0M282.1 965.8h0M283.0 970.4h0M284.1 973.8h0M283.7 971.8h0M285.4 974.3h0M284.7 973.7h0M284.6 974.9h0M286.6 976.9h0M286.9 976.5h0M288.3 974.7h0M290.4 976.7h0M290.5 978.8h0M291.8 979.4h0M292.7 978.3h0M294.7 976.5h0M296.5 971.9h0M296.4 972.5h0M296.3 975.1h0M296.5 975.6h0M297.9 975.9h0M297.9 976.0h0M297.9 975.4h0M298.6 973.1h0M299.2 977.9h0M298.6 969.8h0M299.9 975.7h0M301.3 978.2h0M301.7 957.3h0M302.2 961.2h0M304.1 971.5h0M305.4 967.3h0M304.8 968.0h0M305.2 969.6h0M304.7 959.8h0M304.7 968.7h0M305.6 963.8h0M306.4 957.5h0M305.7 967.3h0M306.2 967.3h0M306.8 963.7h0M307.3 951.1h0M308.4 957.3h0M308.0 955.6h0M309.1 950.2h0M309.3 950.1h0M311.0 945.7h0M311.2 941.9h0M311.8 960.5h0M312.5 983.4h0M312.8 984.1h0M313.8 996.4h0M317.8 1010.5h0M318.7 1010.0h0M319.2 1004.3h0M321.0 1007.9h0M323.0 1006.0h0M322.6 1005.6h0M324.3 1005.9h0M324.7 1002.8h0M328.6 1007.6h0M330.4 1014.7h0M330.7 1016.8h0M335.7 1019.3h0M344.4 1017.9h0M345.6 1019.5h0M347.6 1018.5h0M348.9 1018.1h0M350.1 1019.3h0M352.5 1015.5h0M351.7 1018.1h0M353.3 1007.9h0M353.2 1017.4h0M354.3 1018.9h0M356.2 1013.0h0M360.8 1010.2h0M366.6 1012.2h0M367.1 1008.4h0M368.2 1015.0h0M368.6 1014.5h0M370.1 1015.2h0M371.9 1018.2h0M373.4 1016.3h0M373.8 1018.6h0M375.3 1016.4h0M377.5 1019.2h0M387.8 1017.0h0M402.2 1017.4h0M406.4 1016.9h0M406.3 1021.0h0M409.1 1012.7h0M413.8 1022.2h0M415.6 1023.4h0M419.9 1022.8h0M426.3 1024.0h0M428.4 1020.8h0M428.3 1018.2h0M435.5 1020.4h0M440.2 1021.4h0M440.6 1022.5h0M447.2 1021.2h0M451.3 1018.4h0M451.6 1020.4h0M452.8 1002.5h0M453.8 1002.7h0M455.5 999.1h0M457.8 1021.5h0M460.9 1019.1h0M460.6 1019.9h0M462.0 1020.7h0M473.2 1017.2h0M474.8 1018.4h0M476.0 1017.3h0M482.1 1018.1h0M482.5 1013.9h0M486.2 1011.6h0M485.6 1016.0h0M487.8 1016.9h0M488.0 1017.1h0M490.3 1016.8h0M492.5 1012.3h0M493.1 1013.5h0M498.9 1013.3h0M500.7 1011.4h0M507.1 1012.2h0M507.8 1018.6h0M514.2 1017.1h0M514.0 1016.8h0M516.1 1017.9h0M515.7 1013.2h0M519.2 1020.6h0M525.7 1022.3h0M532.2 1023.1h0M535.7 1004.8h0M536.6 1021.6h0M542.8 1019.4h0M542.9 1020.0h0M544.8 1020.6h0M546.2 1012.3h0M549.8 1018.2h0M550.6 1019.1h0M554.6 1020.0h0M558.7 1013.8h0M559.2 1018.2h0M565.8 1006.0h0M573.8 1013.3h0M577.8 1014.7h0M579.9 1018.7h0M580.5 1010.9h0M583.3 1020.0h0M583.7 1017.2h0M585.8 1020.9h0M586.7 1017.2h0M590.6 1015.9h0M592.2 1015.6h0M596.6 1014.8h0M603.3 1011.0h0M604.3 1013.8h0M604.7 1014.3h0M605.0 1012.5h0M611.0 1016.9h0M615.7 1014.4h0M619.0 1014.0h0M619.9 1014.0h0M624.4 1013.8h0M628.1 1012.5h0M628.8 1010.1h0M633.0 1014.8h0M635.2 1016.8h0M644.5 1018.5h0M647.3 1013.3h0M647.1 1018.8h0M646.8 1021.3h0M656.8 1020.7h0M658.7 1018.9h0M659.6 1017.6h0M665.6 1012.1h0M674.3 1021.0h0M676.6 1020.6h0M680.5 1018.8h0M681.5 1019.2h0M685.5 1019.8h0M687.4 1018.3h0M690.7 1018.6h0M695.5 1015.8h0M700.1 1021.4h0M704.8 1023.3h0M712.5 1023.3h0M713.8 1023.5h0M716.4 1026.1h0M717.4 1019.2h0M722.8 1026.4h0M735.2 1024.2h0M739.6 1006.1h0M739.5 1008.9h0M740.7 998.6h0M740.7 993.7h0M742.6 989.4h0M746.7 914.8h0M748.5 895.1h0M751.0 857.7h0M750.7 858.9h0M751.4 854.5h0M753.0 863.1h0M755.1 884.7h0M754.6 883.3h0M757.1 911.2h0M758.1 921.0h0M759.1 918.1h0M761.2 949.6h0M762.1 955.9h0M764.9 983.0h0M765.0 984.3h0M768.3 987.7h0M769.1 999.7h0M769.3 998.3h0M771.9 1002.5h0M773.0 1002.1h0M774.6 1002.7h0M775.8 998.0h0M778.6 992.4h0M781.0 986.3h0M781.5 987.8h0M780.8 983.0h0M782.0 980.1h0M782.6 981.0h0M785.0 972.3h0M785.0 973.9h0M784.9 966.1h0M785.7 970.4h0M788.0 953.3h0M789.9 963.8h0M791.7 973.1h0M794.4 968.4h0M793.7 959.3h0M795.4 972.1h0M794.8 977.6h0M798.8 968.7h0M800.4 973.2h0M800.9 967.9h0M803.1 977.1h0M805.4 985.1h0M809.2 979.3h0M812.9 971.2h0M814.4 974.0h0M814.5 972.4h0M814.7 969.1h0M816.3 976.2h0M815.7 963.6h0M817.3 981.8h0M816.9 974.9h0M816.9 983.3h0M818.7 993.4h0M822.2 1002.9h0M823.8 1003.4h0M824.5 997.2h0M823.7 1002.9h0M827.7 991.6h0M827.9 989.6h0M828.5 1002.6h0M829.7 1003.1h0M830.4 1006.1h0M830.1 1005.0h0M829.6 1009.4h0M830.4 1008.7h0M830.9 1009.1h0M831.1 1009.2h0M832.2 1009.0h0M832.1 1011.0h0M833.9 1007.8h0M835.4 1003.2h0M835.3 1007.9h0M835.0 1013.0h0M837.2 1014.0h0M837.2 1013.2h0M840.5 1003.2h0M841.9 1000.2h0M844.9 974.8h0M845.9 960.9h0M848.0 895.8h0M851.5 857.9h0M852.5 849.7h0M854.7 857.0h0M855.1 845.1h0M854.8 857.3h0M855.3 842.5h0M855.7 857.2h0M856.5 852.5h0M857.5 858.4h0M856.8 855.0h0M857.6 861.9h0M858.2 858.2h0M857.6 862.4h0M860.1 871.6h0M860.6 868.0h0M861.7 879.0h0M863.1 884.2h0M863.5 884.8h0M863.5 880.7h0M865.1 896.0h0M865.7 900.3h0M869.3 910.2h0M870.1 914.8h0M871.4 920.9h0M871.5 918.9h0M873.8 935.9h0M875.5 935.6h0M875.8 943.1h0M875.7 940.9h0M876.0 941.8h0M875.7 939.1h0M876.8 946.1h0M877.6 944.7h0M878.9 951.5h0M879.9 950.0h0M880.8 954.0h0M883.5 921.7h0M883.1 945.7h0M885.3 928.5h0M884.6 922.5h0M884.9 932.6h0M886.5 912.1h0M887.5 913.9h0M888.3 927.6h0M888.0 908.2h0M888.3 924.6h0M890.1 914.2h0M889.5 887.9h0M889.6 901.3h0M890.0 901.7h0M890.8 901.5h0M892.2 908.6h0M891.8 906.7h0M892.1 904.3h0M893.6 901.8h0M894.8 899.8h0M895.1 899.5h0M895.4 881.6h0M896.3 873.5h0M898.3 893.9h0M899.0 896.6h0M898.5 882.8h0M898.9 894.6h0M898.6 887.2h0M899.5 892.4h0M899.0 894.4h0M899.8 893.3h0M899.5 895.6h0M901.2 890.5h0M901.7 895.1h0M902.6 900.2h0M902.9 893.1h0M903.6 901.9h0M905.0 902.0h0M905.7 881.3h0M906.0 895.5h0M905.7 903.9h0M907.9 904.7h0M907.8 901.5h0M909.4 904.9h0M910.4 901.2h0M909.9 892.4h0M909.8 891.7h0M911.1 898.6h0M912.0 904.1h0M912.3 906.6h0M912.5 910.2h0M913.3 897.9h0M913.3 894.5h0M914.3 889.1h0M914.1 917.5h0M913.8 916.2h0M914.4 909.6h0M914.2 911.9h0M913.9 904.5h0M914.6 911.3h0M915.2 918.0h0M916.2 924.4h0M915.5 924.9h0M917.8 913.3h0M917.8 915.9h0M918.2 906.0h0M918.0 909.4h0M918.3 929.2h0M918.5 923.6h0M919.2 924.3h0M920.4 925.0h0M919.7 922.9h0M921.7 901.5h0M921.7 919.4h0M922.5 902.9h0M923.9 909.7h0M925.0 918.0h0M925.1 901.9h0M925.0 918.3h0M924.6 913.8h0M926.0 916.7h0M926.0 926.3h0M925.9 923.9h0M925.8 925.0h0M925.9 914.1h0M928.4 943.1h0M927.6 939.4h0M928.6 935.5h0M928.9 942.6h0M929.0 947.5h0M930.3 959.0h0M929.9 956.1h0M929.7 955.1h0M931.3 962.9h0M930.6 953.9h0M931.4 954.9h0M931.0 953.1h0M933.1 970.3h0M932.5 954.6h0M934.4 971.4h0M934.2 960.0h0M934.6 970.8h0M935.1 969.9h0M937.9 964.2h0M940.2 966.6h0M941.2 961.0h0M941.5 955.4h0M942.8 948.1h0M942.6 949.4h0M945.3 943.6h0M947.2 925.7h0M950.4 920.8h0M952.4 936.7h0M953.3 951.3h0M953.7 958.2h0M957.0 960.4h0M957.0 964.0h0M958.6 965.1h0M958.8 955.6h0M958.6 958.9h0M958.7 950.3h0M960.6 968.7h0M962.2 971.0h0M961.9 971.2h0M961.9 971.9h0M962.5 974.6h0M964.6 981.9h0M965.8 984.8h0M966.0 974.7h0M967.0 986.8h0M967.8 987.3h0M967.7 988.5h0M968.6 970.6h0M970.2 980.4h0M969.8 983.6h0M969.8 983.0h0M970.6 981.2h0M973.2 978.4h0M974.1 971.5h0M974.3 977.6h0M973.8 973.0h0M977.4 970.0h0M976.7 978.2h0M977.1 979.2h0M982.5 963.7h0M984.3 962.5h0M986.5 958.4h0M986.4 958.6h0M987.4 955.8h0M987.8 951.1h0M989.9 952.4h0M989.9 951.7h0M992.1 935.6h0M997.2 979.5h0M997.1 978.2h0M998.4 995.9h0M997.8 990.4h0M998.7 991.7h0M999.2 993.8h0M1001.3 989.3h0M1002.5 977.1h0M1003.1 986.5h0M1005.5 983.7h0M1007.4 981.9h0M1007.5 981.6h0M1008.8 982.3h0M1008.8 981.7h0M1011.1 979.4h0M1012.4 978.9h0M1013.6 979.9h0M1016.4 990.3h0M1017.2 968.7h0M1016.5 990.0h0M1016.6 989.3h0M1017.2 964.5h0M1018.0 988.7h0M1018.6 994.6h0M1019.2 988.3h0M1019.2 991.4h0M1019.5 988.6h0M1021.3 987.1h0M1020.7 989.4h0M1024.0 977.5h0M1024.9 946.3h0M1025.0 972.3h0M1025.6 969.9h0M1026.8 973.8h0M1026.9 979.8h0M1029.3 982.6h0M1030.6 986.3h0M1030.8 979.4h0M1030.9 967.8h0M1031.0 971.7h0M1031.4 987.3h0M1031.0 991.1h0M1031.4 969.3h0M1032.1 991.8h0M1032.0 989.7h0M1036.1 991.3h0M1037.1 977.0h0M1038.2 991.1h0M1038.0 976.2h0M1038.4 983.9h0M1038.8 991.9h0M1042.1 996.7h0M1042.8 991.2h0M1044.2 999.8h0M1045.8 997.5h0M1047.6 999.3h0M1049.4 995.6h0M1048.7 993.0h0M1049.5 990.9h0M1049.7 990.6h0M1049.8 992.0h0M1050.6 987.0h0M1051.2 984.1h0M1052.2 986.0h0M1053.4 980.5h0M1052.9 981.3h0M1053.4 978.5h0M1054.3 978.1h0M1055.1 969.5h0M1056.1 968.3h0M1056.2 973.7h0M1056.6 970.4h0M1058.0 975.1h0M1060.5 973.3h0M1061.5 971.8h0M1064.2 981.8h0M1064.7 985.2h0M1065.7 979.4h0M1065.7 982.6h0M1067.2 988.7h0M1067.0 988.3h0M1067.6 990.0h0M1068.0 990.3h0M1068.6 991.4h0M1068.9 991.3h0M1071.0 991.3h0M1072.0 997.2h0M1072.3 997.8h0M1078.0 1006.9h0M1080.5 981.5h0M1080.0 1004.6h0M1079.8 986.1h0M1080.9 1005.3h0M1081.9 995.2h0M1085.2 999.5h0M1086.6 999.5h0M1088.2 999.2h0M1089.3 1000.1h0M1089.7 993.1h0M1092.9 997.9h0M1094.4 997.0h0M1094.2 998.1h0M1095.5 999.2h0M1096.3 1000.1h0M1096.4 996.1h0M1096.4 1000.2h0M1096.2 998.4h0M1097.2 1001.1h0M1096.8 997.8h0M1098.2 997.6h0M1098.2 999.5h0M1100.8 993.8h0M1101.8 1003.8h0M1102.7 983.8h0M1105.2 998.5h0M1111.9 996.5h0M1114.9 999.1h0M1116.6 997.9h0M1116.7 995.7h0M1116.7 983.6h0M1118.3 999.8h0M1118.9 998.7h0M1120.4 996.5h0M1123.8 999.5h0M1127.1 994.1h0M1127.1 995.4h0M1128.1 1001.2h0M1128.1 1002.3h0M1130.3 994.0h0M1129.8 996.2h0M1130.5 1000.1h0M1136.7 996.2h0M1136.7 994.9h0M1136.7 996.2h0M1138.7 985.4h0M1139.1 997.9h0M1140.3 995.4h0M1140.9 977.2h0M1142.1 996.9h0M1144.0 989.7h0M1145.0 998.0h0M1146.9 1003.5h0M1148.0 995.9h0M1150.2 1000.2h0M1151.3 994.2h0M1152.3 998.2h0M1153.6 985.7h0M1153.8 995.0h0M1155.4 1003.5h0M1156.9 1001.2h0M1161.3 1002.0h0M1161.0 1007.8h0M1162.0 999.2h0M1162.1 1001.0h0M1166.9 1010.6h0M1168.1 1006.4h0M1171.9 1008.6h0M1174.4 1007.3h0M1174.2 1008.7h0M1173.8 1004.9h0M1174.8 1006.5h0M1175.8 1004.8h0M1175.7 1010.9h0M1176.3 1008.7h0M1178.3 1009.4h0M1178.8 1008.7h0M1179.8 1005.6h0M1180.4 1004.1h0M1184.4 1008.3h0M1184.0 1009.2h0M1185.1 1009.4h0M1184.7 994.0h0M1186.1 1001.2h0M1186.6 999.6h0M1187.0 1010.2h0M1188.3 1010.4h0M1187.7 1010.2h0M1190.1 1010.6h0M1189.6 1007.1h0M1190.0 1010.6h0M1191.2 1006.7h0M1191.3 1011.1h0M1192.9 997.0h0M1198.3 999.9h0M1199.1 999.7h0M1200.0 997.8h0M1200.1 998.9h0M1200.8 993.5h0M1202.0 991.3h0M1205.9 990.1h0M1207.2 989.2h0M1211.3 983.9h0M1211.2 982.6h0M1211.6 988.4h0M1212.3 987.9h0M1214.7 988.0h0M1216.0 981.3h0M1216.6 987.0h0M1220.2 972.5h0M1221.8 954.5h0M1221.7 977.5h0M1224.8 981.1h0M1225.9 990.0h0M1227.2 992.2h0M1230.4 989.1h0M1230.6 985.5h0M1231.6 990.5h0M1233.2 993.0h0M1233.8 988.4h0M1234.5 993.0h0M1241.3 987.0h0M1243.0 972.0h0M1244.8 971.3h0M1244.7 970.2h0M1245.0 981.0h0M1246.1 970.6h0M1250.1 985.6h0M1249.5 982.9h0M1249.8 983.5h0M1249.6 982.0h0M1251.8 992.7h0M1253.4 986.1h0M1253.5 990.0h0M1255.3 978.0h0M1255.7 978.3h0M1256.4 977.7h0M1256.7 974.7h0M1257.0 971.7h0M1257.7 971.4h0M1259.5 969.2h0M1259.0 962.5h0M1259.9 968.0h0M1261.9 959.4h0M1263.5 960.8h0M1264.9 956.7h0M1266.2 967.6h0M1265.9 967.5h0M1265.7 968.6h0M1265.7 959.8h0M1266.7 968.4h0M1268.7 970.0h0M1272.4 965.8h0M1274.4 963.4h0M1273.8 957.7h0M1274.5 961.2h0M1274.7 963.1h0M1276.4 962.3h0M1276.4 956.7h0M1277.7 962.8h0M1278.0 962.0h0M1279.3 952.8h0M1281.1 966.1h0M1282.3 956.8h0M1281.6 969.1h0M1282.2 973.7h0M1285.2 976.8h0M1285.3 979.5h0M1285.2 978.6h0M1284.6 979.6h0M1286.1 949.6h0M1287.1 972.9h0M1287.5 971.9h0M1288.3 969.3h0M1288.7 964.3h0M1291.2 960.5h0M1292.3 948.5h0M1293.2 956.0h0M1293.3 959.6h0M1294.9 952.9h0M1294.7 953.3h0M1295.7 942.9h0M1296.0 949.4h0M1298.6 953.9h0M1300.2 950.9h0M1304.0 951.5h0M1306.7 979.6h0M1306.8 979.3h0M1306.9 978.7h0M1307.3 980.3h0M1308.2 971.9h0M1308.4 952.9h0M1309.5 963.9h0M1310.5 955.2h0M1309.7 953.4h0M1309.8 963.6h0M1310.3 953.9h0M1310.8 959.1h0M1314.0 946.8h0M1315.5 953.9h0M1315.5 956.4h0M1316.3 954.6h0M1316.3 947.1h0M1319.0 959.7h0M1320.4 951.7h0M1320.2 951.0h0M1320.5 948.6h0M1321.5 948.1h0M1324.0 948.7h0M1324.1 936.1h0M1324.2 939.5h0M1324.2 944.6h0M1324.4 949.8h0M1324.4 945.6h0M1324.2 930.6h0M1323.7 929.0h0M1328.7 963.5h0M1330.6 954.3h0M1331.6 950.7h0M1331.8 950.8h0M1332.4 944.5h0M1333.0 954.9h0M1336.8 971.7h0M1338.3 970.0h0M1339.2 975.4h0M1341.1 968.5h0M1342.9 979.5h0M1343.3 980.8h0M1344.1 983.6h0M1347.0 986.4h0M1350.3 987.7h0M1349.7 983.9h0M1352.1 981.8h0M1353.5 980.9h0M1354.0 988.4h0M1354.8 987.7h0M1354.6 974.5h0M1356.1 969.6h0M1358.2 986.8h0M1358.3 982.7h0M1358.2 985.1h0M1359.5 987.7h0M1359.1 989.6h0M1361.8 992.7h0M1363.9 997.3h0M1365.3 998.7h0M1364.5 995.0h0M1366.3 1000.3h0M1369.6 956.6h0M1370.9 932.1h0M1371.0 961.2h0M1371.9 974.8h0M1372.6 987.1h0M1373.5 987.5h0M1374.1 994.6h0M1375.0 983.7h0M1378.0 998.8h0M1379.2 996.7h0M1379.1 1004.0h0M1378.9 1003.6h0M1379.5 987.6h0M1380.5 1000.8h0M1381.3 1006.3h0M1382.6 1001.8h0M1384.4 997.4h0M1383.5 998.3h0M1389.5 988.3h0M1391.1 990.2h0M1391.3 989.4h0M1390.6 990.0h0M1392.3 992.4h0M1392.5 990.1h0M1392.8 997.2h0M1392.6 983.0h0M1394.3 998.8h0M1394.3 997.9h0M1396.3 1010.1h0M1395.5 985.3h0M1396.1 1009.9h0M1400.6 986.6h0M1400.9 995.8h0M1400.6 1000.6h0M1401.9 1007.1h0M1402.9 1007.9h0M1404.8 1000.8h0M1406.9 1004.6h0M1406.9 1006.5h0M1408.1 999.3h0M1408.3 1002.3h0M1408.3 999.1h0M1409.1 998.8h0M1408.9 1004.5h0M1410.3 1004.0h0M1410.7 1000.7h0M1412.4 991.2h0M1412.2 999.5h0M1415.1 1005.6h0M1414.6 1006.0h0M1415.3 1006.4h0M1416.9 1006.4h0M1417.5 993.3h0M1418.3 1004.3h0M1419.3 1008.2h0M1420.3 1007.1h0M1421.3 1007.6h0M1423.6 1009.3h0M1425.2 1003.4h0M1425.4 990.6h0M1425.4 1007.4h0M1426.4 1008.9h0M1425.7 1006.1h0M1427.1 1001.3h0M1427.3 1005.6h0M1426.7 1000.9h0M1427.0 1002.8h0M1430.0 1002.6h0M1430.5 1005.4h0M1431.6 984.0h0M1432.0 985.3h0M1432.4 986.1h0M1433.9 951.2h0M1435.3 930.4h0M1434.7 929.7h0M1435.8 907.4h0M1438.1 881.2h0M1438.5 877.6h0M1439.6 865.0h0M1441.2 861.2h0M1440.7 856.2h0M1440.6 861.7h0M1441.7 860.8h0M1444.9 856.6h0M1447.1 864.3h0M1448.1 872.5h0M1447.5 864.8h0M1450.0 901.1h0M1450.7 929.0h0M1450.9 927.2h0M1450.6 924.9h0M1451.9 947.6h0M1452.7 969.1h0M1453.0 965.1h0M1453.9 988.2h0M1454.5 990.4h0M1457.3 987.0h0M1459.9 987.9h0M1462.1 993.5h0M1464.1 996.1h0M1464.4 994.8h0M1463.7 995.9h0M856.4 703.0h0M856.4 715.5h0M856.4 743.5h0M856.4 756.5h0M849.4 790.6h0M849.4 797.4h0M856.4 803.3h0M856.4 809.4h0M849.4 814.5h0M849.4 828.5h0M849.4 831.0h0M855.8 827.7h0M855.8 833.0h0M855.8 839.6h0M849.4 841.3h0M858.0 846.0h0M862.0 848.0h0M866.0 850.7h0M909.3 859.0h0M909.3 866.0h0M909.3 874.6h0M869.5 868.6h0M869.5 873.8h0M122.7 798.5h0M122.4 803.2h0M123.3 808.1h0M122.7 813.1h0M123.0 820.4h0M122.9 829.0h0M123.1 834.9h0M123.5 839.7h0M122.7 845.3h0M122.3 852.6h0M133.0 662.0h0M133.1 672.0h0M132.8 683.8h0M132.2 695.0h0M131.6 704.3h0M133.2 712.9h0M132.3 724.8h0M132.6 740.3h0M132.2 756.6h0M133.1 765.3h0M132.9 773.5h0M133.2 786.0h0M137.3 680.0h0M136.2 687.6h0M137.5 699.9h0M136.9 708.0h0M136.7 716.1h0M136.7 723.4h0M136.5 736.2h0M136.3 751.9h0M136.6 761.4h0M137.4 773.0h0M137.3 784.0h0M147.8 653.2h0M148.6 654.6h0M148.6 655.9h0M147.8 656.8h0M147.9 657.5h0M147.8 658.3h0M148.5 659.1h0M148.9 670.7h0M147.8 708.6h0M147.9 709.9h0M148.1 710.6h0M147.7 711.7h0M148.2 739.6h0M148.2 749.0h0M148.2 755.8h0M149.0 760.6h0M148.8 770.6h0M148.3 777.3h0M148.6 783.5h0M148.1 791.8h0M131.4 730.0h0M131.5 737.2h0M130.6 748.0h0M131.4 755.8h0M130.9 761.9h0M130.6 775.1h0M141.7 740.0h0M141.5 753.9h0M141.7 764.7h0M141.6 773.0h0M141.3 782.7h0M140.7 794.2h0M180.7 817.0h0M180.8 825.9h0M180.3 831.9h0M180.3 840.3h0M180.8 847.5h0M183.0 835.0h0M183.0 843.4h0M183.8 851.6h0M198.2 630.7h0M198.2 638.0h0M197.4 646.2h0M197.7 652.5h0M197.3 657.9h0M198.0 668.7h0M198.1 675.5h0M197.1 684.5h0M198.0 696.0h0M197.6 705.1h0M197.8 715.6h0M198.0 727.2h0M196.8 734.2h0M197.3 740.4h0M198.3 773.0h0M197.4 778.9h0M198.3 785.5h0M197.3 792.2h0M198.4 799.9h0M192.8 740.0h0M192.9 746.8h0M192.4 753.2h0M193.6 762.3h0M192.9 773.3h0M192.5 786.5h0M192.6 793.9h0M210.9 597.3h0M210.8 603.0h0M210.3 611.6h0M210.9 627.0h0M209.8 637.3h0M209.9 644.0h0M209.5 670.0h0M210.3 677.2h0M210.7 684.4h0M210.4 710.5h0M210.4 718.7h0M209.8 725.5h0M209.6 733.4h0M210.0 743.0h0M210.7 747.0h0M210.2 750.7h0M210.2 756.9h0M209.7 763.5h0M209.9 767.3h0M210.4 771.9h0M210.4 775.8h0M217.5 636.3h0M216.6 649.6h0M217.7 661.7h0M216.7 675.2h0M217.7 681.9h0M216.8 693.8h0M217.6 700.0h0M217.7 708.1h0M217.0 716.1h0M217.0 720.7h0M216.8 728.8h0M216.7 734.1h0M218.0 741.5h0M216.5 750.3h0M217.6 756.8h0M217.8 761.6h0M217.2 767.3h0M217.9 776.5h0M223.5 690.0h0M223.5 701.1h0M222.8 711.5h0M222.3 718.5h0M222.7 726.2h0M223.7 732.1h0M223.5 743.3h0M222.4 750.2h0M222.3 758.1h0M223.2 765.4h0M231.1 644.8h0M231.9 652.0h0M231.9 657.0h0M231.5 666.2h0M230.6 676.0h0M231.1 687.0h0M231.4 694.7h0M231.0 717.0h0M232.2 723.4h0M231.6 728.2h0M231.5 732.7h0M231.5 738.6h0M230.9 742.4h0M230.9 750.8h0M232.2 756.0h0M231.5 761.0h0M230.6 766.9h0M238.0 747.0h0M238.8 755.7h0M238.1 759.7h0M237.4 765.1h0M237.3 773.7h0M237.6 780.0h0M227.5 710.0h0M227.9 721.0h0M228.5 727.2h0M228.4 733.0h0M228.5 739.6h0M228.2 746.2h0M228.0 755.9h0M228.1 766.9h0M246.5 839.6h0M246.4 846.9h0M245.8 853.3h0M246.9 858.3h0M257.5 808.0h0M257.2 814.6h0M257.3 817.7h0M257.3 821.6h0M257.6 825.9h0M260.6 815.0h0M260.7 821.7h0M260.4 829.2h0M267.4 850.0h0M267.6 857.0h0M268.7 865.1h0M267.6 870.0h0M268.5 879.2h0M267.8 886.8h0M751.3 813.9h0M751.9 821.5h0M751.0 825.8h0M750.2 835.0h0M749.3 841.4h0M749.4 844.4h0M750.3 849.4h0M893.8 860.0h0M894.6 865.9h0M894.6 873.6h0M894.3 878.7h0M906.6 859.0h0M907.7 863.9h0M906.7 868.7h0M907.6 872.9h0M906.6 879.8h0M906.9 885.8h0M907.4 889.5h0M919.8 895.0h0M919.7 902.6h0M920.6 910.3h0M919.9 917.7h0M919.7 926.3h0M949.2 913.0h0M949.6 919.5h0M948.7 923.7h0M992.7 921.0h0M993.3 928.2h0M1013.5 963.0h0M1011.9 967.1h0M1012.9 973.7h0M1012.2 982.0h0M1025.3 954.0h0M1024.2 960.7h0M1024.5 968.6h0M1056.4 967.6h0M1055.5 970.0h0M1153.1 987.9h0M1153.9 993.3h0M1223.7 972.9h0M1222.3 979.1h0M1273.8 942.9h0M1272.8 947.6h0M1273.4 951.8h0M1274.2 956.0h0M1273.0 959.7h0M1313.2 936.0h0M1312.4 942.7h0M1313.4 947.5h0M1321.8 921.0h0M1322.7 928.5h0M1322.2 932.9h0M1322.5 938.1h0M1369.2 871.7h0M1369.2 876.2h0M1370.0 881.4h0M1369.1 887.2h0M1370.3 892.7h0M1369.5 898.2h0M1369.6 904.8h0M1369.0 911.3h0M1369.7 914.7h0M1369.3 918.1h0M1370.2 925.3h0M1369.2 929.7h0M1370.1 935.9h0M1369.9 939.7h0M1369.1 945.6h0M1369.0 949.1h0M1369.5 955.9h0M1441.1 626.6h0M1441.4 639.6h0M1441.6 651.6h0M1441.1 661.6h0M1442.5 671.5h0M1442.5 687.4h0M1443.0 700.0h0M1442.7 709.3h0M1443.2 719.3h0M1442.6 728.4h0M1443.1 738.5h0M1441.7 747.1h0M1442.3 756.3h0M1438.3 760.0h0M1439.7 765.4h0M1439.5 770.9h0M1438.7 774.7h0M1439.3 782.0h0M1438.7 788.3h0M1438.7 794.3h0M1438.5 798.2h0M1438.3 802.0h0M1439.6 806.7h0M1438.8 812.2h0M1439.7 818.0h0M1439.7 822.2h0M1438.8 829.6h0M1439.3 832.9h0M1438.8 840.1h0M1438.6 844.5h0M1439.3 848.0h0M1439.7 852.3h0M1438.4 857.2h0M1439.8 863.2h0M1439.8 866.7h0M1446.4 760.0h0M1446.1 767.3h0M1445.4 772.7h0M1446.1 777.5h0M1445.9 781.7h0M1446.5 786.4h0M1446.6 791.0h0M1446.2 795.0h0M1445.7 800.3h0M1446.8 806.8h0M1446.5 810.3h0M1445.8 813.7h0M1446.7 821.0h0M1445.8 828.1h0M1446.8 834.5h0M1446.5 837.8h0M1446.7 844.0h0M1446.2 849.0h0M1446.0 855.5h0M1445.5 861.7h0M1445.6 864.9h0M1452.9 860.0h0M1453.8 867.0h0M1453.1 874.1h0M1453.2 878.4h0M1453.4 884.9h0M1452.3 888.0h0M1452.6 891.2h0M1452.8 896.0h0M1453.4 902.4h0M1452.8 906.6h0M1453.3 913.7h0M1452.7 916.8h0M1453.1 923.5h0M1452.9 927.4h0M1452.5 933.5h0M1453.5 937.6h0M1452.9 942.3h0M1453.7 949.8h0M1432.2 880.0h0M1433.8 883.8h0M1432.6 889.9h0M1433.6 897.0h0M1432.2 903.2h0M1432.6 908.6h0M1432.8 912.7h0M1433.6 917.5h0M1432.5 922.2h0M1432.9 925.9h0M1433.5 930.2h0M1433.4 936.0h0M1433.1 939.8h0" stroke="#1f77b4" stroke-width="5.6" stroke-linecap="round" fill="none"/>
<path d="M116.5,942.0 L118.5,957.4 L120.5,970.7 L123.0,924.0 L124.5,942.7 L126.0,968.5 L127.8,961.7 L129.5,961.8 L131.7,868.7 L134.0,937.4 L135.7,896.2 L137.3,851.0 L139.5,873.0 L141.7,921.9 L143.3,929.4 L145.0,950.7 L146.7,915.9 L148.4,882.0 L150.6,908.6 L152.8,888.6 L155.0,979.6 L157.2,992.9 L159.5,979.6 L161.7,1004.0 L163.2,1002.0 L164.6,1016.9 L166.1,1018.4 L167.6,1014.9 L169.0,1014.3 L170.5,1006.2 L172.1,988.4 L173.9,1006.2 L175.6,975.8 L177.2,948.5 L178.8,948.6 L180.5,946.3 L182.7,961.8 L185.0,941.9 L186.0,988.4 L187.7,967.6 L189.4,948.5 L191.6,935.2 L193.2,910.8 L194.9,890.9 L196.2,863.0 L197.6,834.3 L199.1,886.5 L200.5,946.3 L202.2,956.3 L203.8,968.5 L206.0,990.6 L207.3,934.3 L208.7,874.0 L210.0,815.5 L211.3,874.1 L212.7,935.2 L214.2,926.2 L215.6,904.3 L217.1,888.6 L218.8,893.5 L220.4,902.0 L222.6,895.3 L224.9,972.9 L226.3,940.7 L227.7,905.9 L229.0,873.6 L230.4,842.1 L232.1,876.5 L233.7,913.0 L235.6,900.2 L237.5,875.3 L238.9,910.9 L240.4,946.3 L242.6,970.7 L244.2,960.1 L245.9,948.5 L248.1,988.4 L249.8,992.7 L251.5,992.9 L252.8,981.7 L254.1,957.6 L255.5,939.1 L256.8,931.1 L258.1,906.4 L259.8,922.0 L261.5,946.3 L263.1,961.8 L264.8,979.6 L266.3,977.9 L267.7,979.1 L269.2,968.5 L270.7,973.0 L272.1,976.0 L273.6,990.6 L275.1,995.6 L276.6,995.0 L278.1,999.5 L279.6,1000.2 L281.1,1004.6 L282.6,1005.7 L284.0,1007.8 L285.5,1007.5 L287.0,1010.6 L288.5,1013.7 L289.9,1013.6 L291.4,1008.5 L292.9,1006.3 L294.3,1009.1 L295.8,1006.2 L297.1,1006.7 L298.5,1001.3 L299.8,1002.1 L301.2,1005.7 L302.5,1001.7 L303.8,998.3 L305.1,994.5 L306.4,993.0 L307.7,989.2 L309.0,986.2 L311.0,976.0 L312.3,994.4 L313.6,1012.8 L315.0,1009.4 L316.3,1019.2 L317.7,1020.0 L319.1,1020.6 L320.4,1020.1 L321.8,1022.3 L323.1,1022.1 L324.5,1022.3 L325.8,1023.7 L327.2,1025.3 L328.5,1024.2 L329.9,1025.6 L331.2,1026.6 L332.6,1024.2 L333.9,1025.1 L335.3,1026.0 L336.7,1026.5 L338.0,1024.1 L339.4,1025.2 L340.7,1026.4 L342.1,1026.0 L343.5,1025.4 L344.8,1022.9 L346.2,1026.6 L347.6,1024.8 L348.9,1024.8 L350.3,1024.3 L351.6,1022.1 L353.0,1023.5 L354.4,1022.1 L355.9,1022.2 L357.3,1024.9 L358.8,1022.3 L360.2,1022.7 L361.6,1022.5 L363.1,1023.1 L364.5,1022.5 L365.9,1023.2 L367.2,1023.3 L368.6,1022.2 L370.0,1020.8 L371.3,1024.0 L372.7,1024.4 L374.0,1025.5 L375.4,1024.6 L376.8,1024.4 L378.1,1025.6 L379.5,1025.5 L380.9,1024.3 L382.3,1025.0 L383.8,1025.3 L385.2,1026.7 L386.6,1028.5 L388.0,1026.9 L389.4,1027.6 L390.8,1028.0 L392.2,1027.3 L393.5,1027.3 L394.9,1026.7 L396.3,1026.9 L397.7,1025.0 L399.1,1026.2 L400.5,1026.2 L401.8,1028.1 L403.2,1028.0 L404.6,1028.5 L406.0,1027.5 L407.4,1029.0 L408.7,1027.4 L410.1,1028.7 L411.4,1029.6 L412.8,1027.9 L414.1,1028.9 L415.5,1027.9 L416.8,1026.7 L418.2,1028.3 L419.5,1027.5 L420.9,1028.4 L422.2,1028.0 L423.6,1028.5 L425.0,1028.7 L426.3,1026.5 L427.7,1030.3 L429.0,1029.6 L430.4,1028.0 L431.8,1027.5 L433.1,1028.2 L434.5,1028.8 L435.9,1028.5 L437.2,1028.5 L438.6,1026.3 L439.9,1027.0 L441.3,1028.0 L442.7,1029.0 L444.1,1027.8 L445.5,1026.1 L446.9,1026.5 L448.3,1025.8 L449.7,1026.0 L451.1,1027.8 L452.5,1026.5 L454.5,1021.5 L456.5,1026.5 L457.8,1026.3 L459.2,1027.6 L460.5,1026.8 L461.9,1025.2 L463.2,1026.0 L464.5,1028.7 L465.9,1026.0 L467.2,1025.8 L468.6,1027.9 L469.9,1026.8 L471.2,1026.8 L472.6,1028.2 L473.9,1025.2 L475.3,1027.3 L476.6,1026.9 L477.9,1025.8 L479.2,1025.4 L480.6,1025.8 L481.9,1027.5 L483.2,1026.2 L484.6,1024.5 L485.9,1025.1 L487.2,1027.4 L488.5,1026.8 L489.9,1024.8 L491.2,1027.9 L492.5,1025.2 L493.8,1024.3 L495.2,1025.2 L496.5,1026.1 L497.8,1025.1 L499.2,1026.7 L500.6,1026.3 L502.1,1025.1 L503.5,1025.1 L504.9,1024.5 L506.3,1025.9 L507.7,1025.5 L509.2,1026.4 L510.6,1025.2 L512.0,1026.5 L513.4,1026.2 L514.7,1026.0 L516.1,1025.9 L517.4,1026.1 L518.8,1026.4 L520.1,1026.4 L521.5,1028.2 L522.8,1027.9 L524.2,1026.8 L525.5,1028.7 L526.9,1028.6 L528.2,1029.9 L529.6,1028.7 L531.0,1028.5 L532.3,1028.4 L533.7,1027.9 L535.0,1028.6 L536.4,1028.9 L537.8,1028.5 L539.1,1028.0 L540.5,1028.7 L541.8,1028.2 L543.2,1028.3 L544.6,1027.2 L545.9,1028.2 L547.3,1027.0 L548.6,1027.1 L550.0,1027.8 L551.4,1027.5 L552.8,1028.8 L554.2,1027.4 L555.5,1026.0 L556.9,1025.4 L558.3,1026.0 L559.7,1025.9 L561.1,1025.3 L562.5,1023.6 L563.9,1023.5 L565.2,1022.5 L566.6,1022.1 L568.0,1021.2 L569.4,1021.5 L570.7,1021.9 L572.0,1020.7 L573.4,1022.2 L574.7,1024.3 L576.0,1023.6 L577.3,1025.6 L578.7,1024.5 L580.0,1026.0 L581.3,1027.3 L582.6,1026.5 L584.0,1027.4 L585.3,1028.7 L586.7,1030.7 L588.0,1027.5 L589.4,1027.2 L590.7,1027.1 L592.1,1027.3 L593.5,1027.0 L594.8,1027.7 L596.2,1027.2 L597.6,1025.8 L598.9,1025.6 L600.3,1024.4 L601.6,1024.0 L603.0,1025.1 L604.3,1024.6 L605.6,1026.1 L606.9,1025.7 L608.2,1026.5 L609.5,1026.8 L610.8,1025.9 L612.2,1028.2 L613.5,1025.9 L614.8,1026.0 L616.1,1026.3 L617.4,1027.9 L618.7,1026.9 L620.0,1026.5 L621.3,1027.8 L622.6,1028.6 L623.9,1027.6 L625.2,1027.6 L626.5,1029.0 L627.8,1029.1 L629.1,1029.2 L630.5,1027.8 L631.8,1028.9 L633.1,1029.2 L634.4,1027.4 L635.7,1030.3 L637.0,1029.4 L638.3,1029.5 L639.6,1029.2 L641.0,1031.5 L642.3,1029.5 L643.6,1028.7 L645.0,1029.3 L646.3,1029.8 L647.6,1030.0 L649.0,1029.2 L650.3,1028.4 L651.6,1028.6 L653.0,1028.4 L654.3,1028.2 L655.6,1029.1 L657.0,1028.6 L658.3,1029.1 L659.7,1028.2 L661.0,1028.2 L662.3,1028.8 L663.7,1028.6 L665.0,1029.9 L666.3,1028.0 L667.7,1029.0 L669.0,1028.8 L670.3,1027.6 L671.7,1029.4 L673.0,1028.7 L674.3,1028.8 L675.6,1026.6 L676.9,1029.0 L678.2,1029.3 L679.6,1027.6 L680.9,1029.8 L682.2,1028.3 L683.5,1027.0 L684.8,1028.5 L686.1,1027.6 L687.4,1026.6 L688.8,1025.8 L690.1,1028.0 L691.4,1027.0 L692.7,1028.2 L694.0,1027.5 L695.4,1028.2 L696.7,1027.7 L698.1,1028.0 L699.5,1030.5 L700.8,1030.8 L702.2,1030.3 L703.5,1029.6 L704.9,1029.4 L706.3,1030.3 L707.6,1032.5 L709.0,1031.3 L710.3,1031.7 L711.7,1031.0 L713.0,1030.2 L714.3,1031.5 L715.7,1030.5 L717.0,1031.3 L718.3,1032.0 L719.7,1032.3 L721.0,1031.4 L722.3,1031.0 L723.7,1031.5 L725.0,1033.0 L726.3,1031.6 L727.7,1030.0 L729.0,1032.7 L730.3,1031.5 L731.7,1034.5 L733.0,1030.9 L734.3,1031.2 L735.7,1031.0 L737.0,1031.3 L738.4,1028.1 L739.8,1023.8 L741.1,1018.1 L742.5,1017.3 L744.2,996.8 L746.0,983.4 L747.5,945.0 L749.5,963.0 L750.6,922.4 L752.8,960.8 L754.5,971.9 L756.2,983.4 L758.5,1010.5 L759.9,1011.8 L761.4,1013.9 L762.8,1021.1 L764.2,1019.5 L765.7,1020.6 L767.1,1020.8 L768.6,1017.5 L770.1,1018.6 L771.5,1017.3 L773.0,1017.3 L774.5,1017.7 L776.0,1020.1 L777.5,1019.5 L778.9,1016.7 L780.3,1012.2 L781.7,1007.9 L783.1,1003.7 L784.8,1007.9 L786.5,1017.3 L787.9,1012.3 L789.2,1010.8 L790.6,1005.8 L791.9,1001.4 L793.3,999.2 L794.8,1006.6 L796.3,1011.0 L797.8,1019.5 L799.3,1013.0 L800.8,1010.6 L802.3,1003.7 L803.7,1005.3 L805.1,1010.9 L806.6,1011.5 L808.0,1012.8 L809.4,1010.3 L810.8,1007.0 L812.2,997.0 L813.6,997.0 L815.3,1010.4 L817.0,1024.0 L818.3,1021.6 L819.7,1023.2 L821.0,1023.8 L822.3,1026.3 L823.7,1023.9 L825.0,1024.0 L826.5,1027.4 L828.0,1023.8 L829.5,1025.0 L831.0,1025.7 L832.5,1027.6 L834.0,1026.3 L835.5,1025.5 L837.0,1023.7 L838.5,1023.4 L840.0,1020.7 L841.5,1024.8 L843.0,1021.8 L844.5,990.8 L846.0,957.8 L847.5,924.6 L849.0,941.7 L850.5,956.7 L852.0,974.4 L853.5,952.5 L855.1,933.6 L856.6,911.0 L858.3,941.3 L860.0,974.4 L861.6,963.9 L863.3,956.3 L864.8,964.4 L866.4,969.6 L867.9,972.0 L870.1,956.3 L872.4,992.4 L873.9,988.4 L875.4,984.4 L876.9,978.9 L878.4,985.3 L879.9,993.6 L881.4,997.0 L882.8,989.0 L884.1,982.7 L885.5,976.2 L886.8,970.7 L888.2,960.8 L889.7,967.9 L891.2,976.3 L892.7,983.4 L894.2,973.5 L895.7,964.1 L897.2,956.3 L898.7,961.9 L900.2,970.0 L901.7,976.6 L903.4,968.1 L905.1,956.3 L906.5,961.8 L908.0,968.8 L909.4,975.9 L910.8,983.4 L912.3,979.5 L913.8,975.6 L915.3,969.8 L916.8,975.8 L918.3,987.0 L919.8,994.7 L921.3,982.3 L922.8,974.9 L924.3,963.0 L926.1,982.8 L928.0,1006.0 L930.0,997.0 L931.8,996.1 L933.6,999.2 L935.1,999.0 L936.6,1001.4 L938.1,1000.8 L939.6,1004.1 L941.1,1005.1 L942.6,1006.0 L944.1,997.1 L945.6,988.4 L947.1,978.9 L948.8,980.5 L950.5,978.9 L952.2,985.5 L953.9,994.7 L955.3,998.1 L956.7,1001.4 L958.1,1001.1 L959.5,1008.2 L960.8,1010.4 L962.2,1009.8 L963.5,1011.5 L964.8,1013.5 L966.2,1016.0 L967.5,1017.3 L968.8,1015.6 L970.2,1013.7 L971.5,1009.3 L972.9,1009.5 L974.2,1006.0 L976.5,1015.0 L977.9,1013.1 L979.2,1008.9 L980.6,1006.9 L981.9,1005.7 L983.3,1001.5 L984.8,1004.5 L986.3,1007.2 L987.8,1008.2 L989.5,997.9 L991.1,989.2 L992.8,976.6 L994.1,990.8 L995.4,997.8 L996.7,1004.2 L998.0,1017.3 L999.3,1018.9 L1000.6,1013.6 L1002.0,1011.1 L1003.3,1008.4 L1004.6,1010.2 L1005.9,1008.2 L1007.4,1013.3 L1008.9,1016.9 L1010.4,1019.5 L1011.9,1015.3 L1013.4,1013.7 L1014.9,1008.2 L1016.4,1013.4 L1017.9,1018.0 L1019.4,1024.0 L1020.7,1020.7 L1022.0,1017.5 L1023.3,1013.9 L1024.7,1010.9 L1026.0,1004.5 L1027.3,1003.7 L1028.7,1009.5 L1030.2,1010.9 L1031.6,1016.3 L1033.0,1019.5 L1034.4,1019.0 L1035.7,1020.6 L1037.1,1020.6 L1038.4,1019.4 L1039.8,1022.2 L1041.2,1023.0 L1042.5,1021.3 L1043.9,1020.6 L1045.2,1022.8 L1046.6,1024.0 L1048.1,1018.9 L1049.6,1015.9 L1051.1,1011.6 L1052.6,1009.4 L1054.1,1004.1 L1055.6,999.2 L1057.1,1005.7 L1058.6,1012.9 L1060.1,1019.5 L1061.6,1014.5 L1063.1,1015.4 L1064.6,1015.0 L1066.0,1014.8 L1067.3,1016.7 L1068.7,1018.1 L1070.0,1018.9 L1071.4,1020.6 L1072.8,1019.6 L1074.1,1021.7 L1075.5,1022.0 L1076.8,1023.1 L1078.2,1024.0 L1079.6,1023.7 L1080.9,1022.3 L1082.3,1022.2 L1083.6,1021.3 L1085.0,1021.9 L1086.4,1019.8 L1087.7,1019.7 L1089.1,1021.8 L1090.4,1018.7 L1091.8,1017.3 L1093.3,1018.7 L1094.8,1020.1 L1096.3,1018.3 L1097.8,1021.2 L1099.3,1021.9 L1100.8,1021.8 L1102.2,1022.0 L1103.6,1022.4 L1105.0,1021.9 L1106.4,1022.1 L1107.8,1019.6 L1109.2,1020.6 L1110.6,1019.1 L1112.0,1019.5 L1113.5,1020.7 L1115.0,1019.1 L1116.5,1017.1 L1118.0,1018.6 L1119.5,1017.0 L1121.0,1017.9 L1122.6,1023.0 L1124.2,1025.7 L1125.6,1024.9 L1126.9,1022.2 L1128.3,1023.9 L1129.6,1025.2 L1131.0,1023.9 L1132.3,1022.3 L1133.7,1022.6 L1135.0,1022.6 L1136.3,1021.7 L1137.7,1022.0 L1139.0,1020.5 L1140.3,1019.1 L1141.6,1017.9 L1143.0,1016.2 L1144.3,1016.6 L1145.7,1015.9 L1147.1,1014.7 L1148.5,1014.4 L1149.8,1011.7 L1151.2,1013.0 L1152.6,1011.5 L1154.2,1017.1 L1155.8,1022.6 L1157.1,1023.3 L1158.5,1022.9 L1159.8,1022.9 L1161.2,1023.8 L1162.5,1024.7 L1163.9,1023.6 L1165.2,1024.2 L1166.6,1024.4 L1168.0,1022.9 L1169.4,1024.1 L1170.8,1023.4 L1172.1,1021.7 L1173.5,1024.4 L1174.9,1021.7 L1176.3,1022.6 L1177.7,1023.0 L1179.1,1021.7 L1180.5,1021.6 L1181.9,1024.8 L1183.3,1022.7 L1184.7,1022.2 L1186.1,1024.8 L1187.5,1023.5 L1188.9,1025.7 L1190.3,1024.8 L1191.6,1026.5 L1193.0,1023.2 L1194.3,1023.4 L1195.7,1023.0 L1197.0,1022.0 L1198.4,1021.0 L1200.0,1018.2 L1201.5,1017.5 L1203.1,1013.1 L1204.7,1015.1 L1206.3,1017.7 L1207.9,1019.4 L1209.5,1016.4 L1211.0,1011.6 L1212.6,1010.0 L1214.2,1013.0 L1215.7,1015.3 L1217.3,1017.9 L1218.7,1016.7 L1220.1,1014.8 L1221.5,1013.8 L1222.9,1010.0 L1224.3,1009.6 L1225.7,1013.1 L1227.2,1015.1 L1228.6,1016.5 L1230.0,1019.4 L1231.6,1018.7 L1233.2,1017.0 L1234.7,1016.0 L1236.3,1014.7 L1237.9,1014.9 L1239.4,1017.8 L1241.0,1021.0 L1242.6,1017.8 L1244.2,1014.1 L1245.8,1011.5 L1247.3,1010.0 L1248.9,1010.0 L1250.5,1013.0 L1252.0,1016.3 L1253.6,1011.7 L1255.2,1006.6 L1256.8,1003.6 L1258.4,1005.1 L1259.9,1001.8 L1261.5,1002.1 L1263.1,1005.2 L1264.7,1006.8 L1266.2,1004.9 L1267.6,1002.7 L1269.1,998.2 L1270.5,995.1 L1272.0,994.2 L1273.4,991.0 L1275.3,1000.0 L1277.3,1008.4 L1278.9,1003.2 L1280.5,1003.6 L1282.1,1003.1 L1283.6,1008.2 L1285.2,1011.5 L1286.8,1009.9 L1288.3,1008.8 L1289.9,1008.5 L1291.5,1006.8 L1293.1,998.5 L1294.7,992.6 L1296.3,997.8 L1297.8,997.9 L1299.4,998.9 L1301.0,1003.6 L1302.6,1005.6 L1304.2,1008.4 L1305.8,1003.8 L1307.3,1004.5 L1308.9,1002.1 L1310.3,997.2 L1311.6,994.2 L1313.0,989.4 L1314.4,990.7 L1315.8,993.0 L1317.1,992.6 L1318.5,995.1 L1320.4,992.8 L1322.3,991.3 L1324.2,1000.8 L1326.1,1010.3 L1327.5,1008.5 L1328.9,1007.9 L1330.4,1008.2 L1331.8,1008.8 L1333.2,1005.3 L1334.7,1005.6 L1336.1,1002.3 L1337.5,1002.7 L1338.9,1003.8 L1340.2,1006.3 L1341.6,1008.3 L1342.9,1008.0 L1344.3,1011.6 L1345.6,1012.6 L1347.0,1014.1 L1348.4,1015.4 L1349.8,1014.7 L1351.3,1014.0 L1352.7,1012.7 L1354.1,1013.2 L1355.6,1011.7 L1357.0,1011.5 L1358.4,1012.2 L1359.9,1010.8 L1361.4,1012.2 L1363.0,1013.0 L1364.5,1015.1 L1366.0,1016.0 L1367.9,988.6 L1369.8,960.9 L1371.7,984.0 L1373.6,1010.3 L1375.0,1010.2 L1376.4,1010.8 L1377.7,1011.4 L1379.1,1010.2 L1380.5,1010.6 L1381.9,1009.9 L1383.3,1011.4 L1384.7,1008.5 L1386.0,1010.6 L1387.4,1007.6 L1388.8,1010.3 L1390.2,1013.7 L1391.7,1014.2 L1393.1,1012.1 L1394.5,1015.4 L1395.9,1015.8 L1397.3,1016.8 L1398.8,1019.8 L1400.2,1021.7 L1401.6,1020.3 L1403.0,1022.2 L1404.3,1020.0 L1405.7,1019.0 L1407.1,1019.9 L1408.5,1020.1 L1409.9,1020.2 L1411.3,1019.5 L1412.6,1016.8 L1414.0,1017.3 L1415.4,1017.9 L1416.8,1017.7 L1418.2,1016.9 L1419.5,1018.8 L1420.9,1017.5 L1422.3,1017.8 L1423.7,1017.4 L1425.1,1017.9 L1426.5,1016.1 L1427.8,1020.4 L1429.2,1017.2 L1430.6,1017.9 L1432.5,1008.8 L1434.4,1002.7 L1436.3,968.8 L1438.2,942.0 L1440.1,879.1 L1442.0,816.6 L1443.9,846.2 L1445.8,881.2 L1447.7,930.5 L1449.6,967.2 L1451.5,1002.7 L1452.9,1008.8 L1454.3,1011.5 L1455.8,1013.2 L1457.2,1017.9 L1458.6,1018.9 L1460.1,1014.7 L1461.5,1013.5 L1462.9,1012.2 L1464.3,1012.3 L1465.7,1011.2 L1467.2,1012.9 L1468.6,1009.6 L1470.0,1012.0" fill="none" stroke="#ff7f0e" stroke-width="2.1" stroke-linejoin="round"/>
</g>
<rect x="1047.7" y="584.9" width="405.70000000000005" height="78.2" rx="3" fill="#fff" fill-opacity="0.8" stroke="#cccccc" stroke-width="1.1"/>
<circle cx="1073.5" cy="598.9" r="2.9" fill="#1f77b4"/>
<path d="M1052.9 637.4H1091.6" stroke="#ff7f0e" stroke-width="2.1"/>
<text x="1106.5" y="604.7" font-weight="bold" font-size="17.6" textLength="98" lengthAdjust="spacingAndGlyphs">Raw Data</text>
<text x="1106.5" y="631.5" font-weight="bold" font-size="17.6" textLength="269" lengthAdjust="spacingAndGlyphs">Butterworth Filtered Data</text>
<text x="1106.5" y="652.2" font-weight="bold" font-size="17.6" textLength="338" lengthAdjust="spacingAndGlyphs">(N=6, Tc=3.3333 min, Type: low)</text>
<rect x="116.5" y="575.3" width="1345.8" height="478.79999999999995" fill="none" stroke="#000" stroke-width="1.1"/>
<path d="M116.5 1054.1v4.9M284.8 1054.1v4.9M453.1 1054.1v4.9M621.4 1054.1v4.9M789.7 1054.1v4.9M957.9 1054.1v4.9M1126.2 1054.1v4.9M1294.5 1054.1v4.9M116.5 616.2h-4.9M116.5 700.8h-4.9M116.5 785.4h-4.9M116.5 870.0h-4.9M116.5 954.6h-4.9M116.5 1039.2h-4.9" stroke="#000" stroke-width="1.1" fill="none"/>
<text x="105.0" y="624.0" text-anchor="end" font-weight="bold" font-size="23" textLength="54.8" lengthAdjust="spacingAndGlyphs">0.10</text>
<text x="105.0" y="708.6" text-anchor="end" font-weight="bold" font-size="23" textLength="54.8" lengthAdjust="spacingAndGlyphs">0.08</text>
<text x="105.0" y="793.2" text-anchor="end" font-weight="bold" font-size="23" textLength="54.8" lengthAdjust="spacingAndGlyphs">0.06</text>
<text x="105.0" y="877.8" text-anchor="end" font-weight="bold" font-size="23" textLength="54.8" lengthAdjust="spacingAndGlyphs">0.04</text>
<text x="105.0" y="962.4" text-anchor="end" font-weight="bold" font-size="23" textLength="54.8" lengthAdjust="spacingAndGlyphs">0.02</text>
<text x="105.0" y="1047.0" text-anchor="end" font-weight="bold" font-size="23" textLength="54.8" lengthAdjust="spacingAndGlyphs">0.00</text>
<text transform="translate(61.1,278.0) rotate(-90)" text-anchor="middle" font-weight="bold" font-size="23" textLength="225" lengthAdjust="spacingAndGlyphs">Doppler Shift [Hz]</text>
<text transform="translate(39.9,814.5) rotate(-90)" text-anchor="middle" font-weight="bold" font-size="23" textLength="208" lengthAdjust="spacingAndGlyphs">Peak Voltage [V]</text>
<text transform="translate(113.5,1078.0) rotate(-30)" text-anchor="end" font-weight="bold" font-size="23" textLength="111" lengthAdjust="spacingAndGlyphs">09-06 00</text>
<text transform="translate(281.8,1078.0) rotate(-30)" text-anchor="end" font-weight="bold" font-size="23" textLength="111" lengthAdjust="spacingAndGlyphs">09-06 03</text>
<text transform="translate(450.1,1078.0) rotate(-30)" text-anchor="end" font-weight="bold" font-size="23" textLength="111" lengthAdjust="spacingAndGlyphs">09-06 06</text>
<text transform="translate(618.4,1078.0) rotate(-30)" text-anchor="end" font-weight="bold" font-size="23" textLength="111" lengthAdjust="spacingAndGlyphs">09-06 09</text>
<text transform="translate(786.7,1078.0) rotate(-30)" text-anchor="end" font-weight="bold" font-size="23" textLength="111" lengthAdjust="spacingAndGlyphs">09-06 12</text>
<text transform="translate(954.9,1078.0) rotate(-30)" text-anchor="end" font-weight="bold" font-size="23" textLength="111" lengthAdjust="spacingAndGlyphs">09-06 15</text>
<text transform="translate(1123.2,1078.0) rotate(-30)" text-anchor="end" font-weight="bold" font-size="23" textLength="111" lengthAdjust="spacingAndGlyphs">09-06 18</text>
<text transform="translate(1291.5,1078.0) rotate(-30)" text-anchor="end" font-weight="bold" font-size="23" textLength="111" lengthAdjust="spacingAndGlyphs">09-06 21</text>
<text x="789.4" y="1157.7" text-anchor="middle" font-weight="bold" font-size="23" textLength="47" lengthAdjust="spacingAndGlyphs">UTC</text>
</svg></body></html>
